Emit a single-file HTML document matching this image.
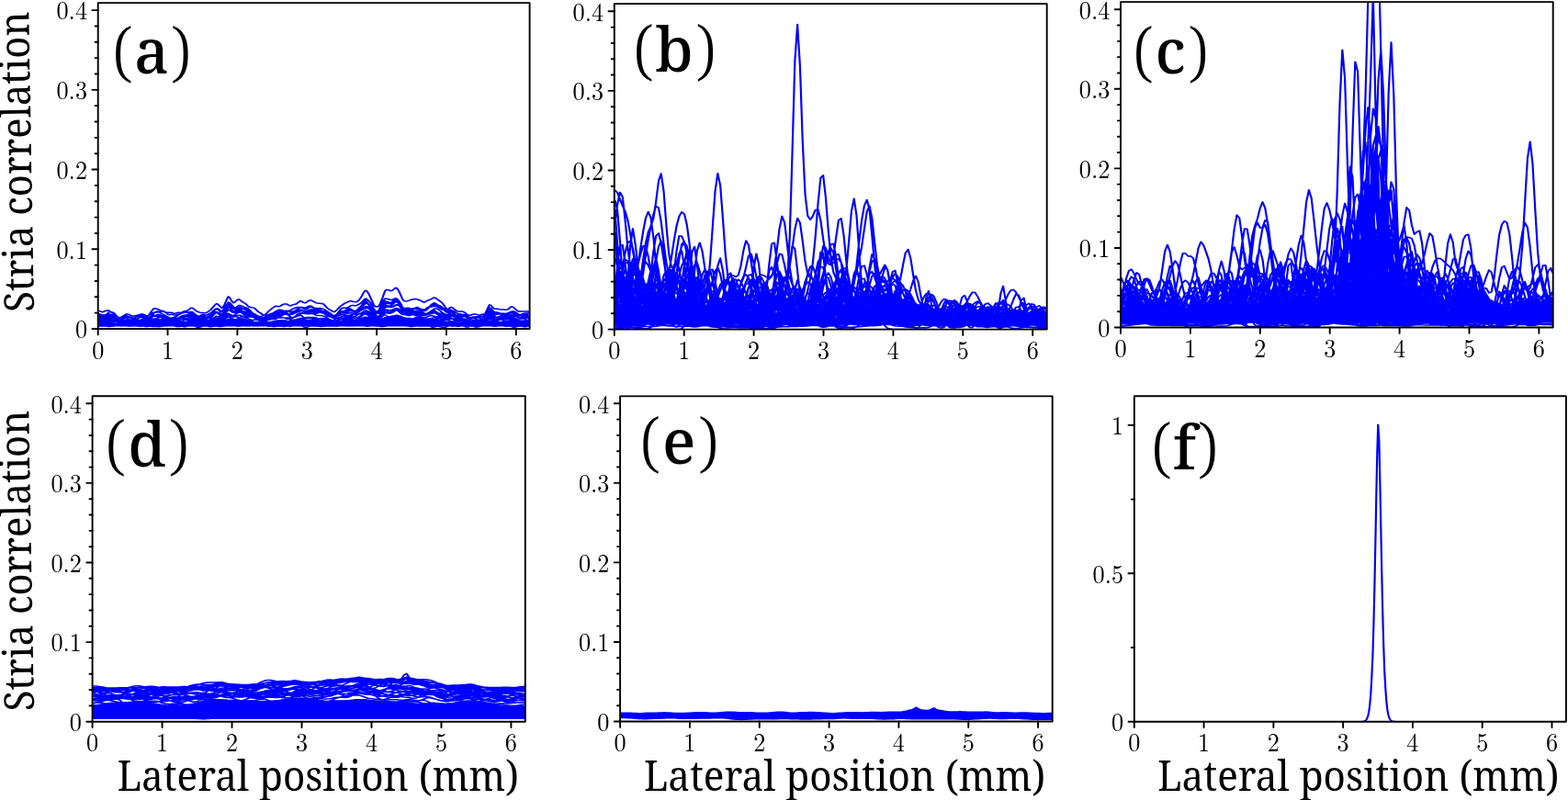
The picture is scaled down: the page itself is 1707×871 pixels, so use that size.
<!DOCTYPE html>
<html><head><meta charset="utf-8"><title>Stria correlation vs lateral position</title>
<style>html,body{margin:0;padding:0;background:#fff;}svg{display:block;}</style></head>
<body><svg width="1707" height="871" viewBox="0 0 1707 871">
<rect width="1707" height="871" fill="#fff"/>
<defs><clipPath id="clipa"><rect x="106.70" y="3.10" width="469.90" height="354.90"/></clipPath><clipPath id="clipb"><rect x="668.80" y="4.10" width="470.90" height="354.50"/></clipPath><clipPath id="clipc"><rect x="1220.00" y="2.10" width="470.70" height="354.40"/></clipPath><clipPath id="clipd"><rect x="100.60" y="431.20" width="471.20" height="354.50"/></clipPath><clipPath id="clipe"><rect x="675.10" y="431.40" width="470.60" height="354.10"/></clipPath><clipPath id="clipf"><rect x="1234.80" y="431.20" width="470.10" height="354.50"/></clipPath></defs>
<g clip-path="url(#clipa)">
<path fill="#00f" d="M107.2 350.5l1.4.2 1.4.2 1.4.2 1.4-.1 1.4-.1 1.4-.2 1.4-.1 1.4-.1 1.4 0 1.4.3 1.4.2 1.4.3 1.4.3 1.4.4 1.4.3 1.4 0 1.4-.2 1.4-.2 1.4-.2 1.4-.2 1.4-.2 1.4 0 1.4.1 1.4.1 1.4.2 1.4.1 1.4.1 1.4.1 1.4 0 1.4 0 1.4-.1 1.4-.1 1.4-.2 1.4-.1 1.4.1 1.4.2 1.4.2 1.4.1 1.4-.2 1.4-.4 1.4-.4 1.4-.4 1.4-.2 1.4-.1 1.4 0 1.4.1 1.4 0 1.4 0 1.4.1 1.4.1 1.4.2 1.4.3 1.4.2 1.4.3 1.4.1 1.4 0 1.4-.2 1.4-.1 1.4-.1 1.4-.1 1.4-.1 1.4-.2 1.4-.1 1.4-.1 1.4-.2 1.4-.1 1.4-.1 1.4-.1 1.4-.1 1.4-.1 1.4-.1 1.4-.1 1.4 0 1.4.2 1.4.2 1.4.3 1.4.2 1.4.1 1.4.1 1.4.1 1.4.1 1.4.1 1.4 0 1.4-.1 1.4-.2 1.4-.2 1.4-.2 1.4-.5 1.4-.4 1.4-.5 1.4-.4 1.4-.2 1.4.3 1.4.5 1.4.4 1.4.2 1.4-.5 1.4-.8 1.4-.8 1.4-.8 1.4-.6 1.4.3 1.4.4 1.4.5 1.4.4 1.4 0 1.4-.2 1.4-.3 1.4-.2 1.4.1 1.4.3 1.4.2 1.4.2 1.4.3 1.4.2 1.4.2 1.4.3 1.4.2 1.4.3 1.4.2 1.4.2 1.4.2 1.4.2 1.4.2 1.4.2 1.4.2 1.4.2 1.4.1 1.4-.1 1.4-.2 1.4-.3 1.4-.2 1.4-.3 1.4-.2 1.4-.2 1.4-.2 1.4-.1 1.4-.1 1.4-.1 1.4-.1 1.4-.1 1.4-.1 1.4-.1 1.4-.1 1.4-.1 1.4.1 1.4.1 1.4.2 1.4.1 1.4-.1 1.4-.1 1.4-.2 1.4-.2 1.4-.2 1.4-.2 1.4-.2 1.4-.1 1.4 0 1.4.1 1.4.1 1.4.1 1.4-.1 1.4-.1 1.4-.2 1.4-.1 1.4.1 1.4.2 1.4.2 1.4.1 1.4 0 1.4 0 1.4 0 1.4 0 1.4.2 1.4.1 1.4.1 1.4.3 1.4.3 1.4.3 1.4.3 1.4.3 1.4.3 1.4.2 1.4-.1 1.4-.4 1.4-.5 1.4-.4 1.4-.4 1.4-.2 1.4-.2 1.4-.1 1.4-.1 1.4-.1 1.4-.1 1.4-.2 1.4 0 1.4 0 1.4.1 1.4.1 1.4 0 1.4-.1 1.4-.3 1.4-.4 1.4-.5 1.4-.5 1.4-.6 1.4-.5 1.4-.2 1.4.2 1.4.5 1.4.7 1.4.8 1.4.9 1.4.9 1.4.5 1.4.1 1.4-.1 1.4-.2 1.4-.8 1.4-1 1.4-1 1.4-.9 1.4-.7 1.4 0 1.4.1 1.4.1 1.4.1 1.4-.2 1.4-.3 1.4-.4 1.4-.2 1.4.1 1.4.3 1.4.5 1.4.8 1.4.8 1.4.7 1.4.1 1.4 0 1.4 0 1.4 0 1.4 0 1.4 0 1.4 0 1.4-.1 1.4 0 1.4 0 1.4.1 1.4.2 1.4.2 1.4.2 1.4.2 1.4.1 1.4-.1 1.4-.2 1.4-.2 1.4-.2 1.4-.3 1.4-.2 1.4-.2 1.4-.1 1.4.2 1.4.2 1.4.2 1.4.2 1.4.2 1.4.4 1.4.4 1.4.4 1.4.4 1.4.3 1.4-.1 1.4-.2 1.4-.2 1.4.1 1.4.2 1.4.4 1.4.2 1.4.2 1.4.1 1.4.1 1.4 0 1.4.1 1.4.1 1.4.2 1.4.2 1.4.2 1.4.2 1.4.1 1.4 0 1.4-.1 1.4-.1 1.4 0 1.4-.1 1.4 0 1.4 0 1.4 0 1.4 0 1.4 0 1.4-.1 1.4-.5 1.4-.8 1.4-.8 1.4-.6 1.4.2 1.4.5 1.4.5 1.4.4 1.4.1 1.4 0 1.4 0 1.4 0 1.4 0 1.4 0 1.4 0 1.4 0 1.4 0 1.4 0 1.4-.2 1.4-.3 1.4-.2 1.4 0 1.4.2 1.4.3 1.4.2 1.4.3 1.4 0 1.4-.1 1.4-.2 1.4-.1 1.4 0 1.4.2 1.4.2 1.4.2 1.4.2 0 4.6-1.4 0-1.4 0-1.4 0-1.4 0-1.4 0-1.4 0-1.4 0-1.4 0-1.4 0-1.4 0-1.4 0-1.4 0-1.4 0-1.4 0-1.4 0-1.4 0-1.4 0-1.4 0-1.4 0-1.4 0-1.4 0-1.4 0-1.4 0-1.4 0-1.4 0-1.4 0-1.4 0-1.4 0-1.4 0-1.4 0-1.4 0-1.4 0-1.4 0-1.4 0-1.4 0-1.4 0-1.4 0-1.4 0-1.4 0-1.4 0-1.4 0-1.4 0-1.4 0-1.4 0-1.4 0-1.4 0-1.4 0-1.4 0-1.4 0-1.4 0-1.4 0-1.4 0-1.4 0-1.4 0-1.4 0-1.4 0-1.4 0-1.4 0-1.4 0-1.4 0-1.4 0-1.4 0-1.4 0-1.4 0-1.4 0-1.4 0-1.4 0-1.4 0-1.4 0-1.4 0-1.4 0-1.4 0-1.4 0-1.4 0-1.4 0-1.4 0-1.4 0-1.4 0-1.4 0-1.4 0-1.4 0-1.4 0-1.4 0-1.4 0-1.4 0-1.4 0-1.4 0-1.4 0-1.4 0-1.4 0-1.4 0-1.4 0-1.4 0-1.4 0-1.4 0-1.4 0-1.4 0-1.4 0-1.4 0-1.4 0-1.4 0-1.4 0-1.4 0-1.4 0-1.4 0-1.4 0-1.4 0-1.4 0-1.4 0-1.4 0-1.4 0-1.4 0-1.4 0-1.4 0-1.4 0-1.4 0-1.4 0-1.4 0-1.4 0-1.4 0-1.4 0-1.4 0-1.4 0-1.4 0-1.4 0-1.4 0-1.4 0-1.4 0-1.4 0-1.4 0-1.4 0-1.4 0-1.4 0-1.4 0-1.4 0-1.4 0-1.4 0-1.4 0-1.4 0-1.4 0-1.4 0-1.4 0-1.4 0-1.4 0-1.4 0-1.4 0-1.4 0-1.4 0-1.4 0-1.4 0-1.4 0-1.4 0-1.4 0-1.4 0-1.4 0-1.4 0-1.4 0-1.4 0-1.4 0-1.4 0-1.4 0-1.4 0-1.4 0-1.4 0-1.4 0-1.4 0-1.4 0-1.4 0-1.4 0-1.4 0-1.4 0-1.4 0-1.4 0-1.4 0-1.4 0-1.4 0-1.4 0-1.4 0-1.4 0-1.4 0-1.4 0-1.4 0-1.4 0-1.4 0-1.4 0-1.4 0-1.4 0-1.4 0-1.4 0-1.4 0-1.4 0-1.4 0-1.4 0-1.4 0-1.4 0-1.4 0-1.4 0-1.4 0-1.4 0-1.4 0-1.4 0-1.4 0-1.4 0-1.4 0-1.4 0-1.4 0-1.4 0-1.4 0-1.4 0-1.4 0-1.4 0-1.4 0-1.4 0-1.4 0-1.4 0-1.4 0-1.4 0-1.4 0-1.4 0-1.4 0-1.4 0-1.4 0-1.4 0-1.4 0-1.4 0-1.4 0-1.4 0-1.4 0-1.4 0-1.4 0-1.4 0-1.4 0-1.4 0-1.4 0-1.4 0-1.4 0-1.4 0-1.4 0-1.4 0-1.4 0-1.4 0-1.4 0-1.4 0-1.4 0-1.4 0-1.4 0-1.4 0-1.4 0-1.4 0-1.4 0-1.4 0-1.4 0-1.4 0-1.4 0-1.4 0-1.4 0-1.4 0-1.4 0-1.4 0-1.4 0-1.4 0-1.4 0-1.4 0-1.4 0-1.4 0-1.4 0-1.4 0-1.4 0-1.4 0-1.4 0-1.4 0-1.4 0-1.4 0-1.4 0-1.4 0-1.4 0-1.4 0-1.4 0-1.4 0-1.4 0-1.4 0-1.4 0-1.4 0-1.4 0-1.4 0-1.4 0-1.4 0-1.4 0-1.4 0-1.4 0-1.4 0-1.4 0-1.4 0-1.4 0-1.4 0-1.4 0-1.4 0-1.4 0-1.4 0-1.4 0-1.4 0-1.4 0-1.4 0-1.4 0-1.4 0-1.4 0-1.4 0-1.4 0-1.4 0-1.4 0-1.4 0-1.4 0-1.4 0-1.4 0-1.4 0-1.4 0-1.4 0-1.4 0-1.4 0-1.4 0-1.4 0-1.4 0-1.4 0-1.4 0-1.4 0-1.4 0-1.4 0-1.4 0-1.4 0-1.4 0-1.4 0-1.4 0-1.4 0-1.4 0-1.4 0z"/>
<path transform="scale(1.4,1)" fill="none" stroke="#00f" stroke-width="1.55" stroke-linejoin="round" d="M76.6 338.1l1 .6 1 .6 1 .4 1-.4 1-.6 1-.5 1-.3 1 .2 1 .9 1 .8 1 .5 1 .5 1 1.3 1 1.7 1 1.8 1 .6 1-.4 1-.8 1-.8 1-.8 1-1 1-.5 1 .2 1 .6 1 .7 1 .6 1 .1 1-.2 1-.3 1-.1 1-.6 1-.5 1-.3 1-.1 1 .3 1 .6 1 .8 1 .5 1-1 1-1.9 1-2 1-1.9 1-1.4 1-.2 1 .4 1 .6 1 .5 1 .6 1 .3 1 .3 1 .6 1 .8 1 1.2 1 1.1 1 .5 1-.3 1-.1 1 .3 1 .4 1-.1 1-.3 1-.5 1-.5 1-.7 1-.9 1-.8 1-.5 1-.1 1-.4 1-.8 1-1.1 1-1 1-.1 1 1 1 1.3 1 1.1 1 .7 1 .5 1 .4 1 .3 1 0 1 .2 1 .1 1-.4 1-.9 1-.9 1-1.1 1-1.5 1-1.5 1-1.6 1-1.6 1-.7 1 .9 1 1.2 1 1.5 1 1.2 1-1.4 1-2.5 1-3 1-3.4 1-2.2 1 1.2 1 2.4 1 2.1 1 1.1 1-.7 1-1.4 1-1.2 1-.6 1 .8 1 1.1 1 1.1 1 .7 1 .8 1 1.2 1 1.4 1 1.1 1 .6 1 .2 1 .1 1 .5 1 1 1 1.4 1 1.4 1 .9 1 .8 1 1 1 1 1-.1 1-.8 1-1.3 1-1.4 1-1.4 1-1.2 1-1 1-.9 1-1 1-.5 1 .1 1 .3 1-.3 1-.8 1-.8 1-.5 1-.4 1 0 1 .6 1 .8 1 .6 1-.3 1-.7 1-.5 1-.2 1-.5 1-1.1 1-1.2 1-.7 1 .4 1 1 1 .6 1 0 1-.9 1-1 1-.7 1-.2 1 .4 1 .8 1 .7 1 .8 1 .4 1 .3 1 0 1 .1 1 .1 1 .7 1 1.2 1 1.6 1 1.5 1 1.1 1 .8 1 .7 1 .9 1 .7 1-.6 1-1.3 1-1.4 1-1.4 1-1.3 1-1.1 1-1 1-1 1-.7 1-.6 1-.7 1-.7 1-.3 1 .4 1 .4 1 .2 1 .1 1-.3 1-1.1 1-1.4 1-1.9 1-2.4 1-2.6 1-2.2 1-.6 1 1.4 1 2 1 2.8 1 3.2 1 3.2 1 2.8 1 2 1 .3 1 .1 1-.7 1-2.8 1-3.3 1-3.5 1-3.9 1-3.4 1-1 1 0 1 .6 1 .7 1-.2 1-.9 1-1.2 1-1 1 .3 1 2 1 2.5 1 3.1 1 3.2 1 2.5 1 .8 1 .1 1-.1 1-.4 1-.5 1-.6 1-.4 1-.2 1-.1 1 0 1 .4 1 .5 1 .5 1 .7 1 .8 1 .7 1-.4 1-1 1-.8 1-.5 1-.4 1-.6 1-.9 1-.6 1 .4 1 .8 1 1.2 1 1 1 .9 1 1.2 1 1.7 1 2 1 1.9 1 1.5 1-.2 1-1 1-.9 1 .2 1 1 1 1.3 1 1.1 1 .6 1 .4 1 .1 1-.1 1 0 1 .5 1 1 1 1.2 1 .9 1 .5 1 .1 1-.5 1-.6 1-.3 1 .1 1 .4 1 .5 1 .1 1-.3 1-.4 1-.1 1-.2 1-1.4 1-2.8 1-3.3 1-2.6 1 .5 1 1.6 1 1.5 1 .8 1-.1 1 0 1 .3 1 .4 1 0 1 0 1 .1 1 .2 1 .1 1-.2 1-1 1-1.2 1-1 1 .1 1 1.1 1 1.3 1 1.2 1 1.1 1 .4 1 0 1-.1 1 0 1 0 1 0 1-.1 1 .2 1 .5M76.6 341.8l1 .5 1 .8 1 .6 1-.1 1-.3 1-.2 1-.2 1-.1 1 .4 1 .6 1 .5 1 .7 1 1.3 1 1.5 1 1.3 1 .4 1-.5 1-1 1-1 1-.5 1 .1 1 .6 1 .6 1 .3 1 0 1-.2 1 0 1 .1 1-.1 1-.7 1-1.2 1-1.1 1-.7 1-.2 1 .4 1 .7 1 .6 1 .3 1-.2 1-.6 1-1.1 1-1.5 1-1.7 1-.9 1-.7 1-.2 1 .5 1 .8 1 .9 1 .8 1 .7 1 .7 1 .8 1 .8 1 .8 1 .3 1 .1 1 .1 1-.1 1 .1 1 .2 1 .1 1 0 1-.3 1-.6 1-.8 1-.9 1-.8 1-.8 1-.3 1 0 1 .2 1 .4 1 .8 1 .9 1 .8 1 .4 1-.3 1-.6 1-.4 1 .1 1 .5 1 .5 1-.2 1-.7 1-1.1 1-1.5 1-1.9 1-1.6 1-1.1 1-.7 1-.3 1 .8 1 1.1 1 1.1 1 .3 1-1.8 1-2.2 1-2.3 1-2.4 1-1.9 1 .4 1 1.4 1 1.7 1 1.8 1 .8 1-.4 1-1.1 1-1.1 1-.1 1 .5 1 .6 1 .6 1 .5 1 .5 1 .7 1 1 1 1.3 1 1.6 1 1.7 1 1.5 1 1.2 1 1 1 .7 1 .4 1 .3 1 .3 1 .1 1-.4 1-.5 1-.3 1-.1 1-.1 1-.2 1-.7 1-.9 1-1 1-1.1 1-.7 1-.4 1 0 1-.3 1-.4 1-.7 1-.5 1-.2 1 0 1-.2 1-.4 1-.8 1-.7 1-.6 1-.5 1-.5 1-.3 1 0 1-.1 1 .1 1 .3 1 .2 1-.1 1-.6 1-.8 1-.4 1 0 1 .7 1 1.1 1 .6 1 .1 1 0 1 .4 1 .8 1 1.1 1 .8 1 .3 1 .2 1 .6 1 1 1 1.1 1 1.3 1 1 1 .8 1 .6 1-.3 1-.7 1-.9 1-1.1 1-1.2 1-.8 1-.2 1-.1 1-.3 1-.7 1-.8 1-.3 1 .2 1 .5 1 .1 1-.4 1-.4 1-.6 1-1 1-1 1-1.4 1-2 1-2.3 1-2.2 1-1.2 1 .3 1 .7 1 1.3 1 2 1 2.5 1 2.7 1 2.3 1 .7 1-.1 1-1.1 1-2.9 1-3.2 1-2.8 1-2.4 1-1.4 1 .1 1 .3 1 .4 1 .6 1 0 1-.5 1-.7 1-.6 1 .4 1 1.5 1 2 1 2.6 1 2.8 1 2.2 1 .5 1 0 1 0 1 0 1-.1 1-.1 1-.2 1-.4 1-.3 1-.2 1 .2 1 .3 1 .2 1 .5 1 .9 1 .9 1 .1 1-.9 1-1.3 1-1.6 1-1.7 1-1.5 1-1.1 1-.6 1 .5 1 1 1 1.1 1 1.3 1 .9 1 .7 1 .2 1 .4 1 .8 1 .9 1 .1 1-.3 1 0 1 .6 1 .9 1 .8 1 .9 1 .6 1 .4 1 .2 1 .3 1 .3 1 .1 1 .2 1 .6 1 1 1 1.3 1 1.2 1 .2 1-.3 1 0 1 .4 1 .6 1 .4 1 .2 1 0 1-.1 1-.2 1-.6 1-1.6 1-2.2 1-2.3 1-1.7 1 .5 1 1.6 1 2.1 1 1.8 1 .4 1-.4 1-.6 1-.7 1-.6 1-.1 1 0 1 .2 1 .2 1 .2 1-.3 1-.5 1-.6 1 0 1 .3 1 .1 1 0 1 .2 1-.1 1-.5 1-.7 1-.6 1-.3 1 .3 1 .7 1 1.2 1 1.1M76.6 342l1 .5 1 .8 1 .6 1-.1 1-.6 1-.8 1-1.2 1-1.2 1-.5 1 .3 1 .8 1 1.4 1 1.8 1 1.6 1 1.1 1 0 1-.4 1-.4 1-.2 1-.2 1-.6 1-.4 1 .2 1 .7 1 .7 1 .6 1 .9 1 1 1 .9 1 .4 1 .1 1-.1 1-.2 1-.4 1-.2 1 .2 1 .4 1 .2 1-.7 1-1.3 1-1.5 1-1.4 1-1 1-.2 1 0 1-.1 1 0 1 0 1 .1 1 .4 1 .6 1 .7 1 .7 1 .7 1 .4 1-.3 1-.6 1-.5 1-.4 1-.5 1-.8 1-1 1-.9 1-.5 1-.5 1-.5 1-.3 1 0 1-.1 1-.2 1-.4 1-.2 1 .3 1 1.1 1 1.4 1 1.2 1 .7 1 0 1-.5 1-.6 1-.5 1 .1 1 .4 1 0 1-.6 1-.7 1-.7 1-.8 1-.8 1-1.3 1-1.5 1-.9 1 .5 1 1 1 1.1 1 .6 1-1.5 1-2.1 1-1.9 1-1.6 1-.9 1 1.1 1 1.3 1 1.4 1 1.4 1 .5 1-.5 1-1 1-.9 1 .2 1 .7 1 .5 1 .4 1 .4 1 .6 1 .8 1 1.1 1 1.2 1 1 1 .7 1 .8 1 .7 1 .8 1 1 1 1 1 .7 1 .5 1 .4 1-.5 1-1.1 1-1.5 1-1.4 1-1.1 1-.6 1-.4 1-.1 1-.3 1-.5 1-.6 1-.2 1 .1 1 .2 1 .1 1 0 1 .2 1 .6 1 .8 1 .7 1 .5 1-.2 1-.4 1-.6 1-.5 1-.6 1-.6 1-.7 1-.7 1-.2 1 .2 1 .5 1 .5 1 .1 1-.2 1-.4 1-.5 1-.5 1-.2 1 .1 1 .4 1 .1 1 .1 1-.1 1 .1 1 .2 1 .3 1 .4 1 .5 1 .6 1 .8 1 .9 1 .6 1 .5 1 .4 1-.2 1-.7 1-1 1-1.1 1-1 1-.5 1-.2 1-.4 1-.6 1-.9 1-.7 1-.3 1 .4 1 1.1 1 .9 1 .3 1 0 1-.6 1-1.2 1-1.5 1-1.6 1-1.9 1-1.8 1-1.4 1-.3 1 1.3 1 1.8 1 2.4 1 2.8 1 2.7 1 2 1 .8 1-.5 1-.3 1-.3 1-1.5 1-2 1-2.2 1-2.6 1-2.2 1-.4 1 .2 1 .4 1 .2 1-.5 1-.9 1-1 1-.9 1 .2 1 1.4 1 2 1 2.6 1 2.6 1 1.8 1-.1 1-.5 1-.3 1 0 1 .1 1-.2 1-.6 1-.4 1 .1 1 .3 1 .4 1 .2 1 .2 1 .4 1 .3 1-.2 1-1 1-1.3 1-.9 1-.5 1-.6 1-.8 1-.9 1-.4 1 .2 1 .3 1 .3 1 .3 1 .5 1 1.1 1 1.3 1 1.3 1 1.3 1 1.1 1 .1 1-.2 1 .2 1 .8 1 1.4 1 1.2 1 .9 1 .3 1 0 1 .1 1-.1 1 0 1 .3 1 .5 1 .6 1 .5 1 .4 1 .2 1-.4 1-.3 1 0 1 .1 1 .1 1-.1 1-.3 1-.5 1-.4 1-.5 1-.7 1-1.9 1-2.6 1-2.4 1-1.5 1 .8 1 1.5 1 1.4 1 1.1 1 .3 1 0 1 .3 1 .5 1 .6 1 .4 1-.1 1-.3 1-.2 1 .1 1 .1 1-.2 1-.4 1 0 1 .7 1 .9 1 .7 1 .4 1-.2 1-.4 1-.4 1-.2 1 .1 1 .7 1 1.1 1 1.1 1 .7M76.6 344.4l1 .4 1 .4 1 .3 1-.3 1-.3 1-.3 1-.3 1 0 1 .4 1 .6 1 .3 1 .2 1 .6 1 1 1 1 1 .3 1-.5 1-.9 1-1.2 1-1.3 1-1 1 0 1 .7 1 .8 1 .3 1 .2 1 .6 1 .9 1 .7 1-.3 1-1.2 1-1.1 1-.2 1 .3 1 .7 1 .6 1 .3 1-.1 1-.8 1-1.2 1-1 1-.6 1-.2 1 0 1-.3 1-.4 1 0 1 .5 1 .7 1 .8 1 .8 1 .7 1 .6 1 .9 1 .8 1 .1 1-.1 1 0 1 .1 1-.1 1-.5 1-.5 1-.2 1-.2 1-.4 1-.6 1-.7 1-.6 1-.4 1 0 1 0 1-.1 1-.2 1 .4 1 .7 1 .9 1 .7 1 .4 1 .3 1 .4 1 .3 1 .1 1-.2 1-.6 1-.7 1-.7 1-.7 1-1.1 1-1.1 1-1.3 1-1.2 1-.4 1 1.1 1 1.6 1 1.7 1 1.1 1-1.1 1-2.3 1-2.7 1-2.8 1-2.1 1 .2 1 1.3 1 1.3 1 1.1 1-.1 1-.5 1-.2 1 0 1 .5 1 .4 1 .1 1 .3 1 .4 1 .6 1 .7 1 1 1 1.1 1 .9 1 .4 1-.2 1-.4 1 0 1 .6 1 .9 1 .8 1 .6 1 0 1-.7 1-.9 1-.6 1-.6 1-.8 1-.6 1-.3 1-.2 1-.2 1-.3 1-.5 1-.7 1-1 1-.6 1-.1 1 .2 1 0 1-.2 1 .1 1 .7 1 .9 1 .1 1-.6 1-.7 1-.8 1-.8 1-.8 1-1 1-.7 1 .2 1 .8 1 .8 1 .3 1-.5 1-.9 1-.8 1-.3 1 .3 1 .6 1 .6 1 .3 1 0 1-.3 1-.2 1 .1 1 .4 1 .6 1 .7 1 .9 1 .9 1 .8 1 .8 1 1.1 1 1.1 1 .9 1-.3 1-1.1 1-1.6 1-1.7 1-1.9 1-1.3 1-.7 1-.1 1 .1 1-.1 1-.5 1-.8 1-.9 1-.4 1-.1 1 .2 1 .1 1-.4 1-.8 1-.7 1-.8 1-1.3 1-1.7 1-1.6 1-.4 1 1.1 1 1.4 1 1.6 1 1.8 1 2.3 1 2.8 1 2.2 1 .8 1 .4 1 .1 1-1.5 1-2.1 1-2.4 1-2.6 1-2.1 1-.5 1 .2 1 .6 1 .4 1-.5 1-1.1 1-1.1 1-.6 1 .3 1 .9 1 1.1 1 2 1 2.7 1 2.2 1 .4 1-.4 1-.3 1 .1 1 .6 1 .8 1 .3 1-.5 1-.9 1-.8 1-.2 1 .6 1 1 1 .8 1 .5 1 .1 1-.6 1-1.1 1-1.1 1-.7 1-.4 1-.1 1-.2 1-.3 1 .1 1 .5 1 .8 1 .8 1 .8 1 .7 1 .5 1 .4 1 .5 1 .6 1-.1 1-.4 1-.4 1 .2 1 .5 1 .8 1 .9 1 1 1 1.4 1 1.1 1 .8 1 .3 1-.1 1-.3 1-.1 1 .4 1 .6 1 .3 1-.3 1-.3 1 0 1 .1 1 0 1-.2 1-.4 1-.2 1 .2 1 .4 1-.1 1-1.4 1-2.5 1-2.5 1-1.7 1 .7 1 1.8 1 1.9 1 1.3 1 .1 1-.6 1-.5 1 0 1 .5 1 .7 1 .3 1 .2 1 .3 1 .3 1-.1 1-.5 1-.3 1 .2 1 .5 1 .3 1 .5 1 .6 1 .5 1 .3 1 .1 1 .1 1 .6 1 .9 1 .8 1 .7 1 .7M76.6 347.9l1-.2 1-.1 1-.6 1-1.1 1-1 1-.4 1 0 1 .1 1 0 1-.1 1 0 1 .5 1 .7 1 .5 1 .3 1-.3 1-.4 1-.2 1 0 1 0 1-.3 1-.1 1-.1 1 0 1 .3 1 .4 1 .3 1-.3 1-.5 1-.6 1-.9 1-1 1-.3 1 .4 1 .9 1 .8 1 .3 1-.4 1-1.1 1-1 1-.8 1-.7 1-.7 1-.2 1 .1 1-.2 1-.4 1-.5 1-.3 1 .2 1 .7 1 .5 1 .2 1 0 1 0 1-.1 1 .2 1 .5 1 .3 1-.2 1-.4 1-.4 1 0 1 .2 1 .1 1-.3 1-.5 1-.4 1 .3 1 .6 1 .4 1 0 1 0 1 .5 1 .9 1 1.1 1 1.1 1 .8 1 .3 1 .1 1 .2 1 .4 1 .1 1-.4 1-.5 1-.5 1-.3 1-.5 1-.7 1-1.3 1-1.4 1-.5 1 1 1 1.3 1 .9 1 .4 1-1.1 1-1.4 1-1.7 1-2.3 1-2 1 0 1 1.1 1 1.4 1 1.3 1 .1 1-1.1 1-1.2 1-.4 1 .7 1 1 1 .7 1 .4 1 .3 1 .2 1 .2 1 .4 1 .7 1 .8 1 .8 1 .9 1 .7 1 .5 1 .1 1-.1 1-.1 1-.4 1-.6 1-.7 1-.3 1 .3 1 .1 1-.2 1-.5 1-.7 1-.7 1-.9 1-1 1-.8 1-.6 1-.2 1 .2 1 .5 1 .5 1 .4 1 .4 1 .2 1-.1 1 0 1-.2 1-.2 1-.2 1-.5 1-.3 1 .1 1 .4 1 .1 1-.1 1-.1 1 .1 1 .1 1 0 1-.2 1-.3 1-.5 1-.2 1 .3 1 .5 1 .4 1 0 1 0 1 .2 1 .3 1 .3 1 .2 1 .2 1 .4 1 .7 1 .7 1 .5 1 .7 1 1 1 1 1 0 1-1 1-1.2 1-1.4 1-1.1 1-.7 1-.4 1-.4 1-.5 1-.6 1-.5 1-.5 1 0 1 .7 1 .9 1 .6 1 .1 1-.5 1-.8 1-.8 1-.9 1-1.5 1-1.9 1-1.8 1-.8 1 .7 1 1.4 1 1.8 1 2.1 1 2 1 1.6 1 .9 1 0 1-.3 1-.7 1-2.4 1-2.8 1-2.7 1-2.3 1-1.2 1 .5 1 .8 1 .6 1 .4 1-.3 1-.9 1-1.1 1-.9 1 0 1 1.1 1 1.6 1 2.2 1 2.7 1 2.5 1 1.1 1 0 1-.7 1-.7 1-.4 1-.2 1-.2 1-.2 1 .1 1 .1 1 .3 1 .2 1 .2 1 .1 1 .1 1 .2 1-.2 1-.6 1-.9 1-.7 1-.4 1-.2 1-.3 1-.4 1-.1 1 .2 1 .7 1 1 1 .8 1 .6 1 .6 1 .8 1 1.2 1 .9 1-.1 1-.4 1 0 1 .6 1 1 1 .9 1 1 1 .6 1 .3 1 0 1-.1 1-.1 1 .1 1 .3 1 .4 1 .3 1 .4 1 .5 1 .3 1 .3 1 .2 1 .5 1 .9 1 .8 1 .3 1-.6 1-1.3 1-1.4 1-1.2 1-1.8 1-2 1-1.7 1-.8 1 .9 1 .9 1 .7 1 .5 1 0 1-.2 1-.1 1 .1 1 .2 1 .1 1 .2 1 .4 1 .5 1 .4 1-.6 1-1.4 1-1.4 1-.2 1 1.1 1 1.4 1 1.1 1 .5 1-.2 1-.1 1 .1 1 .2 1 .1 1 .4 1 .6 1 1 1 1M76.6 341.6l1 .3 1 .6 1 .4 1 0 1-.1 1-.2 1-.2 1-.3 1 0 1 .4 1 .7 1 1 1 1 1 .6 1 .1 1-.3 1-.1 1 .6 1 .6 1 .1 1-.3 1-.3 1-.1 1-.2 1-.3 1 .1 1 .3 1 .5 1 .7 1 .9 1 .4 1 0 1-.3 1-.6 1-.4 1 .1 1 .4 1 .4 1-.7 1-1.1 1-1 1-.7 1-.3 1 .1 1 .1 1 0 1 0 1 .5 1 .8 1 1 1 1 1 .8 1 .5 1 .3 1 .4 1 .3 1 .2 1 .1 1-.2 1-.5 1-.9 1-.8 1-.5 1-.2 1-.1 1-.1 1 .1 1 .3 1 .2 1-.1 1-.4 1-.5 1-.3 1 .1 1 .2 1 .2 1 .4 1 .4 1 .4 1 .2 1-.1 1 0 1 .4 1 .3 1 0 1-.5 1-1.3 1-1.8 1-1.7 1-1.4 1-1.1 1-.5 1 .6 1 .8 1 .9 1 .4 1-1.3 1-2.1 1-2.2 1-2.1 1-1.4 1 .9 1 1.4 1 1.3 1 1.3 1 .4 1-.3 1-.6 1-.2 1 .5 1 .6 1 .4 1 .3 1 .4 1 .6 1 1.1 1 1.2 1 .7 1 .2 1 .1 1 .3 1 .4 1 .3 1 .3 1 .1 1 .4 1 .7 1 1 1 .2 1-.4 1-1.1 1-1.3 1-1 1-.9 1-.7 1-.5 1-.1 1 0 1-.1 1-.6 1-.6 1-.3 1 .2 1 .1 1-.1 1 .1 1 .5 1 .7 1 .3 1-.7 1-.9 1-.8 1-.3 1-.1 1-.4 1-.6 1-.7 1-.1 1 .3 1 .4 1 .2 1-.3 1-.5 1-.4 1-.4 1-.1 1 .1 1 0 1-.3 1-.2 1 .1 1 .4 1 .8 1 .5 1 .4 1 .5 1 .7 1 1.1 1 1.4 1 1.1 1 .6 1 .2 1 0 1-.6 1-.9 1-.9 1-.7 1-.6 1-.4 1-.2 1 0 1 .1 1-.2 1-.7 1-.9 1-.3 1 .3 1 .6 1 .4 1-.3 1-1.1 1-1.8 1-1.5 1-.8 1-.6 1-.9 1-1.2 1-1 1 .1 1 .8 1 1.6 1 2.3 1 2.3 1 1.9 1 1.2 1 .2 1 .2 1-.3 1-2 1-2.5 1-2.1 1-1.6 1-.7 1 .7 1 .7 1 .2 1-.3 1-.9 1-1.1 1-1.1 1-1 1 0 1 1 1 1.6 1 2.1 1 2.1 1 1.6 1 .7 1 .4 1 .4 1 0 1-.3 1-.1 1 .2 1 .3 1 .3 1 0 1 0 1-.1 1-.1 1 .3 1 1 1 1.2 1 .6 1-.3 1-.7 1-.8 1-.9 1-1 1-1 1-1 1-.4 1 .2 1 .6 1 1 1 1.1 1 1.2 1 1 1 .7 1 .5 1 .2 1-.6 1-1.1 1-1 1 0 1 1 1 1.5 1 1.4 1 .5 1-.2 1-.5 1-.1 1 .1 1 .4 1 .6 1 .8 1 1 1 .9 1 .3 1-.4 1-.7 1-.6 1-.6 1-.3 1-.1 1-.1 1-.1 1-.3 1-.2 1-.4 1-1.4 1-2.1 1-2.1 1-1.3 1 .8 1 1.5 1 1.6 1 1.3 1 .4 1-.1 1-.1 1-.3 1-.3 1-.2 1 0 1 .2 1 0 1-.4 1-.7 1-.6 1-.6 1-.3 1 .2 1 .6 1 .9 1 1.1 1 .7 1 .3 1-.2 1-.6 1-.6 1-.3 1-.1 1 .2 1 .6M76.6 343.3l1 .7 1 1.2 1 1.1 1 .4 1-.2 1-.8 1-.9 1-.6 1 .2 1 .8 1 .8 1 .8 1 .8 1 1 1 1 1 .2 1-.5 1-.6 1-.4 1 .2 1 .3 1 .4 1 .4 1-.1 1-.3 1 0 1 .4 1 .3 1 .2 1 0 1-.4 1-.7 1-.9 1-.7 1 .1 1 .9 1 1.1 1 .7 1-.4 1-.8 1-.8 1-.6 1-.4 1 .1 1 .1 1-.6 1-1.1 1-.9 1 0 1 .9 1 1.2 1 .7 1 .1 1-.3 1-.2 1-.3 1-.2 1-.3 1-.2 1 0 1 .1 1-.2 1-.3 1-.4 1-.3 1-.3 1-.4 1-.7 1-.9 1-1 1-.7 1-.3 1 .1 1 .6 1 1 1 .9 1 .9 1 .4 1 .2 1-.1 1-.4 1-.7 1-.6 1-.4 1 .1 1 .1 1-.4 1-1.1 1-1 1-.6 1-.3 1 .1 1 .5 1 .7 1 .9 1 .6 1-1.2 1-2.2 1-2.3 1-2 1-1.4 1 .3 1 .5 1 .8 1 1 1 .7 1 .1 1-.3 1-.4 1 .1 1 .2 1 .2 1 .2 1 .4 1 .8 1 .9 1 .7 1 .5 1 .4 1 .6 1 .7 1 .8 1 .9 1 .9 1 .9 1 .6 1 .3 1-.2 1-.7 1-.7 1-.4 1-.3 1-.3 1-.5 1-.8 1-1.2 1-1.3 1-.8 1 .2 1 .5 1 .2 1-.2 1-.3 1-.3 1-.1 1 .1 1 .1 1 0 1 .1 1 .2 1 .5 1 .4 1 .1 1-.2 1-.4 1-.5 1-.4 1-.2 1 .2 1 .6 1 .8 1 .6 1 .2 1-.3 1-.7 1-.7 1-.1 1 .3 1 .5 1 .1 1-.1 1 0 1 .2 1 .5 1 .7 1 .5 1 .5 1 .6 1 .8 1 .8 1 .7 1 .4 1-.1 1-.9 1-1.2 1-1.2 1-.9 1-.5 1-.1 1 0 1 0 1 .2 1 .2 1 0 1-.4 1-.2 1 .1 1 .2 1 0 1 0 1-.2 1-1 1-1.4 1-1.5 1-1.1 1-.7 1-.8 1-.5 1 .1 1 .6 1 1.3 1 1.9 1 1.7 1 1.8 1 1.5 1 1 1 .8 1-.1 1-1.9 1-2.6 1-2.8 1-2.6 1-1.5 1 .3 1 .7 1 .5 1 0 1-.4 1-.7 1-.7 1-.7 1-.2 1 .4 1 1 1 1.9 1 2.3 1 1.9 1 .5 1 .1 1-.1 1-.3 1-.3 1-.4 1-.3 1-.1 1 .2 1 .3 1 .3 1-.1 1-.2 1 .3 1 .8 1 1 1 .6 1 .1 1-.5 1-.7 1-1 1-.9 1-.7 1 0 1 .9 1 1.2 1 .8 1 .3 1 .2 1 .6 1 1.1 1 1.2 1 1.1 1 .8 1-.2 1-.7 1-.8 1-.2 1 .5 1 .7 1 .8 1 .6 1 .4 1 .1 1 .1 1 .1 1 .3 1 .4 1 .5 1 .4 1 .3 1 .4 1 .2 1 0 1-.1 1-.3 1-.3 1-.2 1-.2 1-.1 1 .1 1 .3 1 0 1-1 1-1.7 1-2 1-1.5 1 0 1 .6 1 .8 1 .7 1 .4 1 .3 1 .3 1 .3 1 .2 1 0 1-.2 1-.2 1 .1 1 .2 1-.3 1-.7 1-.5 1 .2 1 .8 1 .7 1 .5 1 .1 1-.3 1-.1 1 .1 1 0 1-.3 1-.4 1-.3 1 .1 1 .8M76.6 348.7l1 .2 1 .5 1 .5 1 .1 1-.2 1-.4 1-.4 1-.5 1-.2 1 .1 1 .2 1 .2 1 .4 1 .4 1 .3 1-.1 1-.4 1-.2 1 .1 1 .1 1-.3 1-.5 1-.3 1 .2 1 .4 1 .5 1 0 1-.2 1-.1 1 .2 1 0 1-.1 1-.4 1-.3 1 .4 1 .7 1 .5 1 .3 1-.4 1-.6 1-.5 1-.5 1-.6 1-.3 1-.5 1-.8 1-.9 1-.5 1 .3 1 .9 1 .6 1 .5 1 .6 1 .7 1 .3 1-.5 1-.7 1-.4 1-.1 1 .1 1-.2 1-.6 1-1 1-.8 1-.6 1-.4 1-.3 1-.3 1-.3 1-.4 1-.3 1-.2 1 .3 1 .9 1 .9 1 .8 1 .7 1 .7 1 .5 1 .2 1 0 1 0 1-.2 1-.7 1-.9 1-.9 1-.8 1-.7 1-.3 1-.6 1-.9 1-.6 1 .2 1 .6 1 .9 1 .9 1-.2 1-.9 1-1.2 1-1.6 1-1.4 1 .4 1 1.1 1 1 1 .5 1-.5 1-.9 1-.5 1-.1 1 .8 1 1.1 1 1.2 1 1 1 .9 1 .5 1 .4 1 .5 1 .3 1 .1 1 .1 1 .5 1 .8 1 .7 1 .7 1 .5 1 .4 1 .2 1 .1 1-.3 1-.3 1-.1 1 0 1-.3 1-.6 1-.9 1-.9 1-.7 1-.7 1-.6 1-.5 1-.5 1-.4 1-.4 1-.3 1-.2 1 .1 1 .2 1 .2 1 0 1-.6 1-.9 1-1 1-1 1-.6 1-.4 1-.2 1-.1 1 .3 1 .8 1 .9 1 .7 1 .1 1-.4 1-.7 1-.7 1-.1 1 .5 1 .7 1 .5 1 .2 1 .1 1 0 1 .3 1 .4 1 .2 1 .1 1 .1 1 .6 1 .8 1 .9 1 .7 1 .5 1 .3 1-.5 1-.9 1-1 1-.9 1-.8 1-.5 1-.3 1-.1 1-.2 1-.3 1-.5 1-.6 1-.4 1 0 1 .3 1 .8 1 .8 1 .3 1-.4 1-.9 1-.9 1-.6 1-.6 1-.8 1-.5 1 .1 1 .3 1 1.1 1 2 1 2.1 1 1.9 1 1.2 1 .5 1 .3 1-.2 1-1.6 1-2.1 1-2.2 1-2.3 1-1.7 1-.6 1-.1 1 0 1 .2 1 0 1-.3 1-.7 1-.9 1-.4 1 .4 1 .6 1 1.4 1 2 1 2 1 .8 1 .5 1 .4 1 .1 1-.4 1-.6 1-.2 1 .3 1 .4 1 .3 1 .3 1 .5 1 .7 1 .7 1 .5 1 .1 1-.2 1-.3 1-.2 1-.5 1-.9 1-1 1-.8 1-.2 1 .6 1 .8 1 .6 1 .3 1 .3 1 .4 1 .7 1 .7 1 .6 1 .4 1-.2 1-.5 1-.1 1 .3 1 .6 1 .7 1 .9 1 .5 1 .6 1 .7 1 .8 1 .7 1 .4 1 .2 1 .1 1 0 1-.1 1-.1 1-.3 1-.1 1 .2 1 .2 1-.1 1-.3 1-.3 1 .1 1 .3 1 .2 1-.1 1-1 1-1.6 1-1.7 1-1.1 1 .4 1 .7 1 .6 1 .3 1-.1 1-.2 1 0 1 0 1 .5 1 .8 1 .7 1 .3 1-.2 1-.3 1-.5 1-.6 1-.5 1 .1 1 .4 1 .6 1 .5 1 .7 1 .5 1 .3 1 .3 1 .3 1 .2 1 .3 1 .3 1 .3 1 .1M76.6 344.7l1 1 1 1.5 1 1.3 1 .1 1-.6 1-.8 1-.5 1 .2 1 .7 1 .7 1 .3 1 .2 1 .6 1 1.1 1 1.1 1 .5 1 .2 1 .1 1-.2 1-.8 1-.9 1-.3 1 .3 1 .2 1 .2 1 .2 1 .6 1 .6 1 .3 1-.1 1-.6 1-1 1-1.2 1-.6 1 .3 1 1 1 .9 1 0 1-1 1-1.1 1-.7 1-.5 1-.3 1 0 1 .1 1-.1 1 .2 1 .2 1 .1 1 0 1 .2 1 .4 1 .8 1 1.1 1 1 1 .1 1-.5 1-1 1-1.1 1-1.1 1-.8 1-.3 1 .1 1 .3 1-.1 1-.9 1-1.3 1-1.2 1-.7 1 0 1 .3 1 .3 1 .4 1 .5 1 .5 1 .1 1-.2 1-.6 1-.3 1-.2 1 .1 1 .3 1 .4 1 .1 1 .1 1 0 1-.3 1-1 1-1.3 1-1.2 1-1.1 1-.5 1 .8 1 1.4 1 1.5 1 .9 1-.8 1-1.4 1-1.5 1-1.6 1-1.4 1 .1 1 .6 1 .9 1 1 1 .3 1-.2 1-.5 1-.5 1-.2 1 .3 1 .9 1 1 1 .7 1 .2 1-.3 1-.3 1 0 1 .3 1 .5 1 .6 1 .8 1 .9 1 1.1 1 .8 1 .3 1 .1 1 .1 1 0 1 .2 1-.1 1-.6 1-.7 1-.8 1-.8 1-.6 1-.5 1-.2 1 0 1 .2 1 .4 1 .1 1-.3 1-.6 1-.6 1 0 1 .6 1 .9 1 1.1 1 .8 1 .3 1-.3 1-1.1 1-1.3 1-1 1-.7 1-.5 1-.2 1 .1 1 .4 1 .4 1-.2 1-.5 1-.8 1-.7 1 0 1 .6 1 .7 1 .5 1-.1 1-.5 1-.6 1-.1 1 .4 1 .7 1 .9 1 1.2 1 1 1 .4 1 .3 1 .5 1 .8 1 .5 1-.6 1-1 1-.9 1-.6 1-.5 1-.3 1-.2 1 .1 1 .3 1 .4 1 .1 1-.1 1-.1 1 .5 1 .5 1 .2 1-.4 1-.9 1-1 1-.8 1-.3 1-.5 1-.8 1-1.1 1-.6 1 .4 1 .7 1 1.1 1 1.5 1 1.8 1 1.9 1 1.3 1 .2 1-.3 1-.4 1-1.1 1-1.4 1-1.7 1-2.1 1-1.6 1 .1 1 .7 1 .6 1 0 1-.8 1-.9 1-.4 1 0 1 .3 1 .8 1 1.1 1 1.3 1 1.1 1 .4 1-.5 1-.2 1 .5 1 .6 1 .2 1-.4 1-.6 1-.3 1 0 1 0 1 .2 1 .2 1 .5 1 .3 1 0 1-.5 1-.6 1-.4 1-.2 1-.1 1 .2 1 .1 1-.4 1-.7 1-.4 1 .2 1 .6 1 .9 1 .6 1 .3 1 .1 1 .2 1 .8 1 1 1 .4 1-.3 1-.6 1-.4 1 .1 1 .5 1 .6 1 .4 1 .1 1 .2 1 .3 1 .5 1 .4 1 .2 1 .1 1-.2 1-.4 1-.2 1-.3 1-.3 1-.3 1-.2 1-.1 1 .3 1 .5 1 .6 1 .4 1 .4 1 .1 1-.9 1-1.9 1-2.1 1-1.5 1 .3 1 .9 1 .9 1 .9 1 .7 1 .4 1 .1 1-.1 1-.1 1 .1 1 .1 1-.1 1-.3 1-.3 1-.5 1-.3 1-.2 1-.1 1-.1 1 .1 1 .6 1 .9 1 .6 1 .1 1-.3 1-.5 1-.4 1-.1 1 .3 1 .5 1 .4M76.6 346.3l1 .3 1 1.2 1 1.1 1 .1 1-.8 1-1 1-.7 1-.4 1 0 1 .5 1 .8 1 .8 1 .5 1 .3 1 .6 1 .4 1 0 1-.3 1-.4 1-.4 1-.2 1 .2 1 .3 1 .2 1 .1 1 .1 1 .2 1 .5 1 .6 1 .5 1 0 1-.3 1-.3 1-.1 1 .5 1 .9 1 1 1 .5 1-.3 1-.9 1-.9 1-.7 1-.3 1 0 1 .1 1 .1 1 .2 1 .2 1 0 1-.1 1-.2 1-.1 1 .1 1 .3 1 .2 1-.3 1-.6 1-.7 1-.6 1-.1 1 0 1-.2 1-.4 1-.7 1-.4 1-.1 1-.1 1-.3 1-.7 1-.5 1-.3 1-.1 1 .1 1 .5 1 .5 1 .5 1 .2 1 0 1-.1 1 .3 1 .7 1 1 1 .6 1-.1 1-.6 1-.4 1-.1 1-.3 1-.9 1-1.2 1-1.1 1-.5 1 .7 1 1 1 .9 1 .1 1-1.5 1-1.7 1-1.2 1-.9 1-.4 1 .7 1 .9 1 .6 1 0 1-.7 1-1.1 1-.8 1-.7 1-.3 1 .1 1 .4 1 .7 1 .9 1 1.1 1 .8 1 .6 1 .4 1 .1 1-.1 1 .1 1 .6 1 1.2 1 1.4 1 1 1 .4 1 .3 1 .3 1 0 1-.6 1-.9 1-.7 1-.3 1-.1 1-.3 1-.4 1-.5 1-.5 1-.2 1-.1 1 .1 1 .1 1 .2 1 .1 1 .1 1 .5 1 .5 1 .3 1 0 1-.6 1-.8 1-.9 1-.9 1-.8 1-.6 1-.5 1-.6 1-.5 1-.3 1 .1 1 .2 1 .2 1 .2 1 0 1-.2 1-.1 1 .3 1 .7 1 .8 1 .3 1 0 1-.1 1 .1 1 .4 1 .3 1 .5 1 .6 1 1.1 1 1 1 .8 1 .4 1 .3 1 .4 1 0 1-.2 1-.3 1-.6 1-.8 1-.5 1-.5 1-.5 1-.6 1-.5 1-.3 1 0 1 .2 1 .1 1-.2 1 0 1 .5 1 .6 1-.1 1-.9 1-1.4 1-1.4 1-1.1 1-.9 1-.5 1 .5 1 .9 1 1.4 1 1.7 1 1.8 1 1.5 1 .7 1-.4 1-.6 1-.8 1-1.6 1-1.7 1-1.8 1-2 1-1.5 1-.2 1 .2 1 .2 1 0 1-.3 1-.4 1-.7 1-.6 1-.1 1 .4 1 .9 1 1.5 1 1.8 1 1.3 1-.1 1-.5 1-.4 1-.2 1 .1 1 .1 1 .2 1 .6 1 .8 1 .7 1 .4 1 0 1-.1 1 0 1 .4 1 .3 1-.2 1-.7 1-1 1-.9 1-.8 1-.6 1-.3 1 .2 1 .5 1 .7 1 .6 1 .5 1 .3 1 .2 1 .2 1 .2 1 .2 1 0 1-.4 1-.4 1-.2 1 .2 1 .7 1 .8 1 .9 1 .5 1 .4 1 .6 1 .5 1 .6 1 .7 1 .8 1 .8 1 .5 1 .3 1 .1 1-.2 1-.1 1-.1 1 0 1 .2 1 .4 1 .5 1 .6 1 .1 1-.4 1-.8 1-1.4 1-1.7 1-1.5 1-1 1 .5 1 1.1 1 1.2 1 .7 1-.2 1-.7 1-.8 1-.8 1-.8 1-.5 1-.3 1-.2 1 0 1 0 1-.1 1-.1 1-.2 1 .1 1 .3 1 .4 1 .4 1 .3 1 .1 1-.2 1-.1 1-.2 1-.1 1 .2 1 .6 1 .9 1 1M76.6 344.9l1 1 1 .7 1 .4 1-.1 1-.2 1 0 1 0 1 .1 1 .3 1 .5 1 .5 1 .5 1 .6 1 .9 1 .7 1-.1 1-.6 1-.4 1 0 1-.2 1-.5 1 0 1 .6 1 .9 1 .7 1 .3 1 .1 1-.1 1-.3 1-.2 1-.2 1-.1 1-.1 1-.4 1-.5 1-.4 1-.2 1-.3 1-.9 1-.9 1-.1 1 .3 1 .4 1 .5 1 .4 1 .1 1-.3 1-.4 1 0 1 .4 1 .5 1 .3 1 .3 1 .5 1 .8 1 .4 1 0 1-.7 1-1 1-.9 1-.4 1-.3 1-.3 1-.2 1-.1 1 .2 1 .5 1 .3 1-.1 1-.6 1-.6 1-.3 1-.1 1 .4 1 .6 1 .6 1 .4 1 0 1 0 1 0 1 .1 1 .4 1 .6 1 .4 1-.1 1-.6 1-.8 1-1 1-.8 1-.7 1-.7 1-.6 1 .1 1 .5 1 .7 1 .5 1-.7 1-.9 1-.8 1-.8 1-.5 1 .7 1 .9 1 .5 1 .2 1-.5 1-.6 1-.5 1-.3 1 .1 1 .4 1 .6 1 .5 1 .2 1 0 1-.1 1 0 1 0 1 .1 1 .4 1 .5 1 .6 1 .3 1 .2 1 .2 1 .5 1 .7 1 .6 1 0 1-.4 1-.7 1-.7 1-.5 1 .1 1 .5 1 .3 1-.1 1-.5 1-.6 1-.4 1-.1 1-.1 1 0 1 .1 1 .3 1 .3 1 .4 1 .4 1 .5 1 .4 1 .2 1 0 1-.3 1-.4 1-.5 1-.3 1-.3 1-.1 1-.1 1-.1 1-.4 1-.3 1-.1 1 .3 1 .3 1 .3 1 .4 1 .4 1 .2 1 0 1-.1 1 0 1-.1 1-.2 1-.3 1 .1 1 .3 1 .2 1 .2 1 .5 1 .5 1 .3 1-.3 1-.8 1-.8 1-.6 1-.6 1-.5 1-.4 1-.4 1-.3 1-.2 1 0 1-.1 1-.3 1-.6 1-.5 1-.3 1 0 1 .2 1 0 1-.3 1-.4 1-.5 1-.9 1-.7 1-.4 1-.2 1 .1 1 .2 1 .6 1 .9 1 1.2 1 1.2 1 1.2 1 1.1 1 1.1 1 .5 1-1 1-1.6 1-1.5 1-1.4 1-.8 1 .1 1 .3 1 .1 1-.2 1-.4 1-.6 1-1 1-1.3 1-.8 1 .3 1 1.1 1 1.6 1 1.4 1 .7 1-.4 1-.4 1-.1 1 .3 1 .2 1-.1 1-.5 1-.4 1-.1 1 0 1-.2 1-.4 1 0 1 .6 1 .7 1 .3 1-.1 1 0 1 .3 1 .2 1 0 1-.5 1-.7 1-.3 1 .5 1 .9 1 1 1 .7 1 .5 1 .5 1 .6 1 .8 1 .7 1 .2 1-.5 1-.4 1 0 1 .8 1 1.2 1 1.1 1 .6 1 .2 1-.2 1-.1 1 0 1 .1 1-.1 1-.3 1-.1 1 .1 1 .6 1 .8 1 .6 1 .2 1 .1 1 .1 1 .2 1 .4 1 .2 1 .1 1 0 1 .1 1-.2 1-1.2 1-1.9 1-1.9 1-1.3 1 .3 1 1 1 1.2 1 .8 1 0 1-.4 1-.4 1-.5 1-.5 1-.2 1 .1 1 .1 1 .1 1-.1 1-.6 1-.6 1-.2 1 .7 1 .9 1 .6 1 .3 1 .2 1 .3 1 .3 1 .1 1-.3 1-.3 1 0 1 .4 1 .5 1 .4M76.6 348l1 .6 1 .8 1 .6 1 .3 1 .2 1 0 1-.1 1-.3 1-.1 1-.1 1 .1 1 .2 1 .3 1 .3 1 .2 1 .2 1 0 1-.3 1-.7 1-.6 1-.3 1 .1 1 .3 1 .2 1 .3 1 .4 1 .3 1 .3 1 .6 1 .5 1 .3 1 .1 1-.1 1-.5 1-.5 1-.1 1 .4 1 .8 1 .1 1-.8 1-1.3 1-1.4 1-.8 1 .1 1 .4 1 .5 1 .3 1 .1 1-.2 1-.2 1 .1 1 .6 1 .6 1 .7 1 .4 1 .1 1 0 1 .1 1 .2 1 .1 1-.2 1-.3 1-.3 1-.3 1-.3 1-.2 1-.2 1-.2 1-.4 1-.6 1-.5 1-.1 1 .5 1 .6 1 .3 1-.2 1-.5 1-.2 1 .2 1 .3 1 0 1-.1 1 .2 1 .4 1 .5 1 .2 1-.2 1-.9 1-1.2 1-1.1 1-.8 1-.1 1 .9 1 1 1 .6 1-.2 1-1.5 1-1.6 1-1.3 1-1.2 1-.8 1 .5 1 .9 1 .5 1 .2 1 0 1 .1 1 .4 1 .2 1 0 1-.3 1-.2 1 0 1 .5 1 .6 1 .7 1 .7 1 .7 1 .3 1 0 1-.1 1 0 1 0 1 0 1 0 1-.1 1 0 1-.1 1-.5 1-.4 1 .1 1 .5 1 0 1-.7 1-1.2 1-1.3 1-1.1 1-.4 1 .3 1 .7 1 .7 1 .5 1 .5 1 .3 1 .1 1-.1 1 0 1 0 1 0 1-.1 1-.2 1-.3 1-.4 1-.5 1-.6 1-.5 1-.3 1 .5 1 1.2 1 1.2 1 .7 1-.2 1-.5 1-.4 1-.1 1 0 1 0 1 .1 1 .3 1 .5 1 .3 1-.1 1-.1 1 .4 1 .9 1 1.1 1 .7 1 .2 1-.1 1-.2 1-.3 1 0 1 .3 1 .1 1-.5 1-.8 1-1 1-.8 1-.3 1 .1 1 .1 1-.1 1-.1 1-.1 1 .1 1 .1 1 .1 1 .1 1 .1 1 .2 1-.1 1-.4 1-.6 1-.9 1-1.3 1-1.1 1-.9 1-.4 1 .2 1 .5 1 1 1 1.2 1 1.2 1 .7 1 .1 1-.5 1-.4 1-.4 1-.6 1-.9 1-1.5 1-2 1-1.5 1 .4 1 1.3 1 1.1 1 .1 1-1 1-1.2 1-1 1-.6 1 .1 1 .5 1 .8 1 1.1 1 1 1 1 1 .5 1 .4 1 .5 1 .3 1-.1 1-.5 1-.4 1 .2 1 .5 1 .4 1 .3 1 .2 1 .3 1 .6 1 .6 1 .4 1-.1 1-.6 1-.7 1-.7 1-.3 1 0 1 .2 1 .3 1 .4 1 .3 1 .2 1 0 1 0 1 .1 1 .5 1 1 1 1 1 .6 1-.4 1-.7 1-.3 1 .2 1 .4 1 .3 1 .2 1 .4 1 .2 1-.2 1-.4 1-.3 1-.1 1 .3 1 .4 1 .3 1 .1 1 .3 1 .1 1 0 1-.2 1-.1 1 .3 1 .5 1 .4 1 .2 1 .1 1 .1 1-.2 1-1 1-1.5 1-1.5 1-.9 1 .3 1 .6 1 .7 1 .6 1 .4 1 .2 1 0 1-.4 1-.1 1 .7 1 1 1 .7 1-.1 1-.3 1-.5 1-.4 1-.3 1 .2 1 .9 1 1.2 1 .9 1 .5 1-.1 1-.3 1-.4 1-.2 1-.1 1 .2 1 .2 1 .3 1-.1M76.6 349l1 .5 1 .5 1 .3 1-.3 1-.7 1-.9 1-.9 1-.6 1-.1 1 .3 1 .3 1 .2 1 0 1-.1 1 .1 1 .1 1 .3 1 .4 1 .4 1 .2 1 .1 1 .3 1 .6 1 .5 1 .3 1 .1 1-.1 1 0 1 .2 1 .4 1 .3 1 0 1-.1 1-.2 1 0 1 .1 1 .1 1 .1 1-.1 1-.5 1-.9 1-.9 1-.3 1 .5 1 .4 1-.3 1-.5 1-.2 1 .1 1 .2 1 0 1-.1 1-.1 1 0 1 0 1-.1 1 .1 1 .3 1 .4 1 .1 1 0 1 0 1 0 1 0 1-.3 1-.6 1-.6 1-.4 1 0 1 .1 1-.1 1-.2 1 .1 1 .5 1 .6 1 .2 1 .2 1 .4 1 .6 1 .3 1-.2 1-.3 1-.2 1-.3 1-.2 1 0 1 .1 1-.1 1-.5 1-.7 1-.8 1-.6 1 0 1 .5 1 .8 1 .7 1-.3 1-.9 1-1 1-1.1 1-.6 1 .5 1 1.2 1 1.3 1 1.1 1 0 1-.8 1-.8 1-.4 1 0 1 0 1-.1 1 0 1 .5 1 .6 1 .8 1 .9 1 .9 1 .7 1 .1 1-.2 1-.4 1-.2 1 .2 1 .4 1 .5 1 .3 1 0 1-.3 1-.1 1-.2 1-.3 1-.3 1-.2 1-.3 1-.2 1-.4 1-.2 1 0 1-.1 1-.3 1-.2 1 0 1-.1 1 .1 1 .4 1 .5 1 .2 1-.2 1-.5 1-.3 1 0 1-.1 1-.1 1-.3 1-.3 1-.3 1-.4 1-.3 1-.2 1-.3 1-.3 1-.2 1-.1 1 .2 1 .6 1 .9 1 .7 1 .2 1-.4 1-.6 1-.4 1-.3 1-.1 1 .2 1 .5 1 .5 1 .3 1 .1 1 .1 1 .4 1 .4 1 .3 1-.2 1-.4 1-.4 1-.5 1-.5 1-.5 1-.4 1-.5 1-.5 1-.5 1-.3 1 0 1 .3 1 .5 1 .5 1 .5 1 .3 1-.2 1-.9 1-1.1 1-1.1 1-1 1-.6 1-.4 1 .2 1 .7 1 1.1 1 1.2 1 1.3 1 1 1 .7 1 .4 1 .1 1 0 1-.4 1-1.3 1-1.5 1-1.3 1-.9 1-.1 1 .8 1 .6 1 .3 1-.1 1-.3 1-.3 1-.2 1-.3 1-.2 1 .3 1 .4 1 .5 1 .6 1 .7 1 .3 1 .3 1 .1 1 0 1 .1 1 .3 1 .1 1-.3 1-.5 1-.4 1 0 1 .2 1 .3 1 .4 1 .6 1 .4 1-.1 1-.2 1-.3 1-.2 1-.1 1-.2 1-.5 1-.5 1 .1 1 .3 1 .2 1 .1 1 .4 1 .5 1 .3 1-.1 1-.1 1 .1 1 0 1 0 1-.1 1-.2 1-.1 1 .1 1 0 1-.1 1-.2 1 0 1 .1 1 .3 1 .3 1 .5 1 .7 1 .4 1 .2 1-.1 1-.3 1-.2 1 0 1 .4 1 .8 1 .7 1 .4 1 .2 1 0 1 .1 1-.2 1-.7 1-1.2 1-1.1 1-.7 1 .3 1 .7 1 1 1 1.1 1 .6 1 .1 1-.3 1-.4 1-.1 1 .1 1 0 1-.1 1-.1 1-.3 1-.7 1-1 1-.9 1-.3 1 .4 1 .8 1 1 1 .7 1 .2 1-.1 1 0 1-.1 1-.1 1-.2 1-.2 1-.2 1-.2M76.6 350.9l1 .5 1 .6 1 .3 1-.3 1-.8 1-.7 1-.2 1 0 1 .1 1 0 1-.3 1-.3 1 0 1 .4 1 .5 1 .5 1 .6 1 .3 1-.1 1-.4 1-.2 1 .3 1 .5 1 .1 1-.5 1-.5 1-.4 1 0 1 .1 1 .2 1 .1 1 .2 1 .5 1 .6 1 .5 1 .3 1 .1 1 .1 1-.1 1 0 1 0 1-.1 1-.3 1-.4 1-.6 1-.7 1-.4 1 0 1 .3 1 .4 1 .2 1 .2 1 .2 1 .3 1 .1 1-.3 1-.6 1-.5 1-.2 1 .1 1 .2 1 .1 1-.3 1-.1 1 .3 1 .4 1-.1 1-.6 1-.8 1-.6 1-.3 1 0 1 .2 1 .2 1 .4 1 .4 1 .5 1 .3 1-.2 1-.3 1-.1 1 .4 1 .2 1-.3 1-.5 1-.4 1-.3 1-.3 1-.3 1-.3 1-.3 1-.1 1 .2 1 .3 1 .2 1-.2 1-1.2 1-1.3 1-1 1-.5 1 0 1 .5 1 .6 1 .7 1 .7 1 .3 1-.3 1-.5 1-.4 1 .3 1 .6 1 .5 1 .3 1 .3 1 .3 1 0 1-.1 1-.1 1 .5 1 .9 1 .9 1 .7 1 .5 1 .4 1 .2 1 0 1 0 1-.1 1-.3 1-.4 1-.2 1-.1 1-.3 1-.5 1-.5 1-.3 1-.5 1-.4 1-.1 1 0 1 .1 1-.1 1 0 1 .2 1 .6 1 .6 1 .2 1-.4 1-.3 1-.1 1 .1 1 .1 1-.3 1-.6 1-.4 1 .1 1 .1 1 0 1-.3 1-.2 1 0 1-.1 1-.1 1-.1 1 .1 1 .5 1 .8 1 .5 1 .2 1 0 1 0 1-.2 1-.5 1-.7 1-.7 1-.3 1 0 1 .5 1 .7 1 .7 1 .7 1 .6 1 .2 1-.3 1-.7 1-.8 1-1.1 1-.8 1-.4 1 .1 1 .2 1 0 1-.2 1-.2 1 .1 1 .2 1 .3 1 .5 1 .4 1 .2 1-.3 1-.5 1-.5 1-.6 1-.7 1-.6 1-.4 1 0 1 .3 1 .2 1 .5 1 .8 1 1.1 1 1.1 1 .8 1 0 1-.6 1-.7 1-.8 1-.6 1-.5 1-.6 1-.4 1 .2 1 .2 1 .2 1 0 1-.3 1-.7 1-.7 1-.6 1 .2 1 .8 1 1.1 1 1 1 .7 1 .5 1 .2 1 0 1-.3 1-.6 1-.4 1 0 1 .3 1 .4 1 .2 1-.1 1 .1 1 .1 1 .3 1 .2 1 0 1 0 1-.1 1-.3 1-.2 1 0 1 .4 1 .2 1-.5 1-.6 1-.2 1 .3 1 .4 1 .2 1 .1 1 .3 1 .7 1 1.1 1 .8 1 .4 1-.4 1-.6 1-.4 1-.1 1 0 1 .3 1 .4 1 .3 1 .2 1 .1 1-.1 1-.3 1-.3 1 .1 1 .2 1 .3 1 .6 1 .6 1 .6 1 .3 1 0 1-.5 1-.6 1-.4 1 0 1 .2 1 .2 1 .2 1-.1 1-.7 1-.8 1-.7 1-.5 1 0 1 0 1 .1 1 .1 1 0 1 0 1 .2 1 .2 1 .2 1 .5 1 .6 1 .1 1-.6 1-.9 1-.7 1-.4 1-.3 1-.2 1 .2 1 .4 1 .7 1 .6 1 .4 1 0 1 0 1 .1 1 .2 1 0 1-.5 1-.8 1-.5M76.6 349.5l1 .3 1 .5 1 .3 1 .1 1-.1 1-.4 1-.7 1-.5 1 .3 1 1.1 1 1.3 1 .9 1 .3 1-.3 1-.4 1-.2 1-.1 1-.1 1-.3 1-.3 1-.1 1 .3 1 .5 1 .3 1 .2 1 0 1 .2 1 .2 1 .2 1 .1 1 0 1-.1 1 .1 1 .1 1 .4 1 .6 1 .3 1-.2 1-.8 1-.9 1-.8 1-.7 1-.6 1-.2 1 0 1 .1 1 .2 1 .5 1 .9 1 .8 1 .8 1 .5 1 .3 1 0 1-.4 1-.5 1-.6 1-.6 1-.5 1-.1 1 .4 1 .4 1 .2 1-.1 1-.4 1-.5 1-.3 1 .2 1 .4 1-.2 1-.7 1-.6 1 0 1 .6 1 .5 1 .2 1 0 1 .1 1 .1 1 .1 1-.1 1 0 1 .2 1 .1 1-.1 1-.3 1-.3 1-.3 1-.5 1-.8 1-.9 1-.5 1 .2 1 .7 1 .7 1 .5 1-.2 1-.6 1-.6 1-.8 1-.5 1 0 1 .3 1 .6 1 .4 1 .1 1 0 1 .1 1 .1 1 .2 1 .3 1 0 1-.3 1-.2 1 .2 1 .5 1 .6 1 .3 1 0 1-.1 1 .1 1 .1 1 .1 1 .1 1-.1 1-.2 1-.2 1-.2 1-.3 1-.1 1 .2 1 .5 1 .3 1 0 1-.5 1-.7 1-.6 1-.3 1-.2 1-.1 1-.1 1-.1 1 .2 1 .3 1 .3 1 .5 1 .2 1-.3 1-.6 1-.4 1 .1 1 .5 1 .5 1 .1 1-.4 1-.7 1-.4 1 .1 1 .4 1 .3 1 .1 1 0 1 .1 1 .2 1-.2 1-.3 1-.2 1 0 1 .1 1 .1 1 .1 1 .3 1 .6 1 .7 1 .6 1 .3 1 0 1-.2 1-.1 1 .1 1 .4 1 .6 1 .3 1-.3 1-.8 1-.9 1-.7 1-.5 1-.4 1-.4 1-.4 1-.3 1-.4 1-.4 1-.1 1 .5 1 .8 1 .7 1 .3 1 0 1-.4 1-.5 1-.4 1-.6 1-.6 1-.6 1-.4 1 0 1 .2 1 .2 1 .2 1 .6 1 .8 1 .8 1 .4 1 0 1 0 1-.1 1-.4 1-.3 1-.3 1-.7 1-.9 1-.6 1-.5 1-.2 1 .2 1 .3 1 .2 1 .1 1-.2 1-.1 1-.1 1 0 1 .4 1 .6 1 .5 1 0 1-.3 1-.3 1-.1 1 .2 1 .4 1 .4 1 .2 1-.3 1-.4 1-.1 1 .2 1 .4 1 .3 1 .2 1 .2 1-.1 1-.4 1-.3 1 0 1 .3 1 .2 1 0 1-.4 1-.3 1 0 1 .5 1 .3 1 .1 1-.1 1-.1 1 .1 1 0 1 .3 1 .3 1 .5 1 .4 1 .4 1 .5 1 .4 1 .3 1 .1 1-.1 1-.1 1 0 1 .1 1 .2 1 .1 1 0 1 0 1 0 1-.1 1 0 1 .1 1 .2 1 .1 1 .1 1 .2 1 .1 1 .1 1 .1 1 .2 1 0 1-.5 1-.7 1-.6 1-.5 1 .1 1 .4 1 .6 1 .6 1 .2 1-.3 1-.2 1-.1 1 0 1-.2 1-.3 1-.2 1-.1 1 0 1-.2 1-.1 1 .2 1 .2 1 .2 1 .1 1 .1 1 .3 1 .2 1-.1 1-.4 1-.3 1-.1 1 .2 1 0 1-.1 1-.1M76.6 352l1 .4 1 .1 1-.3 1-.4 1-.1 1 .2 1 .1 1-.2 1-.3 1 0 1 .5 1 .7 1 .6 1 .4 1 0 1-.3 1-.7 1-.5 1-.1 1 0 1-.1 1-.3 1-.1 1 .2 1 .4 1 .5 1 .5 1 .6 1 .4 1 .2 1-.2 1-.5 1-.5 1-.2 1 .1 1 .1 1 0 1 .2 1 .1 1-.2 1-.5 1-.4 1 .1 1 .4 1 0 1-.7 1-.9 1-.4 1 .3 1 .9 1 .8 1 .3 1-.1 1-.1 1 .1 1 .1 1-.2 1-.4 1-.5 1-.5 1-.3 1-.2 1 .2 1 .7 1 .7 1 .3 1-.3 1-.3 1-.1 1 .1 1-.1 1-.5 1-.8 1-.6 1 0 1 .4 1 .6 1 .6 1 .3 1 .1 1-.2 1 0 1 .1 1 .1 1 .1 1-.1 1-.5 1-.6 1-.5 1 0 1 .1 1-.1 1-.2 1 0 1 0 1-.2 1-.7 1-.6 1-.3 1 0 1 .1 1 .4 1 .4 1 .3 1 .3 1 0 1-.3 1-.6 1-.2 1 .6 1 1.1 1 .8 1 .2 1 0 1 .1 1 .1 1-.3 1-.4 1-.3 1 .1 1 .4 1 .5 1 .7 1 .4 1 .3 1 .2 1 .3 1 .4 1-.1 1-.3 1-.3 1-.2 1-.3 1-.7 1-.9 1-.6 1-.3 1 .1 1 .3 1 .2 1-.1 1-.3 1-.4 1-.3 1-.2 1 0 1 0 1 .1 1 .2 1 .4 1 .5 1 .5 1 .3 1-.1 1-.6 1-.7 1-.5 1-.1 1 .1 1 .1 1 0 1-.2 1-.3 1-.1 1 .2 1 .7 1 .9 1 .4 1-.4 1-1 1-.9 1-.4 1 .1 1 .2 1 .2 1 .3 1 .5 1 .4 1 .1 1-.2 1 0 1 .5 1 .7 1 .3 1-.2 1-.5 1-.3 1-.2 1-.3 1-.4 1-.3 1 .1 1 .1 1-.1 1-.2 1-.2 1 0 1 .1 1 .3 1 .3 1 .2 1 0 1-.1 1 0 1 0 1-.2 1-.8 1-.8 1-.4 1 .2 1 .9 1 1.1 1 1.2 1 1 1 .5 1-.1 1-.4 1-.5 1-.5 1-.2 1-.2 1-.1 1 0 1 0 1-.5 1-.8 1-.6 1-.4 1-.1 1 .3 1 .5 1 .2 1-.2 1-.6 1-.5 1-.2 1 0 1 .4 1 1 1 1 1 .4 1-.2 1-.4 1-.4 1-.3 1-.1 1-.1 1 0 1 .2 1 .6 1 .9 1 .6 1 .1 1-.3 1-.4 1-.1 1 .2 1 .2 1 .1 1 0 1 .2 1 .3 1 .2 1-.3 1-.5 1-.4 1 .2 1 .4 1 .5 1 .5 1 .6 1 .4 1 0 1-.2 1 .1 1 .3 1 .5 1 .4 1 .3 1 0 1-.3 1-.6 1-.4 1 .2 1 .3 1-.1 1-.5 1-.6 1-.1 1-.1 1 .1 1 0 1 0 1-.2 1-.5 1-.6 1-.1 1 .2 1 .3 1-.1 1-.1 1 .1 1 .3 1-.1 1 0 1-.1 1 0 1-.1 1-.3 1-.3 1-.1 1 .3 1 .4 1 0 1-.3 1-.2 1-.1 1-.2 1-.3 1-.5 1-.3 1 0 1 .3 1 .3 1 .1 1 .3 1 .3 1 .4 1 0 1-.2 1-.1 1 0 1 .2 1 0 1-.1M76.6 354.2l1-.5 1-.5 1-.5 1-.3 1-.3 1-.3 1-.1 1 .1 1 .2 1 .2 1 .3 1 .3 1 .3 1 .1 1 0 1 0 1 0 1 0 1-.1 1-.2 1-.1 1 0 1 0 1-.3 1-.4 1-.1 1 .1 1 .3 1 .3 1 .3 1 .4 1 .3 1 .2 1 .1 1 .1 1 .3 1 .5 1 .4 1 0 1-.1 1-.4 1-.5 1-.6 1-.4 1-.3 1-.1 1-.1 1-.2 1-.3 1-.1 1 .1 1 .3 1 .4 1 .3 1 .3 1 .4 1 .3 1-.2 1-.8 1-.8 1-.2 1 .7 1 .9 1 .5 1-.1 1-.6 1-.4 1-.1 1-.1 1-.1 1 .1 1 .4 1 .5 1 .4 1 0 1-.2 1 0 1 0 1-.2 1-.5 1-.5 1-.2 1-.4 1-.5 1-.3 1 0 1 .2 1 0 1-.4 1-.2 1 0 1 .3 1 .4 1 .3 1 .4 1 .3 1-.3 1-.6 1-.6 1-.4 1-.3 1 .2 1 .5 1 .7 1 .5 1 0 1-.5 1-.4 1-.1 1 .2 1 .3 1 .1 1-.2 1-.2 1 0 1 .4 1 .4 1 .3 1 .2 1 .2 1 .3 1 .4 1 .4 1 .1 1-.3 1-.5 1-.3 1 0 1-.1 1-.2 1-.3 1 0 1 .2 1 .2 1 0 1-.1 1 0 1 .3 1 .2 1-.2 1-.4 1-.3 1 .1 1 .2 1 0 1 0 1 .1 1 .1 1 .1 1 0 1 0 1-.1 1-.3 1-.5 1-.6 1-.4 1-.3 1-.2 1 0 1 .3 1 .4 1 .3 1 .3 1 .4 1 .4 1 .3 1 .3 1 .4 1 .2 1-.1 1-.3 1-.2 1 .2 1 .6 1 .3 1-.1 1-.1 1 .1 1 0 1-.1 1-.4 1-.5 1-.2 1 0 1 .2 1 0 1-.1 1-.2 1-.1 1-.1 1-.3 1-.4 1-.5 1-.5 1-.5 1-.4 1 0 1 .5 1 .7 1 .7 1 .2 1-.3 1-.6 1-.6 1-.5 1 0 1 .2 1 .4 1 .3 1 .2 1 .3 1 .4 1 .6 1 .6 1 .4 1 .2 1 .1 1 0 1-.5 1-.8 1-.9 1-.6 1-.4 1-.3 1-.3 1-.1 1 .2 1 .2 1-.1 1-.5 1-.5 1-.3 1 .1 1 .3 1 .6 1 .9 1 1 1 .5 1 0 1-.2 1-.3 1-.3 1-.4 1-.3 1-.3 1-.1 1-.1 1 0 1 0 1 .2 1 .1 1 0 1 0 1-.1 1-.1 1-.2 1-.1 1 0 1 .3 1 .4 1 .4 1 .4 1 .1 1-.1 1-.3 1-.2 1 .1 1 .3 1 .1 1 0 1-.2 1-.1 1 .1 1 .4 1 .6 1 .6 1 .4 1 .1 1-.1 1-.5 1-.8 1-.7 1-.2 1 .4 1 .8 1 .7 1 .5 1 .1 1 0 1 0 1-.1 1-.2 1-.4 1-.4 1-.1 1 0 1 .1 1-.1 1-.2 1-.1 1-.1 1 .1 1 .2 1 .4 1 .6 1 .4 1-.1 1-.6 1-.7 1-.3 1 .1 1 .2 1-.2 1-.4 1-.4 1-.3 1-.1 1 .2 1 .6 1 .4 1 .1 1 0 1 .2 1 .1 1-.2 1-.7 1-.7 1-.1 1 .4 1 .5 1 .3 1 .2 1 .1 1 0 1 .1M76.6 353.5l1 .5 1 .3 1 .2 1 0 1 .1 1 .3 1 .3 1 .2 1 0 1-.4 1-.6 1-.5 1-.1 1-.1 1 .1 1 .2 1 .4 1 .1 1-.1 1-.1 1-.1 1-.1 1-.3 1-.1 1 .1 1 0 1-.1 1-.2 1-.1 1 .2 1 .4 1 .4 1 .1 1 0 1 .2 1 .5 1 .4 1 0 1-.5 1-.6 1-.5 1-.4 1-.3 1 0 1 .2 1 .3 1 .1 1-.2 1-.5 1-.5 1-.2 1 .2 1 .5 1 .3 1 .2 1 .2 1 .3 1 .1 1-.1 1-.1 1 0 1 .2 1 0 1-.3 1-.5 1-.5 1-.3 1 .2 1 .8 1 .7 1-.2 1-.9 1-.7 1 .1 1 .7 1 .6 1 .5 1 .3 1 .1 1-.3 1-.7 1-.7 1-.4 1-.2 1-.2 1-.1 1 0 1-.1 1 0 1 0 1 .3 1 .5 1 .6 1 .4 1 .1 1-.3 1-.5 1-.5 1-.1 1 0 1 .3 1 .4 1 .1 1-.2 1-.2 1-.2 1 0 1 .3 1 .5 1 .2 1 0 1-.1 1-.1 1 .2 1 .5 1 .2 1-.1 1-.2 1-.1 1 .1 1 .2 1 0 1-.4 1-.8 1-.6 1-.3 1 .1 1 .3 1 .1 1 .1 1 .2 1 .5 1 .5 1 .6 1 .5 1 .3 1-.1 1-.3 1-.5 1-.3 1 0 1 .4 1 .5 1 .2 1-.2 1-.5 1-.3 1 0 1 0 1-.2 1-.4 1-.3 1 .2 1 .5 1 .2 1-.3 1-.5 1-.1 1 .1 1 .3 1 .2 1 .1 1-.2 1-.6 1-.9 1-.6 1 0 1 .7 1 .6 1 .1 1-.3 1-.3 1-.1 1 0 1 .1 1 .5 1 .8 1 .5 1 .1 1 0 1 0 1 0 1-.3 1-.6 1-.5 1-.2 1 .5 1 .6 1 .1 1-.3 1-.6 1-.2 1 0 1 0 1-.2 1-.1 1 .2 1 .2 1 .2 1 .1 1-.1 1-.1 1 0 1 0 1 0 1-.1 1-.1 1 .1 1 .2 1 .1 1-.2 1-.5 1-.4 1-.1 1 0 1 .1 1 0 1 .1 1 0 1-.1 1 0 1 .2 1 .4 1 .6 1 .4 1 0 1-.3 1-.4 1-.6 1-.4 1-.4 1-.2 1-.1 1-.2 1 0 1 .3 1 .3 1 .1 1 0 1 .2 1 .4 1 .6 1 .6 1 .4 1 0 1-.3 1-.5 1-.3 1-.1 1 .2 1 .4 1 .1 1-.4 1-.5 1 .1 1 .6 1 .8 1 .4 1-.2 1-.5 1-.4 1-.1 1 0 1-.1 1-.4 1-.5 1-.2 1 .1 1 .3 1 .1 1 0 1 .2 1 .5 1 .7 1 .5 1 0 1-.3 1-.6 1-.6 1-.2 1 .2 1 .4 1 .3 1 .1 1-.1 1 0 1 .1 1 .3 1 .2 1 .2 1 .1 1 .2 1 .3 1 .4 1 .1 1-.4 1-.7 1-.7 1-.4 1-.1 1 .1 1-.2 1-.4 1-.3 1 .4 1 .5 1 .1 1 .1 1 .1 1-.1 1-.5 1-.8 1-.5 1 .3 1 1.2 1 1.2 1 .3 1-.3 1-.6 1-.3 1 .3 1 .4 1 .4 1 .1 1-.2 1-.2 1 0 1 .1 1-.1 1-.2 1-.3 1 0 1 .2 1 .4 1 .4M76.6 354.7l1 .3 1 .1 1-.2 1-.3 1 0 1 .3 1 .3 1 .2 1-.1 1-.1 1-.1 1-.3 1-.4 1-.4 1-.1 1 .1 1 .1 1 0 1 0 1 0 1 .2 1 .3 1 .2 1 .1 1-.1 1-.1 1-.1 1-.1 1 .1 1 .1 1 .2 1 .2 1 0 1-.3 1-.3 1 0 1 .3 1 .3 1 .1 1 0 1 .1 1 .1 1 0 1 0 1 0 1 .1 1 .2 1-.2 1-.3 1-.3 1-.3 1-.4 1-.4 1-.2 1 .1 1 .2 1 0 1 .1 1 .3 1 .7 1 .5 1 .1 1-.1 1-.2 1 0 1 .2 1 .2 1-.3 1-.5 1-.3 1-.2 1-.1 1 .1 1 .2 1 .6 1 .7 1 .5 1 0 1-.3 1-.5 1-.6 1-.3 1-.1 1 .2 1 .3 1 .4 1 .2 1-.1 1-.4 1-.3 1-.1 1 .2 1 .3 1 .2 1-.1 1-.2 1-.2 1-.3 1-.4 1-.4 1 0 1 .2 1 .1 1-.3 1-.3 1 .1 1 .6 1 .7 1 .1 1-.3 1-.4 1-.2 1 0 1 .2 1 .1 1-.3 1-.6 1-.2 1 .4 1 .5 1 .3 1-.1 1-.2 1-.1 1-.2 1-.3 1-.6 1-.4 1 .1 1 .8 1 .9 1 .6 1 0 1-.2 1-.1 1-.1 1-.1 1 0 1 .2 1 .2 1-.1 1-.4 1-.5 1-.5 1-.2 1 .2 1 .7 1 .9 1 .3 1-.6 1-.9 1-.7 1-.2 1 .2 1 .2 1 .2 1 .3 1 .6 1 .8 1 .8 1 .4 1-.2 1-.6 1-.7 1-.4 1 0 1 .2 1 .1 1-.1 1-.1 1 .3 1 .3 1 .2 1-.2 1-.1 1-.2 1-.3 1-.1 1 .1 1 .2 1-.1 1-.1 1 .1 1 .2 1 .1 1-.3 1-.4 1-.4 1-.2 1 .1 1 .3 1 .2 1 .1 1 .1 1-.1 1-.1 1 0 1 0 1-.1 1-.4 1-.7 1-.4 1 .2 1 .4 1 .3 1 .3 1 .4 1 .6 1 .2 1-.2 1-.6 1-.5 1-.1 1 .4 1 .4 1 .1 1 .1 1 .1 1 .3 1 .3 1 0 1-.2 1-.3 1-.4 1-.4 1-.5 1-.4 1-.1 1 .2 1 .2 1 .1 1-.1 1 .1 1 .3 1 .2 1 .1 1-.2 1 0 1 .3 1 .2 1 .4 1 .4 1 .2 1-.1 1-.2 1-.4 1-.4 1-.1 1 .3 1 .3 1 0 1-.2 1 0 1 0 1-.1 1-.1 1 .2 1 .5 1 .6 1 .3 1-.1 1-.5 1-.4 1 0 1 .3 1 .4 1 .4 1 .3 1 0 1-.5 1-.7 1-.6 1-.5 1-.3 1-.2 1 .1 1 .3 1 .3 1 0 1-.3 1-.2 1 0 1 .4 1 .5 1 .6 1 .5 1 .1 1-.4 1-.8 1-.3 1 .3 1 .6 1 .4 1 .2 1-.1 1-.4 1-.5 1-.6 1-.6 1-.6 1-.6 1-.2 1 .2 1 .6 1 .7 1 .6 1 .3 1 .2 1 0 1-.3 1-.6 1-.6 1-.5 1-.3 1 .1 1 .5 1 .5 1 .4 1 .3 1 .4 1 .4 1 .5 1 .3 1-.1 1-.3 1-.6 1-.4 1 0 1 .2 1 .4 1 .3 1 0 1-.3 1-.6 1-.4"/>
</g>
<rect x="106.70" y="3.10" width="469.90" height="354.90" fill="none" stroke="#000" stroke-width="1.9" stroke-linejoin="round"/>
<path d="M100.40,358.00H106.70M100.40,271.27H106.70M100.40,184.55H106.70M100.40,97.83H106.70M100.40,11.10H106.70M103.60,340.65H106.70M103.60,323.31H106.70M103.60,305.97H106.70M103.60,288.62H106.70M103.60,253.93H106.70M103.60,236.59H106.70M103.60,219.24H106.70M103.60,201.90H106.70M103.60,167.21H106.70M103.60,149.86H106.70M103.60,132.52H106.70M103.60,115.17H106.70M103.60,80.48H106.70M103.60,63.13H106.70M103.60,45.79H106.70M103.60,28.45H106.70M106.70,358.00V364.40M182.55,358.00V364.40M258.40,358.00V364.40M334.25,358.00V364.40M410.10,358.00V364.40M485.95,358.00V364.40M561.80,358.00V364.40" stroke="#000" stroke-width="1.9" stroke-linecap="round" fill="none"/>
<g transform="translate(95.00,368.30) scale(0.93,1)"><text x="0" y="0" text-anchor="end" font-size="28.2" font-family="Latin Modern Roman, 'LM Roman 10', 'Liberation Serif', serif" >0</text></g>
<g transform="translate(95.00,281.57) scale(0.93,1)"><text x="0" y="0" text-anchor="end" font-size="28.2" font-family="Latin Modern Roman, 'LM Roman 10', 'Liberation Serif', serif" >0.1</text></g>
<g transform="translate(95.00,194.85) scale(0.93,1)"><text x="0" y="0" text-anchor="end" font-size="28.2" font-family="Latin Modern Roman, 'LM Roman 10', 'Liberation Serif', serif" >0.2</text></g>
<g transform="translate(95.00,108.13) scale(0.93,1)"><text x="0" y="0" text-anchor="end" font-size="28.2" font-family="Latin Modern Roman, 'LM Roman 10', 'Liberation Serif', serif" >0.3</text></g>
<g transform="translate(95.00,21.40) scale(0.93,1)"><text x="0" y="0" text-anchor="end" font-size="28.2" font-family="Latin Modern Roman, 'LM Roman 10', 'Liberation Serif', serif" >0.4</text></g>
<g transform="translate(106.70,390.70) scale(0.93,1)"><text x="0" y="0" text-anchor="middle" font-size="28.2" font-family="Latin Modern Roman, 'LM Roman 10', 'Liberation Serif', serif" >0</text></g>
<g transform="translate(182.55,390.70) scale(0.93,1)"><text x="0" y="0" text-anchor="middle" font-size="28.2" font-family="Latin Modern Roman, 'LM Roman 10', 'Liberation Serif', serif" >1</text></g>
<g transform="translate(258.40,390.70) scale(0.93,1)"><text x="0" y="0" text-anchor="middle" font-size="28.2" font-family="Latin Modern Roman, 'LM Roman 10', 'Liberation Serif', serif" >2</text></g>
<g transform="translate(334.25,390.70) scale(0.93,1)"><text x="0" y="0" text-anchor="middle" font-size="28.2" font-family="Latin Modern Roman, 'LM Roman 10', 'Liberation Serif', serif" >3</text></g>
<g transform="translate(410.10,390.70) scale(0.93,1)"><text x="0" y="0" text-anchor="middle" font-size="28.2" font-family="Latin Modern Roman, 'LM Roman 10', 'Liberation Serif', serif" >4</text></g>
<g transform="translate(485.95,390.70) scale(0.93,1)"><text x="0" y="0" text-anchor="middle" font-size="28.2" font-family="Latin Modern Roman, 'LM Roman 10', 'Liberation Serif', serif" >5</text></g>
<g transform="translate(561.80,390.70) scale(0.93,1)"><text x="0" y="0" text-anchor="middle" font-size="28.2" font-family="Latin Modern Roman, 'LM Roman 10', 'Liberation Serif', serif" >6</text></g>
<g clip-path="url(#clipb)">
<path fill="#00f" d="M669.3 348.2l2.8 0 2.8 0 2.8 0 2.8 0 2.8 0 2.8 0 2.8 0 2.8 0 2.8 0 2.8 0 2.8 0 2.8 0 2.8 0 2.8 0 2.8 0 2.8 0 2.8 0 2.8 0 2.8 0 2.8 0 2.8 0 2.8 0 2.8 0 2.8 0 2.8 0 2.8 0 2.8 0 2.8 0 2.8 0 2.8 0 2.8 0 2.8 0 2.8 0 2.8 0 2.8 0 2.8 0 2.8 0 2.8 0 2.8 0 2.8 0 2.8 0 2.8 0 2.8 0 2.8 0 2.8 0 2.8 0 2.8 0 2.8 0 2.8 0 2.8 0 2.8 0 2.8 0 2.8 0 2.8 0 2.8 0 2.8 0 2.8 0 2.8 0 2.8 0 2.8 0 2.8 0 2.8 0 2.8 0 2.8 0 2.8 0 2.8 0 2.8 0 2.8 0 2.8 0 2.8 0 2.8 0 2.8 0 2.8 0 2.8 0 2.8 0 2.8 0 2.8 0 2.8 0 2.8 0 2.8 0 2.8 0 2.8 0 2.8 0 2.8 0 2.8 0 2.8 0 2.8 0 2.8 0 2.8 0 2.8 0 2.8 0 2.8 0 2.8 0 2.8 0 2.8 0 2.8 0 2.8 0 2.8 0 2.8 0 2.8 0 2.8 0 2.8 0 2.8 0 2.8 0 2.8 0 2.8 0 2.8 0 2.8 0 2.8 0 2.8 0 2.8 0 2.8 0 2.8 0 2.8 0 2.8 0 2.8 0 2.8 0 2.8 0 2.8 0 2.8 0 2.8 0 2.8 0 2.8 0 2.8 0 2.8 0 2.8 0 2.8 0 2.8 0 2.8 0 2.8 0 2.8 0 2.8 0 2.8 0 2.8 0 2.8 0 2.8 0 2.8 0 2.8 0 2.8 0 2.8 0 2.8 0 2.8 0 2.8 0 2.8 0 2.8 0 2.8 0 2.8 0 2.8 0 2.8 0 2.8 0 2.8 0 2.8 0 2.8 0 2.8 0 2.8 0 2.8 0 2.8 0 2.8 0 2.8 0 2.8 0 2.8 0 2.8 0 2.8 0 2.8 0 2.8 0 2.8 0 2.8 0 2.3 0 0 4.8-2.3 0-2.8 0-2.8 0-2.8 0-2.8 0-2.8 0-2.8 0-2.8 0-2.8 0-2.8 0-2.8 0-2.8 0-2.8 0-2.8 0-2.8 0-2.8 0-2.8 0-2.8 0-2.8 0-2.8 0-2.8 0-2.8 0-2.8 0-2.8 0-2.8 0-2.8 0-2.8 0-2.8 0-2.8 0-2.8 0-2.8 0-2.8 0-2.8 0-2.8 0-2.8 0-2.8 0-2.8 0-2.8 0-2.8 0-2.8 0-2.8 0-2.8 0-2.8 0-2.8 0-2.8 0-2.8 0-2.8 0-2.8 0-2.8 0-2.8 0-2.8 0-2.8 0-2.8 0-2.8 0-2.8 0-2.8 0-2.8 0-2.8 0-2.8 0-2.8 0-2.8 0-2.8 0-2.8 0-2.8 0-2.8 0-2.8 0-2.8 0-2.8 0-2.8 0-2.8 0-2.8 0-2.8 0-2.8 0-2.8 0-2.8 0-2.8 0-2.8 0-2.8 0-2.8 0-2.8 0-2.8 0-2.8 0-2.8 0-2.8 0-2.8 0-2.8 0-2.8 0-2.8 0-2.8 0-2.8 0-2.8 0-2.8 0-2.8 0-2.8 0-2.8 0-2.8 0-2.8 0-2.8 0-2.8 0-2.8 0-2.8 0-2.8 0-2.8 0-2.8 0-2.8 0-2.8 0-2.8 0-2.8 0-2.8 0-2.8 0-2.8 0-2.8 0-2.8 0-2.8 0-2.8 0-2.8 0-2.8 0-2.8 0-2.8 0-2.8 0-2.8 0-2.8 0-2.8 0-2.8 0-2.8 0-2.8 0-2.8 0-2.8 0-2.8 0-2.8 0-2.8 0-2.8 0-2.8 0-2.8 0-2.8 0-2.8 0-2.8 0-2.8 0-2.8 0-2.8 0-2.8 0-2.8 0-2.8 0-2.8 0-2.8 0-2.8 0-2.8 0-2.8 0-2.8 0-2.8 0-2.8 0-2.8 0-2.8 0-2.8 0-2.8 0-2.8 0-2.8 0-2.8 0-2.8 0-2.8 0-2.8 0-2.8 0-2.8 0-2.8 0-2.8 0-2.8 0-2.8 0-2.8 0z"/>
<path transform="scale(1.4,1)" fill="none" stroke="#00f" stroke-width="1.55" stroke-linejoin="round" d="M478.1 349.9l2 0 2 0 2 0 2 0 2 0 2 0 2 0 2 0 2 0 2 0 2-.2 2-.6 2-1.8 2-3.9 2-6.7 2-8.3 2-6.7 2-1.8 2 4.3 2 7.9 2 7.8 2 5.5 2 2.9 2 1.2 2 .3 2 .1 2 0 2-.1 2-.5 2-1.2 2-1.7 2-1.2 2 .2 2 1.5 2 1.6 2 1 2 .3 2 .1 2 0 2 0 2 0 2 0 2 0 2 0 2 0 2-.1 2-.4 2-1.1 2-1.8 2-1.9 2-.6 2 1 2 2 2 1.6 2 .9 2 .3 2 0 2-.1 2-.3 2-.4 2-.8 2-1.2 2-2 2-2.9 2-4.5 2-8.5 2-20.7 2-50.6 2-91.2 2-99.9 2-40.2 2 45.8 2 81.2 2 58.1 2 23.5 2 4.1 2-4.1 2-6.5 2-.7 2 11.7 2 20.2 2 18 2 9.3 2 1.5 2-2.8 2-3.2 2-.7 2 3.8 2 8.3 2 11.6 2 12.5 2 11.2 2 8.3 2 4.8 2 1.3 2-1.6 2-3.7 2-4.4 2-3.3 2-.7 2 2.1 2 4.2 2 4.7 2 3.9 2 2.6 2 1.4 2 .7 2 .2 2 .1 2 0 2 0 2 0 2 0 2 0 2 0 2 0 2 0 2 0 2 0 2 0 2 0 2 0 2 0 2 0 2 0 2 0 2 0 2 0 2 0 2-.1 2-.2 2-.5 2-.6 2-.9 2-.8 2-.4 2 .1 2 .6 2 .7 2 .7 2 .4 2 .2 2 .2 2 .1 2-.1 2-.6 2-1.2 2-1.9 2-1.5 2-.2 2 1.3 2 1.6 2 1 2-.1 2-.9 2-.9 2-.3 2 .4 2 1 2 1.1 2 .6 2 .2 2-.2 2-.4 2-.2 2-.2 2 .1 1.6.2M478.1 345.8l2-3 2-3.2 2-2.4 2-.4 2 1.7 2 3 2 3.2 2 2.5 2 1.5 2 .8 2 .3 2 .1 2 0 2 0 2 0 2 0 2 0 2 0 2-.1 2-.2 2-.6 2-1.1 2-1.6 2-1.6 2-.8 2 .3 2 1.3 2 1.7 2 1.3 2 .9 2 .3 2 .2 2 0 2 0 2 0 2 0 2 0 2 0 2-.1 2-.3 2-.8 2-1.6 2-2.3 2-1.9 2-.5 2 1.3 2 2.2 2 2 2 1.1 2 .1 2-.9 2-2.4 2-4.5 2-5.1 2-3.6 2-1.6 2-1.2 2-1.9 2-2.2 2-1.8 2-1.1 2-.1 2 .7 2 1.4 2 1.8 2 2.4 2 3.5 2 4.5 2 4.2 2 2.6 2 0 2-2.9 2-6 2-8.7 2-10.2 2-12.3 2-18.1 2-28.4 2-35.6 2-27.8 2-2.9 2 24.3 2 35.8 2 29.5 2 16.1 2 6.3 2 2.9 2 3.6 2 5.2 2 6.4 2 5.8 2 4 2 2.5 2 3 2 4.6 2 4.4 2 2.9 2 1.2 2 .4 2 .1 2 0 2 0 2 0 2 0 2-.1 2-.2 2-.4 2-.9 2-1.2 2-1.5 2-1.3 2-.5 2 .3 2 1.2 2 1.4 2 1.3 2 1 2 .5 2 .3 2 .1 2 0 2 0 2 0 2 0 2-.1 2-.1 2-.4 2-.5 2-.7 2-.8 2-.7 2-.3 2 0 2 .4 2 .6 2 .5 2 .6 2 .5 2 .4 2 .3 2 .2 2 .1 2 0 2 0 2 0 2 0 2 0 2 0 2 0 2 0 2-.1 2-.3 2-.5 2-.5 2-.5 2-.5 2-.7 2-1.2 2-1.6 2-1 2 .6 2 2.1 2 2.2 2 1.4 2 .5 2 .1 2 0 1.6 0M478.1 342.2l2 3 2 2.6 2 1.3 2 .3 2-.7 2-2.1 2-4.4 2-8.3 2-13.2 2-17.9 2-20.2 2-17.9 2-11.9 2-6.6 2-8.4 2-18 2-22.6 2-8.2 2 19.2 2 36.3 2 31.3 2 14.9 2 1.8 2-5.5 2-9.4 2-9.4 2-3.6 2 5 2 10.6 2 11.2 2 9.6 2 9.5 2 10.3 2 10 2 8.1 2 5.4 2 3.2 2 1.6 2 .6 2 .2 2 0 2 0 2-.2 2-.4 2-1 2-2 2-3.1 2-4.2 2-4.5 2-3.6 2-1.4 2 1.3 2 3.3 2 3.9 2 2.6 2 .1 2-1.9 2-2.2 2-.1 2 2.6 2 4 2 3.4 2 2.1 2 .9 2 .3 2 .1 2 0 2 0 2 0 2 0 2 0 2 0 2 0 2 0 2 0 2 0 2 0 2 0 2 0 2 0 2-.2 2-.5 2-1.4 2-2.4 2-2.7 2-1.4 2 .8 2 2.4 2 2.6 2 1.5 2 .5 2-.3 2-.7 2-.6 2-.2 2 .4 2 .7 2 .6 2 .2 2-.3 2-.5 2-.5 2 .2 2 .5 2 .4 2-.2 2-1.4 2-2.2 2-1.9 2-.2 2 1.7 2 2.3 2 1.7 2 .8 2 .3 2 0 2 0 2 0 2 0 2-.2 2-.2 2-.5 2-.8 2-.7 2-.6 2-.2 2 .2 2 .4 2 .6 2 .6 2 .6 2 .5 2 .2 2 .1 2 0 2 0 2 0 2 0 2-.3 2-.8 2-1.6 2-1.2 2 .3 2 1.6 2 1.3 2 .6 2 .1 2 0 2-.1 2-.1 2-.1 2 0 2 .2 2 .1 2 0 2 0 2 0 2 0 2 0 2 0 2 0 2 0 2 0 2 0 2 0 2 0 2 0 1.6 0M478.1 335l2-4.7 2-2.6 2 .6 2 3.6 2 5.1 2 5 2 3.8 2 2.2 2 1 2-.2 2-2.3 2-5.5 2-9.2 2-9.5 2-4.3 2 3.8 2 9 2 8.9 2 5.7 2 2.8 2 1.2 2 .4 2 .1 2 0 2-.1 2-.2 2-.5 2-.8 2-1.4 2-2.1 2-2.8 2-3.2 2-3.4 2-3.7 2-5.9 2-13 2-26 2-39 2-39.7 2-19.3 2 13 2 36.2 2 38.6 2 26.2 2 12.3 2 3.9 2 .9 2 1.1 2 2.5 2 4.6 2 6 2 6 2 4.6 2 2.8 2 1.5 2 .6 2 .2 2 .1 2 0 2-.1 2-.2 2-.5 2-.9 2-1.3 2-1.6 2-1.2 2-.6 2 .3 2 .6 2 .2 2-.4 2-1 2-1 2-.2 2 .7 2 .9 2 .2 2-1.5 2-3.6 2-5.1 2-5.1 2-3.2 2-.1 2 3.2 2 5.3 2 5.6 2 4.6 2 3.1 2 1.7 2 .8 2 .3 2 .1 2 0 2 0 2 0 2 0 2 0 2 0 2 0 2-.1 2-.7 2-2.7 2-6.4 2-9 2-5.6 2 2.9 2 8.6 2 7.7 2 3.8 2 1.2 2 0 2-.1 2 0 2 0 2-.1 2-.6 2-1.2 2-1.3 2-1 2 0 2 .9 2 1.4 2 1.2 2 .7 2 .3 2 .1 2 0 2 0 2 0 2 0 2 0 2 0 2 0 2 0 2 0 2 0 2 0 2 0 2 0 2 0 2 0 2-.1 2-.4 2-1 2-1.5 2-.8 2 .9 2 1.5 2 .9 2 .3 2 .1 2 .1 2 0 2 0 2 0 2 0 2 0 2 0 2 0 2 0 2 0 2 0 2 0 2 0 2 0 2 0 2 0 1.6 0M478.1 207.1l2 2.6 2 7.3 2 7 2 6 2 9.3 2 15.4 2 18.4 2 16 2 12.2 2 11.5 2 12.4 2 11.6 2 7.9 2 3.6 2 .3 2-1.7 2-2.3 2-1.6 2 0 2 1.2 2 1.5 2 .6 2-.9 2-1.7 2-1.5 2-.2 2 1 2 1.1 2-.1 2-1.9 2-2.9 2-1.3 2 2.3 2 4.8 2 4.2 2 2.1 2 .6 2-.1 2-.4 2-.9 2-1.8 2-2.7 2-3.4 2-3.2 2-2.1 2-.1 2 1.9 2 3.2 2 3.4 2 2.8 2 1.8 2 1 2 .5 2 .2 2 .1 2 0 2 0 2 0 2 0 2 0 2 0 2 0 2 0 2 0 2 0 2 0 2 0 2 0 2 0 2 0 2 0 2 0 2 0 2 0 2 0 2 0 2 0 2 0 2 0 2 0 2 0 2 0 2 0 2 0 2 0 2 0 2-.1 2-.6 2-1.5 2-2.2 2-1.7 2-.2 2 .2 2-1.2 2-3.6 2-5.4 2-3.6 2 1.9 2 5.5 2 4.8 2 3.1 2 2.1 2 1.3 2 .7 2 .3 2 .2 2 0 2 0 2 0 2 0 2 0 2 0 2 0 2 0 2 0 2 0 2 0 2 0 2 0 2 0 2 0 2 0 2 0 2 0 2-.1 2-.1 2-.5 2-.7 2-.9 2-.6 2 .2 2 .7 2 .9 2 .6 2 .3 2 .2 2 0 2 0 2 0 2 0 2 0 2 0 2 0 2 0 2 0 2 0 2 0 2 0 2 0 2 0 2-.1 2-.2 2-.3 2-.5 2-.8 2-.9 2-1 2-.9 2-.4 2 .4 2 1.2 2 1.3 2 1 2 .7 2 .3 2 .2 2 0 1.6 0M478.1 244.3l2-21.6 2-13.3 2 4.8 2 25.1 2 30.3 2 20.6 2 11.7 2 11.4 2 13.5 2 12 2 7.8 2 3.7 2 1.3 2 .4 2 .1 2 0 2 0 2 0 2 0 2 0 2 0 2 0 2 0 2 0 2 0 2 0 2-.1 2-.3 2-1.1 2-2 2-1.6 2 .7 2 2 2 1.6 2 .7 2 .1 2-.1 2-.1 2-.3 2-.4 2-.2 2 .1 2 .3 2 .4 2 .2 2 .1 2 0 2 0 2 0 2-.1 2-.2 2-.7 2-1.6 2-3 2-3.9 2-3.5 2-1.3 2 1.7 2 3.4 2 3.6 2 2.4 2 .2 2-2.4 2-4.5 2-3.6 2-.7 2 1.4 2 1.5 2 1.5 2 2.2 2 2.5 2 2.2 2 1.5 2 .9 2 .3 2 .2 2 0 2 0 2 0 2 0 2 0 2 0 2 0 2 0 2 0 2 0 2-.3 2-1.1 2-3.1 2-5.5 2-5.6 2-1.4 2 4 2 6 2 4.4 2 1.9 2 .6 2 .1 2 0 2-.1 2-.5 2-1.2 2-2.4 2-3 2-2 2 .5 2 2.5 2 3 2 1.9 2 .9 2 .3 2 .1 2 0 2 0 2 0 2 0 2 0 2 0 2 0 2 0 2 0 2 0 2 0 2 0 2 0 2-.1 2-.2 2-.5 2-.7 2-.7 2-.6 2-.1 2 .4 2 .8 2 .7 2 .5 2 .3 2 .1 2 .1 2 0 2-.1 2-.2 2-.2 2-.2 2-.2 2-.1 2-.2 2-.6 2-.7 2 0 2 .8 2 .8 2 .2 2-.3 2-.3 2 .3 2 .5 2 .3 2 .2 2 0 2 0 2 0 2-.1 2-.1 2-.4 2-.6 2-.8 1.6-.6M478.1 349.9l2 0 2 0 2 0 2 0 2 0 2 0 2 0 2 0 2 0 2 0 2 0 2 0 2 0 2 0 2-.1 2-.3 2-1 2-1.9 2-3.3 2-4.2 2-3.9 2-2.3 2 .2 2 2.3 2 3.6 2 3.8 2 2.8 2 1.4 2 .6 2 .5 2 .7 2 .6 2 .4 2 .1 2 0 2 0 2 0 2 0 2 0 2 0 2 0 2 0 2 0 2 0 2 0 2 0 2 0 2 0 2 0 2-.1 2-.4 2-.9 2-1.9 2-3.5 2-5.9 2-8 2-9.1 2-8.3 2-5.5 2-2.6 2-2.9 2-9.2 2-19.2 2-23.4 2-13.6 2 7 2 23.5 2 25.5 2 16.8 2 8.7 2 6.5 2 7.8 2 7.9 2 5.9 2 3.1 2 1.3 2 .4 2 .1 2 0 2-.5 2-2 2-6 2-9.7 2-7 2 2.7 2 9.6 2 8.1 2 3.7 2 1 2 .1 2 0 2 0 2 0 2 0 2 0 2 0 2 0 2 0 2-.1 2-.3 2-.7 2-1.6 2-2.7 2-4.1 2-4.6 2-3.9 2-1.7 2 1.2 2 3.6 2 4.6 2 4.1 2 2.9 2 1.5 2 .6 2 .1 2 0 2 0 2 .2 2 .3 2 .2 2 .1 2-.2 2-.6 2-.8 2-1.1 2-1.1 2-.7 2-.3 2 .1 2 .6 2 1 2 1.1 2 1 2 .7 2 .4 2 .1 2 .1 2 0 2 0 2 0 2 0 2 0 2 0 2 0 2 0 2 0 2-.1 2-.2 2-.3 2-.4 2-.5 2-.8 2-1 2-1.1 2-.8 2-.1 2 .8 2 1.2 2 1 2-.1 2-1 2-1 2 0 2 .8 2 1.1 2 1.1 2 .8 1.6.4M478.1 347.6l2 1.6 2 .6 2 .1 2 0 2 0 2 0 2 0 2 0 2 0 2 0 2 0 2 0 2 0 2 0 2 0 2 0 2 0 2 0 2 0 2 0 2 0 2 0 2 0 2 0 2 0 2 0 2 0 2 0 2 0 2 0 2 0 2 0 2 0 2 0 2 0 2 0 2 0 2 0 2-.4 2-1.9 2-6.3 2-11.8 2-10.2 2 1.6 2 11.6 2 10.7 2 4.5 2 .3 2-1 2-.1 2 1 2 1.2 2 .6 2 .2 2 0 2 0 2 0 2 0 2 0 2 0 2-.1 2-.7 2-1.9 2-4.7 2-8.7 2-12.5 2-14.7 2-16.6 2-19.7 2-20.5 2-12.3 2 5 2 20 2 22.2 2 13.6 2 4.2 2 1.2 2 3.5 2 7 2 7.8 2 6.6 2 4.9 2 4.2 2 4 2 3.5 2 2.4 2 1.4 2 .6 2 .3 2 0 2 0 2 0 2 0 2 0 2-.1 2-.3 2-.6 2-1 2-.9 2-.7 2-.1 2 .5 2-.1 2-2.4 2-4.5 2-2.4 2 2.5 2 4.5 2 2.4 2 .6 2 .1 2 .3 2 .6 2 .6 2 .4 2 .2 2-.2 2-.7 2-1.1 2-1.4 2-1.3 2-.4 2 .5 2 1.3 2 1.4 2 1.1 2 .7 2 .4 2 .1 2 0 2 0 2 0 2 0 2-.1 2-.3 2-.7 2-1.5 2-2.5 2-2.8 2-1.5 2 .2 2 1.3 2 1.4 2 1.4 2 1.3 2 1 2 .3 2-.5 2-1 2-.8 2 0 2 .6 2 .7 2 .5 2 .3 2 .3 2 .5 2 .7 2 .5 2 .4 2 .2 2 .1 2 0 2 0 2 0 2 0 2 0 1.6 0M478.1 336l2 2.3 2 5.4 2 4.1 2 1.7 2 .4 2 0 2 0 2 0 2 0 2-.1 2-.2 2-.6 2-1.2 2-2 2-2.7 2-2.9 2-2.4 2-1.3 2-.1 2 .6 2 1 2 1.5 2 2 2 2.3 2 2.2 2 1.8 2 1.1 2 .6 2 .3 2 0 2-.1 2-.4 2-.9 2-1.7 2-1.8 2-.7 2 .6 2 .9 2 .3 2-.4 2-.4 2-.1 2 .4 2 .9 2 1.1 2 1 2 .7 2 .4 2 .2 2 .1 2 0 2 0 2 0 2 0 2 0 2 0 2-.1 2-.3 2-1 2-2.2 2-4 2-5.5 2-5.6 2-3.2 2 .7 2 4.3 2 5.8 2 5.1 2 3.4 2 1.7 2 .6 2 .3 2 0 2 0 2 0 2 0 2 0 2 0 2 0 2 0 2 0 2-.3 2-.6 2-1.6 2-3.1 2-5 2-6.7 2-8.2 2-11.2 2-19.5 2-30.8 2-33 2-13.6 2 18.8 2 39.8 2 37.1 2 21 2 6.1 2-2.7 2-7.1 2-9.4 2-9.6 2-7.2 2-2.6 2 2.7 2 6.7 2 8.9 2 8.8 2 7.7 2 5.9 2 3.9 2 2.4 2 1.3 2 .7 2 .3 2 .1 2 0 2 0 2 0 2-.3 2-.8 2-1.4 2-1.3 2-.3 2 .7 2 .7 2 .2 2-.1 2 .1 2 .4 2 .5 2 .4 2-.1 2-1.2 2-2.2 2-2.1 2-.4 2 1.6 2 2.4 2 1.9 2 .9 2 .3 2-.3 2-1 2-1.5 2-1.2 2 .4 2 1.5 2 1.3 2 .7 2 0 2-.1 2-.4 2-.5 2-.5 2-.2 2 .2 2 .3 2 .1 2-.1 2-.4 2-.2 2 .1 2 .5 2 .6 2 .5 2 .2 1.6.1M478.1 345.2l2 1.3 2 1.9 2 1.1 2 .2 2-.3 2-.9 2-1.9 2-2.2 2-1.4 2 .5 2 1.9 2 2.1 2 .9 2-1.3 2-3.8 2-5.7 2-3.9 2 1 2 5.1 2 5.4 2 3.2 2 1.2 2 .3 2 0 2 0 2 0 2 0 2 0 2 0 2 0 2 0 2 0 2 0 2 0 2 0 2 0 2 0 2 0 2 0 2 0 2 0 2 0 2 0 2 0 2 0 2-.3 2-.7 2-1.4 2-2.2 2-2 2-.7 2 1.1 2 2.1 2 2 2 1.3 2 .6 2 .2 2 0 2 0 2 0 2 0 2 0 2 0 2 0 2 0 2 0 2 0 2 0 2 0 2-.2 2-.6 2-1.5 2-2.3 2-2.2 2-.9 2 .6 2 1 2 .5 2 0 2-.1 2-.2 2 0 2 0 2-.2 2-1.1 2-2.1 2-3.7 2-5.5 2-6.3 2-4.6 2-1.6 2-1.4 2-8.6 2-20 2-26.1 2-23.1 2-15.8 2-6.4 2 10.5 2 28.7 2 31.9 2 23.2 2 14.8 2 10.2 2 6.3 2 3 2 .8 2 .1 2 .2 2 .6 2 .7 2 .7 2 .4 2 .2 2 .1 2 0 2 0 2 0 2 0 2 0 2 0 2 0 2 0 2 0 2 0 2 0 2 0 2 0 2 0 2 0 2-.2 2-.2 2-.5 2-.4 2-.2 2 .2 2 .5 2 .4 2 .3 2 .1 2 0 2 0 2 0 2 0 2 0 2 0 2 0 2 0 2 0 2-.2 2-.3 2-.2 2 0 2 .3 2 .3 2 .1 2 0 2 0 2-.1 2-.3 2-.4 2-.6 2-.3 2 0 2 .4 2 .5 2 .5 1.6.2M478.1 349.9l2 0 2 0 2 0 2 0 2 0 2-.1 2-.4 2-1.1 2-2.5 2-4 2-4.7 2-3 2 .2 2 3.5 2 4.6 2 3.9 2 2.2 2 1 2 .3 2 .1 2 0 2 0 2 0 2 0 2 0 2 0 2 0 2 0 2 0 2 0 2 0 2 0 2 0 2 0 2 0 2 0 2 0 2-.2 2-.7 2-1.9 2-2.7 2-1.5 2 1.2 2 2.7 2 2 2 .9 2 .2 2-.1 2-.3 2-.9 2-1.4 2-1.5 2-.8 2 0 2-.1 2-.5 2 .1 2 1.4 2 2 2 1.4 2 .4 2 0 2-.5 2-.8 2-1.1 2-1.3 2-1.1 2 .2 2 1.4 2 1.7 2 1.2 2 .4 2 .2 2 0 2 0 2 0 2 0 2 0 2 0 2 0 2 0 2 0 2 0 2 0 2 0 2 0 2-.3 2-.9 2-2.2 2-4.7 2-8.4 2-11.9 2-13.7 2-12.9 2-11.9 2-14.5 2-19.3 2-18.8 2-6.2 2 13.4 2 26.2 2 24.7 2 14 2 4.3 2 1.1 2 3.3 2 7.3 2 9.4 2 8.9 2 6.4 2 3.9 2 1.8 2 .7 2 .2 2 0 2-.3 2-.6 2-1 2-1.1 2-.8 2-.2 2 .6 2 1 2 .9 2 .1 2-.7 2-1.2 2-1.3 2-.8 2 0 2 .6 2 1.1 2 1.1 2 .7 2 .1 2-.1 2 .1 2 .5 2 .5 2 .4 2 .2 2-.2 2-.5 2-.8 2-.8 2-.5 2 .2 2 .7 2 .9 2 .7 2 .4 2 .2 2 0 2 0 2 0 2 0 2 0 2 0 2 0 2 0 2 0 2 0 2 0 2-.2 2-.9 2-1.7 2-1.6 1.6-.1M478.1 352.1l2 0 2 0 2 0 2 0 2 0 2 0 2 0 2 0 2 0 2 0 2 0 2 0 2 0 2 0 2 0 2 0 2 0 2 0 2 0 2 0 2 0 2 0 2 0 2 0 2 0 2 0 2 0 2 0 2 0 2 0 2 0 2 0 2 0 2 0 2 0 2 0 2 0 2 0 2 0 2 0 2 0 2 0 2 0 2 0 2 0 2 0 2 0 2 0 2 0 2 0 2 0 2 0 2 0 2 0 2-.1 2-.3 2-1 2-2.6 2-4.9 2-7 2-7 2-4.6 2-1.4 2 1.4 2 3.8 2 5.7 2 5.8 2 4.5 2 2.2 2 .4 2-.7 2-.5 2 .3 2 1.2 2 1.5 2 1.4 2 1 2 .6 2 .2 2 .1 2 0 2 0 2 0 2 0 2 0 2 0 2 0 2 0 2 0 2 0 2-.1 2-.3 2-.6 2-1.2 2-1.6 2-1.9 2-2.2 2-1.9 2-.9 2 .7 2 1.8 2 1.5 2-.6 2-3.4 2-5.8 2-6.1 2-4.5 2-2.9 2-2.9 2-5.3 2-10.1 2-14.7 2-13.7 2-3.9 2 9.8 2 18.1 2 16.7 2 10.2 2 5.2 2 3.6 2 4.1 2 4.4 2 3.7 2 2.5 2 1.4 2 .6 2 .2 2 .1 2-.1 2-.3 2-.4 2-.1 2 .2 2 .4 2 .2 2 .1 2 0 2 0 2-.1 2-.1 2-.2 2-.4 2-.3 2-.3 2-.2 2 0 2 .2 2 .2 2 .1 2-.2 2-.3 2-.3 2-.1 2 .2 2 .5 2 .5 2 .4 2 .2 2 .1 2-.1 2-.3 2-.5 2-.6 2-.4 2-.3 2-.1 2 0 1.6.5M478.1 353.3l2-.1 2-.3 2-.6 2-1 2-1.2 2-1.3 2-1 2-.3 2 .3 2 .8 2 .9 2 .5 2 0 2-.2 2-.5 2-.7 2-.9 2-1 2-.7 2 .1 2 1.2 2 1.8 2 1.8 2 1.3 2 .7 2 .3 2 .2 2 0 2 0 2 0 2 0 2 0 2 0 2-.3 2-.8 2-2.4 2-4.3 2-4.5 2-2 2 1 2 2 2 .9 2-.9 2-1 2 1.4 2 3.8 2 3.8 2 2.3 2 .8 2 .1 2-.1 2-.6 2-1.6 2-2.9 2-3.3 2-1.8 2 1.1 2 2.9 2 2.3 2-.1 2-2.2 2-3.2 2-2.4 2 0 2 2.1 2 2.6 2 1.7 2 .7 2 .8 2 1.1 2-.1 2-2.6 2-5 2-4.9 2-1.3 2 3.3 2 5.5 2 4.5 2 2.4 2 .9 2 .3 2 0 2 0 2 0 2 0 2 0 2-.1 2-.1 2-.3 2-.6 2-.9 2-1.4 2-1.5 2-1.1 2-.4 2 .6 2 1.2 2 1.5 2 1.3 2 .9 2 .5 2 .3 2 .1 2 0 2 0 2 0 2 0 2 0 2 0 2 0 2 0 2 0 2 0 2 0 2 0 2 0 2 0 2-.2 2-1.8 2-8.7 2-17.7 2-8.2 2 13.1 2 14.8 2 6.1 2 1.3 2-2.7 2-9.6 2-11.1 2 1.7 2 12 2 7 2-4.2 2-10.9 2-.7 2 11 2 7.1 2 1.6 2 .1 2-.1 2-.1 2-.4 2-.7 2-1 2-1.1 2-.5 2 0 2-1 2-8.8 2-19.8 2-8.4 2 16.7 2 17 2 5.1 2 0 2-2.4 2-8.4 2-12.8 2-2.3 2 12.3 2 11.6 2 4.2 2 .8 2 .1 2 0 2 0 2 0 1.6 0M478.1 352.1l2 0 2 0 2 0 2 0 2 0 2 0 2 0 2 0 2 0 2 0 2 0 2 0 2 0 2 0 2 0 2-.1 2-.2 2-.7 2-1.6 2-3.2 2-5.1 2-6.3 2-5.7 2-3 2 1.2 2 4.5 2 5.4 2 2.2 2-5.1 2-15.3 2-23.8 2-22.4 2-8.7 2 9.1 2 18.7 2 15.9 2 8.4 2 4.7 2 6.1 2 8.2 2 7.8 2 5.2 2 2.5 2 1 2 .2 2 .1 2-.2 2-.9 2-2.3 2-3 2-1.1 2 2 2 3 2 1.8 2 .6 2 .1 2 0 2 0 2 0 2 0 2 0 2 0 2-.1 2-.4 2-1.2 2-2.9 2-5.2 2-6.4 2-5.2 2-2 2 1.2 2 4.2 2 6.3 2 5.9 2 3.8 2 1.5 2 .4 2 .1 2 0 2-.1 2-.1 2-.6 2-1.2 2-2.4 2-3.3 2-3.3 2-1.9 2 .6 2 2.7 2 3.5 2 2.9 2 1.8 2 .9 2 .4 2 .1 2 0 2-.1 2-.1 2-.2 2-.2 2-.2 2-.1 2 .2 2 .2 2 .3 2 0 2-.4 2-1 2-1.4 2-1 2-.4 2-.9 2-2.1 2-3.4 2-3.6 2-1.9 2 1.3 2 4.1 2 4.6 2 3.3 2 1.4 2 .3 2 .1 2 .3 2 .4 2 .3 2 .1 2 0 2-.2 2-.4 2-.6 2-.3 2 0 2-.2 2-1 2-1.2 2-.5 2 .9 2 1.4 2 .8 2-.2 2-.6 2-.2 2 .6 2 .9 2 .4 2 0 2-.3 2-.4 2-.4 2-.3 2-.1 2 .3 2 .4 2 .4 2 .4 2 .2 2 .2 2 .1 2 0 2 0 2 0 2 0 2 0 2 0 2 0 2 0 1.6 0M478.1 350l2-.3 2 .1 2 .4 2 .6 2 .5 2 .4 2 .2 2 .1 2 .1 2 0 2 0 2 0 2 0 2 0 2 0 2 0 2 0 2 0 2 0 2 0 2 0 2 0 2-.1 2-.4 2-1.1 2-2.4 2-4.2 2-5.1 2-4.1 2-.7 2 3.1 2 5.1 2 4.6 2 3.1 2 1.4 2 .4 2-.2 2-1.2 2-2.9 2-5.5 2-8.4 2-10.4 2-10.4 2-8.1 2-4.4 2-.4 2 1.6 2-1.7 2-10.4 2-16.4 2-10.8 2 4.8 2 18.2 2 19.8 2 11.9 2 3.9 2 2.1 2 4.6 2 6.7 2 5.9 2 3.3 2 1.1 2-.1 2-.3 2-.6 2-1.5 2-1.4 2 .3 2 2.2 2 2.8 2 2.5 2 2 2 1.1 2 .5 2 .2 2 0 2 0 2 0 2 0 2 0 2 0 2 0 2-.1 2-.4 2-1.3 2-2.8 2-3.4 2-2.1 2 .8 2 3.1 2 3.2 2 2 2 .8 2 .2 2 0 2 0 2 0 2 0 2 0 2-.2 2-.6 2-1.1 2-.9 2 .1 2 1 2 1 2 .5 2 .2 2 0 2 0 2 0 2 0 2 0 2 0 2 0 2 0 2 0 2 0 2-.1 2-.3 2-.4 2-.6 2-.5 2-.2 2 .1 2 .3 2 .3 2 .3 2 .3 2-.2 2-1.2 2-2.1 2-1.3 2 .9 2 2.2 2 1.6 2 .7 2 .2 2 0 2 0 2 0 2 0 2 0 2 0 2 0 2 0 2 0 2 0 2 0 2 0 2 0 2 0 2 0 2 0 2 0 2 0 2 0 2 0 2 0 2 0 2 0 2 0 2 0 2 0 2 0 2 0 2 0 1.6 0M478.1 338l2 3.5 2 1.2 2-1 2-2.4 2-2.5 2-1.7 2-1.1 2-2 2-5.6 2-11.5 2-17.1 2-19.3 2-17.7 2-14.7 2-12.7 2-8.7 2 1.5 2 15.4 2 23.2 2 20.7 2 14.1 2 10.9 2 11.4 2 11.4 2 8.7 2 4.9 2 2.1 2 .7 2 .2 2-.2 2-.6 2-1.5 2-2.6 2-2.7 2-1.4 2 .5 2 1.6 2 2.1 2 2 2 1.5 2 .8 2 .4 2 .1 2 0 2 0 2 0 2 0 2 0 2-.2 2-1.3 2-4.2 2-8.3 2-8.4 2-1.5 2 6 2 7.2 2 4.4 2 2.3 2 1.4 2 .9 2 .6 2 .2 2-.2 2-.1 2 .1 2 .3 2 .4 2 .3 2 .1 2-.2 2-1 2-3.1 2-6 2-6.7 2-2.5 2 4.1 2 7 2 5.2 2 2.4 2 .7 2 .1 2 0 2 0 2 0 2 0 2 0 2 0 2 0 2 0 2 0 2 0 2 0 2 0 2 0 2 0 2 0 2 0 2 0 2 0 2 0 2 0 2 0 2 0 2 0 2 0 2 0 2 0 2 0 2 0 2 0 2 0 2 0 2 0 2 0 2 0 2 0 2 0 2 0 2 0 2 0 2 0 2 0 2 0 2 0 2 0 2 0 2 0 2 0 2 0 2 0 2 0 2 0 2 0 2 0 2 0 2 0 2 0 2 0 2 0 2 0 2 0 2 0 2 0 2-.1 2-.4 2-.9 2-1.7 2-1.6 2-1 2 0 2 .9 2 1.4 2 1.5 2 1 2 .6 2 .2 2 .1 2 0 2 0 2 0 2 0 2-.2 2-.3 2-.6 2-.8 2-.8 2-.7 1.6-.2M478.1 347.3l2-3.7 2-3.1 2-1.1 2 .8 2 1.6 2 2.2 2 3 2 2.7 2 1.1 2-.4 2-1.5 2-2 2-2.2 2-1.7 2-.5 2 .8 2 1.9 2 2.2 2 2 2 1.3 2 .8 2 .4 2 .1 2 .1 2 0 2 0 2 0 2 0 2 0 2 0 2 0 2 0 2 0 2 0 2 0 2 0 2 0 2 0 2 0 2 0 2 0 2 0 2 0 2 0 2 0 2 0 2 0 2 0 2 0 2 0 2 0 2 0 2 0 2 0 2 0 2-.1 2-.2 2-.6 2-.9 2-1.4 2-1.3 2-.8 2 .2 2 1.1 2 1.4 2 .7 2-1 2-3.2 2-2.9 2 .8 2 3.3 2 2 2-.9 2-3.4 2-6.3 2-10.2 2-14.3 2-16 2-12.8 2-5.1 2 1.3 2 .4 2-6.6 2-9.5 2-.4 2 14.5 2 23.2 2 21.6 2 13.4 2 4.4 2-2.6 2-7 2-8.3 2-6.6 2-3.1 2 .5 2 3 2 5.6 2 8 2 8.5 2 5.9 2 2.3 2-.5 2-2.1 2-2.9 2-3.5 2-3.7 2-3.2 2-2.2 2-2.3 2-1.7 2 2.8 2 6.9 2 6.7 2 4.3 2 2.5 2 1.4 2 .6 2 .2 2 .1 2 0 2 0 2 0 2 0 2 0 2 0 2 0 2 0 2-.1 2-.1 2-.3 2-.5 2-.8 2-.6 2-.3 2 .2 2 .6 2 .7 2 .6 2 .4 2 .1 2 .1 2 0 2 0 2 0 2 0 2 0 2 0 2 0 2 0 2 0 2 0 2 0 2 0 2 0 2 0 2 0 2 0 2 0 2 0 2 0 2 0 2 0 2 0 2 0 2 0 2 0 1.6 0M478.1 352.1l2 0 2 0 2 0 2 0 2 0 2 0 2-.2 2-.6 2-1.5 2-2.9 2-3.9 2-3 2-.3 2 2.6 2 3.9 2 3.2 2 1.8 2 .6 2 .3 2 0 2 0 2 0 2-.2 2-.7 2-1.3 2-1.5 2-.8 2 .8 2 1.6 2 1.3 2 .6 2 .2 2 0 2 0 2 0 2 0 2 0 2 0 2 0 2 0 2 0 2 0 2-.1 2-.2 2-.7 2-1.1 2-1.2 2-.6 2 .5 2 1.2 2 1.1 2 .7 2 .3 2 0 2-.1 2-.4 2-.7 2-1.2 2-1.5 2-1.2 2-.5 2 .5 2 1.2 2 1.3 2 .7 2-.3 2-1.7 2-3 2-3.3 2-2 2 .4 2 2.6 2 2.9 2 1.3 2-1.2 2-3.2 2-2.9 2-.3 2 2.6 2 3.9 2 3.3 2 1.9 2 .7 2 .2 2 .1 2 0 2 0 2-.1 2-.3 2-.6 2-1.3 2-2 2-2.8 2-2.9 2-2.1 2-.6 2 1.1 2 2.5 2 2.9 2 2.4 2 1.5 2 .1 2-1.3 2-2.7 2-4.1 2-4.6 2-4.8 2-5 2-4.2 2 .7 2 6.8 2 7.5 2 3.3 2-.5 2-1.7 2-1.2 2 0 2 1.8 2 3.1 2 3.5 2 2.7 2 1.7 2 .8 2 .3 2 .1 2-.1 2-.2 2-.3 2-.3 2-.2 2 .1 2 .3 2 .3 2 .2 2 .1 2 .1 2 0 2 0 2 0 2 0 2 0 2 0 2 0 2-.1 2-.8 2-4 2-9.6 2-7.5 2 1.7 2-.9 2-4.2 2 8.4 2 12 2 4.3 2 .2 2-3 2-9.1 2-10.4 2 1.5 2 11.2 2 6.8 2-2.4 2-7.8 2-.6 2 7.9 2 5.2 2 1.1 1.6.1M478.1 348.1l2-.2 2-.3 2-.6 2-1.5 2-3.7 2-7.2 2-11.8 2-16 2-18.3 2-18.7 2-17.7 2-14.7 2-6.9 2 6.7 2 21.1 2 28.9 2 27 2 18.9 2 10.3 2 3.8 2-.4 2-3.9 2-6.6 2-6.9 2-3.7 2 1.4 2 3.8 2-.3 2-7.8 2-8.8 2-2.6 2 3 2 7.2 2 10.7 2 9.5 2 5.1 2 1.7 2 .3 2-.1 2-.1 2-.1 2-.1 2-.1 2-.1 2-.1 2-.1 2-.1 2-.1 2-.1 2-.5 2-1 2-2.2 2-3.6 2-5.5 2-7.9 2-5.8 2 4.4 2 10.9 2 7.5 2 2.6 2 .7 2 .2 2 .1 2-.1 2-.2 2-.4 2-.4 2-.1 2 .3 2 .7 2 .7 2 .6 2 .3 2 .3 2 .2 2 .3 2 .2 2 .2 2 .3 2 .2 2 .1 2-.1 2-.3 2-.8 2-2.2 2-4.8 2-7.5 2-7.1 2-3.3 2-.4 2 1.9 2 5.6 2 8.3 2 7.2 2 3.9 2 1.3 2-.1 2-1.3 2-3 2-5 2-6.2 2-5.3 2-2.5 2 2 2 6 2 6.3 2 3.4 2 .1 2-1.2 2-.8 2 .2 2 .7 2 .8 2 .7 2 .7 2 .6 2 .4 2 .2 2 .1 2 .1 2 .1 2 .1 2 .1 2 .1 2 0 2-.3 2-.9 2-1.8 2-2.2 2-1.7 2-.2 2 1.3 2 2 2 2 2 1.5 2 1 2 .7 2 .3 2 .1 2-.1 2-.6 2-1.4 2-2.7 2-3 2-.6 2 2.3 2 3.1 2 1.8 2 .6 2 .1 2 .1 2 0 2 .1 2 .1 2 .1 2 .1 2 .1 2 .1 2-.2 2-.3 2-.4 2-.3 2 0 2 .4 2 .5 2 .5 2 .2 1.6.1M478.1 346.1l2-5.4 2-6.2 2-6.7 2-6.6 2-4.9 2-1.1 2 3.6 2 6.2 2 6.1 2 4.2 2 1.4 2-2.7 2-7.9 2-12.1 2-14.1 2-15.5 2-15.7 2-6.4 2 14 2 29.7 2 27.9 2 15.6 2 5.7 2 .9 2-1.8 2-5.1 2-6.9 2-3 2 4 2 6.8 2 4 2 .4 2-2 2-2.9 2-2.1 2-.1 2 1.8 2 1.9 2 .2 2-2.3 2-3.7 2-2.9 2 .2 2 3.1 2 4.2 2 3.4 2 1.9 2 .8 2 .4 2 .1 2 .2 2 .1 2 .2 2 .1 2 .1 2 .2 2 .1 2 .1 2 0 2 0 2-.1 2-.3 2-.9 2-1.8 2-3.2 2-4.6 2-5.2 2-4.3 2-2.2 2 .6 2 3 2 4.3 2 4.3 2 3.3 2 2.1 2 .9 2 .3 2 0 2-.2 2-.3 2-.4 2-.9 2-1.7 2-2.5 2-2.8 2-2.2 2-.4 2 1.2 2 .9 2-1.4 2-2.8 2 .1 2 4.2 2 4.8 2 2.4 2 .8 2 .1 2 0 2 0 2-.1 2 0 2 0 2 0 2-.1 2 0 2 0 2 0 2 0 2 0 2 0 2-.2 2-.5 2-.8 2-1.1 2-.9 2-.1 2 .8 2 1.3 2 1.2 2 .7 2 0 2-.8 2-1.2 2-.9 2 .1 2 1.1 2 1.4 2 1.1 2 .4 2-.2 2-.4 2-.3 2-.5 2-1.8 2-3.4 2-2.9 2 .1 2 3.2 2 3.8 2 2.3 2 .7 2-.3 2-1 2-1.2 2-.2 2 1 2 1.4 2 1 2 .5 2 0 2-.4 2-.8 2-1.1 2-1.3 2-1.1 2-.5 2 .1 2 .3 2 0 2-1 2-2 2-1.7 2 .7 2 3.4 2 3.5 2 2 2 .7 1.6.1M478.1 300.2l2 14.7 2 2.2 2-12.8 2-11.2 2 5.7 2 19.6 2 19.5 2 11.1 2 4 2 .3 2-2.5 2-6.4 2-10.7 2-11.5 2-7.2 2-2.4 2-.8 2 4.3 2 13.4 2 14.5 2 7.5 2 1.2 2-2.6 2-6.9 2-13.3 2-19.8 2-22.1 2-15.3 2 0 2 16.1 2 22.9 2 18.1 2 7.6 2-1.7 2-5.5 2-3.3 2 2 2 6.2 2 6.3 2 3.5 2 .2 2-1.7 2-1.3 2 .4 2 2 2 2.8 2 2.3 2 1.3 2 0 2-2.2 2-6.8 2-12.9 2-15.3 2-8.8 2 3.6 2 13.3 2 14.6 2 9.9 2 4.5 2 1.4 2 .4 2 .1 2 .1 2-.1 2-.7 2-2.7 2-4.9 2-4.4 2 0 2 3.4 2 1.3 2-4 2-6.2 2-3.8 2 .3 2 2.8 2 3.9 2 4.6 2 4.3 2 3.2 2 1.5 2-.4 2-2 2-3.5 2-4.1 2-4.5 2-6 2-7.3 2-1.9 2 8.2 2 11.3 2 5.6 2-1 2-5.8 2-8.4 2-7.9 2-2.9 2 4.2 2 8.7 2 8.7 2 5.5 2 2 2-.9 2-4 2-6.9 2-7.1 2-2.6 2 3.8 2 7.4 2 6.3 2 3.4 2 1.3 2 .3 2 0 2-.1 2-.1 2-.1 2-.2 2-.4 2-.6 2-.7 2-.7 2-.4 2 0 2 .4 2 .7 2 .8 2 .5 2 .4 2 .2 2 .1 2 0 2-.1 2-.1 2 0 2-.2 2-.1 2-.1 2-.2 2-.3 2-.4 2-.6 2-.9 2-1 2-.7 2-.3 2 .3 2 .7 2 .8 2 .7 2 .4 2 .3 2 .1 2 .1 2 .1 2 .2 2 .1 2 .1 2 .2 2 .1 2 .2 2 .1 2 .2 2 .1 2 .1 2-.2 2-.5 1.6-.4M478.1 338.1l2 3 2 .4 2-4.2 2-9 2-11.9 2-11.3 2-7 2-.4 2 6 2 10.3 2 11.4 2 10.3 2 8 2 5.3 2 3.1 2 1.6 2 .6 2 .2 2 0 2-.1 2-.1 2-.3 2-.5 2-1.3 2-2.8 2-4.9 2-6.9 2-7.2 2-4.9 2-.3 2 4.4 2 6.6 2 5.2 2 .5 2-4.4 2-6.2 2-5.4 2-2.2 2 5.2 2 10.2 2 8 2 3.7 2 1.2 2 .4 2 0 2-.1 2-.2 2-.6 2-1.7 2-3.8 2-6.6 2-8.2 2-6.4 2-1.6 2 2.4 2 2 2-1.6 2-3.3 2-.7 2 2.5 2 2.2 2-.4 2-.6 2 3.3 2 7.1 2 7.3 2 4.9 2 2.3 2 .9 2 .2 2 .1 2 0 2 0 2 0 2 0 2 0 2 0 2 0 2 0 2-.1 2 0 2 0 2 0 2-.1 2 0 2-.1 2 0 2-.1 2-.1 2 0 2-.1 2-.1 2-.1 2-.8 2-4.2 2-10.6 2-10.7 2 2.4 2 12.2 2 8.6 2 2.6 2 .4 2 0 2 .1 2 0 2 .1 2 .1 2 0 2 .1 2 .1 2 .1 2 .1 2 .1 2 0 2-.1 2-.4 2-1.1 2-1.8 2-1.9 2-1.3 2 .2 2 1.6 2 2.2 2 2 2 1.2 2 .1 2-1.2 2-3.4 2-5.8 2-7 2-5.8 2-2.5 2 2.1 2 6.7 2 8.5 2 5.5 2 .5 2-3.1 2-2.6 2 1.2 2 4 2 3.6 2 1.7 2 .6 2 .1 2 .1 2 0 2 .1 2 0 2 0 2-.1 2-.1 2-.2 2-.4 2-1.1 2-1.9 2-3.1 2-3.9 2-4.1 2-3.7 2-2.7 2-1.3 2 .9 2 3.5 2 5.1 2 5 2 3.5 1.6 1.7M478.1 354.8l2-.1 2-.3 2-.2 2-.3 2-.3 2-.3 2-.4 2-.5 2-.8 2-1.6 2-2.4 2-3.1 2-3 2-2.4 2-3.5 2-6.9 2-8.9 2-4.6 2 2.9 2 6.1 2 4.1 2 2.5 2 3.9 2 5.6 2 5.2 2 3.4 2 1.5 2-.1 2-2.2 2-5.3 2-8.4 2-7.9 2-2.3 2 5.2 2 9.2 2 8.2 2 4.8 2 2 2 .6 2 .1 2 0 2-.1 2-.8 2-2.5 2-5.5 2-7.2 2-4.3 2 1.6 2 4 2 .3 2-5.8 2-9.1 2-7 2-1.8 2 2.9 2 5.3 2 6.3 2 6.4 2 5.4 2 4 2 2.5 2 1.5 2 .8 2 .5 2 .3 2 .3 2 .3 2 .3 2 .3 2 .3 2 .3 2 .2 2-.1 2-.9 2-2.5 2-3.9 2-2.9 2 .6 2 3.8 2 4 2 2.1 2-1.1 2-6.4 2-12.7 2-15.4 2-13.9 2-9.5 2-.3 2 10.2 2 11.9 2 4.6 2 1 2 6.6 2 10.8 2 8 2 3.6 2 1.1 2-.9 2-4.3 2-8.4 2-8.3 2-1.2 2 6.1 2 7.8 2 5.6 2 3 2 1.1 2 .3 2 0 2-.2 2-.5 2-.9 2-1.3 2-1.5 2-1.3 2-.4 2 .9 2 1.8 2 1.5 2 .9 2 .4 2 0 2-.3 2-.5 2-1 2-1.2 2-.9 2-.3 2 .5 2 .8 2 .5 2-.3 2-.7 2-.9 2-.4 2 .2 2 .7 2 .8 2 .6 2-.1 2-.9 2-1.3 2-1 2 .1 2 1.1 2 1.6 2 1.2 2 .8 2 .5 2 .4 2 .4 2 .3 2 .4 2 .4 2 .4 2 .3 2 .4 2 .3 2 .3 2 .3 2 .2 2 .2 2 .2 2 .1 2 .1 2 0 2 0 1.6-.1M478.1 351.8l2 .1 2 0 2-.1 2-1.2 2-4.7 2-10 2-11 2-7.7 2-9.1 2-5.7 2 10.5 2 18.7 2 12.6 2 5.1 2 1.5 2 .2 2-.2 2-.3 2-.4 2-.7 2-1.5 2-2.4 2-3.8 2-5.6 2-7.8 2-9.5 2-8 2-1.7 2 6.6 2 11.5 2 10.5 2 6.4 2 2.7 2 .7 2-.5 2-2.2 2-5.1 2-6.8 2-4.1 2 2.1 2 6.4 2 6.1 2 3.2 2 1.1 2 .3 2 .1 2 0 2 0 2 .1 2 0 2 .1 2 .1 2 0 2 .1 2 .1 2 .2 2 .1 2 .1 2 .2 2 .2 2 .2 2 .2 2 .2 2 .2 2-.1 2-.5 2-1.1 2-2 2-2.4 2-2.1 2-1.5 2-.9 2-1.2 2-1.7 2-1.6 2-.2 2 1.8 2 3.3 2 3.6 2 3 2 2 2 1.2 2 .5 2-.5 2-3.6 2-9.8 2-13.6 2-6.1 2 7.4 2 12.3 2 8 2 3.3 2 1.1 2 0 2-1.4 2-4.1 2-7.9 2-11.7 2-13.1 2-9.9 2-3.2 2 1.5 2-.3 2-5.5 2-4.8 2 5.4 2 16.4 2 18.5 2 12.6 2 5.2 2-.1 2-3.7 2-6.4 2-6.2 2-2.3 2 3.2 2 6.5 2 5.8 2 3.1 2 .6 2-.5 2-.4 2 .1 2 .5 2 .3 2-.4 2-.9 2-.2 2 1.4 2 2 2 1.8 2 1.1 2 .2 2-1 2-1.8 2-.9 2 1 2 1.9 2 1.5 2 .6 2 .1 2 0 2-.1 2-.1 2-.4 2-.4 2-.4 2 0 2 .1 2-.1 2-.4 2-.7 2-.8 2-.9 2-.5 2-.1 2 .2 2 .3 2 0 2-.4 2-1.1 2-1.3 2-.7 2 .1 2 .9 2 1 2 .6 1.6.2M478.1 326.4l2-1.4 2-6 2-8.6 2-6.3 2-.4 2 5.9 2 10.1 2 10.8 2 9 2 6 2 3.4 2 1.6 2 .6 2 0 2-.6 2-1.5 2-2.7 2-4 2-4.5 2-3.7 2-1.4 2 1.5 2 3.9 2 4.9 2 4.3 2 2.8 2 .3 2-3.8 2-10.3 2-16.3 2-15.1 2-3 2 11.6 2 17.4 2 13.7 2 7 2 2.6 2 .8 2 .3 2 .2 2 .1 2 .1 2-.1 2-.7 2-2.6 2-4.7 2-4.7 2-.7 2 3.8 2 4.5 2 1.8 2-1.2 2-2.5 2-1.5 2 .6 2 2.2 2 2.6 2 1.9 2 .8 2 .3 2 0 2-.2 2-.2 2-.4 2-.9 2-1.1 2-.6 2-.3 2-1.6 2-4.5 2-6.5 2-4.6 2 .6 2 4.4 2 4.5 2 2.9 2 2 2 1.8 2 1.7 2 1.3 2 .7 2 .3 2 .1 2-.3 2-1.3 2-3 2-4 2-1.9 2 1.6 2 3.2 2 1.9 2 0 2-.6 2-.2 2 .5 2 1.1 2 1 2 .1 2-1.6 2-3.7 2-4.6 2-2.8 2 .8 2 2.6 2 1.7 2 0 2-.1 2 1.3 2 2.6 2 2.8 2 2.1 2 1.2 2 .6 2 .3 2 .2 2 .1 2 .2 2 .1 2 .1 2 0 2 0 2-.3 2-1.3 2-3.4 2-5.2 2-3.8 2 .9 2 4.8 2 4.9 2 2.7 2 .9 2 0 2-.7 2-1.7 2-3.2 2-4.6 2-4.3 2-2 2 1.4 2 4 2 4.5 2 3.4 2 1.8 2 .6 2 .1 2-.3 2-.8 2-1.7 2-2.3 2-1.6 2 .1 2 .8 2 .1 2-.8 2-1.1 2-.9 2-.7 2-.1 2 .6 2 1.2 2 1.4 2 1 2-.5 2-3.9 2-6.9 2-4.1 2 3.2 1.6 5.8M478.1 302.4l2 26.4 2 16.5 2 4.5 2 .6 2 0 2-.1 2-.1 2 0 2-.1 2-.1 2 0 2 0 2-.1 2 0 2 0 2 0 2 0 2 .1 2 0 2 .1 2 0 2-.2 2-2.1 2-8.3 2-15.8 2-10.9 2 7.4 2 16.5 2 10.6 2 3.4 2 .7 2 .3 2 .2 2 .2 2 .2 2 .2 2 .2 2 .2 2 .2 2 .2 2 .2 2 .2 2 .1 2 .1 2-.1 2-1.6 2-4.7 2-5.9 2-.3 2 5.8 2 5 2 1.7 2 .3 2-.1 2-.3 2-.3 2-.7 2-1 2-1.1 2-.9 2-.4 2 .4 2 .8 2 .9 2 .6 2 .4 2 .1 2 0 2 0 2 0 2 0 2-.1 2 0 2 0 2 0 2-.1 2-.1 2-.4 2-1.6 2-4.3 2-8.6 2-11.1 2-7.5 2-.7 2 6.3 2 11.5 2 10.1 2 4.5 2 1 2 .1 2 0 2-.1 2-.2 2-.8 2-2.7 2-6.8 2-13 2-16.8 2-12.9 2-2.4 2 5.9 2 9.1 2 12.3 2 12.5 2 6.4 2 .3 2-1.3 2-.4 2 .3 2-1.5 2-5.1 2-6 2-1.9 2 3 2 4.1 2 3.5 2 3.2 2 3.2 2 2.5 2 1.3 2-.1 2-1.7 2-3 2-3.3 2-2.3 2 0 2 2.1 2 3.2 2 3 2 2.1 2 1.1 2 .2 2-.3 2-.3 2 .2 2 .1 2-.5 2-1.6 2-2.4 2-2.3 2-1.2 2 .6 2 2 2 2.3 2 1.7 2 .9 2 .3 2 .1 2 0 2-.1 2 0 2-.1 2-.3 2-.9 2-1.9 2-2.6 2-2.1 2 0 2 1.9 2 2.1 2 .4 2-2.3 2-4.2 2-3.9 2-1.2 2 2.6 2 4.8 1.6 3.8M478.1 328.4l2-4.1 2-13.9 2-15.8 2-8.7 2 .2 2 3.5 2 1.2 2 1.2 2 5.2 2 1.9 2-7.6 2-6.4 2 3.9 2 6.5 2 2.3 2 1.9 2 7.3 2 12.8 2 12.9 2 7.2 2-1.2 2-10.3 2-16 2-10.3 2 5.1 2 15.3 2 13.9 2 7.8 2 3.5 2 1.3 2 .2 2-.4 2-.8 2-1.5 2-2.1 2-2.1 2-1.6 2-.3 2 1.1 2 2.2 2 2.5 2 2.3 2 1.7 2 1 2 .6 2 .4 2 .2 2-.2 2-.6 2-1.4 2-1.7 2-1.2 2 .2 2 1.2 2 1 2-.6 2-2.9 2-4.8 2-5.6 2-5.1 2-4.2 2-3.2 2-1 2 3.3 2 7.6 2 8.8 2 6.6 2 3.4 2 1.3 2 .3 2 .1 2 0 2 0 2 0 2 0 2 0 2 0 2-.1 2-.5 2-1.6 2-2.1 2-.7 2-.6 2-6.1 2-10.7 2-3.2 2 7.9 2 8 2 2.7 2 .3 2 .1 2-1.1 2-2.8 2-1.3 2 2.5 2 3.9 2 2 2 .4 2-.1 2-.2 2-.2 2-.2 2-.2 2-.1 2-.2 2-.1 2 0 2 0 2 0 2 0 2 0 2 .1 2 .1 2 .1 2 .1 2 .2 2 .2 2 .1 2 .2 2 .2 2 .2 2 .2 2 .2 2 .2 2 .2 2 .2 2 .2 2 .2 2 .1 2-.1 2-.6 2-1.1 2-1.6 2-1.5 2-.5 2 .9 2 1.6 2 1.7 2 1 2 .5 2 0 2-.2 2-.5 2-.8 2-.8 2-.6 2-.2 2 .2 2 .2 2 0 2-.5 2-1.2 2-1.8 2-2.5 2-2.7 2-2 2-.6 2 1 2 1.9 2 2 2 1.4 2 .7 2 .2 2 .3 2 .5 2 .6 2 .4 1.6.2M478.1 327.2l2 2.2 2 4.7 2 5.4 2 4.5 2 2.7 2 .3 2-2.3 2-5.1 2-7.7 2-8.4 2-4.9 2 2 2 7.8 2 9.1 2 6.6 2 3.4 2 .6 2-1.4 2-2.9 2-3.8 2-4.2 2-4.1 2-2.7 2 .7 2 4.8 2 6.7 2 5.3 2 2.9 2 1.1 2 .2 2 0 2-.1 2-.3 2-.5 2-1.5 2-3.4 2-6.4 2-11.2 2-17.6 2-20.2 2-8.4 2 13.8 2 24 2 16.1 2 3.6 2-4.1 2-7.9 2-9.6 2-9.3 2-6.7 2-2 2 3.7 2 8.7 2 11.5 2 11.1 2 8.3 2 5 2 2.4 2 1 2 .3 2 .1 2 0 2 .1 2 0 2 .1 2 .1 2 0 2 .1 2 .1 2 .1 2 0 2 0 2 .1 2-.1 2 0 2-.1 2-.1 2-.1 2-.2 2-.2 2-.2 2-.2 2-.2 2-.3 2-.2 2-.2 2-.3 2-.6 2-1.8 2-4.9 2-9.8 2-12.3 2-7.6 2 3 2 10.9 2 10.7 2 5 2-1.1 2-5.6 2-8.4 2-8.7 2-6.1 2-.7 2 5 2 8.6 2 9.1 2 6.7 2 3.3 2 .2 2-1.7 2-1.6 2-.1 2 2 2 3.2 2 3 2 2.1 2 1.3 2 .6 2 .4 2 .2 2 0 2-.5 2-1.3 2-2.2 2-2.6 2-1.9 2-.7 2 1.2 2 2.9 2 3.2 2 2.1 2 .9 2 .1 2-.2 2-.4 2-.5 2-.7 2-.7 2-.4 2-.2 2 .1 2 .1 2-.1 2-.2 2-.3 2-.5 2-.7 2-.8 2-.9 2-.8 2-.4 2 0 2 .3 2 .5 2 .3 2 .2 2 0 2-.5 2-1.6 2-2.8 2-2.9 2-1.1 2 .8 2 1.1 2 .7 2 .6 2 .9 1.6 1M478.1 217.8l2 11.3 2 33.3 2 38.5 2 28.2 2 14.5 2 5.4 2 1.5 2 .1 2-.2 2-.3 2-.3 2-.4 2-.3 2-.4 2-.3 2-.3 2-.3 2-.2 2-.2 2-.2 2-.2 2-.5 2-1 2-1.9 2-2.5 2-1.9 2-.3 2 1.7 2 2.6 2 2.3 2 1.5 2 .7 2 .3 2 .1 2 .1 2 0 2 0 2-.1 2 0 2-.1 2-.1 2-.1 2-.1 2-.1 2-.2 2-.1 2-.1 2-.1 2-.1 2 0 2-.1 2 0 2-.2 2-.4 2-1.3 2-2.4 2-2.8 2-1.3 2 1.4 2 2.8 2 2.6 2 1.3 2 .6 2 .2 2 .1 2-.2 2-.9 2-3.1 2-6.8 2-9.2 2-7.3 2-3.2 2-1.8 2-4 2-4 2 2 2 6.6 2 3.8 2-.7 2-.5 2 3.4 2 7.4 2 8.5 2 6.7 2 3.9 2 1.3 2-.7 2-3.3 2-6.7 2-9.8 2-10 2-5.2 2 2.4 2 8.8 2 10.3 2 8.1 2 4.5 2 2 2 .6 2 0 2 0 2-.2 2-.1 2-.2 2-.3 2-.7 2-1.6 2-2.6 2-3.4 2-3.7 2-4 2-4.7 2-4.1 2-.9 2 3.6 2 6.2 2 6 2 4 2 2 2 .7 2 .1 2-.2 2-.5 2-.9 2-1.6 2-2.2 2-2.6 2-2.4 2-1.8 2-.1 2 1.7 2 2 2 .6 2-.8 2-1.8 2-3.1 2-4.7 2-5.7 2-4.1 2 0 2 4.2 2 5.8 2 5.1 2 3.7 2 2.8 2 2.1 2 1.5 2 .7 2-.3 2-1.7 2-2.7 2-2.6 2-.7 2 1.8 2 2.9 2 2.5 2 1.4 2 .7 2 .2 2 .2 2 .2 2 .2 2 .2 2 .2 2 .2 2 .3 2 .2 1.6.2M478.1 337.6l2-10 2-9.6 2-4.6 2-.4 2-2.7 2-9.5 2-10.6 2-2.6 2 4.6 2 5.3 2 5.8 2 10.3 2 13.6 2 11.7 2 6.6 2 2.1 2-.6 2-2.5 2-3.8 2-4.6 2-4.4 2-2.6 2 0 2 2.5 2 4.1 2 4.3 2 3.3 2 2.2 2 1.1 2 .5 2 .1 2-.1 2-.2 2-.6 2-1.8 2-4 2-6.6 2-7.4 2-4.9 2 .9 2 5.9 2 7.8 2 6.1 2 3.3 2 .7 2-1.8 2-4.1 2-5.3 2-3.8 2-.8 2 1.3 2 1 2-.2 2-1.5 2-2.7 2-3.5 2-3.3 2-1.5 2 1.5 2 4.7 2 6.4 2 6.3 2 5 2 2.8 2 .2 2-3.3 2-8 2-11.6 2-10 2-2.1 2 7.3 2 11.7 2 9.9 2 5.5 2 2.2 2 .6 2 .1 2-.1 2-.1 2-.1 2-.1 2-.1 2-.1 2-.1 2-.2 2-.5 2-1 2-1.8 2-2.4 2-2.4 2-1.5 2-.1 2 .8 2 .6 2-.3 2-.9 2-.3 2 .8 2 1.3 2 .6 2-1.2 2-3.1 2-3.9 2-3.1 2-1.4 2 .4 2 .5 2-1.4 2-3.8 2-4.8 2-2.4 2 2.1 2 6.3 2 7.8 2 6.7 2 4.1 2 2 2 .5 2-.3 2-1.1 2-1.9 2-2.1 2-1.2 2 1.1 2 2.7 2 2.3 2 1 2 .3 2 0 2-.2 2-.4 2-.7 2-.6 2-.3 2 .4 2 .8 2 .8 2 .6 2 .3 2 0 2-.2 2-.3 2-.4 2 0 2 .3 2 .7 2 .9 2 .8 2 .6 2 .5 2 .3 2 .3 2 .1 2 0 2-.1 2 .1 2 .1 2 .2 2 .1 2-.4 2-.8 2-.9 2-.3 2 .7 2 1.3 2 1.3 2 .8 1.6.2M478.1 319.8l2-3.3 2 1.4 2 5.6 2 7.4 2 6.3 2 3.2 2 .5 2-.1 2-.9 2-2.8 2-3.1 2-1.4 2 1 2 2.8 2 3.1 2 2.8 2 2 2 1.2 2 .7 2 .2 2-.1 2-.6 2-1.3 2-2.6 2-3.8 2-3.9 2-1.7 2 2 2 4.2 2 2.7 2-2.8 2-10.9 2-14.5 2-5.3 2 8.7 2 12.9 2 8.8 2 4.7 2 2.4 2 1.3 2 .6 2 0 2-.7 2-2.1 2-4.2 2-6.6 2-7.8 2-7 2-4.1 2-.1 2 3.9 2 6.7 2 6.7 2 4 2 1.3 2 1.7 2 3.6 2 3.9 2 2.6 2 1.2 2 .4 2 .2 2 .1 2 .2 2 .1 2 0 2 .1 2 0 2-.2 2-.5 2-1.5 2-2.9 2-4.5 2-5.5 2-5.6 2-4 2-1.9 2-6.8 2-20.5 2-23 2 1.2 2 26.5 2 26.9 2 13.4 2 3 2-3.3 2-9.2 2-12.1 2-6.9 2 3.2 2 9.1 2 7.7 2 2.9 2-2.5 2-7.8 2-10.6 2-8.1 2-.6 2 7.2 2 11 2 9.5 2 5.8 2 2.6 2 .9 2 .3 2 0 2 .1 2 0 2 .1 2 .1 2 .1 2 .2 2 .1 2 .2 2 .1 2 .2 2 .2 2 .1 2 .2 2 .2 2 .1 2-.1 2-.4 2-1.1 2-1.6 2-1.2 2-.1 2 1.2 2 1.7 2 1.4 2 .6 2 .3 2 0 2 0 2-.1 2 0 2-.1 2-.1 2 0 2-.1 2-.1 2 0 2-.1 2 0 2-.1 2 0 2-.1 2 0 2 0 2-.1 2-.2 2-.2 2-.4 2-.8 2-2.2 2-3 2-1.6 2 1.7 2 3.4 2 2.4 2 .8 2-.5 2-1.5 2-1.8 2 0 2 1.9 2 1.8 1.6.8M478.1 330.1l2-6 2-3.6 2-1 2 1 2 2.4 2 3.7 2 4.8 2 5.4 2 5 2 3.5 2 1.4 2-.9 2-3.1 2-4.6 2-5 2-3.6 2-.5 2 3 2 5.1 2 5.5 2 4.5 2 3 2 1.8 2 .9 2 .5 2 .3 2 .2 2 .2 2 .1 2 .2 2 .2 2 0 2-.4 2-1.2 2-2.3 2-3.1 2-2.3 2-.2 2 2.2 2 3.4 2 2.8 2 1.8 2 .8 2 .3 2 .2 2 .1 2 0 2 .1 2 0 2 0 2 0 2 0 2-.1 2 0 2-.1 2-.1 2-.2 2-.4 2-.9 2-2.1 2-4.4 2-8 2-11.6 2-13.2 2-10.4 2-3 2 5.6 2 11.4 2 11.3 2 5.9 2-1.4 2-5.2 2-2 2 4.6 2 8.1 2 4.4 2-6.4 2-15.3 2-5.4 2 13.2 2 14.6 2 5.7 2 .8 2-.2 2 0 2 .4 2 .5 2 .3 2-.1 2-1 2-2.5 2-4.2 2-5.9 2-6.5 2-6.1 2-5.1 2-3 2 1.2 2 4.7 2 4.9 2 3 2 1.7 2 2.5 2 4.8 2 5.5 2 4 2 1.7 2 0 2-1.6 2-3.6 2-4.9 2-3.8 2-.8 2 1.6 2 2.3 2 2.5 2 2.5 2 1.9 2 1.1 2 .4 2-.3 2-.8 2-1.3 2-1.9 2-1.9 2-1.5 2-.6 2-.4 2-2.3 2-5.6 2-4.8 2 2.5 2 8.4 2 7.1 2 2.9 2 .4 2-.8 2-1.6 2-2 2-1.9 2-.9 2 .4 2 1.7 2 2.2 2 2.2 2 1.7 2 1.1 2 .7 2 .3 2 .2 2 .2 2 .1 2 .2 2 .1 2 .2 2 .1 2 .1 2 .1 2 .1 2-.3 2-.5 2-.4 2 .4 2 .7 2 .4 2 .1 2 0 1.6 0M478.1 314.8l2 19.1 2 10.2 2 3.7 2 1.1 2 .2 2 .1 2 0 2 0 2 .1 2 0 2 .1 2 .1 2 0 2 .1 2 .1 2 .1 2 0 2 .1 2-.1 2-1 2-3.5 2-8.8 2-15.1 2-19.3 2-19.9 2-16 2-3.6 2 13.8 2 22.2 2 16.6 2 7.9 2 4.6 2 5.3 2 5.9 2 4.9 2 2.7 2 .2 2-1.1 2 .3 2 1.8 2 1.4 2 .3 2-.1 2-.3 2-.7 2-1.7 2-3.3 2-5.7 2-8.5 2-10.7 2-10.9 2-7.7 2-1 2 6.7 2 12 2 12.6 2 9.8 2 5.9 2 2.8 2 1.2 2 .5 2 .3 2 .2 2 .2 2 .3 2 .2 2 .3 2 .3 2 .3 2 .2 2 .1 2-.5 2-2.4 2-6.9 2-12.7 2-15 2-8.3 2 4.6 2 14.1 2 14.4 2 8.9 2 3.8 2 1 2 .1 2-.1 2-.2 2-.3 2-.2 2-.3 2-.3 2-.4 2-.3 2-.4 2-.4 2-.4 2-.3 2-.4 2-.4 2-.3 2-.3 2-.4 2-.3 2-.2 2-.3 2-.2 2-.2 2-.2 2-.1 2-.1 2-.1 2-.1 2-.2 2-.6 2-1.3 2-2.3 2-3.1 2-2.9 2-1.7 2-.1 2 .4 2 0 2 .8 2 2.8 2 4 2 3.2 2 1.3 2-.1 2-.9 2-1.4 2-2.1 2-3.1 2-3.5 2-2.7 2-.9 2 .7 2 1.2 2 .9 2-.4 2-2.1 2-2.9 2-1.5 2 1.5 2 4.1 2 5.2 2 4.6 2 2.8 2 .9 2-.9 2-1.5 2-.5 2 1.2 2 2 2 1.5 2 .6 2 .3 2 .1 2 0 2 .1 2 .1 2 0 2 .1 2 0 2-.2 2-.4 2-.8 2-1.1 2-1.2 1.6-.7M478.1 348.5l2-5.9 2-5.8 2-.8 2 4.7 2 5.6 2 3.1 2 .9 2-.2 2-.8 2-2.1 2-3.8 2-4.4 2-2.1 2 1.8 2 4.3 2 3.3 2 .2 2-4 2-8.2 2-8.9 2-3.8 2 4 2 8.5 2 7.2 2 2.7 2-1.7 2-4.1 2-4.6 2-3 2-.1 2 3 2 4.6 2 4.6 2 3.4 2 2 2 .9 2 .2 2-.5 2-2.6 2-6.5 2-9.6 2-7 2-.4 2 3.1 2 3.8 2 4.9 2 4.5 2 3.4 2 3 2 2.7 2 2.1 2 1.4 2 .9 2 .5 2 .2 2 .2 2 .1 2 .1 2 .1 2 0 2 .1 2 0 2 0 2-.1 2 0 2-.3 2-.7 2-1.9 2-3.9 2-5.7 2-5.6 2-2.2 2 2.2 2 4.9 2 4.8 2 3.3 2 1.7 2 .7 2 0 2-.2 2-.3 2-.3 2-.4 2-.3 2-.3 2-.3 2-.3 2-.2 2-.2 2-.2 2-.1 2-.1 2-.1 2 0 2 0 2 0 2 0 2 0 2-.4 2-1.1 2-2.4 2-4.1 2-5.6 2-6.1 2-4.8 2-1.6 2 2.7 2 6.2 2 7 2 5.6 2 3.1 2 1.1 2-.3 2-1.8 2-3.1 2-3.9 2-3.5 2-2.3 2-.9 2-.2 2 .6 2 1.5 2 2.4 2 2.8 2 2.8 2 2.4 2 1.8 2 .5 2-1.7 2-3.6 2-2.7 2 .7 2 3.2 2 2.7 2 1.2 2 .2 2 .2 2 .4 2 .8 2 .9 2 .7 2 .6 2 .4 2 .2 2 0 2 0 2 0 2 0 2 0 2 0 2 0 2 0 2 0 2 0 2 0 2 .1 2 0 2 0 2 .1 2 0 2 0 2 0 2 0 2 .1 2 0 2-.1 2 0 1.6 0M478.1 350.5l2-.2 2-.1 2-.1 2-.1 2-.2 2-.4 2-1.6 2-3.4 2-2.7 2 1.4 2 3.4 2 1.9 2 .3 2-.4 2-.8 2-1.3 2-1.8 2-2.2 2-1.9 2-1 2 .2 2 .9 2 .7 2-.6 2-2.2 2-2.6 2-.8 2 1.7 2 3.4 2 3.1 2 1.9 2 .7 2 .1 2-.2 2-.1 2-.2 2-.2 2-.4 2-1.4 2-4.2 2-6.5 2-3.6 2 3.3 2 6.1 2 4.1 2 1.7 2 .5 2 .2 2 .1 2 .1 2 .1 2 .1 2-.1 2-.3 2-.7 2-1.1 2-1.8 2-2.8 2-4.4 2-6.3 2-8.1 2-7.9 2-4.5 2 1.2 2 6.3 2 8.8 2 8.6 2 6.5 2 4.1 2 2.1 2 .9 2 .3 2 .1 2 .1 2 .1 2 .1 2 .1 2 .1 2 .1 2 .1 2-.1 2-.3 2-.5 2-.8 2-.9 2-.9 2-.7 2-.1 2 .7 2 1.5 2 1.7 2 1.5 2 .9 2 .2 2-.5 2-1.5 2-2.5 2-3.6 2-4.8 2-6.2 2-7.1 2-6.3 2-3.2 2 .6 2 2.2 2 .2 2-3.6 2-5 2-2.5 2 1.1 2 1.9 2 2.4 2 7 2 11.8 2 10.6 2 5.4 2 1.7 2 .3 2-.1 2-.1 2-.2 2-.3 2-.5 2-.7 2-1.1 2-2.5 2-5 2-6.9 2-3.9 2 3 2 6.8 2 4.8 2 1.3 2-.8 2-1.2 2-.7 2 0 2 .8 2 .9 2 .7 2-.1 2-.9 2-1.2 2-.5 2 .8 2 1.6 2 1.3 2-.1 2-1.4 2-.4 2 1.3 2 .7 2-.9 2-.9 2 .3 2 1.7 2 1.8 2 1.3 2 .7 2 .2 2 .1 2 .1 2 0 2 0 2 .1 2 0 2 .1 1.6 0M478.1 351.5l2-1.7 2-2.9 2-4.5 2-5.3 2-5 2-3.6 2-1.4 2 1.6 2 4.8 2 6.6 2 6.1 2 3.8 2 1.7 2 .6 2 .2 2 0 2 0 2-.2 2-.6 2-1.7 2-3.8 2-6.3 2-7.5 2-6 2-3.3 2-1.1 2 2.1 2 6.9 2 9.4 2 7.3 2 3.2 2-.2 2-2 2-2.6 2-2.1 2-1.6 2-2.4 2-4.1 2-5.7 2-6.7 2-7.4 2-7.1 2-4.2 2 2 2 8.4 2 10.8 2 6.7 2 .5 2 1.5 2 7.4 2 7.9 2 3.7 2 .8 2-.1 2-.4 2-.7 2-1.5 2-2.2 2-3 2-3.8 2-6.7 2-13.1 2-13.9 2 .9 2 13.5 2 10.1 2 3.7 2 1.4 2 1.2 2 1.1 2 1.1 2 .1 2-1.8 2-3.9 2-4.2 2-1.6 2 2.6 2 5.9 2 6.5 2 5 2 2.7 2 .4 2-1 2-.1 2 1.6 2 1.9 2 1 2 .4 2 .3 2 .1 2 0 2-.3 2-.7 2-1.3 2-1.9 2-1.9 2-1.6 2-1 2-.6 2-1 2-2.1 2-4.2 2-6.9 2-8.8 2-6.2 2 1.5 2 8.8 2 9.6 2 4.9 2-.3 2-2.4 2-1.5 2 .9 2 3.1 2 3.5 2 2.8 2 1.6 2 .6 2 .2 2 .1 2 0 2 0 2 .1 2 .1 2 .1 2 .2 2 .1 2 .1 2 .2 2 .1 2 .1 2 0 2 .1 2 0 2 0 2-.1 2 0 2-.1 2-.2 2-.1 2-.1 2-.2 2-.1 2-.2 2-.2 2-.2 2-.5 2-.8 2-1.5 2-2.3 2-2.8 2-2.7 2-1.6 2 .1 2 1.8 2 2.8 2 2.8 2 2.1 2 1.4 2 .8 2 .3 2 0 2-.6 2-1.1 2-1.2 2-.1 2 1.1 1.6 1.4M478.1 346.2l2 0 2 .1 2-.1 2-.5 2-1.2 2-2.1 2-2.7 2-2.3 2-.8 2 1.3 2 2.5 2 .8 2-6.5 2-19.6 2-24.7 2-8.8 2 13.1 2 18.7 2 13.4 2 8.9 2 6.2 2 4 2 2 2 .9 2 .4 2 .2 2 .3 2 .2 2 .2 2 .2 2 .2 2 0 2-.8 2-2.5 2-4.8 2-4.7 2-.8 2 2.9 2 2.5 2-1.6 2-5.9 2-10 2-13.2 2-11.9 2-2.6 2 10.2 2 16.3 2 13.6 2 7.8 2 3.6 2 1.5 2 .4 2-.1 2-.5 2-.9 2-1.3 2-1.3 2-.7 2 .2 2 .9 2 1.2 2 .9 2 .5 2 .1 2-.1 2-.5 2-1.4 2-3.4 2-5.4 2-5.1 2-1.2 2 3.6 2 5.4 2 3.9 2 1.8 2 .5 2 0 2-.4 2-.8 2-1.8 2-2.3 2-1.8 2-.1 2 1.1 2 .2 2-2.2 2-5.2 2-6.1 2-3.2 2 1.9 2 5.1 2 5.4 2 4.3 2 3 2 1.9 2 1 2 .7 2 .4 2 .3 2-.1 2-.7 2-2 2-3.4 2-3.4 2-1.4 2 1.9 2 3.8 2 3.7 2 2.2 2 .8 2-.1 2-.9 2-2 2-3.1 2-3.7 2-3.3 2-2 2-.3 2 1 2 1.5 2 2 2 2.6 2 3.2 2 2.8 2 1.5 2-.3 2-1.2 2-1 2 0 2 .4 2-.8 2-1.5 2 .4 2 2.7 2 2.5 2 .9 2 .1 2-.1 2-.2 2-.1 2-.1 2-.2 2-.1 2-.1 2-.2 2-.1 2-.1 2 0 2-.1 2-.1 2-.1 2-.5 2-1.5 2-3.6 2-5.5 2-4.7 2-.5 2 4.2 2 5.6 2 4.1 2 2 2 .7 2 .1 2 0 2-.5 2-1.8 2-3.1 1.6-2.1M478.1 344.7l2-.9 2-1.7 2-2.4 2-1.7 2 .3 2 2 2 2.2 2 1.3 2 .6 2 .3 2 .2 2 .3 2 .3 2 .3 2 .1 2-.4 2-1.4 2-3.5 2-6.3 2-9.4 2-12 2-13.1 2-11.1 2-3.8 2 7.5 2 16.6 2 18.1 2 13 2 6.6 2 2.5 2 .7 2 .1 2 0 2-.1 2-.1 2-.1 2-.2 2-.1 2-.1 2-.1 2-.2 2-.1 2-.2 2-.9 2-3.6 2-7.2 2-6.5 2-1.3 2 2.8 2 5.1 2 5.6 2 3.6 2 1.4 2 .4 2 0 2-.2 2-.6 2-1.5 2-3.5 2-7.1 2-12.3 2-17.3 2-18 2-11.3 2 .9 2 11.4 2 14.5 2 10.5 2 4.4 2 .5 2 .5 2 3.2 2 5.7 2 6.4 2 4.9 2 2 2-1.6 2-8.4 2-19.7 2-26.7 2-16.9 2 2 2 10.9 2 6.3 2-7.7 2-20.6 2-19 2-1.9 2 18.2 2 28.5 2 25.9 2 16.6 2 7.9 2 3.4 2 2.1 2 2.2 2 2 2 1.3 2 .7 2 .3 2 .1 2 .1 2 .1 2 .1 2-.2 2-1.6 2-5.4 2-6.9 2 .1 2 7.2 2 5.6 2 1.7 2 .2 2-.2 2-.6 2-1.3 2-2.1 2-3 2-3.4 2-2.8 2-1.3 2 .7 2 2.4 2 2.9 2 2.6 2 1.8 2 .9 2 .4 2 .1 2-.2 2-.5 2-.9 2-1.1 2-1 2-.4 2 .4 2 1.2 2 1.5 2 1.2 2 .6 2-.3 2-.6 2-.4 2 .3 2-.2 2-2.1 2-3.8 2-2.8 2 1.1 2 4.7 2 4.7 2 2.7 2 1 2 .3 2 .2 2 .1 2 0 2 .1 2 0 2-.1 2-.8 2-1.7 2-1.6 2 .1 2 1.8 2 1.5 2 .6 1.6 0M478.1 316.3l2-27.7 2-20.9 2-1.1 2 19.2 2 27 2 21.5 2 11.7 2 4.5 2 1 2 0 2-.3 2-.3 2-.3 2-.3 2-.9 2-3.2 2-9.3 2-14.8 2-11.5 2-3.5 2-4.8 2-8.5 2 1.1 2 15.9 2 18.7 2 10 2 .7 2-4 2-4.4 2-1.5 2 2.3 2 5 2 5.4 2 3.9 2 2.1 2 0 2-2.4 2-5.8 2-8.3 2-6.7 2-.7 2 5 2 5.8 2 3.2 2 1 2 1.3 2 2.1 2 1.4 2-.7 2-2.8 2-3.7 2-2.6 2-.4 2 2.1 2 3.6 2 3.7 2 2.7 2 1 2-.8 2-2.3 2-3.1 2-2.9 2-1.9 2-.4 2 .2 2-.5 2-2.5 2-5.1 2-6.3 2-5.3 2-2 2 2.5 2 6 2 7.7 2 7.2 2 5.2 2 3 2 .7 2-1.1 2-2 2-1.4 2 .2 2 1.8 2 2.4 2 1.4 2-.4 2-2.5 2-3.9 2-4.3 2-2.9 2-.3 2 2.4 2 4.3 2 4.6 2 3.7 2 2.3 2 1 2-.5 2-2.8 2-6.3 2-9.7 2-10.1 2-5.6 2 .7 2 2.8 2-1.3 2-6.1 2-4.9 2 2.4 2 9.7 2 12.2 2 10 2 5.9 2 2.6 2 .8 2-.4 2-1.3 2-2.2 2-3.1 2-3.2 2-2.2 2-.1 2 1.9 2 3.3 2 3.6 2 2.9 2 1.8 2 .9 2-.1 2-2 2-5 2-6.7 2-3.2 2 3.5 2 6.6 2 4.8 2 2 2 .4 2-.1 2-.5 2-.9 2-1.7 2-2.3 2-2.3 2-1.5 2-.4 2 .6 2 1.2 2 .8 2 .4 2 .4 2 .9 2 1.2 2 1 2 .5 2 .2 2-.1 2-.1 2-.2 2-.2 2-.4 2-.3 2-.6 2-1.3 2-2.8 2-2.5 2 1.1 1.6 2.5M478.1 347.8l2-2.3 2-7.1 2-12.6 2-9.4 2-.3 2 1.5 2-2 2-1.6 2 2.4 2 6.2 2 7.3 2 5.1 2-.5 2-6.3 2-4.4 2 4.6 2 8.8 2 5.5 2 1.7 2 .2 2-.5 2-1.3 2-2.7 2-4.9 2-7.3 2-8.8 2-8.1 2-4.5 2 .7 2 5.9 2 8.8 2 9.2 2 7.4 2 4.9 2 2.8 2 1.4 2 .6 2 .3 2 .1 2 .1 2 0 2-.1 2-.1 2-.1 2-.2 2-.2 2-.2 2-.2 2-.2 2-.2 2-.2 2-.2 2-.1 2-.1 2-.1 2-.1 2-.2 2-.1 2 0 2 .3 2 .4 2-.2 2-1.1 2-3 2-5.7 2-9.9 2-16.4 2-23.5 2-19.3 2 3 2 24.4 2 26.3 2 15.7 2 5.3 2-1.9 2-6.9 2-10.5 2-12.7 2-12.4 2-7.9 2 1.1 2 11 2 16.1 2 14.7 2 9.7 2 4.8 2 1.7 2 .5 2-.1 2-.1 2-.2 2-.2 2-.2 2-.2 2-.2 2-.2 2-.4 2-1.1 2-2.1 2-3.3 2-2.8 2-.3 2 2.3 2 3.1 2 2.2 2 1 2 .4 2 .1 2 0 2 .1 2 .1 2 .1 2 .1 2 .1 2 .1 2 .1 2 .1 2 0 2 .1 2-.1 2-.2 2-.6 2-1.1 2-1.6 2-1.9 2-1.7 2-1 2 .2 2 1.2 2 1.8 2 1.7 2 1.3 2 .5 2-.8 2-2.8 2-4.9 2-4.8 2-1 2 3.2 2 4.3 2 2.7 2 .8 2-.4 2-.7 2-.6 2-.2 2-.1 2-.3 2-1.3 2-2.9 2-4.8 2-6.1 2-6.2 2-4 2-.5 2 2.8 2 5.1 2 5.9 2 5.5 2 4.4 2 2.9 2 1.5 2 .5 2-.7 2-2.3 2-2.3 2 .5 1.6 2.2M478.1 350.5l2-1.3 2-2.6 2-4.6 2-6.7 2-7.7 2-6.8 2-3.2 2 1.5 2 5.7 2 7.5 2 7.1 2 5.1 2 3 2 1.5 2 .6 2 .1 2-.2 2-1 2-2.6 2-5.5 2-9.9 2-14.6 2-19.5 2-23.1 2-16.4 2 .1 2 6.9 2 4 2 11.2 2 21.1 2 20.5 2 14.3 2 8.6 2 4.5 2 1.9 2 .7 2 .4 2 .2 2 .2 2 .2 2 .2 2 .2 2 .2 2 .2 2 0 2-.5 2-2.2 2-4.4 2-5.2 2-2.5 2 2.3 2 5.3 2 4.8 2 2.8 2 1.2 2 .4 2 .2 2 .1 2 0 2-.1 2-.4 2-.7 2-.9 2-1.1 2-1.1 2-1.7 2-3.7 2-6.4 2-5.6 2 .4 2 6.7 2 6.1 2-.6 2-7.9 2-8.5 2-.5 2 6.7 2 4.6 2-3.4 2-10.5 2-13.5 2-11.3 2-4.3 2 4.6 2 11.2 2 13.4 2 11.3 2 7.6 2 4.1 2 1.7 2 .6 2 .2 2 .1 2 0 2 0 2-.2 2-1.3 2-3.3 2-4.2 2-1.2 2 3.2 2 4.3 2 2.2 2 .2 2-1.2 2-3.2 2-6.1 2-9.7 2-11.8 2-9.4 2-2.6 2 3.9 2 5.3 2 4.3 2 5.6 2 8.3 2 7.8 2 3.8 2-.2 2-2.3 2-2.1 2-1.2 2-.6 2-.4 2 0 2 1 2 2.4 2 3.4 2 3.1 2 2.3 2 1.3 2 .7 2 .3 2 .2 2 .1 2-.1 2-.8 2-2.6 2-4.3 2-3.6 2 .4 2 3.9 2 3.7 2 1.9 2 .6 2 0 2-1.1 2-3.7 2-6.7 2-5.5 2 0 2 3.2 2 2.9 2 2.6 2 2.6 2 2.2 2 1.3 2 .6 2 .1 2-.2 2-.6 2-.9 2-1.3 2-1.3 2-1 2-.4 2 .5 1.6.7M478.1 335.5l2-.8 2 1.1 2 2.5 2 2.9 2 2.6 2 1.4 2 0 2-.9 2-1.2 2-.4 2 .8 2 1.7 2 2.1 2 1.8 2 1.1 2 .7 2 .4 2 .2 2 .1 2-.4 2-1.6 2-3.6 2-6.2 2-8.4 2-10.2 2-10.8 2-6.6 2 3.8 2 13.6 2 14.8 2 9.6 2 4.5 2 1.8 2 .6 2 .2 2 0 2-.1 2-.1 2-.1 2-.1 2-.2 2-.1 2-.1 2-.1 2-.2 2-.4 2-1.2 2-2.5 2-3.7 2-3.7 2-1.5 2 1.7 2 3.6 2 3.4 2 2.2 2 .9 2 .2 2 0 2-.1 2-.1 2 0 2-.1 2 0 2-.1 2 0 2-.3 2-1 2-3.2 2-5.1 2-3.5 2 1.9 2 5.2 2 4.3 2 1.8 2 .3 2-.5 2-1.5 2-3 2-3.4 2-2.1 2 .7 2 3.2 2 3.6 2 2.5 2 1.2 2 .4 2-.1 2-.4 2-.8 2-1.1 2-1.3 2-.8 2-.1 2 .7 2 1.1 2 .9 2 .7 2 .2 2 .1 2 0 2 0 2 .1 2 0 2 .1 2 0 2-.1 2-1.6 2-8.3 2-17.9 2-12.4 2 10 2 18.6 2 9.3 2 1.4 2-.9 2-.8 2 0 2 .9 2 1.2 2 .7 2 .1 2-.3 2-.3 2 .2 2 .5 2 .1 2-1 2-2.9 2-4.9 2-6.3 2-5.5 2-2.5 2 1.3 2 3.3 2 3.1 2 2.4 2 3.1 2 3.4 2 1.9 2-.5 2-1.8 2-2.1 2-1.3 2 .2 2 1.9 2 3 2 3 2 2.4 2 1.3 2 .4 2-.5 2-1.7 2-3.1 2-1.9 2 1.1 2 2.2 2 .5 2-1.6 2-3.7 2-4.8 2-3.6 2-.1 2 3.2 2 3.8 2 1.7 2-.9 2-2 1.6-.9M478.1 348.8l2 .1 2 .2 2 .1 2 0 2 0 2-.3 2-1 2-2.4 2-4.9 2-7.4 2-8.5 2-6.3 2-1.1 2 4.7 2 8.1 2 8 2 5.7 2 3.2 2 1.3 2 .5 2 .2 2 .1 2 .1 2 .1 2 .1 2 .1 2 .1 2 .1 2 .1 2-.2 2-1.5 2-5.5 2-12.8 2-18.3 2-12.2 2 5.6 2 18.6 2 16.8 2 8.1 2 2.5 2 .6 2 .1 2-.1 2-.5 2-1.7 2-3.6 2-6.3 2-8.8 2-9.8 2-8 2-3.9 2 .2 2 1.1 2-1.3 2-3.9 2-4.1 2-1.8 2 .9 2 1.8 2 .4 2-2.4 2-4.4 2-2.7 2 4.3 2 12.3 2 15.3 2 12.6 2 7.4 2 3.3 2 1.1 2 .3 2 0 2 0 2 .1 2 0 2 .1 2 .2 2 .1 2 .2 2 .2 2 .1 2-.2 2-.7 2-1.3 2-1.9 2-3.1 2-7.8 2-13.1 2-7.4 2 9.2 2 16.1 2 9.5 2 2.8 2 .2 2-.7 2-2 2-3.4 2-3.5 2-1.4 2 1.6 2 3.2 2 2.6 2 1 2-.1 2-1.3 2-2.6 2-4.6 2-6.4 2-6.4 2-3.8 2 .6 2 4.7 2 6.4 2 5.6 2 3.7 2 1.5 2-1 2-3.8 2-2.8 2 2.2 2 3.7 2 1 2-1.4 2-2 2-1.4 2-.2 2 1 2 1.9 2 2 2 1.7 2 1.1 2 .6 2 .2 2 0 2-.1 2-.2 2-.3 2-.2 2-.3 2-.3 2-.3 2-.4 2-.3 2-.6 2-1.1 2-2.1 2-3.3 2-3.6 2-2.4 2-.4 2 1.2 2 2.9 2 3.8 2 2.4 2 .5 2-1.3 2-2.2 2-2.1 2-.3 2 1.8 2 2.8 2 2.2 2 1.1 2-.3 2-1.3 2-1.1 2 .4 1.6 1.4M478.1 352.9l2 .1 2 .1 2 .1 2 .2 2 .1 2 .2 2 .1 2 0 2-.2 2-.9 2-1.8 2-3.1 2-5.2 2-10.2 2-18.3 2-16 2 4.1 2 17.1 2 8.4 2-4.6 2-10.2 2-9.7 2-6.2 2-.1 2 10.1 2 18.2 2 17 2 9.4 2 3.4 2 .8 2 .1 2-.2 2-.5 2-.7 2-.7 2-.4 2 .3 2 .9 2 1.1 2 .9 2 .7 2 .4 2 .2 2 .2 2 .2 2 .1 2 .1 2 .1 2 0 2 0 2 0 2-.1 2-.1 2-.1 2-.2 2-.2 2-.2 2-.2 2-.2 2-.3 2-.2 2-.3 2-.2 2-.3 2-.2 2-.3 2-.2 2-.3 2-.2 2-.2 2-.2 2-.2 2-.2 2-.2 2-.2 2-.1 2-.1 2-.1 2-.1 2-.1 2 0 2 0 2 0 2 .1 2 0 2-.6 2-3.3 2-8 2-8.8 2-1.1 2 3.9 2-1.5 2-8.1 2-7.3 2-.2 2 6.4 2 6.6 2 .4 2-6.9 2-7.9 2-.2 2 8.2 2 10.6 2 8 2 4.9 2 2.8 2 1.5 2 .6 2 .1 2-.6 2-1.8 2-3.7 2-5 2-4 2-1.3 2 .8 2 .7 2-1.7 2-5.3 2-7 2-4.7 2-.3 2 3.1 2 5.6 2 7.6 2 7.6 2 5.6 2 3.2 2 1.6 2 .7 2 .4 2 .2 2 .2 2 0 2-.7 2-2.4 2-3 2 .1 2 3.2 2 2.5 2 .8 2 .1 2-.2 2-.9 2-2.4 2-2.7 2 .2 2 2.5 2 1.6 2-.1 2-1.1 2-2 2-3 2-3.2 2-1.4 2 1.5 2 2.9 2 2.5 2 1.3 2 .5 2 .1 2-.1 2-.1 2-.1 2-.1 2-.1 2-.1 1.6-.1M478.1 348.5l2 1.7 2 1.7 2 1.3 2 .8 2 .2 2-.9 2-3.7 2-7.3 2-6.6 2 .5 2 6.9 2 6.7 2 3.1 2 .8 2 0 2-.2 2-.2 2-.1 2-.2 2-.2 2-.2 2-.2 2-.2 2-.2 2-.3 2-.5 2-1.2 2-2.6 2-4.4 2-5.1 2-3.5 2 .4 2 3.8 2 4.9 2 3.7 2 1.9 2 .8 2 .2 2-.1 2-.8 2-2.5 2-5.5 2-8.9 2-12 2-12.7 2-4.8 2 9.8 2 17.6 2 13.4 2 5.8 2 1.4 2-.2 2-.9 2-1.6 2-2.3 2-2.6 2-2.6 2-2.6 2-3.5 2-5.5 2-6.8 2-5.6 2-2.6 2 .6 2 3.9 2 6.8 2 7.8 2 7 2 5.1 2 3 2 1.4 2 .6 2 .1 2-.1 2-.2 2-.6 2-1.5 2-3.9 2-7.8 2-12.1 2-13.4 2-8.8 2 .4 2 9.2 2 12.8 2 11.1 2 7.2 2 3.6 2 1.6 2 .6 2 .2 2 0 2 0 2 0 2-.3 2-2.1 2-8.5 2-20.2 2-26.2 2-14.5 2 5.3 2 16.7 2 18.5 2 15.5 2 9.2 2 3 2-1 2-1.5 2 .4 2 2.2 2 2.3 2 1.3 2 .5 2 .2 2 .1 2 .1 2 .1 2 0 2-1.2 2-4.5 2-7.6 2-2.6 2 6.2 2 7 2 2.9 2 .5 2 0 2 0 2 .3 2 .5 2 .5 2 .4 2 .3 2 .1 2 0 2-.2 2-.3 2-.6 2-.7 2-.8 2-1.1 2-1.7 2-2.5 2-3.1 2-3.1 2-1.8 2 .1 2 1.8 2 2.5 2 1.6 2-.3 2-1.7 2-1.9 2-1 2 .1 2 1.2 2 2.4 2 2.8 2 2.4 2 1.5 2 .6 2 .1 2-.1 2-.3 2-.3 2-.5 2-.4 1.6-.3M478.1 348.4l2 .2 2 .3 2 .2 2 .3 2 .2 2 .1 2-.4 2-1.3 2-2 2-1.8 2-.3 2 1.3 2 1.3 2-.8 2-3.8 2-7.1 2-9.8 2-10.3 2-8.3 2-4.6 2-1.1 2 .4 2 .6 2 .9 2 2.9 2 6.3 2 8.7 2 9.3 2 7.8 2 5.3 2 3 2 1.3 2 .6 2 .2 2 0 2 0 2 .1 2 .1 2 .1 2 .1 2 .1 2 .2 2 .1 2 .2 2 .2 2 .1 2 .2 2 .2 2 .1 2 0 2-.7 2-2.3 2-2.8 2-1 2-.2 2-2.5 2-4.6 2-4.1 2-2 2-1 2-2.9 2-5.8 2-6.3 2-2.2 2 4.6 2 9.5 2 10.4 2 7.8 2 4.5 2 1.9 2 .6 2-.1 2-.5 2-1.9 2-4.8 2-8 2-6.7 2 .2 2 6 2 6.1 2 3.6 2 1.6 2-.3 2-3.4 2-6.2 2-6 2-1.6 2 3.9 2 5 2 .9 2-4.7 2-6.1 2-1.8 2 4.8 2 8.1 2 6.8 2 3.8 2 1.5 2 .4 2 .1 2 0 2-.4 2-1.5 2-3.8 2-6.9 2-9 2-7.2 2-1.6 2 4.3 2 6.7 2 5.9 2 4.7 2 3.1 2 0 2-4.4 2-6.3 2-3.9 2 1.5 2 6.3 2 7.2 2 5 2 2.4 2 .9 2 .3 2 .1 2 .1 2 0 2-.1 2-.4 2-.9 2-1.7 2-2.6 2-3.1 2-2.9 2-1.7 2 .2 2 2.1 2 2.9 2 2.6 2 1.5 2 .4 2-.9 2-2.2 2-2.1 2 .1 2 1.2 2 .7 2 .2 2 .2 2 .1 2-.2 2-.3 2-.1 2 0 2 .3 2 .3 2 .3 2 .3 2 0 2-.1 2-.7 2-1.4 2-1.9 2-1.8 2-.7 2 .9 2 2 1.6 1.9M478.1 320.4l2 8.5 2 7.9 2 3.7 2-.3 2-3.3 2-4.3 2-3.4 2-1.6 2-1.2 2-3 2-5.3 2-5.4 2-2.4 2 .4 2-.9 2-4.1 2-2.7 2 5.6 2 12.9 2 13.2 2 8.2 2 3.5 2 1 2 .3 2-.2 2-2.3 2-9.4 2-17.5 2-9 2 11.9 2 16.7 2 7.7 2 1.5 2-.1 2-.8 2-1.4 2-2.1 2-2.4 2-1.3 2 .3 2 1.8 2 2 2 1.4 2 .6 2 .1 2-.1 2-.7 2-1.7 2-4 2-7.1 2-9.7 2-9.2 2-4.4 2 2.9 2 8.4 2 9.9 2 7.7 2 4.5 2 2.1 2 .7 2 .2 2 0 2 0 2 0 2-.1 2 0 2 0 2-.1 2-.2 2-1.3 2-3.8 2-7 2-6.5 2-.2 2 6.3 2 6.9 2 3.6 2 .6 2-.8 2-1.2 2-1 2-.5 2 .4 2 1 2 1.3 2 1.2 2 .8 2 .1 2-2.7 2-8.5 2-10.5 2-.8 2 10.2 2 9.4 2 3.8 2 .9 2 .2 2 .2 2 .2 2 .2 2 .1 2-.3 2-1.3 2-3.1 2-5.6 2-7.1 2-6 2-2 2 3.2 2 6.3 2 5.6 2 2.3 2 .4 2 1.5 2 3.4 2 3.3 2 1.8 2 .4 2-.4 2-1.1 2-1.9 2-2.4 2-2.4 2-1.2 2 .3 2 1.4 2 1.5 2 .2 2-1.8 2-3.9 2-4.4 2-1.6 2 3 2 5.1 2 3.6 2 1 2-1.2 2-2.1 2-1.1 2 1 2 2.4 2 2.1 2 1.2 2 .4 2 .2 2 0 2-.3 2-.8 2-1.8 2-2.9 2-3 2-1.6 2 .8 2 2.3 2 2.5 2 1.8 2 1.3 2 .7 2 .4 2 0 2-.6 2-1.4 2-2.4 2-3.1 2-3 2-2 2-.2 1.6 1.1M478.1 336.5l2 6.7 2 3.7 2 .8 2-.1 2-.2 2-.3 2-.3 2-.3 2-.3 2-.3 2-.3 2-.3 2-.5 2-1.2 2-4.1 2-7.6 2-6.5 2-2.1 2-3 2-7.6 2-8.5 2-4.2 2 2.6 2 8.3 2 10.9 2 9.8 2 6.9 2 3.5 2 1.1 2-.5 2-1.6 2-2.6 2-4.7 2-9.2 2-14.4 2-14 2-2.7 2 11.4 2 16.2 2 12.5 2 7.4 2 3.7 2 1.5 2 .5 2 0 2-.1 2-.2 2-.4 2-.5 2-.9 2-1.2 2-1.8 2-2.8 2-4.4 2-6.2 2-5.5 2-.7 2 5.2 2 7.6 2 5.4 2 2.3 2 .6 2-.1 2-.4 2-1.1 2-2.1 2-3.8 2-5.4 2-5 2 .6 2 6.6 2 6.3 2 2.9 2 .8 2 .2 2 .1 2 .2 2 .2 2 .2 2 .1 2 .2 2-.1 2-.5 2-1.6 2-3.7 2-7.3 2-12 2-15 2-11.4 2-.2 2 11.2 2 15.5 2 12.7 2 7.5 2 3.1 2 .2 2-1.8 2-3.4 2-3.9 2-2.9 2-.6 2 2.1 2 3.6 2 3.5 2 2.5 2 1.4 2 .5 2 .2 2 0 2 0 2 0 2-.1 2-.1 2-.5 2-1 2-1.7 2-2 2-1.5 2 0 2 1.5 2 2.1 2 1.7 2 .8 2-.1 2-.9 2-1.3 2-1.6 2-1.1 2-.2 2 .3 2 1 2 2.2 2 2.1 2 1.1 2 .2 2 0 2-.1 2-.1 2-.1 2-.2 2-.3 2-.4 2-.7 2-1.2 2-1.5 2-1.9 2-1.6 2-.9 2 .1 2 1 2 1.3 2 .7 2-.9 2-3.9 2-7.2 2-6.2 2 1.4 2 7.7 2 7 2 3.7 2 1.6 2 .6 2 .3 2 .2 2 .3 2 .3 2 .3 1.6.3M478.1 351l2-3.7 2-9.9 2-17.7 2-17.6 2-2.4 2 16.1 2 19.5 2 10 2 .1 2-3.9 2-1.1 2 1.2 2-2.7 2-7.6 2-8.2 2-3.8 2 3.2 2 8 2 8.4 2 5.7 2 2.7 2 .7 2-.8 2-2.4 2-4.4 2-5.9 2-5.7 2-3.7 2-1.8 2-1.5 2-2.1 2-.7 2 3 2 5.7 2 4.5 2 1.1 2-1.1 2-.2 2 2.3 2 4 2 3.8 2 2.6 2 1.1 2 0 2-.7 2-1.1 2-.4 2 .6 2 .8 2 .3 2 .1 2-.1 2-.2 2-.6 2-2 2-7 2-14.7 2-13.6 2 2.8 2 14.6 2 11.3 2 5.3 2 2.4 2 1.2 2 .2 2-.8 2-1.6 2-2 2-1.9 2-1 2 .3 2 1.5 2 2.3 2 2.4 2 2 2 .9 2-.6 2-3 2-4.6 2-2.8 2 1.7 2 4.8 2 4.5 2 2.4 2 .9 2 .3 2 .1 2 .1 2 .1 2 .1 2 .1 2 0 2-.1 2-.3 2-1.2 2-2.6 2-4.1 2-4.2 2-1.6 2 2 2 3.8 2 2.4 2-.8 2-4.3 2-6.6 2-6.3 2-3.7 2-.8 2 .7 2 1.8 2 3.8 2 5.9 2 6.2 2 4.3 2 2.2 2 .7 2 .1 2-.6 2-1.9 2-4.1 2-6.9 2-7.5 2-2.9 2 4.4 2 7.7 2 6.6 2 4 2 1.9 2 .5 2-.3 2-.9 2-1 2-.7 2 .2 2 .9 2 1.1 2 .8 2 .4 2-.2 2-.6 2-.8 2-.8 2-.3 2 .2 2 .6 2 .7 2 .5 2 .3 2 .1 2 0 2-.1 2 0 2 0 2-.1 2 0 2-.1 2 0 2-.1 2-.1 2-.1 2-.1 2-.1 2-.1 2-.1 2-.2 2-.1 2-.1 1.6-.2M478.1 345.8l2-1.7 2-1.5 2-.3 2 1.2 2 2 2 1.9 2 1.2 2 .7 2 .3 2 .1 2 .1 2 0 2 0 2 0 2-.2 2-.7 2-1.9 2-3.9 2-5.5 2-5.2 2-3.6 2-3.3 2-5.3 2-8.6 2-11.4 2-11 2-5.1 2 5 2 12.7 2 14.4 2 11.5 2 7.9 2 5.3 2 3.6 2 2.2 2 1.2 2 .4 2 .2 2 0 2-.1 2 0 2-.1 2-.1 2 0 2-.1 2 0 2 0 2 0 2-.1 2 .1 2 0 2 0 2 .1 2 .1 2 .1 2 .2 2 .1 2 0 2-.2 2-1 2-2.5 2-4.4 2-5.9 2-5.3 2-2.2 2 1.9 2 5.1 2 6 2 5.4 2 3.8 2 2 2 .8 2 .2 2-.1 2-.3 2-.7 2-1 2-1.2 2-1.3 2-1.4 2-2.2 2-3 2-2.6 2-.6 2 .6 2-.9 2-4.7 2-6.1 2-1.1 2 4.9 2 4.3 2-.6 2-4 2-3.6 2-.6 2 .4 2-2.9 2-5.8 2-1.7 2 6.9 2 11.3 2 9.2 2 4.7 2 1.8 2 .5 2 .2 2-.1 2-.4 2-.8 2-1.4 2-1.7 2-1.9 2-1.6 2-.9 2 0 2 1 2 2 2 2.5 2 2.4 2 1.8 2 1.2 2 .7 2 .3 2 .2 2 .1 2 0 2 0 2-.1 2-.7 2-1.5 2-1.9 2-1 2 .9 2 1.7 2 1.1 2 .3 2-.1 2-.2 2-.2 2-.3 2-.3 2-.7 2-1 2-1.2 2-.9 2-.1 2 .7 2 .9 2 .8 2 .3 2 .1 2 0 2-.1 2-.1 2-.1 2-.1 2-.3 2-.8 2-1.5 2-2.1 2-2.1 2-.9 2 .8 2 2 2 2.1 2 1.4 2 .8 1.6.2M478.1 336.8l2-16.9 2-10.4 2 8.4 2 17.4 2 11.4 2 3.6 2 .2 2-.7 2-1 2-.8 2-.3 2 .4 2 1 2 1.2 2 1.1 2 .7 2-.5 2-2.9 2-7.1 2-10.5 2-9.7 2-4.4 2 .4 2 2.2 2 2.1 2 1.9 2 2.3 2 3.6 2 5.5 2 6.2 2 4.6 2 1.8 2-.7 2-2.1 2-3.1 2-4.9 2-7 2-6.2 2-1.2 2 5.1 2 8.1 2 6.4 2 .1 2-11.3 2-17.7 2-2.3 2 16.6 2 14.4 2 4.9 2 .7 2 0 2-.1 2 0 2 .1 2 0 2-.7 2-3.4 2-9.4 2-11.6 2-1.5 2 10.7 2 10.9 2 4.6 2 .1 2-3.1 2-7.1 2-8.5 2-3.4 2 5 2 8.7 2 6.4 2 2.9 2 1 2 .4 2 .3 2 .2 2 .1 2 0 2 .1 2 0 2 0 2 0 2 0 2 0 2 0 2 0 2 0 2 0 2 0 2 0 2-.1 2-.3 2-1 2-2.6 2-5 2-6.9 2-6.4 2-2.8 2 2.6 2 6.5 2 7.1 2 5.2 2 2.9 2 1.2 2 .3 2-.1 2-.9 2-2.1 2-3.9 2-5.8 2-6 2-3.7 2 .5 2 4.4 2 6 2 4.6 2 1.5 2-1.1 2-.9 2 1.4 2 2.8 2 2.1 2 .9 2 .2 2 0 2-.1 2-.2 2-.2 2-.5 2-.7 2-1 2-1.3 2-1.8 2-2.3 2-3.3 2-3.9 2-3.4 2-1.4 2 1.4 2 3.3 2 3.8 2 3.5 2 2.5 2 1.6 2 .7 2 .3 2-.1 2-.3 2-.5 2-.5 2-.4 2 0 2 .4 2 .5 2 .6 2 .4 2 .1 2-.2 2-.6 2-1 2-1.1 2-.7 2-.2 2 .3 2 .7 2 .9 2 1 1.6.7M478.1 344.1l2 .1 2 0 2 0 2 .1 2 0 2 .1 2 0 2-.2 2-.6 2-1.3 2-2.3 2-3.7 2-5.2 2-5.8 2-4 2 .4 2 5.2 2 7.2 2 6.2 2 3.6 2 1.6 2 .6 2 .2 2 .1 2 .1 2 .1 2 .1 2 .1 2 .1 2 .1 2 .1 2 .1 2-.1 2-.4 2-1 2-1.1 2-.4 2 .6 2 1.3 2 1 2 .5 2-.1 2-.5 2-1.3 2-2.6 2-4.2 2-5.5 2-5.6 2-3.8 2-.6 2 2.9 2 5.1 2 5.5 2 4.3 2 2.1 2-.7 2-4.9 2-10.8 2-16.4 2-15.2 2-4.7 2 8.4 2 14.7 2 13.8 2 9.9 2 5.9 2 2.8 2 1.1 2-.1 2-1.2 2-3.2 2-6.5 2-10.8 2-13.9 2-13.3 2-8.1 2 .2 2 7.7 2 11.7 2 12.1 2 10 2 6.4 2 1.5 2-4.9 2-10 2-8.4 2-2.1 2 .8 2-.8 2 0 2 5.4 2 9.4 2 8.1 2 3.7 2-.2 2-1.5 2-.2 2 1.6 2 2.3 2 1.7 2 .8 2 .1 2 0 2-.1 2 0 2-.1 2 0 2 0 2 0 2 .1 2 0 2 .1 2 .1 2 .1 2 .1 2 .1 2 .1 2 0 2-.1 2-.3 2-.4 2-.5 2-.5 2-.2 2 .2 2 .3 2-.1 2-.8 2-2 2-3.1 2-3.5 2-2.9 2-1.2 2 1 2 2.9 2 3.8 2 3.5 2 2.6 2 1.2 2-.7 2-2.5 2-2.8 2-.6 2 2 2 2.3 2 .9 2-.3 2-.2 2 .5 2 .4 2-.3 2-.8 2-.2 2 1 2 1.4 2 1 2 .4 2 .1 2 .2 2 .5 2 .7 2 .8 2 .7 2 .4 2 .3 2 .1 2 0 1.6 0M478.1 357.8l2 .1 2 .1 2 .1 2 .1 2 .1 2 .2 2 .1 2 0 2 0 2 0 2 0 2 0 2 0 2 0 2 0 2 0 2 0 2 0 2 0 2 0 2 0 2 0 2 0 2 0 2 0 2-.6 2-3.9 2-14.8 2-31.8 2-33.3 2-5.6 2 20.6 2 22.4 2 13.4 2 7.2 2 6.5 2 6.6 2 2.6 2-3 2-4.2 2-.2 2 3 2 1.6 2-1.9 2-4.5 2-7 2-8.1 2-5 2 2.8 2 9.8 2 11.1 2 7.3 2 2.7 2-.4 2-2 2-1.8 2 .2 2 2.1 2 2.5 2 1.6 2 .7 2 .3 2 .1 2 0 2 0 2 0 2 0 2 0 2-.1 2-.1 2 0 2-.1 2-.1 2-.1 2-.2 2-.5 2-1.6 2-3.8 2-5.8 2-4.7 2 .1 2 4.8 2 5.4 2 3.4 2 1.2 2 .3 2 0 2-.1 2-.1 2-.1 2-.3 2-.6 2-1 2-1.4 2-1.4 2-1.1 2-.1 2 .9 2 1.3 2 .8 2-.3 2-1.5 2-1.5 2-.3 2 1.4 2 2.4 2 2.2 2 1.4 2 .7 2 .3 2 0 2 0 2 0 2-.1 2-.1 2-.2 2-.5 2-1 2-1.7 2-2.4 2-3 2-2.7 2-1.9 2-.6 2 .3 2 0 2-1.5 2-2.4 2-.5 2 3 2 4.8 2 2.8 2-.6 2-3.3 2-4.5 2-3.7 2-.7 2 3.5 2 5.6 2 4.5 2 2.5 2 1.3 2 .7 2 .5 2 .4 2 .2 2 .2 2 .1 2 .1 2 0 2-.1 2-.5 2-1.2 2-1.7 2-1.5 2-.4 2 .8 2 1.1 2 .9 2 .8 2 .7 2 .6 2 .2 2 .1 2 0 2-.1 2 0 1.6 0M478.1 302.5l2 9.7 2 11.1 2 9.5 2 6.3 2 3.6 2 1.5 2 .5 2 0 2-.5 2-1 2-2.1 2-3.1 2-3.2 2-1.7 2 .7 2 2.5 2 2 2-2.8 2-11.9 2-17.2 2-7 2 11.4 2 17.8 2 11.1 2 3.9 2 .8 2 0 2-.9 2-2.4 2-3.7 2-2.3 2 1.3 2 3.8 2 3.3 2 1.4 2-.8 2-3.1 2-5.8 2-8.5 2-9.4 2-7.2 2-3.7 2-1.2 2 1.5 2 5.9 2 10.5 2 11.4 2 8.3 2 4.3 2 1.5 2 .4 2-.3 2-.7 2-1.3 2-1.4 2-.9 2 .1 2 .9 2 1.2 2 .7 2-.1 2-1.5 2-4.1 2-6 2-3.1 2 2.7 2 4.5 2 3 2 1.2 2-.7 2-2.7 2-3.7 2-2.7 2 0 2 2.5 2 2.1 2-1.9 2-6.6 2-5.8 2 .1 2 4.5 2 4.9 2 3.4 2 .7 2-1.8 2-1.6 2 .7 2 3.1 2 4 2 3.4 2 2 2 .9 2 .2 2-.1 2-.5 2-1.1 2-1.8 2-2.4 2-2.2 2-1.1 2 .4 2 1.3 2 1 2-.6 2-3.2 2-4.9 2-3 2 1.9 2 5.7 2 5.5 2 3.2 2 1.3 2 .3 2 0 2-.4 2-1.2 2-2.5 2-4.1 2-4.8 2-3.7 2-1.2 2 1.1 2 2.2 2 3.2 2 4 2 3.7 2 2.1 2 .7 2 0 2-.2 2-.3 2-.3 2-.2 2-.3 2-.3 2-.2 2-.2 2-.2 2-.2 2-.2 2-.1 2-.1 2 0 2-.1 2 0 2 0 2 0 2 0 2 .1 2 0 2 .1 2 .1 2 0 2 .1 2 .1 2-.1 2-.7 2-2.2 2-4.7 2-5.6 2-1.6 2 3.6 2 4.9 2 3 2 1.1 2 .1 2-.2 1.6 0M478.1 328.9l2-5.4 2-2.6 2 1.1 2 4.5 2 6.1 2 6 2 3.9 2-.1 2-6.3 2-8.9 2-1.7 2 8.1 2 8.3 2-2.3 2-16.5 2-14.5 2 8.8 2 19.7 2 10.4 2 1.5 2-1.8 2-3.1 2-3.4 2-2.2 2 .3 2 2.7 2 3.9 2 3.3 2 1.1 2-1.6 2-3.7 2-3 2 .2 2 3.7 2 4.7 2 3.5 2 1.8 2 .6 2 .2 2-.1 2-.1 2-.5 2-1.3 2-2 2-2.3 2-2.4 2-2.6 2-.6 2 2.9 2 3.7 2 1.7 2-.1 2-1.2 2-2.1 2-2.8 2-2.9 2-2 2-.4 2 1.3 2 2.5 2 2.6 2 2.2 2 1.3 2 .7 2 .3 2 .1 2 0 2 0 2-.1 2 0 2 0 2 0 2 0 2 0 2 0 2 0 2 .1 2 .1 2 0 2 .1 2 0 2-.1 2-.7 2-1.7 2-3.1 2-4.3 2-3.9 2-1.9 2 .8 2 2.3 2 1.3 2-2.7 2-8.5 2-13.8 2-15.4 2-10.7 2-.8 2 9.6 2 15.5 2 15.3 2 11 2 5.4 2 .7 2-3.2 2-5.4 2-5.4 2-3.2 2 .1 2 1.7 2 .9 2-1.3 2-2.6 2-1.8 2 1 2 4 2 5.7 2 5.6 2 4.4 2 2.8 2 1.6 2 .7 2 .4 2 .3 2 .1 2 .1 2 0 2-.4 2-1.3 2-2.6 2-2.6 2-.2 2 2.3 2 2.4 2 1.2 2 .3 2-.1 2-.1 2-.2 2-.1 2-.2 2-.3 2-.7 2-1.5 2-2.5 2-3.7 2-4.3 2-4.2 2-3.2 2-1.6 2-.2 2 .5 2 .8 2 1.1 2 2.6 2 4.4 2 3.9 2 .5 2-2.2 2-1 2 2.8 2 4.6 2 3.9 2 2 2 .7 2 .1 2 0 2 0 1.6 0M478.1 350.4l2 .2 2 .2 2 .2 2 .1 2 .2 2 .1 2 .1 2 .1 2 .1 2 .1 2 0 2 0 2-.1 2-.4 2-1.2 2-3.2 2-8.2 2-17.2 2-17.2 2 1.6 2 14.7 2 8.5 2 2.3 2 2.9 2 4.9 2 5 2 3.4 2 1.7 2 .6 2 .1 2-.1 2-.2 2-.4 2-1 2-2.7 2-5 2-6.9 2-5.8 2-2.1 2 1.4 2 1.4 2-1.2 2-3.9 2-4.5 2-3.7 2-2.2 2-1.2 2 .4 2 3.3 2 6.9 2 8.8 2 8 2 5.3 2 2.2 2-1.3 2-6.6 2-12.6 2-13.4 2-4.1 2 9.1 2 14.7 2 11.3 2 5.4 2 1.8 2 .5 2 .3 2 .2 2 .1 2-.3 2-.7 2-1.2 2-1.3 2-.7 2 .6 2 1.3 2 1.3 2 .8 2 .3 2 0 2-.2 2-.2 2-.4 2-.8 2-1.7 2-3.4 2-6.2 2-10.4 2-14.6 2-14.4 2-5.2 2 9.1 2 16.9 2 14.5 2 8.2 2 3.5 2 1.3 2 .6 2 .2 2-.1 2-1.3 2-3.6 2-4.5 2-.5 2 4.2 2 4.1 2 1.8 2 .4 2 .1 2 0 2-.1 2-.3 2-.8 2-1.4 2-2.2 2-2.9 2-2.9 2-2.1 2-.8 2 .4 2 .9 2 .9 2 .5 2 .7 2 1.4 2 2.1 2 2.3 2 1.8 2 1.1 2 .8 2 .8 2 1.1 2 .9 2 .7 2 .3 2 .2 2 .1 2 .2 2 .1 2 .1 2 .1 2 .1 2 .1 2 .1 2 .1 2 .1 2 0 2 0 2-.3 2-.7 2-1.2 2-1.9 2-2.3 2-2.4 2-2.2 2-1.5 2 .1 2 1.2 2 1 2-.2 2-1.1 2-1.1 2-.6 2-.1 2 0 2 .3 2 1.3 2 2.6 1.6 2.2M478.1 348.3l2-1.4 2-1.6 2-1.1 2 .2 2 1.4 2 1.8 2 1.4 2 .7 2 .2 2-.1 2-.2 2-.3 2-.3 2-.3 2-.4 2-.3 2-.4 2-.3 2-.3 2-.3 2-.2 2-.2 2-.2 2-.1 2 0 2 0 2 .1 2 .1 2 .2 2 .2 2 .1 2-.9 2-4.2 2-10.1 2-13.2 2-6.1 2 6.2 2 11.4 2 8 2 3.6 2 2 2 1.9 2 1.7 2 .3 2-2.6 2-6 2-7.6 2-5.1 2-.6 2 1 2-1.3 2-3.5 2-1.1 2 4.1 2 7.6 2 7.4 2 5.2 2 3.1 2 1.6 2-.8 2-5.3 2-9.7 2-8 2-.6 2 3.9 2 3 2 1.8 2 2.5 2 3.6 2 3.7 2 3 2 1.9 2 1 2 .3 2 0 2-.2 2-.2 2-.3 2-.8 2-2.8 2-6.4 2-8.2 2-3.6 2 4.2 2 7.3 2 4.7 2 1.5 2 .2 2 .4 2 .6 2 .9 2 .8 2 .7 2 .4 2 .2 2 .2 2 .1 2 .1 2 .1 2 0 2 .1 2 .1 2 .1 2 .1 2 .1 2 .1 2 0 2 .1 2 .1 2 0 2 .1 2 0 2-.1 2-.2 2-.8 2-2 2-3.8 2-5.1 2-4.6 2-1.3 2 2.5 2 4.7 2 4.3 2 2.1 2-.3 2-1.5 2-1.3 2 .2 2 1.6 2 1.8 2 1.2 2 .4 2 .1 2-.1 2-.3 2-1.2 2-2.9 2-4.1 2-3.1 2-1.3 2-1.4 2-.3 2 2.3 2 2.2 2 0 2-1.1 2-.5 2 .9 2 2.2 2 2.9 2 2.7 2 2 2 1.1 2 .7 2 .3 2 .2 2 .2 2 .2 2 0 2-.3 2-.8 2-1.6 2-2.3 2-2.9 2-3.2 2-2.7 2-.4 1.6 1.7M478.1 300.9l2-.8 2 11.1 2 16.2 2 13.4 2 7.6 2 3.1 2 .8 2 .1 2-.2 2-.2 2-.2 2-.2 2-.2 2-.2 2-.2 2-.2 2-.2 2-.2 2-.4 2-1 2-1.9 2-3.7 2-6.2 2-9.4 2-12 2-11.2 2-6.3 2 0 2 2.2 2 1.3 2 5.2 2 14 2 16.1 2 10.1 2 3.7 2 1 2 0 2-.5 2-1.3 2-2.5 2-3.2 2-3.1 2-1.7 2 .4 2 2.6 2 3.6 2 3.5 2 2.6 2 1.5 2 .7 2 .2 2 .1 2-.1 2-.2 2-.3 2-.5 2-1.4 2-4 2-8.7 2-10.7 2-4.8 2 4.2 2 6.9 2 2.5 2-1.7 2-2.2 2-.5 2 1.9 2 3.3 2 3.6 2 3 2 1.9 2 1.1 2 .5 2 .1 2 0 2 0 2 0 2 0 2 .1 2-.1 2-.3 2-1.3 2-3.3 2-6.3 2-9 2-9.3 2-5.5 2 1.3 2 7.5 2 10.1 2 8.9 2 5.8 2 3.1 2 1.2 2 .4 2-.2 2-1.1 2-2.4 2-4.5 2-7.1 2-9.9 2-12.7 2-13.5 2-9 2 1.9 2 13.2 2 17.5 2 14.2 2 7.8 2 2.5 2-1.2 2-3.7 2-4.5 2-3.8 2-1.7 2 1.1 2 3.3 2 4.1 2 3.2 2 1.1 2-.2 2 .5 2 1.1 2 .6 2-.3 2-.8 2-1 2-1.1 2-1.2 2-1.1 2-.6 2-.1 2 .6 2 1.4 2 1.9 2 2.2 2 2.1 2 1.6 2 1 2 .6 2 .3 2 0 2 .1 2-.1 2 0 2-.1 2-.1 2-.1 2-.1 2-.2 2-.3 2-.3 2-.4 2-.3 2-.2 2-.1 2-.1 2-.2 2-.2 2-.2 2-.3 2-.3 2-.4 2-.7 2-1.8 2-2.9 1.6-2.5M478.1 356l2 .2 2 .2 2 .1 2 .1 2 .1 2 .1 2 0 2 0 2-.2 2-.3 2-.9 2-1.9 2-3.3 2-4.7 2-5.3 2-4.8 2-4.8 2-6.4 2-5.5 2 1.7 2 10.1 2 11.5 2 6.9 2 2.4 2 0 2-2.4 2-9.1 2-18.5 2-15.1 2 6.1 2 19.3 2 12.5 2 1.8 2-1.5 2 1.4 2 3.3 2 2.2 2 .6 2 .2 2 .1 2 .1 2 0 2 .1 2 0 2 0 2 0 2 0 2-.1 2-.1 2 0 2-.1 2-.2 2-.1 2-.1 2 0 2-.1 2-.1 2 0 2 0 2 .1 2 .1 2 0 2-.1 2-.7 2-1.4 2-1.8 2-1.3 2 .4 2 1.9 2 2.5 2 1.6 2-.2 2-2.9 2-5.8 2-6.9 2-4.9 2-2.2 2-2.4 2-5.5 2-7.8 2-5.5 2 0 2 5.7 2 8.3 2 7.1 2 4.1 2 1.8 2 1.5 2 2.2 2 1 2-3.8 2-6.7 2-1.6 2 1.4 2-4.6 2-9.1 2-5.1 2 3.7 2 10.6 2 11.8 2 8.7 2 4.4 2 .6 2-2.3 2-4.7 2-6.1 2-5.3 2-2.2 2 2 2 5.3 2 6.2 2 4.9 2 3.1 2 1.5 2 .6 2 .2 2-.1 2-.6 2-1.6 2-3.4 2-5 2-5.3 2-4 2-1.6 2 1.6 2 4.7 2 6.2 2 4.8 2 2.4 2 .9 2 .5 2 .3 2 .2 2 .1 2-.1 2-.2 2-.1 2-.3 2-.2 2-.3 2-.3 2-.2 2-.3 2-.3 2-.3 2-.4 2-.6 2-1 2-1.1 2-1.1 2-.4 2 .4 2 .8 2 .5 2-.3 2-.2 2 .9 2 1.7 2 1.4 2 .8 2 .5 2 .2 2-.1 2-.4 2-.6 2-.3 2 .4 1.6.8M478.1 227.7l2 37.9 2 40.3 2 25.3 2 5 2-11.9 2-11.9 2 6.2 2 17.7 2 12.4 2 4.2 2 .4 2-2.7 2-9.4 2-16.6 2-10.4 2 8.2 2 17 2 11.1 2 3.6 2 .7 2 .2 2 .1 2 .1 2 .1 2 .1 2 0 2 0 2-.1 2-.3 2-.9 2-1.9 2-3.3 2-4.3 2-4.1 2-2.3 2 .6 2 3.2 2 4 2 3.3 2 2.1 2 1 2 .2 2-.1 2-.1 2-.3 2-.4 2-1 2-1.6 2-2.3 2-2.2 2-1.1 2 .6 2 2.1 2 2.6 2 2 2 1.1 2 .2 2-.7 2-1.3 2-1.1 2-.4 2 .8 2 1.5 2 1.3 2 .5 2-1.4 2-3.9 2-3.2 2 1.5 2 3.7 2 1.4 2-1.5 2-4.1 2-7.1 2-9.8 2-10.4 2-7.7 2-1.8 2 4.7 2 9.1 2 9.9 2 7.9 2 5 2 2.3 2-.5 2-5 2-9.9 2-8.2 2 2 2 10.1 2 8.7 2 3.9 2 1.1 2 .2 2-.1 2-1 2-3 2-6.4 2-9.6 2-10.5 2-7.4 2-2.3 2 1.4 2 1.2 2-1.6 2-4 2-3.6 2-.5 2 3.1 2 4.9 2 4.7 2 4.3 2 5.1 2 6.6 2 7.3 2 6.3 2 4.2 2 2.2 2 .8 2 .1 2-.1 2-.3 2-.2 2-.3 2-.3 2-.4 2-.8 2-1.5 2-2.7 2-3.7 2-3.8 2-2.3 2 .2 2 2.5 2 3.3 2 2.5 2 .9 2-.8 2-1.5 2-.7 2 .8 2 2 2 2.1 2 1.5 2 .8 2 .4 2 .3 2 .5 2 .5 2 .5 2 .4 2 .3 2 .2 2 .2 2 .1 2 .2 2 .1 2 .1 2 0 2 0 2-.2 2-.3 2-.6 2-.8 2-1 2-1 2-.8 1.6-.3M478.1 322.8l2-19.4 2-8.2 2 8.3 2 16.2 2 13.7 2 7.6 2 2.8 2 .7 2-.2 2-1 2-3 2-7.3 2-14.1 2-21.3 2-23.7 2-17 2-3 2 11 2 18.1 2 17.6 2 13.4 2 9.3 2 6 2 3.2 2 .6 2-4.8 2-15.9 2-24.3 2-12.2 2 14.9 2 27.7 2 19.7 2 8 2 1.9 2-.3 2-1.5 2-2.8 2-4.1 2-4.2 2-2.9 2-.1 2 2.6 2 4.2 2 3.6 2 1 2-2.1 2-2.7 2-.4 2 0 2-4 2-9.3 2-11.8 2-8.9 2-1.2 2 7.6 2 12.6 2 12.1 2 8.2 2 4.2 2 1.6 2 .5 2 0 2-.1 2-.1 2-.2 2-.1 2-.2 2-.2 2-.1 2-.2 2-.2 2-.2 2-.3 2-.7 2-1.2 2-1.9 2-2.6 2-2.6 2-1.9 2-1.7 2-1.9 2-2.2 2-1.3 2 .9 2 3.2 2 4.3 2 3.9 2 2.7 2 1.4 2 0 2-2.3 2-5.5 2-6.7 2-2.9 2 1.6 2 2.7 2 2.4 2 3 2 3.3 2 2.8 2 1.9 2 .9 2 .3 2-.1 2-1 2-3.5 2-7.5 2-10.6 2-8.6 2-2.6 2 1.1 2 .6 2-.1 2 1.1 2 3.6 2 5.5 2 6.2 2 5.9 2 4.4 2 2.5 2 1.1 2 .3 2 0 2-.1 2-.2 2-.1 2-.1 2-.1 2-.1 2-.1 2 0 2 0 2 0 2 0 2 0 2 .1 2 .1 2 .1 2 0 2 .1 2 0 2-.2 2-.6 2-1.2 2-2 2-2.5 2-2.4 2-1.5 2-.1 2 1.5 2 2.4 2 2.7 2 2.1 2 1.4 2 .8 2 .3 2 0 2 0 2-.2 2-.2 2-.3 2-.4 2-.3 2-.1 2 .1 2 .1 2 .2 1.6 0M478.1 253.2l2 37.9 2 30.7 2 17.8 2 4.6 2-8.9 2-18.6 2-15.6 2-6.5 2-6.6 2-11.4 2-8.8 2 .7 2 10.9 2 16.9 2 18.1 2 15.6 2 11.1 2 6.8 2 3.1 2-.8 2-6.6 2-9.9 2-2.2 2 8.4 2 8.6 2 3.4 2 .8 2 .1 2 0 2 0 2 0 2-.1 2-.6 2-1.3 2-1.9 2-1.8 2-.3 2 1.4 2 2.4 2 2 2 1.2 2 .6 2 .3 2 .1 2 .2 2 0 2 .1 2 0 2 0 2-.1 2-.1 2-.1 2-.2 2-.3 2-1 2-3.2 2-7.3 2-10.6 2-7.8 2 .1 2 4.2 2 .6 2-4.7 2-4.2 2 2.1 2 8.3 2 9.6 2 6.7 2 3.3 2 1.3 2 .5 2 .2 2 .2 2 .1 2-.1 2-.8 2-1.8 2-3.1 2-4 2-3.4 2-1.3 2 1.7 2 3.8 2 4.6 2 3.7 2 2.4 2 1.2 2 .5 2 .2 2 0 2 0 2-.1 2-.2 2-.1 2-.2 2-.3 2-.2 2-.2 2-.3 2-.3 2-.5 2-.6 2-1.1 2-1.4 2-1.7 2-2.1 2-3.9 2-6.4 2-4.4 2 3.2 2 8.2 2 6.2 2 2.3 2 .3 2-1 2-2.5 2-2.5 2 .3 2 2.7 2 2.4 2 .5 2-1.7 2-4 2-3.3 2 1.7 2 4.2 2 2.8 2 .7 2-.2 2-.4 2-.4 2-.2 2 .1 2 .3 2 .1 2 0 2 0 2-.2 2-.1 2-.2 2-.3 2-.4 2-.7 2-1.1 2-1.3 2-1.2 2-.8 2-.1 2 .5 2 1 2 .9 2 .7 2 .2 2-.4 2-.9 2-1.1 2-1.6 2-2.1 2-1.9 2-.3 2 1.7 2 2.6 2 2.3 2 1.3 2 .6 2 .2 2 .1 1.6 0M478.1 350.6l2-3.2 2-6.1 2-9.4 2-11.6 2-10.5 2-5.4 2 2 2 8.5 2 10.9 2 8.3 2 2.7 2 0 2 3.2 2 5.4 2 2.6 2-2.8 2-8 2-10.5 2-6.1 2 3.2 2 9.7 2 8.8 2 3.3 2-.9 2 .1 2 2.8 2 2.8 2 1.1 2-.1 2-1 2-2.5 2-4.5 2-6.7 2-7.5 2-6.5 2-4.1 2-1.5 2-.1 2 1.4 2 3.6 2 6.2 2 7.9 2 7.4 2 5.6 2 3.4 2 1.7 2 .7 2 .3 2 0 2-.1 2-.1 2-.4 2-.5 2-.9 2-.9 2-.5 2 .2 2 .6 2 .6 2 .3 2 .1 2-.1 2-.1 2-.1 2-.1 2-.1 2-.6 2-3.7 2-12.7 2-20.6 2-10.6 2 8.3 2 11.7 2 7.5 2 7.4 2 6.9 2 4.1 2 1.4 2 .2 2-.4 2-1.6 2-4 2-7.5 2-10.3 2-9.8 2-5.2 2 .6 2 3.7 2 3.8 2 2.6 2 2.3 2 2.6 2 2.5 2 1.9 2 1.9 2 3.1 2 4.3 2 4.2 2 2.9 2 1.4 2 .4 2 .1 2-.1 2 0 2-.1 2 0 2 0 2 0 2 0 2 0 2 .1 2 0 2 .1 2 .1 2 .1 2 .1 2 .1 2 .1 2 .1 2 .1 2 0 2 .1 2 0 2-.1 2-.5 2-1.1 2-1.6 2-1.5 2-.7 2 .2 2 .5 2 .2 2-.7 2-1.3 2-.9 2 .5 2 1.8 2 1.9 2 1.1 2 .2 2-.1 2-.2 2-.2 2-.3 2-.2 2-.2 2-.1 2-.2 2-.2 2-.2 2-.3 2-.5 2-.8 2-1 2-1 2-.8 2-.6 2-.2 2-.1 2-.4 2-.7 2-.8 2-.4 2 .5 2 1.3 2 1.8 2 1.7 1.6 1.1M478.1 348.6l2 .1 2 .1 2 0 2 .1 2 .1 2 0 2 0 2 .1 2 0 2 0 2 0 2 0 2-.1 2 0 2-.1 2 0 2-.1 2-.1 2-.5 2-2.9 2-9.6 2-16.8 2-12.4 2 3.3 2 13 2 11.9 2 7.8 2 4.3 2 1.9 2 .7 2 .3 2 .3 2 .2 2 .2 2 .2 2 .2 2 .2 2 .1 2 .1 2-.4 2-1.8 2-4.5 2-8.1 2-9.4 2-5.3 2 2.4 2 8.4 2 8.9 2 5.8 2 2.5 2 .7 2 0 2-.2 2-.1 2-.2 2-.2 2-.3 2-.5 2-1.3 2-3.4 2-6.2 2-8.2 2-6.5 2-.7 2 5.5 2 8.2 2 6.9 2 3.9 2 1.6 2 .7 2 .3 2 .2 2 .2 2 0 2-.3 2-1.2 2-3.8 2-9 2-14.8 2-14 2-9.1 2-9.8 2-11.8 2-6.4 2 5.5 2 17.4 2 21.6 2 16.2 2 6.4 2-1.1 2-6.7 2-14 2-17.2 2-5.6 2 12.3 2 18 2 13.3 2 7.8 2 3.8 2 .9 2-1.1 2-2.6 2-3.4 2-3.3 2-2 2 .1 2 2.2 2 3.5 2 3.6 2 3 2 1.9 2 1 2 .4 2 .1 2-.2 2-.7 2-1.6 2-2.5 2-2.5 2-1.3 2 .3 2 1.3 2 1.2 2 .9 2 .8 2 1 2 .9 2 .7 2 .2 2-.1 2-.9 2-2.2 2-4.7 2-8.9 2-9.9 2-2.2 2 6.7 2 8.1 2 6.4 2 4.7 2 3.1 2 1.3 2 0 2-1.3 2-2.8 2-4 2-3.4 2-1 2 1.9 2 3.3 2 2.5 2 .9 2-.6 2-1.7 2-2.4 2-2.3 2-1.3 2 0 2 1 2 1.5 2 1.2 2 1 2 .5 2 0 2-.5 2-1 2-.8 1.6.1M478.1 304.6l2 3.2 2 .4 2-1.5 2 .8 2 8 2 13.8 2 12.5 2 7 2 2.7 2 .7 2 0 2-.1 2-.1 2-.2 2-.2 2-.1 2-.1 2-.2 2-.1 2-.1 2-.1 2-1 2-3.8 2-8.4 2-8.4 2 .7 2 9 2 7.6 2 2.5 2-.4 2-.9 2-.4 2 .4 2 .5 2-.3 2-1.1 2-.4 2 1.4 2 2.8 2 2.5 2 1.6 2 .7 2 .3 2 0 2 .1 2 0 2 0 2-.1 2 0 2-.1 2-.1 2-.1 2-.1 2 0 2-.1 2-.1 2-.1 2-.1 2-.1 2-.1 2-.1 2 0 2-.2 2-.1 2-.4 2-.9 2-1.9 2-3.9 2-6.1 2-7.7 2-6.9 2-3.4 2 1.8 2 5.6 2 5.4 2 .1 2-7.3 2-8 2 1.7 2 11.1 2 10.6 2 5.2 2 1.4 2 .2 2 0 2-.8 2-4.1 2-10.6 2-12.2 2-.9 2 10.9 2 8.8 2 .1 2-5 2-5.3 2-4.1 2-5.4 2-10.8 2-15.7 2-12 2 1.7 2 15.1 2 19 2 15.3 2 9.3 2 4.5 2 1.5 2 0 2-.1 2 .3 2 1 2 1.2 2 1.3 2 1 2 .4 2-.2 2-.9 2-1.8 2-2.3 2-2.5 2-1.9 2-.6 2 .7 2 1.8 2 2 2 1.4 2 .6 2-.1 2-.4 2 0 2 .3 2 .7 2 .7 2 .5 2 .2 2 .1 2 0 2 0 2-.1 2 0 2-.1 2-.1 2-.1 2 0 2 .1 2 .2 2 .3 2-.1 2-.6 2-1 2-.9 2-.3 2-.2 2-.6 2-.6 2 .1 2 1 2 1.5 2 1.6 2 1.2 2 .7 2 .4 2 .2 2 0 2 0 2-.1 2-.1 1.6-.1M478.1 325.7l2 14.2 2 9.2 2 4 2 1.3 2 .4 2 .1 2 .1 2 .1 2 .1 2 .1 2 0 2 .1 2 0 2 0 2 0 2-.1 2-.4 2-1.2 2-3.5 2-7 2-9.7 2-7.6 2-1.3 2 3.7 2 2 2-5.2 2-11.4 2-11.4 2-5.1 2 4.1 2 10.8 2 12.5 2 10.3 2 7 2 4.3 2 2.4 2 1.3 2 .1 2-1.7 2-5 2-9.5 2-11.1 2-6 2 3.8 2 10.8 2 10.5 2 6.4 2 2.6 2 .8 2 .2 2 .2 2 .1 2 .2 2 .1 2 .2 2 .1 2 .1 2 .2 2 .1 2 .1 2 .1 2 .1 2 0 2 .1 2 0 2-.1 2-.3 2-.8 2-1.5 2-2.9 2-4.2 2-5 2-4.6 2-2.6 2 .4 2 3.2 2 4.4 2 3.1 2-2.6 2-14.2 2-24.9 2-22 2-5.7 2 5.4 2 2.4 2-3.4 2-.8 2 9.1 2 17.3 2 18.8 2 14.3 2 8.3 2 3.9 2 1.5 2 .2 2-.6 2-1.5 2-3 2-4.3 2-4.7 2-3.4 2-.5 2 2.6 2 4.5 2 4.4 2 3.2 2 1.9 2 .8 2 .2 2 0 2-.3 2-1.2 2-3.2 2-4 2-1.3 2 2.8 2 3.9 2 2.1 2-.3 2-3.4 2-4.8 2-1.3 2 3.6 2 2.5 2-1.7 2-3.1 2-.2 2 2.1 2 1.3 2 .4 2 .4 2 .9 2 1.1 2 .7 2 .7 2 1.3 2 2 2 1.4 2 .7 2 .3 2 .1 2 .1 2 .1 2 .1 2 .1 2 0 2 .1 2-.2 2-.6 2-1.9 2-3.9 2-5.2 2-4 2-.2 2 3.8 2 5.4 2 4.1 2 2.3 2 .8 2 .2 2-.2 2-.9 2-1.8 2-2.1 2-1.2 2 .3 2 1.1 1.6.9M478.1 332.4l2-6 2-7 2-8 2-8.2 2-6 2-.2 2 7.2 2 12.2 2 12.6 2 9.3 2 5.1 2 1.8 2 .2 2 0 2 .4 2 .9 2 .9 2 .7 2 .4 2 .3 2 .1 2 .2 2 .1 2 .1 2 0 2 .1 2 .1 2 0 2 0 2 .1 2 0 2 0 2-.1 2 0 2 0 2-.1 2-.1 2-.1 2-.4 2-1 2-2 2-3.4 2-5 2-5.8 2-5.5 2-3.6 2-.7 2 2.9 2 5.2 2 5.4 2 3.1 2-.6 2-4.6 2-7.2 2-7.6 2-5 2-.5 2 4.3 2 7.3 2 7.7 2 6.2 2 4 2 2.1 2 .4 2-2 2-5.9 2-5.7 2 1.9 2 6.7 2 4 2 .7 2-.6 2-1.2 2-1.5 2-1.4 2-.8 2 .2 2 .8 2 .7 2-.4 2-1.9 2-2.9 2-2.2 2-.4 2 0 2-2.1 2-5.1 2-6.8 2-5.5 2-1.7 2 3 2 6.3 2 7.4 2 6.3 2 4.4 2 2.5 2 1.3 2 .6 2 .4 2 .2 2 .3 2 .1 2 .1 2-.5 2-2 2-4.4 2-6.9 2-6.9 2-2.6 2 3.6 2 7.4 2 7 2 4.3 2 1.2 2-2 2-5 2-5.4 2-.8 2 4.6 2 5.7 2 3.2 2 .8 2-.3 2-.7 2-.7 2-1 2-2.5 2-4.9 2-5.8 2-3.1 2 .3 2 1.6 2 2.5 2 3.9 2 4.6 2 3.5 2 2 2 .6 2 .1 2-.4 2-1.3 2-2.7 2-3.9 2-3 2-.1 2 2.9 2 3.9 2 2.9 2 1.4 2 .6 2 .2 2 .1 2 .2 2 .1 2 .1 2 .2 2 .1 2 .1 2-.2 2-.9 2-2.2 2-2.7 2-1.3 2-.3 2 0 2 .5 2 1.6 1.6 1.9M478.1 341.6l2-7.6 2-7.5 2-6.3 2-5.5 2-2.2 2 3.6 2 8.6 2 9.5 2 7.2 2 4 2 1.5 2-.2 2-1.7 2-3.4 2-5 2-6 2-5.3 2-2.7 2 .9 2 4.2 2 5.3 2 4 2 .8 2-3 2-5.1 2-3.6 2 1.3 2 5.9 2 7.1 2 5.4 2 3 2 1.3 2 .6 2 .2 2 .2 2 0 2 .1 2 .1 2 .1 2 0 2 .1 2 0 2 0 2 .1 2 0 2 0 2 0 2 0 2 0 2-.1 2 0 2-.1 2-.1 2-.4 2-1.4 2-3.9 2-7.7 2-9 2-4.2 2 3.7 2 7.7 2 5.6 2 1.8 2-.2 2-.2 2 .5 2 1.1 2 1.3 2 1.2 2 .8 2 .4 2 .3 2 .1 2 0 2 .1 2 0 2 0 2 0 2-.5 2-1.6 2-3.9 2-7.3 2-10 2-9.3 2-4 2 3.8 2 9.2 2 10.1 2 7.6 2 4.2 2 1.2 2-2.2 2-6.3 2-6.8 2-2.8 2-1.4 2-2.8 2-1.6 2 2.7 2 6.2 2 6.9 2 5.5 2 3.2 2 1.3 2-.8 2-3.7 2-6.7 2-6.7 2-4 2-3.3 2-4.4 2-4.2 2-1.6 2 1.7 2 5.1 2 8.4 2 9.6 2 7.8 2 4.4 2 1.9 2 .7 2 0 2-.5 2-2 2-3.5 2-2.8 2-.7 2 .2 2 .9 2 2.1 2 2 2 .1 2-1.7 2-1.6 2 .1 2 1.8 2 1.9 2 1.1 2 .3 2-.1 2-.2 2-.2 2-.1 2-.2 2-.2 2-.2 2-.2 2-.1 2-.2 2-.3 2-.7 2-.9 2-.2 2 .7 2 .8 2 .3 2 .1 2 .1 2 0 2 0 2 0 2 0 2 0 2-.1 2-.5 2-1.3 2-2.3 1.6-2.4M478.1 316.9l2-8.7 2 3.4 2 11.8 2 10.4 2 2.4 2-5.3 2-8.6 2-6.6 2-1.5 2 3 2 5.1 2 5.5 2 5.5 2 5.1 2 2.8 2-1.7 2-8.7 2-15.5 2-15.5 2-5.1 2 9.2 2 16.4 2 13.8 2 7.3 2 2.7 2 .7 2 .2 2 .2 2 .1 2 .2 2 .3 2 .2 2 .3 2 .3 2 .1 2-.7 2-2.6 2-3.9 2-1.4 2 3 2 4.5 2 2.7 2 1 2 .4 2 .3 2 .2 2 .2 2 .1 2 .1 2-.5 2-2.5 2-8.8 2-19.9 2-27.1 2-15.6 2 11.5 2 27.5 2 21.2 2 7 2-2.1 2-4.9 2-3.9 2-.3 2 3.4 2 5.2 2 4.3 2 .9 2-5.3 2-10.5 2-5.7 2 6 2 10.6 2 6.3 2 1.7 2 .2 2-.2 2-.1 2-.2 2-.1 2-.1 2-.1 2-.1 2-.1 2 0 2-.1 2 0 2-.2 2-.6 2-2.1 2-4 2-3.2 2 1.3 2 4.1 2 3.2 2 1.2 2 .1 2-.2 2-1.2 2-3 2-6.2 2-10 2-11.7 2-9.2 2-2.6 2 3.1 2 3.3 2-1.9 2-6.4 2-4.3 2 3.1 2 9 2 9.4 2 5.9 2 2.8 2 2.1 2 2.2 2 1.8 2 .7 2 0 2 1 2 2.7 2 3.5 2 2.7 2 .9 2-1 2-.9 2 .5 2 .8 2-.6 2-2 2-2.8 2-2.4 2-1.3 2 .4 2 1.8 2 2.2 2 1.5 2-.1 2-2.6 2-5 2-4.4 2 .4 2 5.3 2 5.9 2 4.1 2 2.5 2 1.6 2 1 2 .6 2 .2 2 .2 2 0 2 0 2 0 2 0 2-.2 2-.1 2-.4 2-.7 2-1.9 2-3.7 2-4.5 2-1.3 2 2.6 2 3.2 2 2.2 2 1.4 1.6.7M478.1 344.7l2-.2 2-.3 2-.7 2-1.6 2-3 2-4.2 2-4.1 2-2 2 1.2 2 3.6 2 4 2 1.3 2-4.6 2-8.6 2-2.1 2 8.2 2 8.8 2 3.9 2 1 2 .2 2 .2 2-.2 2-.9 2-2.3 2-4 2-5.1 2-4.2 2-1.7 2 .8 2 .8 2-2.3 2-6.8 2-10.3 2-10.6 2-5.5 2 3.9 2 12.5 2 15.2 2 12.1 2 7 2 2.9 2 .5 2-2 2-7.5 2-14.9 2-12.6 2 2 2 11.2 2 9.3 2 6.2 2 4.4 2 2.8 2 1.4 2 .5 2 .1 2 .1 2-.1 2 0 2 0 2-.1 2-.1 2-.5 2-1.5 2-3.6 2-6.1 2-7.2 2-4.5 2 1.1 2 5.9 2 7 2 4.9 2 1.8 2-.8 2-2.6 2-3.5 2-3.1 2-1.4 2 1.1 2 2.9 2 2.7 2 .3 2-3.9 2-8.5 2-11.1 2-8.8 2-2.5 2 3.5 2 7 2 9.6 2 9.8 2 6.9 2 3.1 2 .9 2 0 2-.1 2-.2 2-.3 2-.5 2-1.3 2-2.7 2-5.2 2-7.7 2-8.8 2-7.1 2-2.1 2 3.9 2 7.9 2 8 2 4.7 2-.4 2-3.9 2-2.4 2 2.4 2 5.9 2 5.5 2 3 2 1.2 2 .2 2 0 2-.1 2-.1 2-.1 2-.2 2-.1 2-.2 2-.2 2-.2 2-.2 2-.3 2-.5 2-.9 2-1 2-.6 2 0 2 .3 2 0 2-.4 2-.4 2-.2 2-.4 2-1.1 2-2.3 2-3.4 2-3.3 2-1.1 2 2.1 2 3.9 2 3.6 2 2.2 2 .7 2-.5 2-1.1 2-1.5 2-1.4 2-.7 2 .2 2 1.1 2 1.5 2 1.2 2-.8 2-4.4 2-5.3 2 .6 2 6.1 2 5.2 2 2 2 .4 1.6.2M478.1 305.4l2 22.2 2 11.1 2 3.5 2 1.8 2 2.1 2 2.2 2 1.7 2 1.1 2 .6 2 .2 2 0 2-.1 2-.4 2-1.8 2-4.2 2-3.9 2 .7 2 3.5 2 .8 2-3 2-5.2 2-5.8 2-4.6 2-1.9 2 1 2 2.5 2 2 2-.3 2-2.6 2-3.5 2-1.7 2 2.2 2 5.9 2 7.4 2 6.3 2 4.1 2 2.1 2 .7 2 .1 2 0 2-.1 2-.1 2-.1 2-.4 2-1.9 2-5.8 2-11.7 2-13.6 2-9.1 2-6.7 2-11.9 2-12.5 2-1.8 2 9.8 2 14.7 2 13.8 2 10.4 2 7.8 2 6.9 2 6 2 4.1 2 1.9 2 0 2-1.8 2-3.4 2-4.3 2-3.8 2-1.7 2 .1 2 .3 2-1 2-2 2-1.9 2-.7 2 1.5 2 3.7 2 4.7 2 4.1 2 2.5 2 .9 2-.2 2-1.8 2-4.6 2-9.4 2-13.7 2-12.9 2-4.4 2 6.8 2 13.4 2 12.5 2 7.6 2 3.4 2 1.1 2 .3 2 .1 2 .1 2 .1 2 .2 2 .2 2 .2 2 .2 2 .2 2 .2 2 .2 2 .2 2 .2 2 .2 2 .2 2 .1 2 .1 2 .1 2 .1 2 0 2-.2 2-.4 2-.9 2-1.4 2-1.8 2-1.6 2-1 2 .1 2 1.1 2 1.7 2 1.7 2 1.2 2 .8 2 .3 2-.3 2-1.1 2-2.1 2-2 2-.4 2 1.5 2 2.1 2 1.5 2 .6 2 .2 2 0 2 0 2 0 2-.1 2-.5 2-2.5 2-6 2-6.5 2 .1 2 5.7 2 4.6 2 1.5 2 .2 2 .4 2 .8 2 1 2 1 2 .7 2 .4 2 .2 2 .1 2 .1 2 .1 2 0 2 .1 2 .1 2 0 2 .1 2 0 2 .1 1.6 0M478.1 341.4l2-2.5 2 1.9 2 1 2-6.6 2-15.8 2-20.2 2-15.5 2-1.7 2 15 2 20.9 2 11.6 2 .3 2-2.8 2 .7 2 4.8 2 6.4 2 5.8 2 4.1 2 2.2 2 .2 2-1.6 2-3.6 2-5.1 2-5.6 2-4.6 2-2.3 2 .1 2 1 2 .4 2-.5 2 .2 2 2.3 2 3 2 .1 2-5.9 2-10.4 2-8.6 2-.3 2 8.9 2 13.2 2 11.4 2 6.8 2 3 2 .9 2-.3 2-1.5 2-3.3 2-5.7 2-7.1 2-6.1 2-2.2 2 3 2 6.4 2 6.6 2 4.5 2 1.8 2-.6 2-2.3 2-2.9 2-2.5 2-.9 2 1.1 2 2.5 2 2.9 2 2.3 2 1.4 2 .7 2 .2 2-.3 2-.7 2-1.1 2-1.3 2-1.3 2-1.1 2-1.6 2-5.2 2-12.1 2-13 2 1.7 2 16.7 2 14.5 2 5.5 2 1.1 2 .1 2-.1 2-.1 2-.1 2-.5 2-1.8 2-6.2 2-11.8 2-8.7 2 4.3 2 11.7 2 8 2 2.5 2 .2 2-.1 2-.2 2-.2 2-.2 2-.2 2-.2 2-.7 2-1.7 2-3.3 2-4.4 2-3.3 2 .2 2 3.6 2 4.2 2 2.5 2-.9 2-4.1 2-4.2 2 .6 2 4.7 2 4.4 2 1.9 2 .2 2-.4 2-1.2 2-1.9 2-1.8 2-.7 2 .7 2 1.1 2 .7 2 .5 2-.2 2-2.5 2-4 2-.6 2 3.8 2 4.1 2 1.8 2 .4 2 .1 2-.1 2-.5 2-1.2 2-1.3 2-.2 2 1.3 2 1.7 2 1 2 .5 2 .3 2 .1 2 .1 2 0 2-.2 2-.6 2-.8 2-.5 2 .4 2 .9 2 .9 2 .7 2 .2 2 .2 2 0 2 .1 2 0 2 .1 2 0 2 .1 1.6 0M478.1 350.7l2 .1 2-.1 2 0 2-.1 2-.3 2-.6 2-1.2 2-1.5 2-1 2 .2 2 1 2 1.1 2 .5 2 0 2-.1 2-.2 2-.2 2-.1 2-.2 2-.1 2-.1 2 0 2-.2 2-.5 2-3.4 2-11.5 2-22.3 2-19.7 2 2.7 2 22.2 2 20.6 2 8.7 2 0 2-5.9 2-12.4 2-17.5 2-14.3 2-1 2 13 2 17.2 2 12.5 2 5.9 2 .9 2-1.8 2-3.6 2-4.3 2-3.9 2-1.4 2 2.2 2 4.9 2 5 2 3.5 2 1.6 2 .5 2-.1 2-.3 2-.3 2-.8 2-2.1 2-5.4 2-10.6 2-14.4 2-12.4 2-3.7 2 5.8 2 9.8 2 8.5 2 6 2 5.2 2 4.7 2 3.3 2 .7 2-1.6 2-2.8 2-2.1 2-.3 2 1.9 2 3.3 2 3.7 2 2.8 2 1.5 2 .6 2-.1 2-.7 2-2.5 2-4.8 2-3.8 2 1.5 2 5.6 2 4.7 2 1.6 2-.7 2-2.4 2-3.6 2-4 2-2.9 2-.9 2 .9 2 1 2-.1 2-1.5 2-1.8 2-.7 2 1 2 2.5 2 3 2 2.8 2 2 2 1.2 2 .5 2 .2 2 .1 2-.2 2-.4 2-.8 2-1.3 2-1.3 2-.8 2 .3 2 1.2 2 1.7 2 1.3 2 .4 2-.8 2-1.8 2-2.2 2-1.4 2 .1 2 1.3 2 1 2-.5 2-2.5 2-3.4 2-2 2 .8 2 3.3 2 3.9 2 3.3 2 2.3 2 1.5 2 .9 2 .5 2 0 2-.1 2-.5 2-.9 2-1.5 2-1.4 2-.4 2 .8 2 1.2 2 .8 2 .4 2 0 2-.1 2-.1 2-.3 2-.2 2-.2 2-.2 2-.2 2-.2 2-.1 2-.1 2 0 2 0 2 .1 1.6.1M478.1 349.4l2-.6 2-1.2 2-2.3 2-3.6 2-5.3 2-7.4 2-9 2-8.9 2-6.3 2-1.4 2 4.3 2 8.7 2 10.4 2 9.2 2 6.7 2 3.9 2 2 2 .8 2 .2 2 0 2-.2 2-.7 2-1.2 2-1.5 2-1.1 2 0 2 1.2 2 1.8 2 1.4 2 1 2 .5 2 .2 2-.1 2-.4 2-.9 2-1.1 2-.9 2-.3 2 .6 2 1.3 2 1.6 2 1.5 2 1 2 .6 2 .3 2 .1 2 0 2 0 2-.1 2-.1 2-.2 2-.1 2-.2 2-.2 2-.2 2-.3 2-.2 2-.2 2-.2 2-.2 2-.3 2-.7 2-2.4 2-6.4 2-9.5 2-6.7 2 0 2 5.1 2 6.5 2 4.1 2 .3 2-1.9 2-2.3 2-2.3 2-2.6 2-2.3 2-.1 2 3.4 2 5.6 2 5.4 2 3.5 2 1.7 2 .6 2 .2 2 .1 2 .1 2 0 2 .1 2-.1 2-.2 2-.7 2-1 2-1.4 2-1.1 2-.5 2 .5 2 1.4 2 1.6 2 1.4 2 .7 2-.4 2-1.1 2-1.6 2-1.3 2-.7 2-.8 2-1.6 2-2.7 2-2.2 2 .2 2 3.1 2 4.5 2 3.9 2 2.2 2 .4 2-.6 2-.8 2-.5 2-.2 2-.7 2-1.4 2-.1 2 1.5 2 .8 2-.5 2-1 2-.8 2-.2 2 .4 2 .6 2 .2 2-.8 2-2.3 2-3.6 2-3.6 2-2.1 2 .4 2 2.1 2 2.7 2 2.4 2 1.6 2 .9 2 0 2-.7 2-1.2 2-1.2 2-1 2-.5 2 .2 2 .9 2 1.3 2 1.5 2 1.2 2 .9 2 .5 2 .2 2 .1 2-.1 2-.1 2-.4 2-1.2 2-2.5 2-3.5 2-2.8 2-.9 2 .8 2 1.5 1.6 1.6M478.1 351.3l2-1.6 2-3.5 2-6.5 2-10.1 2-12.3 2-11.6 2-6.7 2 .5 2 7.4 2 11.2 2 11.2 2 8.4 2 4.1 2-1.2 2-7.3 2-10.8 2-6.8 2 3 2 9.7 2 8.5 2 3.6 2 .6 2 .5 2 1.2 2 1.4 2 .8 2 .5 2 .3 2 .3 2 .4 2 .4 2 .4 2 .5 2 .5 2 .5 2 .5 2 .5 2 .4 2 .4 2 .4 2 .2 2 .1 2-1 2-4.1 2-10.1 2-14.8 2-12.6 2-4.5 2 2.5 2 5.8 2 7.1 2 5.9 2 3.9 2 3.2 2 3.4 2 2.8 2 1.1 2-.4 2-.9 2-.6 2 .1 2 .1 2-1.6 2-7 2-12.9 2-12.6 2-5.1 2 3.1 2 7.6 2 9.5 2 8.9 2 7 2 5 2 3.6 2 2.4 2 1.4 2 .5 2 .1 2-.3 2-.3 2-.3 2-.3 2-.2 2-.3 2-.1 2-.2 2 0 2 0 2 .1 2 .1 2 .1 2 .2 2 .2 2-.3 2-2.3 2-5.8 2-7 2-.9 2 6.5 2 7.2 2 3.6 2 1.1 2 .2 2 .1 2 0 2-.1 2-1 2-4.1 2-9.1 2-8.6 2 2 2 9.9 2 7.6 2 2.7 2 0 2-1.2 2-2.5 2-3.9 2-4.5 2-4.1 2-3.8 2-4.8 2-3.3 2 2 2 6.5 2 8.2 2 7.1 2 4.2 2 1.6 2 .1 2-.4 2-.7 2-1.1 2-1.6 2-1.9 2-2 2-1.4 2-.5 2 .6 2 1.4 2 1.8 2 1.6 2 1.1 2 .7 2 .3 2 .3 2 .1 2 .2 2 .2 2 .2 2 .2 2 .2 2 .2 2 .2 2 .1 2 .2 2 .1 2 .1 2 .1 2 .1 2 .1 2 0 2 0 2 0 2 0 2-.1 2-.2 1.6-.7M478.1 347.8l2 0 2 0 2 0 2 0 2 0 2-.2 2-.3 2-.9 2-2 2-4.2 2-7.6 2-11.8 2-14.3 2-12.1 2-4.1 2 6 2 12.6 2 13.1 2 9.5 2 4.5 2 .3 2-1.5 2-1 2 1.1 2 3.1 2 3.7 2 3 2 1.8 2 .9 2 .2 2-.1 2-.4 2-.9 2-1.4 2-1.7 2-1.5 2-1 2-.8 2-1 2-.8 2 .9 2 3 2 3.3 2 2 2 .6 2-1.6 2-6.8 2-12.9 2-8.6 2 6.1 2 12.7 2 6.5 2-2.3 2-9.6 2-14.1 2-10.9 2 2.1 2 13.9 2 14 2 7.6 2 2.8 2 .9 2 .3 2 .1 2 .1 2 .1 2 .1 2 .1 2 .2 2 .1 2 .2 2 .1 2 .2 2 .1 2 0 2-.3 2-.8 2-1.4 2-1.8 2-1.4 2-.4 2 1.1 2 2 2 2.2 2 1.6 2 1 2 .5 2 .4 2 .2 2 .1 2 .2 2 .1 2 .1 2 .1 2 0 2-.3 2-1.1 2-2.6 2-5 2-6.7 2-6.2 2-2.9 2-.3 2-.9 2-2.1 2 .9 2 6.5 2 8.7 2 6.2 2 2.6 2 .3 2-.6 2-1.3 2-2.2 2-3.1 2-3.6 2-3.3 2-1.9 2 .1 2 2 2 2.7 2 1.9 2 0 2-1.7 2-2.1 2-.7 2 .4 2-1.8 2-4.5 2-1.4 2 5.4 2 7.6 2 4.7 2 1.7 2 .4 2 .1 2 .1 2-.1 2-.4 2-.9 2-1.8 2-2.6 2-2.9 2-1.9 2-.2 2 1.4 2 2.2 2 2.3 2 1.9 2 1.1 2 .5 2 .1 2-.1 2-.1 2-.2 2-.2 2-.1 2-.1 2-.1 2-.1 2-.1 2-.4 2-1.1 2-2.2 2-2 2 .1 2 2.2 1.6 2M478.1 346.4l2-.1 2-.3 2-1.5 2-8.9 2-27.5 2-40.8 2-18.4 2 17.4 2 24.3 2 17 2 12.9 2 5.7 2-2.2 2-5.9 2-5.6 2-3.4 2-.2 2 1.8 2 .9 2-3.6 2-10.7 2-16.8 2-18.6 2-15.8 2-10.5 2-4.9 2 2.2 2 11.6 2 20.4 2 23.6 2 19.2 2 10.7 2 2.8 2-1.3 2-1.6 2-1.1 2-3.1 2-8.3 2-10.8 2-4 2 7.6 2 13.8 2 12.9 2 9 2 5.6 2 3 2 1.5 2 .6 2 .4 2 .2 2 .2 2 .1 2 .1 2 .1 2 0 2 .1 2-.1 2 0 2 0 2-.1 2-.1 2 0 2-.1 2-.1 2-.1 2 0 2-.1 2-.2 2-.7 2-2.1 2-4.5 2-8.2 2-11.4 2-11.8 2-7.8 2-.5 2 6.2 2 9.2 2 7.9 2 4.2 2 0 2-3.4 2-4.5 2-3.7 2-1.2 2 1.4 2 2.9 2 3.3 2 2.9 2 2 2 .9 2 0 2-.5 2 .1 2 1.8 2 3.5 2 4.5 2 4.3 2 3.3 2 2.1 2 1.1 2 .5 2 .3 2 .1 2 0 2 .1 2 0 2 0 2 0 2 0 2-.1 2-.9 2-3.5 2-7.6 2-6.8 2 1.5 2 7.9 2 6.3 2 2.3 2 .4 2 0 2-.1 2-.1 2-.1 2 0 2-.1 2-.1 2-.1 2-.2 2-.1 2-.2 2-.2 2-.2 2-.2 2-.3 2-.4 2-.7 2-1 2-1.1 2-.6 2 0 2 .6 2 .7 2 .5 2 .3 2 0 2-.1 2-.3 2-.5 2-.8 2-.9 2-.6 2-.1 2 .5 2 1 2 1.2 2 1 2 .8 2 .6 2 .3 2 .1 2 .1 2 .1 2-.2 2-.7 2-1.7 2-2.5 1.6-2.1M478.1 318.9l2-13.9 2-6.2 2 5.7 2 12.4 2 12.4 2 9.2 2 5.5 2 2.1 2-.1 2-1.2 2-.9 2 .2 2 1.4 2 1.7 2 1.4 2 .8 2 .3 2 .1 2 0 2 0 2-.1 2-.4 2-1.5 2-4.4 2-8.4 2-10.5 2-6.4 2 2.5 2 9.5 2 9.9 2 6 2 1.9 2-1.8 2-3.3 2-.6 2 3.1 2 2.7 2 .4 2-1.4 2-2.4 2-2.4 2-1.1 2 1.1 2 2.3 2 2.2 2 1.3 2 .5 2 0 2-.1 2-.2 2-.2 2-.2 2-.4 2-.9 2-2.6 2-5.6 2-8.8 2-9.3 2-4.7 2 2.1 2 5.9 2 5.1 2 3.1 2 2.4 2 3 2 3.3 2 2.4 2 1.4 2 .5 2 .1 2-.1 2-.1 2-.1 2 0 2-.1 2 0 2 0 2-.1 2-.8 2-2.5 2-3.2 2 0 2 3.2 2 1.6 2-2.5 2-7.3 2-11.3 2-10.8 2-3.8 2 5.9 2 11.8 2 11.1 2 6.9 2 3.1 2 1 2 .2 2 0 2-.1 2-.1 2-.3 2-.6 2-1.5 2-3.2 2-5.6 2-7.7 2-9.3 2-11.2 2-11.5 2-1.3 2 14.4 2 17.5 2 10.6 2 4.6 2 1.5 2-.6 2-1.9 2-1.6 2 .3 2 2.2 2 2.7 2 2 2 1 2 .4 2 .2 2-.1 2-.5 2-1.1 2-1.7 2-1.8 2-1.1 2 .2 2 1.1 2 .9 2 0 2-1.3 2-1.9 2-1.9 2-1.1 2 .2 2 1.8 2 2.8 2 2.3 2 1.2 2 .4 2 .1 2 0 2-.1 2-.1 2-.4 2-.6 2-.5 2 0 2 .3 2-.2 2-.4 2-.2 2 .4 2 .8 2 .3 2-.6 2-1 2 0 2 1.4 2 2.1 2 1.7 2 1 2 .5 1.6.4M478.1 280.8l2 9.5 2 2.3 2-4.8 2-5.5 2 1.9 2 13.5 2 19.9 2 16.8 2 8.9 2 1.9 2-3.1 2-7.7 2-10.8 2-9.1 2-2.1 2 5.8 2 8.8 2 6.2 2 1.7 2-1.2 2-2 2-3.4 2-9.7 2-20.5 2-22 2-3.3 2 17.4 2 20.3 2 13.7 2 8.6 2 6.2 2 4.3 2 2.5 2 1.3 2 .5 2 0 2-.7 2-1.7 2-2.8 2-3.9 2-4.3 2-3.7 2-1.5 2 2.2 2 4.9 2 4.5 2 1.9 2 .5 2 1.4 2 1.5 2-.4 2-2.1 2-1.6 2 .6 2 2.7 2 3.1 2 2 2 .9 2 .3 2 .1 2 0 2 0 2-.1 2-.1 2-.2 2-.6 2-1.2 2-2 2-2.4 2-1.8 2-.3 2 1 2 1 2-2 2-6.1 2-4.2 2 2.7 2 5.4 2 3.1 2 1.5 2 1.3 2 1 2 .7 2 .3 2-.1 2-.1 2-.3 2-.3 2-.3 2-.2 2-.3 2-.2 2-.2 2-.2 2-.2 2-.2 2-.1 2-.1 2 0 2-.1 2 0 2 0 2 0 2 .1 2 0 2-.2 2-.7 2-1.4 2-2.4 2-3 2-2.5 2-1 2 .3 2 1.3 2 3.1 2 4.4 2 3.2 2 1.5 2 .5 2 .1 2-.1 2-.5 2-.9 2-1.1 2-.9 2-.8 2-.5 2-.6 2 .1 2 1.2 2 2 2 1.9 2 1.2 2 .6 2 .1 2 0 2 0 2 0 2 0 2 0 2-.1 2 0 2-.2 2-.5 2-1.4 2-2.6 2-4.1 2-4.9 2-4.3 2-1.8 2 1.3 2 3.7 2 4.6 2 4 2 2.9 2 1.9 2 .9 2 .5 2 .2 2 0 2 0 2 0 2-.1 2-.1 2-.1 2-.1 2-.1 1.6-.1M478.1 319.1l2-25.8 2-10.7 2 13.4 2 21.9 2 15.1 2 6.1 2-.7 2-6.2 2-9.6 2-9.5 2-5.4 2 1.2 2 7.1 2 10.1 2 9.1 2 5.7 2 1.4 2-2.8 2-6 2-7.5 2-6.9 2-4.8 2-1.8 2 1.4 2 4.8 2 7.5 2 8.3 2 7.2 2 4.9 2 2.9 2 1.4 2 .7 2 .3 2 .1 2 .1 2 .1 2-.1 2-.1 2-.3 2-.8 2-1.2 2-1.9 2-2.3 2-2.3 2-1.8 2-1 2-.5 2-.5 2-.5 2 .3 2 1.4 2 2.2 2 2.1 2 .6 2-1.8 2-4.8 2-6.7 2-5.4 2-.7 2 4.1 2 6 2 4.6 2 2.2 2 .5 2-.5 2-1.1 2-1.7 2-3.1 2-5 2-4.8 2 .3 2 6.3 2 7 2 3.7 2 1.7 2 1.6 2 2.1 2 1.9 2 1.3 2 .6 2 .2 2-.1 2-.2 2-.2 2-.4 2-.3 2-.4 2-.5 2-.4 2-.4 2-.4 2-.5 2-.4 2-.5 2-.8 2-1.5 2-2.8 2-4.8 2-6.5 2-7 2-5.1 2-1.2 2 3.2 2 5.2 2 2.7 2-2.8 2-3.1 2 4.5 2 9.7 2 6.8 2 1.9 2-1.5 2-3.5 2-5.1 2-5.1 2-2.9 2 .7 2 3.7 2 4.4 2 2.9 2 1 2 .3 2 1.3 2 2.6 2 2.7 2 1.9 2 1 2 .4 2 .2 2 .1 2 0 2 0 2 .1 2 .1 2 0 2-.1 2-.1 2-.2 2-.2 2-.2 2-.2 2-.2 2-.1 2-.1 2-.1 2-.1 2 0 2 .1 2 .1 2 .1 2 .2 2 .2 2 .2 2 .2 2 .3 2 .2 2 .2 2 .2 2 .2 2 .1 2 0 2 .1 2-.1 2 0 2-.2 2-.1 2-.2 1.6-.2M478.1 346.8l2 0 2 0 2 0 2 .1 2 .1 2 .1 2 .2 2 .2 2 .2 2 .2 2 .3 2 .3 2 .2 2 .3 2 .3 2 .3 2 .4 2 .3 2 .3 2 .4 2 .3 2 .3 2 .1 2-.3 2-1 2-1.3 2-.4 2 1.1 2 1.8 2 1.5 2 .9 2 .3 2 .2 2 .1 2 .1 2 0 2 0 2 0 2-.1 2-.1 2-.2 2-.2 2-.5 2-.7 2-1.3 2-1.8 2-2.2 2-1.9 2-1 2 .2 2 1 2 1 2 .2 2-.8 2-1.6 2-1.7 2-1.2 2-.7 2-1.8 2-3 2 0 2 4.9 2 3.9 2 .1 2-1.6 2-.8 2-.6 2-3.2 2-6.5 2-3.8 2 1.4 2 2 2 .4 2 1.1 2 3.2 2 4.5 2 4.2 2 3 2 1.8 2 .9 2 .4 2 .2 2 .1 2 0 2 0 2 0 2-.1 2-.4 2-2.7 2-8.8 2-12.2 2-2 2 10.8 2 10.2 2 3.6 2 .1 2-1.6 2-3.1 2-2.9 2-.1 2 2.8 2 2.9 2 1.3 2-.5 2-2.2 2-3.6 2-3.5 2-1.5 2 .1 2 1 2 2.6 2 3.8 2 3.2 2 1.6 2 .5 2 .2 2 .1 2 .1 2 0 2-.1 2-.5 2-1.3 2-2.5 2-3.8 2-4.9 2-5.4 2-4.9 2-2.7 2 1.3 2 4.8 2 5.5 2 3.7 2 1.3 2 .2 2-.3 2-1.2 2-2.4 2-2.9 2-1 2 2.3 2 4.7 2 4.8 2 3.3 2 1.7 2 .6 2 .1 2 0 2 0 2-.1 2-.3 2-1.1 2-2.1 2-1.3 2 1.3 2 2.2 2 1.1 2 .3 2 .1 2 0 2 0 2-.1 2-.5 2-.7 2-.8 2-.5 2 .2 2 .9 1.6.9M478.1 356.8l2-.2 2-.2 2-.2 2-.2 2-.3 2-.3 2-.3 2-.3 2-.4 2-.3 2-.4 2-.6 2-1.7 2-4.7 2-7.1 2-3.8 2 3.7 2 6.1 2 2 2-3.5 2-7.4 2-6.7 2-.8 2 5.7 2 6.9 2 3.5 2-1.1 2-4.4 2-5.4 2-3.4 2 .5 2 4.1 2 5.6 2 4.7 2 3 2 1.6 2 .6 2 .2 2 .1 2-.3 2-.5 2-1.4 2-3.2 2-6.3 2-10.4 2-12 2-7.7 2 1.3 2 8.3 2 8.6 2 3.6 2-1.9 2-5.2 2-6.4 2-7.2 2-6.6 2-2.1 2 5.7 2 12.2 2 13.7 2 10.2 2 5.5 2 2.2 2 .7 2 .1 2 .1 2 0 2 0 2 0 2 0 2 0 2 0 2 .1 2 0 2 0 2 0 2 0 2-.2 2-1.1 2-3.3 2-6.1 2-5.6 2-.8 2 2.8 2 .8 2-5.3 2-7.1 2 2.4 2 11.2 2 8.7 2 3.3 2 .9 2 .3 2 .1 2 .1 2 .1 2 0 2 0 2-.9 2-3.4 2-7.2 2-7.7 2-3.1 2-.1 2-2.9 2-5.2 2-2.8 2 2.2 2 5.6 2 5.2 2 1.6 2-.6 2 2.3 2 6.4 2 6.1 2 3.4 2 1.4 2 .2 2-.5 2-1.2 2-1.2 2-1 2-.4 2 0 2 .2 2 .3 2 .6 2 .9 2 1.3 2 1.3 2 1 2 .6 2 .3 2 0 2-.3 2-.9 2-1.9 2-3 2-2.9 2-1.2 2 1.3 2 2.7 2 2.6 2 1.4 2 .5 2 0 2-.3 2-.3 2-.6 2-.5 2-.3 2-.1 2 .1 2 .1 2-.1 2-.1 2-.1 2-.2 2-.1 2-.1 2-.1 2-.4 2-.9 2-2 2-3.1 2-3.2 2-1.7 1.6.7M478.1 350.8l2-3.6 2-8.7 2-14.5 2-15.6 2-7.7 2 5.8 2 15.2 2 15.3 2 9.8 2 4.4 2 1.4 2 .3 2 0 2-.3 2-1.6 2-3.9 2-5.9 2-6.7 2-10.7 2-13.5 2-5.2 2 7.8 2 12.3 2 9.1 2 5.8 2 4 2 2.9 2 1.7 2 .7 2 .3 2 0 2-.1 2-.1 2-.1 2 0 2 0 2-.1 2 0 2 .1 2 0 2 .1 2 0 2 .1 2 .1 2 .1 2 .1 2 .1 2 .1 2 .1 2 .1 2 .1 2 .1 2 0 2 .1 2-.2 2-1 2-2.7 2-4.9 2-5.9 2-4.2 2-1.6 2-1.6 2-5.8 2-10.1 2-9.1 2-1.7 2 7.5 2 12.8 2 12.1 2 7.2 2 1.5 2-4 2-7.7 2-8.1 2-4 2 1.7 2 4.5 2 3.1 2-.5 2-3.1 2-3.9 2-2.5 2 .5 2 4.1 2 6.4 2 6.6 2 5.2 2 3.1 2 1.5 2 .6 2-.1 2-.5 2-1.3 2-2.1 2-2.6 2-2.2 2-.6 2 1.2 2 2.6 2 2.7 2 2 2 1.2 2 .6 2-.2 2-2.5 2-7.7 2-9.1 2 .5 2 9 2 6.4 2 1.7 2 0 2 .2 2 .6 2 .8 2 .7 2 .5 2 .1 2-.4 2-1.2 2-2.2 2-3.1 2-3 2-1.9 2 0 2 1.6 2 2.2 2 2.1 2 2 2 1.8 2 .9 2-.1 2-1.6 2-3.5 2-5.5 2-5 2-1.2 2 3.4 2 5.5 2 4.7 2 2.7 2 1.1 2 .3 2 .1 2 .1 2 0 2 0 2 0 2 0 2 0 2 0 2 0 2 0 2 .1 2 0 2 0 2 .1 2 0 2 .1 2 .1 2 .2 2 .1 2 0 2-.4 2-1 2-1.6 2-1.7 1.6-.7M478.1 329.6l2 1.3 2 2.8 2 2.4 2 .3 2-2.2 2-3.2 2-2 2 .9 2 3.8 2 5.2 2 4.8 2 2.8 2 .2 2-2.3 2-4.1 2-4.3 2-2.6 2 .1 2 2.7 2 3.4 2 2.1 2-.8 2-3.3 2-4.5 2-3.2 2 .2 2 4 2 6.3 2 6.3 2 4.7 2 2.7 2 1 2-.4 2-1.7 2-3.3 2-4 2-3.4 2-1 2 1.9 2 3.6 2 3.4 2 2.2 2 .7 2-.6 2-2.3 2-4.4 2-5.2 2-3.3 2 .4 2 2.6 2 2.3 2-.3 2-4.6 2-8.8 2-9.6 2-6 2-.1 2 3.8 2 4.1 2 3.2 2 3 2 4.2 2 5.5 2 5.7 2 4.9 2 3.4 2 2 2 1 2 .5 2 .1 2-.4 2-1.1 2-2.7 2-5 2-6.5 2-5.6 2-1.8 2 3.1 2 5.9 2 5.8 2 3.9 2 1.8 2 .5 2 .1 2-.2 2-.2 2-.2 2-.2 2-.2 2-.2 2-.1 2-.3 2-.5 2-1.1 2-2 2-2.9 2-3.2 2-2.3 2-.5 2 1 2 .7 2-2.3 2-6.8 2-9.5 2-6.9 2 .3 2 7.8 2 10.9 2 9.5 2 6.1 2 3.1 2 1.5 2 .6 2 .2 2 0 2-.8 2-2.1 2-2.3 2-.2 2 1.4 2 1.2 2 .7 2 .6 2 .6 2 .4 2 .2 2 0 2-.1 2-.1 2-.2 2-.1 2-.2 2-.2 2-.5 2-1 2-2.2 2-3.7 2-4 2-2.3 2 .6 2 1.5 2 0 2-.7 2 .9 2 .7 2-2.3 2-4.3 2-3.2 2 .3 2 3.6 2 5 2 4.3 2 2.8 2 1.4 2 .7 2 .4 2 .2 2 .3 2 .2 2 .3 2 .2 2 .2 2 .3 2 .2 2 .2 2 .2 2 .2 1.6.2M478.1 347.5l2-.7 2-1.7 2-4.1 2-7.8 2-11.4 2-12.8 2-9.5 2-1.9 2 6.7 2 12.1 2 12.4 2 9.1 2 4.6 2 1.4 2 0 2-.1 2 .7 2 1.3 2 1.5 2 1.3 2 .7 2 .4 2 0 2-.1 2-.2 2-.9 2-5.7 2-19 2-27 2-4.5 2 23 2 19.1 2 3.9 2-2.6 2-2.8 2-.9 2 1.4 2 3.4 2 3.8 2 2.5 2-1.4 2-5.6 2-5.3 2 1.5 2 7.4 2 7.2 2 3.5 2 1.2 2 .4 2 .2 2 .1 2 .1 2 .1 2 .1 2 0 2 .1 2 0 2 0 2 0 2 0 2 0 2-.1 2 0 2 0 2 0 2-.1 2 0 2 0 2 0 2 0 2 0 2 .1 2 0 2 .1 2 .1 2 .1 2 0 2 0 2-.2 2-.7 2-1.7 2-3.4 2-5.7 2-8.6 2-11.3 2-12.6 2-10.7 2-4.7 2 3.8 2 11.1 2 13.5 2 9.9 2 1.7 2-7.4 2-12.6 2-9.8 2-.1 2 10 2 14.6 2 12.7 2 7.7 2 2.8 2-1.3 2-3.8 2-1.8 2 2.8 2 3.7 2 1.7 2 .3 2-.2 2-.2 2-.2 2-.2 2-.2 2-.2 2-.2 2-.2 2-.2 2-.3 2-.3 2-.5 2-.8 2-1.3 2-1.5 2-1.5 2-1.1 2-.2 2 .3 2 .5 2-.1 2-.7 2-1.3 2-1.2 2-1.2 2-.8 2 .8 2 3 2 3.9 2 2.9 2 1.5 2 .8 2 .4 2 .1 2 0 2 0 2-.3 2-.7 2-1.5 2-2.5 2-2.1 2-.6 2 .6 2-.4 2-2.4 2-2.2 2 .8 2 3.2 2 2.1 2 0 2-.3 2 1.1 2 2.1 2 2 2 1.1 2 .4 2 .1 2 0 1.6-.2M478.1 349.1l2-1.3 2-3.4 2-5.3 2-5.2 2-6.7 2-13.8 2-18.2 2-8.3 2 8.4 2 14.2 2 7.1 2-.4 2-2.6 2-1.3 2 1 2 4.8 2 8.4 2 9.2 2 7 2 3.5 2-.1 2-3.3 2-6.4 2-8.8 2-9.5 2-6.8 2-1.1 2 5.3 2 9.4 2 9.8 2 7.3 2 4 2 1.1 2-.8 2-1.8 2-2.1 2-1.5 2-.3 2 1 2 1.9 2 2.2 2 1.8 2 .6 2-.9 2-1.9 2-.8 2 1.6 2 2.3 2 1.5 2 .5 2 0 2-.8 2-3.5 2-7.4 2-6.2 2 1 2 3.1 2-4.9 2-17.1 2-26.7 2-22.5 2-1.2 2 19.7 2 25.1 2 19.7 2 12 2 5.7 2 2 2 .4 2 0 2-.2 2-.1 2-.2 2-.2 2-.1 2-.1 2-.2 2-.1 2-.1 2-.1 2-.2 2-.8 2-2.7 2-6.1 2-7.9 2-4.4 2 2.1 2 6.1 2 6.5 2 4.3 2 1.8 2 .4 2 0 2 0 2-.1 2 0 2 0 2 0 2 0 2 0 2 0 2 .1 2 0 2 0 2 0 2 0 2-.1 2-.3 2-.6 2-1.2 2-1.7 2-2 2-1.7 2-.9 2 .3 2 1.5 2 2.2 2 2.4 2 1.8 2 1.3 2 .8 2 .4 2 .3 2 .2 2 .3 2 .1 2 0 2-.6 2-1.8 2-3.6 2-4.1 2-2.1 2 1.7 2 4.1 2 3.9 2 2.2 2 .9 2 .2 2 0 2 0 2-.1 2 0 2 0 2-.4 2-.6 2-.4 2 .5 2 .8 2 .5 2 .3 2 .1 2-.2 2-.7 2-1.7 2-2.5 2-2.5 2-1 2 .9 2 1.7 2 1.6 2 1.1 2 .9 2 .8 2 .8 2 .5 2 .4 2 .1 1.6 0M478.1 354.7l2 .3 2 .3 2 .3 2 .3 2 .3 2 .3 2 .2 2 .3 2 .2 2 .3 2 .1 2 .1 2-.2 2-1 2-2.6 2-4.9 2-7.3 2-8 2-5.7 2-.8 2 4.6 2 7.7 2 7.5 2 5.1 2 1.9 2-1.4 2-5.2 2-9.9 2-15.4 2-18.7 2-14.7 2-2.6 2 9.2 2 12.5 2 10.4 2 10.9 2 12 2 8.9 2 3.7 2 .3 2-1.9 2-4.4 2-8.2 2-12.2 2-13.3 2-9.3 2-.7 2 8 2 12.6 2 12 2 8.6 2 4.8 2 2.2 2 .8 2 0 2-.5 2-.7 2-.5 2 .3 2 .8 2 1 2 .7 2 .5 2 .1 2-.7 2-2.7 2-5.9 2-7.3 2-4.2 2 1.1 2 2.5 2 0 2-2 2-1.1 2 1.7 2 4.2 2 5.5 2 5 2 3.4 2 1.6 2 .5 2-.2 2-1 2-2.4 2-5.1 2-8.2 2-10.1 2-8.3 2-2.8 2 4.2 2 9 2 9.3 2 6.1 2 1.3 2-3.7 2-7.9 2-10.4 2-9.7 2-5.2 2 1.8 2 8.1 2 11.2 2 10.5 2 7.7 2 4.5 2 2.2 2 .9 2 .4 2 .1 2 0 2 0 2 0 2 0 2 0 2 0 2 0 2-.5 2-1.5 2-2.9 2-3.8 2-3.4 2-1.4 2 1.9 2 4 2 3.7 2 1.9 2 .5 2-.8 2-2.4 2-4.7 2-4.9 2-1.7 2 1.1 2 1.6 2 2 2 3 2 3.5 2 2.7 2 .2 2-3.5 2-7.6 2-7.3 2-1.7 2 4 2 5.2 2 3.9 2 3.2 2 2.5 2 1.6 2 .2 2-.9 2-.6 2 .4 2 1 2 .4 2 0 2-.2 2-.3 2-.4 2-1 2-2.5 2-4 2-2.6 2 1.4 2 4 2 3.2 2 1.6 1.6.5M478.1 351.7l2-.1 2-.4 2-2.2 2-8.9 2-21.3 2-26.8 2-10.3 2 14.5 2 21.4 2 11.1 2 .3 2-3.3 2-3.3 2-4.8 2-7 2-.4 2 8.9 2 6.9 2-.3 2-4.9 2-5.9 2-1.4 2 7.4 2 12.5 2 10.3 2 5.2 2 1.9 2 .5 2 .3 2 .2 2 .3 2 .2 2 .2 2 .2 2 .2 2 .2 2 .2 2 .1 2 .1 2-.5 2-2.1 2-4.2 2-4.4 2-2 2-2 2-4.8 2-1.1 2 5.9 2 5.9 2 2.5 2 1.6 2 2.1 2 2.1 2 1.6 2 .4 2-1.5 2-4 2-3.2 2 1.4 2 3.6 2 1.4 2-1.1 2-2.1 2-1.9 2-1 2-.1 2-.1 2-.8 2-.9 2 .6 2 2.4 2 3.1 2 2.3 2 1.1 2 .4 2 .2 2 .1 2 0 2 .1 2 .1 2 .1 2 .1 2 .1 2 .1 2 .1 2 .1 2 0 2 0 2 0 2-.5 2-1.7 2-4.4 2-7 2-6.7 2-1.4 2 5 2 7.4 2 5.4 2 2.6 2 .7 2 0 2-.1 2-.3 2-.7 2-1.4 2-2.3 2-3.6 2-4.4 2-3.9 2-2.2 2 .2 2 1.1 2-1 2-1.9 2 2.5 2 5.4 2 3.2 2 1.3 2 1.5 2 1.8 2 1.4 2 .8 2 .2 2-.4 2-1.7 2-3.8 2-4.6 2-1.8 2 2.7 2 4.8 2 3.6 2 1.6 2 .5 2-.1 2-.8 2-1.8 2-1.8 2 0 2 1.7 2 1.6 2 .7 2 0 2-.2 2-.3 2-.4 2-.5 2-.6 2-.7 2-.5 2-.2 2 .2 2 .3 2 .3 2 .3 2 .2 2 0 2-.1 2-.2 2-.1 2-.1 2 .1 2 .1 2-.2 2-.7 2-1.3 2-1.4 2-.4 1.6.6M478.1 336.6l2-11.5 2-15.5 2-17.8 2-16.4 2-10.9 2-2.1 2 7.6 2 15 2 18 2 16 2 10.6 2 4.5 2-.1 2-2.2 2-1.7 2 .1 2 2.4 2 3.7 2 4 2 3.3 2 2.1 2 1.1 2 .1 2-.6 2-1 2-.6 2 .6 2 .9 2 .5 2-.3 2-1.5 2-3.7 2-5.3 2-3.7 2 .5 2 3 2 2.4 2 .9 2 .5 2 1.6 2 2.8 2 2.3 2 1.2 2 .5 2 .2 2 .2 2 .1 2 .1 2 .2 2 .1 2 0 2-.3 2-1 2-2.2 2-2.7 2-1.5 2 1 2 2.6 2 2.6 2 1.5 2 .6 2 .1 2 0 2 0 2 0 2 0 2 0 2-.1 2-.3 2-.6 2-1.2 2-1.6 2-2 2-2 2-2.5 2-4.2 2-6.5 2-7.1 2-3.5 2 3.3 2 8.4 2 8.3 2 3.8 2-1.4 2-5.1 2-6.2 2-4.8 2-1.2 2 2.6 2 5.3 2 5.8 2 4.7 2 2.9 2 1.3 2 .4 2 0 2-.3 2-.3 2-.3 2-.4 2-.5 2-.8 2-1.4 2-1.7 2-1.6 2-.7 2 .4 2 1.3 2 1.2 2 .2 2-1.5 2-3.8 2-5.8 2-6.9 2-8.2 2-9.3 2-5.2 2 6.7 2 15.5 2 12.4 2 4.1 2-.9 2 0 2 2.9 2 3.6 2 2.1 2 .9 2 .3 2 .2 2 .3 2 .2 2 .1 2 .2 2 .1 2 .2 2 0 2-.2 2-.6 2-1.6 2-3 2-4.2 2-4 2-2.1 2 .7 2 2.7 2 3.5 2 3.2 2 1.9 2 .6 2-.5 2-1.2 2-1.2 2-.7 2-.1 2 .6 2 .9 2 1 2 .7 2 .4 2 .1 2 0 2-.1 2-.1 2-.2 2-.3 2-.4 2-.6 1.6-.6M478.1 337.7l2 3.3 2 3.5 2 2.3 2 .3 2-2.3 2-4.9 2-5.8 2-3.3 2-.4 2-2.4 2-5.4 2 2 2 11.5 2 9.3 2 3.2 2 .5 2 .1 2-.2 2-.3 2-.8 2-1.5 2-1.7 2-1.6 2-.7 2 .7 2 1.8 2 2.2 2 1.8 2 1.3 2 .8 2 .4 2 .2 2 .1 2 .1 2 .1 2 0 2 0 2-.1 2-.1 2-.1 2-.2 2-.3 2-.7 2-1.2 2-2 2-3.1 2-4 2-4.7 2-7.1 2-11.6 2-10.6 2 .7 2 8.8 2 8 2 7.8 2 8 2 4.3 2-1.7 2-10.2 2-14.2 2-2.5 2 9.8 2 7.4 2 1.3 2-.4 2 .2 2 2.1 2 3.6 2 3.3 2 1.9 2 .9 2 .5 2 0 2-.6 2-1.8 2-3.5 2-4.6 2-3.5 2 0 2 3.5 2 4.9 2 4.1 2 2.3 2 1 2 .3 2 .2 2 .1 2 .1 2 .1 2 0 2 0 2-.2 2-.6 2-1.4 2-2.1 2-2.7 2-2.5 2-2.2 2-2.6 2-4.6 2-8.6 2-10.2 2-3.3 2 6.9 2 10.1 2 7.9 2 4.8 2 1.5 2-1.8 2-4 2-4.3 2-2.5 2 .7 2 3.8 2 5.2 2 5 2 3.6 2 2.2 2 1 2 .3 2-.3 2-.9 2-1.7 2-2.3 2-1.9 2-.7 2 1 2 2.2 2 2.2 2 1.7 2 .9 2 .5 2 .2 2 .2 2 .2 2 .1 2 0 2-.7 2-2.2 2-4.1 2-3.8 2-.6 2 2.6 2 3.3 2 2.7 2 2.1 2 1.7 2 1 2 .6 2 .2 2 0 2 0 2-.1 2-.2 2-.2 2-.3 2-.5 2-.8 2-1.8 2-2.8 2-3.6 2-3.3 2-1.9 2-.4 2 .6 2 1.4 2 2.3 1.6 2.1"/>
</g>
<rect x="668.80" y="4.10" width="470.90" height="354.50" fill="none" stroke="#000" stroke-width="1.9" stroke-linejoin="round"/>
<path d="M662.50,358.60H668.80M662.50,272.03H668.80M662.50,185.45H668.80M662.50,98.88H668.80M662.50,12.30H668.80M665.70,341.29H668.80M665.70,323.97H668.80M665.70,306.66H668.80M665.70,289.34H668.80M665.70,254.71H668.80M665.70,237.40H668.80M665.70,220.08H668.80M665.70,202.77H668.80M665.70,168.14H668.80M665.70,150.82H668.80M665.70,133.51H668.80M665.70,116.19H668.80M665.70,81.56H668.80M665.70,64.25H668.80M665.70,46.93H668.80M665.70,29.62H668.80M668.80,358.60V365.00M744.70,358.60V365.00M820.60,358.60V365.00M896.50,358.60V365.00M972.40,358.60V365.00M1048.30,358.60V365.00M1124.20,358.60V365.00" stroke="#000" stroke-width="1.9" stroke-linecap="round" fill="none"/>
<g transform="translate(657.10,368.90) scale(0.93,1)"><text x="0" y="0" text-anchor="end" font-size="28.2" font-family="Latin Modern Roman, 'LM Roman 10', 'Liberation Serif', serif" >0</text></g>
<g transform="translate(657.10,282.33) scale(0.93,1)"><text x="0" y="0" text-anchor="end" font-size="28.2" font-family="Latin Modern Roman, 'LM Roman 10', 'Liberation Serif', serif" >0.1</text></g>
<g transform="translate(657.10,195.75) scale(0.93,1)"><text x="0" y="0" text-anchor="end" font-size="28.2" font-family="Latin Modern Roman, 'LM Roman 10', 'Liberation Serif', serif" >0.2</text></g>
<g transform="translate(657.10,109.18) scale(0.93,1)"><text x="0" y="0" text-anchor="end" font-size="28.2" font-family="Latin Modern Roman, 'LM Roman 10', 'Liberation Serif', serif" >0.3</text></g>
<g transform="translate(657.10,22.60) scale(0.93,1)"><text x="0" y="0" text-anchor="end" font-size="28.2" font-family="Latin Modern Roman, 'LM Roman 10', 'Liberation Serif', serif" >0.4</text></g>
<g transform="translate(668.80,391.30) scale(0.93,1)"><text x="0" y="0" text-anchor="middle" font-size="28.2" font-family="Latin Modern Roman, 'LM Roman 10', 'Liberation Serif', serif" >0</text></g>
<g transform="translate(744.70,391.30) scale(0.93,1)"><text x="0" y="0" text-anchor="middle" font-size="28.2" font-family="Latin Modern Roman, 'LM Roman 10', 'Liberation Serif', serif" >1</text></g>
<g transform="translate(820.60,391.30) scale(0.93,1)"><text x="0" y="0" text-anchor="middle" font-size="28.2" font-family="Latin Modern Roman, 'LM Roman 10', 'Liberation Serif', serif" >2</text></g>
<g transform="translate(896.50,391.30) scale(0.93,1)"><text x="0" y="0" text-anchor="middle" font-size="28.2" font-family="Latin Modern Roman, 'LM Roman 10', 'Liberation Serif', serif" >3</text></g>
<g transform="translate(972.40,391.30) scale(0.93,1)"><text x="0" y="0" text-anchor="middle" font-size="28.2" font-family="Latin Modern Roman, 'LM Roman 10', 'Liberation Serif', serif" >4</text></g>
<g transform="translate(1048.30,391.30) scale(0.93,1)"><text x="0" y="0" text-anchor="middle" font-size="28.2" font-family="Latin Modern Roman, 'LM Roman 10', 'Liberation Serif', serif" >5</text></g>
<g transform="translate(1124.20,391.30) scale(0.93,1)"><text x="0" y="0" text-anchor="middle" font-size="28.2" font-family="Latin Modern Roman, 'LM Roman 10', 'Liberation Serif', serif" >6</text></g>
<g clip-path="url(#clipc)">
<path fill="#00f" d="M1220.5 346.1l2.8 0 2.8 0 2.8 0 2.8 0 2.8 0 2.8 0 2.8 0 2.8 0 2.8 0 2.8 0 2.8 0 2.8 0 2.8 0 2.8 0 2.8 0 2.8 0 2.8 0 2.8 0 2.8 0 2.8 0 2.8 0 2.8 0 2.8 0 2.8 0 2.8 0 2.8 0 2.8 0 2.8 0 2.8 0 2.8 0 2.8 0 2.8 0 2.8 0 2.8 0 2.8 0 2.8 0 2.8 0 2.8 0 2.8 0 2.8 0 2.8 0 2.8 0 2.8 0 2.8 0 2.8 0 2.8 0 2.8 0 2.8 0 2.8 0 2.8 0 2.8 0 2.8 0 2.8 0 2.8 0 2.8 0 2.8 0 2.8 0 2.8 0 2.8 0 2.8 0 2.8 0 2.8 0 2.8 0 2.8 0 2.8 0 2.8 0 2.8 0 2.8 0 2.8 0 2.8 0 2.8 0 2.8 0 2.8 0 2.8 0 2.8 0 2.8 0 2.8 0 2.8 0 2.8 0 2.8 0 2.8 0 2.8 0 2.8 0 2.8 0 2.8 0 2.8 0 2.8 0 2.8 0 2.8 0 2.8 0 2.8 0 2.8 0 2.8 0 2.8 0 2.8 0 2.8 0 2.8 0 2.8 0 2.8 0 2.8 0 2.8 0 2.8 0 2.8 0 2.8 0 2.8 0 2.8 0 2.8 0 2.8 0 2.8 0 2.8 0 2.8 0 2.8 0 2.8 0 2.8 0 2.8 0 2.8 0 2.8 0 2.8 0 2.8 0 2.8 0 2.8 0 2.8 0 2.8 0 2.8 0 2.8 0 2.8 0 2.8 0 2.8 0 2.8 0 2.8 0 2.8 0 2.8 0 2.8 0 2.8 0 2.8 0 2.8 0 2.8 0 2.8 0 2.8 0 2.8 0 2.8 0 2.8 0 2.8 0 2.8 0 2.8 0 2.8 0 2.8 0 2.8 0 2.8 0 2.8 0 2.8 0 2.8 0 2.8 0 2.8 0 2.8 0 2.8 0 2.8 0 2.8 0 2.8 0 2.8 0 2.8 0 2.8 0 2.8 0 2.8 0 2.8 0 2.8 0 2.8 0 2.1 0 0 5.6-2.1 0-2.8 0-2.8 0-2.8 0-2.8 0-2.8 0-2.8 0-2.8 0-2.8 0-2.8 0-2.8 0-2.8 0-2.8 0-2.8 0-2.8 0-2.8 0-2.8 0-2.8 0-2.8 0-2.8 0-2.8 0-2.8 0-2.8 0-2.8 0-2.8 0-2.8 0-2.8 0-2.8 0-2.8 0-2.8 0-2.8 0-2.8 0-2.8 0-2.8 0-2.8 0-2.8 0-2.8 0-2.8 0-2.8 0-2.8 0-2.8 0-2.8 0-2.8 0-2.8 0-2.8 0-2.8 0-2.8 0-2.8 0-2.8 0-2.8 0-2.8 0-2.8 0-2.8 0-2.8 0-2.8 0-2.8 0-2.8 0-2.8 0-2.8 0-2.8 0-2.8 0-2.8 0-2.8 0-2.8 0-2.8 0-2.8 0-2.8 0-2.8 0-2.8 0-2.8 0-2.8 0-2.8 0-2.8 0-2.8 0-2.8 0-2.8 0-2.8 0-2.8 0-2.8 0-2.8 0-2.8 0-2.8 0-2.8 0-2.8 0-2.8 0-2.8 0-2.8 0-2.8 0-2.8 0-2.8 0-2.8 0-2.8 0-2.8 0-2.8 0-2.8 0-2.8 0-2.8 0-2.8 0-2.8 0-2.8 0-2.8 0-2.8 0-2.8 0-2.8 0-2.8 0-2.8 0-2.8 0-2.8 0-2.8 0-2.8 0-2.8 0-2.8 0-2.8 0-2.8 0-2.8 0-2.8 0-2.8 0-2.8 0-2.8 0-2.8 0-2.8 0-2.8 0-2.8 0-2.8 0-2.8 0-2.8 0-2.8 0-2.8 0-2.8 0-2.8 0-2.8 0-2.8 0-2.8 0-2.8 0-2.8 0-2.8 0-2.8 0-2.8 0-2.8 0-2.8 0-2.8 0-2.8 0-2.8 0-2.8 0-2.8 0-2.8 0-2.8 0-2.8 0-2.8 0-2.8 0-2.8 0-2.8 0-2.8 0-2.8 0-2.8 0-2.8 0-2.8 0-2.8 0-2.8 0-2.8 0-2.8 0-2.8 0-2.8 0-2.8 0-2.8 0-2.8 0-2.8 0-2.8 0z"/>
<path transform="scale(1.4,1)" fill="none" stroke="#00f" stroke-width="1.55" stroke-linejoin="round" d="M871.8 347.8l2 0 2 0 2 0 2 0 2 0 2 0 2 0 2 0 2 0 2 0 2-.2 2-.5 2-1.1 2-1.6 2-1.9 2-1.3 2 .2 2 1.7 2 2.1 2 1.6 2 .7 2 .1 2-.3 2-.6 2-.6 2-.3 2 .2 2 .7 2 .6 2 .3 2 .2 2 0 2-.1 2-.2 2-.3 2-.4 2-.5 2-.3 2-.2 2 .2 2 .4 2 .5 2 .4 2 .3 2 .1 2 .1 2 0 2 0 2 0 2 0 2 0 2-.2 2-.4 2-.9 2-1 2-.7 2 .1 2 .8 2 1 2 .8 2 .3 2 .2 2 0 2 0 2 0 2 0 2 0 2 0 2 0 2 0 2-.3 2-1.2 2-2.4 2-2.5 2-.5 2 1.5 2 .3 2-3.5 2-7.1 2-8.2 2-7 2-9.6 2-29.3 2-69.2 2-95.8 2-58.6 2 31.1 2 93 2 82.7 2 37.1 2 5.5 2-.9 2 5.9 2 12.1 2 12.3 2 8.4 2 4.1 2 1.4 2 .1 2-.7 2-1.6 2-2.8 2-3.9 2-4.4 2-3.6 2-1.6 2 1.2 2 3.3 2 3.5 2 1.3 2-2.6 2-4.3 2-.6 2 4.8 2 6.4 2 4.2 2 1.6 2 .4 2 0 2 0 2 0 2 0 2 0 2 0 2 0 2 0 2 0 2 0 2 0 2-.1 2-.3 2-.9 2-2 2-3.3 2-3.1 2-.7 2 2.2 2 3.3 2 2.6 2 1.5 2 .6 2 .2 2 0 2 0 2 0 2 0 2 0 2 0 2 0 2 0 2 0 2 0 2 0 2 0 2 0 2 0 2 0 2 0 2 0 2 0 2 0 2-.1 2-.1 2-.3 2-.4 2-.5 2-.5 1.5-.3M871.8 346.1l2-1.3 2-1.5 2-1.1 2-.2 2 .7 2 1.4 2 1.4 2 1.1 2 .7 2 .4 2 .1 2 0 2 0 2 0 2 0 2 0 2 0 2 0 2 0 2 0 2 0 2 0 2 0 2 0 2 0 2 0 2-.2 2-.3 2-.5 2-.5 2-.4 2-.4 2-.6 2-1.4 2-2.9 2-4 2-3.6 2-1.4 2 1.8 2 4 2 4.3 2 3.2 2 1.8 2 .8 2 .2 2 .1 2 0 2 0 2 0 2 0 2 0 2 0 2 0 2 0 2-.2 2-.6 2-1 2-1.6 2-1.5 2-.7 2 .6 2 1.5 2 1.6 2 1.1 2 .5 2 .3 2 0 2 0 2 0 2 0 2 0 2 0 2-.1 2-.3 2-.8 2-1.3 2-2 2-1.9 2-1.1 2 .3 2 1.5 2 2 2 1.2 2-1.1 2-6.3 2-13.4 2-18.6 2-24.6 2-48.6 2-87.3 2-78.2 2 10.8 2 90.7 2 81.7 2 29.3 2 4.4 2 11.7 2 21.1 2 17.9 2 9.1 2 2.8 2 .1 2-1.1 2-2 2-2.6 2-2.9 2-2.1 2-.6 2 1.2 2 2.5 2 2.8 2 2.4 2 1.6 2 .6 2-.2 2-1.4 2-3.3 2-6.9 2-9.6 2-5.6 2 3.5 2 8.6 2 6.9 2 4 2 2.3 2 1.3 2 .3 2-.9 2-2.9 2-6 2-10.3 2-13.3 2-8.7 2 3.9 2 13.1 2 12.5 2 7.7 2 3.7 2 1.7 2 .6 2 .2 2 0 2 0 2 0 2 0 2 0 2 0 2 0 2 0 2 0 2 0 2 0 2-.1 2-.2 2-.5 2-1 2-1.7 2-2.1 2-1.7 2-.8 2 .6 2 1.8 2 2 2 1.7 2 1.1 2 .6 2 .2 1.5.1M871.8 343.5l2 0 2 0 2 0 2 0 2 0 2 0 2 0 2 0 2 0 2-.1 2-.4 2-1.2 2-2.8 2-4.2 2-3.4 2-.2 2 3.2 2 4.1 2 3 2 1.4 2 .5 2 .1 2 0 2 0 2 0 2 0 2 0 2 0 2 0 2 0 2 0 2 0 2 0 2 0 2 0 2 0 2 0 2 0 2 0 2 0 2 0 2 0 2 0 2 0 2 0 2 0 2 0 2-.1 2-.3 2-.9 2-1.8 2-3.3 2-4.6 2-4.6 2-2.9 2-.2 2 2.2 2 3.1 2 2.7 2 2.1 2 1.9 2 1.8 2 1.7 2 1.1 2-.2 2-1.6 2-2.8 2-3.3 2-2.2 2 0 2 2.3 2 3.3 2 3 2 1.9 2 .2 2-1.6 2-3.1 2-3.6 2-5.4 2-7.6 2-4.7 2 3.4 2 9.3 2 8.5 2 4.4 2 1.5 2 .3 2-.5 2-2.6 2-9 2-21.5 2-34.9 2-40.8 2-49.9 2-80.8 2-105.8 2-57.1 2 56.2 2 131.2 2 111.6 2 47.5 2 4.6 2-.7 2 11.7 2 18.1 2 13.2 2 5 2-.6 2-3 2-3.4 2-2.1 2 .2 2 2.5 2 3.6 2 3.3 2 2.1 2 1 2-.2 2-1.5 2-2.8 2-3.7 2-3.2 2-1 2 1.2 2 2.4 2 2.4 2 2.3 2 2.1 2 1.6 2 .9 2 .4 2 .1 2 0 2 0 2 0 2 0 2 0 2-.1 2-.2 2-.3 2-.7 2-1 2-1.2 2-1 2-.5 2 .2 2 .8 2 1.1 2 1.2 2 .8 2 .5 2 .2 2 0 2-.4 2-.7 2-1.4 2-2.1 2-2.5 2-2.3 2-1.3 2 .3 2 1.6 2 2.3 2 1.7 2-.1 2-2.6 2-3.6 1.5-1.6M871.8 343.5l2 0 2 0 2 0 2 0 2 0 2 0 2 0 2 0 2 0 2 0 2 0 2 0 2 0 2 0 2 0 2 0 2 0 2 0 2-.2 2-.6 2-.9 2-.9 2-.2 2 .7 2 1 2 .7 2 .3 2 .1 2 0 2 0 2-.1 2-.2 2-.6 2-1.2 2-1.8 2-2.2 2-1.5 2-.3 2 .8 2 1.1 2 .7 2 .7 2 .9 2 1.2 2 .8 2-.5 2-2.1 2-2.5 2-.5 2 2 2 2.8 2 1.7 2 .6 2 .2 2 0 2 0 2 0 2 0 2 0 2 0 2 0 2 0 2 0 2 0 2 0 2 0 2 0 2 0 2 0 2 0 2 0 2 0 2 0 2 0 2 0 2 0 2 0 2 0 2 0 2-.1 2-.3 2-.7 2-1.7 2-3.2 2-4.7 2-5.3 2-4.2 2-1.4 2 2.2 2 4.1 2 2.3 2-6.1 2-22 2-39.4 2-50 2-56.7 2-73.4 2-93.3 2-71.2 2 21.2 2 117.2 2 130.3 2 74.6 2 23.1 2 8 2 11.9 2 13.1 2 8.6 2 3.8 2 .5 2-.9 2 0 2 2.6 2 3.9 2 2.8 2 .8 2-.4 2-1.9 2-5.9 2-9 2-4.9 2 4.7 2 9.8 2 7.4 2 2.9 2 .5 2-.7 2-1.8 2-3.7 2-5.6 2-6.5 2-4.4 2 .8 2 5.8 2 7.1 2 5.2 2 2.7 2 1.1 2 .3 2 .1 2 0 2 0 2 0 2 0 2 0 2 0 2 0 2 0 2 0 2 0 2 0 2 0 2 0 2 0 2 0 2 0 2 0 2 0 2 0 2 0 2 0 2 0 2 0 2 0 2 0 2 0 2 0 1.5 0M871.8 341l2-2.2 2-1.6 2 .1 2 1.8 2 2.1 2 1.4 2 .7 2 .1 2-.1 2-.9 2-2.4 2-3.7 2-2.6 2 .4 2 1.7 2 .8 2-.4 2-.2 2 .8 2 1.6 2 1.8 2 1.4 2 .6 2-.5 2-1.8 2-2.7 2-2.6 2-1.4 2 .1 2 .4 2-.6 2-1.3 2-.6 2 1 2 2.7 2 3.1 2 2.4 2 .7 2-1.4 2-2.6 2-1.6 2 1.1 2 2.9 2 2.4 2 1.2 2 .3 2 .1 2 0 2 0 2 0 2 0 2 0 2 0 2 0 2 0 2 0 2 0 2 0 2 0 2 0 2 0 2 0 2 0 2 0 2 0 2 0 2 0 2-.1 2-.2 2-.9 2-2.1 2-3.5 2-3.8 2-1.9 2 1.3 2 3.5 2 3.5 2 1.6 2-.8 2-3.2 2-5.1 2-5.8 2-4.2 2-.8 2 2.4 2 3.3 2 1.8 2-.8 2-2.4 2-2.8 2-3.6 2-8.4 2-17.6 2-25.7 2-24.2 2-11.6 2-.7 2-14 2-53.6 2-75.8 2-32.5 2 48.4 2 89.3 2 67.9 2 30 2 12.4 2 11 2 10.3 2 6.4 2 3.6 2 2.9 2 2.6 2 2 2 1.2 2 .5 2 .2 2 0 2 0 2 0 2 0 2 0 2 0 2 0 2 0 2 0 2 0 2 0 2 0 2 0 2 0 2 0 2 0 2 0 2 0 2 0 2 0 2 0 2 0 2 0 2 0 2 0 2 0 2 0 2 0 2 0 2 0 2 0 2 0 2 0 2 0 2 0 2 0 2 0 2 0 2-.1 2-.3 2-.6 2-.8 2-.9 2-.3 2 .4 2 .9 2 .8 2 .6 2 .2 2 .1 2 0 1.5 0M871.8 347.8l2 0 2 0 2 0 2 0 2 0 2 0 2 0 2 0 2 0 2 0 2-.1 2-.3 2-.5 2-.6 2-.5 2-.1 2 .3 2 .6 2 .6 2 .3 2 .1 2-.3 2-1.2 2-2.7 2-4.6 2-4.6 2-1.9 2 2 2 4.4 2 4.1 2 2.6 2 1.3 2 .7 2 .2 2 .2 2 0 2 0 2 0 2 0 2 0 2 0 2 0 2 0 2 0 2 0 2-.1 2-.3 2-.7 2-1.5 2-2.7 2-3.9 2-4.4 2-3.7 2-1.8 2 .7 2 3 2 4.1 2 4 2 3.2 2 2.1 2 1.2 2 .5 2-.1 2-.9 2-1.7 2-2.2 2-1.3 2 .6 2 2 2 2.1 2 1.2 2 .5 2 .1 2-.2 2-.5 2-1.5 2-3.4 2-5.4 2-6.1 2-4 2 .3 2 4.6 2 6.1 2 5.1 2 3.1 2 1.3 2 .5 2 .1 2 0 2 0 2 0 2 0 2 0 2 0 2-.6 2-2.8 2-9 2-18.9 2-24.4 2-15.2 2 0 2-10.8 2-62.6 2-103.6 2-53.9 2 57.6 2 108.6 2 71.5 2 22.5 2 6.6 2 10.4 2 12 2 7.8 2 2.6 2-.4 2-1.3 2-.5 2 .7 2 1.4 2 1.3 2 .7 2 .3 2 0 2 0 2 0 2 0 2 0 2 0 2 0 2 0 2 0 2 0 2 0 2 0 2 0 2 0 2 0 2 0 2 0 2-.4 2-1.5 2-3 2-2.5 2 .8 2 3.1 2 2.4 2 .9 2 .2 2-.1 2-.3 2-.7 2-1 2-.8 2-.1 2 .8 2 1 2 .7 2 .2 2-.2 2-.4 2-.6 2-.7 2-.5 2-.3 2 .1 2 .5 2 .7 1.5.5M871.8 347.8l2 0 2 0 2 0 2 0 2 0 2 0 2 0 2-.2 2-.4 2-.7 2-.7 2-.4 2 .3 2 .6 2 .7 2 .5 2 .2 2 .1 2 0 2 0 2 0 2 0 2 0 2 0 2 0 2 0 2 0 2 0 2 0 2 0 2 0 2 0 2 0 2 0 2 0 2 0 2 0 2-.2 2-.5 2-1.3 2-2.5 2-3.7 2-4 2-2.8 2-.4 2 2.2 2 3.6 2 3.4 2 .9 2-3.3 2-5.6 2-2 2 4.6 2 6.4 2 3.6 2 .6 2-1.1 2-2.2 2-2.4 2-1.3 2 .6 2 2.1 2 2.4 2 1.6 2 .6 2-1 2-2.9 2-4.1 2-2.3 2 .8 2 2.1 2 2 2 1.8 2 1.8 2 1.3 2 .6 2 .2 2-.4 2-1 2-1.5 2-2 2-1.9 2-1.1 2 .3 2 1.3 2 2 2 1.9 2 1.4 2 .5 2-1 2-5.8 2-16.2 2-28.5 2-29.5 2-14.5 2-3.5 2-13.9 2-24 2-4.4 2 28.1 2 32.2 2 2.4 2-29.2 2-31.5 2-.5 2 35.7 2 46.2 2 31.7 2 13.7 2 4.6 2 2.2 2 1.9 2 1.8 2 1.3 2 .9 2 .4 2 .2 2-.1 2-.8 2-2 2-3.8 2-4.4 2-2.2 2 1.4 2 3.2 2 .4 2-3.7 2-2.8 2 3.3 2 6.2 2 3.8 2 1 2-.5 2-1.3 2-2.3 2-3.1 2-3 2-2 2 0 2 1.8 2 2.8 2 2.4 2 1.4 2 .6 2 .6 2 .8 2 1 2 .7 2 .5 2 .2 2 0 2 0 2 0 2 0 2 0 2 0 2 0 2 0 2 0 2 0 2 0 2 0 2 0 2 0 2 0 2 0 2 0 1.5 0M871.8 347.8l2 0 2 0 2 0 2 0 2 0 2 0 2-.3 2-.7 2-1.6 2-2.4 2-2.3 2-1 2 .9 2 2.1 2 2.3 2 1.7 2 .9 2 .3 2 .1 2 0 2 0 2 0 2 0 2 0 2 0 2 0 2 0 2 0 2 0 2 0 2 0 2 0 2 0 2 0 2-.4 2-1.5 2-3.7 2-5.6 2-4.2 2 .5 2 5 2 5.3 2 3.1 2 1.2 2 .3 2 0 2 0 2 0 2 0 2 0 2 0 2-.1 2-.8 2-2.5 2-5.8 2-8.7 2-7.5 2-.7 2 6.5 2 9 2 6.4 2 3 2 1 2 .2 2 0 2 0 2 0 2 0 2 0 2 0 2 0 2 0 2 0 2-.2 2-.7 2-1.5 2-2.8 2-3.6 2-3 2-.7 2 2 2 3.6 2 3.3 2 2.1 2 1 2 .2 2-1 2-4.9 2-15.2 2-30.6 2-37.9 2-26.3 2-13.6 2-27.7 2-48.3 2-25.1 2 37.8 2 78 2 66.8 2 34.1 2 11.3 2 2.5 2 .4 2 0 2 0 2 0 2-.1 2-.7 2-2.1 2-4.2 2-5.9 2-4.4 2 .2 2 4.6 2 5.7 2 4.1 2 1.9 2 .5 2-.4 2-1.2 2-1.8 2-2.3 2-1.6 2-.3 2 1.2 2 1.7 2 1.2 2 .8 2 1.1 2 .9 2 .3 2-.6 2-1.5 2-2.2 2-2.7 2-2.5 2-1.6 2-.1 2 1.1 2 1.2 2 .4 2-1 2-2 2-2 2-.7 2 1.2 2 2.9 2 3.6 2 3.1 2 2.2 2 1.2 2 .5 2 .2 2 .1 2 0 2 0 2-.1 2-.2 2-.4 2-.8 2-1.2 2-1.1 2-.5 2 .3 2 .9 2 1.2 2 .9 1.5.5M871.8 339.4l2 0 2 .9 2 .1 2-2.3 2-3.5 2-.4 2 3.7 2 3.9 2 1 2-2.3 2-3.7 2-3 2-.7 2 1.8 2 3.5 2 4 2 2.9 2 1.6 2 .7 2 .2 2 0 2 0 2 0 2 0 2 0 2 0 2 0 2 0 2 0 2 0 2 0 2 0 2 0 2 0 2-.2 2-.7 2-1.5 2-3.1 2-5 2-6.1 2-5.6 2-2.8 2 .9 2 3.6 2 3.8 2 2.1 2 .6 2 .8 2 2.2 2 3.5 2 3.3 2 2.4 2 1.2 2 .4 2 .2 2 0 2 0 2 0 2 0 2 0 2 0 2 0 2 0 2 0 2 0 2 0 2 0 2 0 2 0 2 0 2 0 2 0 2 0 2-.1 2-.1 2-.3 2-.2 2-.1 2 .1 2 .3 2 .2 2 .1 2 .1 2-.2 2-.4 2-.7 2-.8 2-.6 2-.2 2-.2 2-.5 2-1.9 2-7 2-19.9 2-41.9 2-63.1 2-62.4 2-29.8 2 10.7 2 22.6 2 7.1 2 4.4 2 31.9 2 57.5 2 52.5 2 29.3 2 10.6 2 2.6 2 .4 2 0 2 0 2 0 2 0 2 0 2 0 2 0 2 0 2 0 2 0 2 0 2 0 2 0 2 0 2 0 2 0 2 0 2-.1 2-.1 2-.2 2 0 2 0 2 .1 2 .1 2 .1 2 .1 2 0 2 0 2 0 2 0 2 0 2 0 2 0 2 0 2 0 2 0 2 0 2 0 2 0 2 0 2 0 2 0 2 0 2 0 2-.1 2-.4 2-1.2 2-2.4 2-3 2-1.9 2 .8 2 2.7 2 2.8 2 1.8 2 .7 2 .2 2 0 2 0 1.5 0M871.8 337.9l2 .3 2 2.6 2 3 2 1.9 2 .6 2 .2 2 .2 2 .4 2 .3 2 .3 2 .1 2 0 2 0 2-.2 2-.4 2-.7 2-1.4 2-1.9 2-2.3 2-2 2-1.1 2 .3 2 1.5 2 2.2 2 2.2 2 1.7 2 1.1 2 .5 2 0 2-.3 2-.7 2-.8 2-.8 2-.4 2 .1 2 .6 2 .8 2 .6 2 .1 2-.6 2-.8 2 0 2 1 2 1 2 .6 2 .1 2 0 2 0 2-.1 2-.2 2-.4 2-.8 2-1.1 2-1.2 2-1 2-.3 2 .5 2 1 2 1.1 2 .6 2 0 2-1 2-1.6 2-1.6 2 0 2 1.7 2 2 2 1.4 2 .7 2 .2 2 .1 2 0 2 0 2 0 2 0 2 0 2 0 2 0 2 0 2 0 2 0 2 0 2 0 2 0 2 0 2-.1 2-.2 2-.8 2-2.2 2-6.1 2-16.7 2-38.1 2-61 2-56.9 2-11 2 40 2 43.7 2 0 2-39 2-27.6 2 22.3 2 56.8 2 50.3 2 25.4 2 7.9 2 1.4 2-.1 2-.5 2-.5 2 0 2 1.2 2 2 2 2.2 2 1.6 2 .7 2 .1 2 0 2 .5 2 1 2 1.1 2 1.1 2 .7 2 .5 2 .2 2 .1 2 0 2 0 2 0 2 0 2 0 2 0 2 0 2 0 2 0 2 0 2 0 2 0 2 0 2 0 2 0 2-.1 2-.3 2-.8 2-1.2 2-1.7 2-1.4 2-.5 2 .8 2 1.5 2 1.6 2 1.1 2 .7 2 .2 2 .1 2 0 2 0 2 0 2 0 2 0 2 0 2 0 2 0 2 0 2-.2 2-.3 2-.4 2-.4 1.5-.1M871.8 347.8l2 0 2 0 2 0 2 0 2 0 2 0 2 0 2 0 2 0 2 0 2-.1 2-.6 2-1.3 2-1.7 2-1 2 .2 2 .4 2-1 2-1.5 2 .4 2 2.1 2 1.7 2 .6 2-.3 2-.9 2-1.8 2-1.9 2-.6 2 1 2 1.6 2 1.4 2 .9 2 .1 2-1.1 2-2.6 2-3.5 2-3.3 2-1.5 2 1 2 3.1 2 3.6 2 2.8 2 .7 2-1.9 2-2.8 2-.4 2 2.7 2 3.2 2 1.7 2 .5 2 .1 2 0 2 0 2 0 2 0 2 0 2 0 2 0 2 0 2-.1 2-.3 2-1 2-2.1 2-4 2-5.4 2-5.4 2-3.2 2 .8 2 4.2 2 5.6 2 4.8 2 2.8 2 1.2 2 .1 2-.1 2 .2 2 .3 2 .4 2 0 2-.7 2-1.6 2-2.5 2-3 2-2.3 2-.7 2 1.1 2 1.9 2-.3 2-7.4 2-20.3 2-34.7 2-39.9 2-25.5 2 2.1 2 19.5 2 5.1 2-31.9 2-47.3 2-10.4 2 47.6 2 70.2 2 51 2 22.4 2 5.8 2 .5 2 .4 2 1 2 .8 2 .3 2 0 2 0 2 0 2 0 2 0 2 0 2 0 2 0 2 0 2 0 2 0 2 0 2 0 2 0 2 0 2 0 2 0 2 0 2-.2 2-.5 2-1.2 2-1.6 2-.9 2 .5 2 1.4 2 1.4 2 .8 2 .3 2 0 2 0 2 0 2 0 2 0 2 0 2 0 2-.4 2-.9 2-2.1 2-2.7 2-1.7 2 .6 2 2.4 2 2.5 2 1.6 2 .5 2 .2 2 0 2 0 2 0 2 0 2 0 2 0 2 0 2 0 2 0 2 0 2 0 2 0 1.5 0M871.8 345.6l2 0 2 .3 2 .4 2 .4 2 .1 2-.7 2-1.4 2-1.7 2-.9 2 .5 2 1.2 2 .9 2-.1 2-.8 2-.6 2 0 2 .7 2 1.2 2 1.1 2 .8 2 .5 2 .2 2 .1 2 0 2 0 2 0 2 0 2 0 2 0 2 0 2 0 2 0 2-.2 2-.8 2-1.7 2-2.6 2-2.1 2-.2 2 1.9 2 2.7 2 1.8 2 .9 2 .3 2 0 2 0 2-.1 2-.2 2-.1 2 0 2 .1 2 .2 2 .1 2 0 2 0 2 0 2 0 2 0 2 0 2 0 2 0 2 0 2 0 2 0 2 0 2 0 2-.1 2-.4 2-.9 2-1.5 2-1.5 2-.8 2 .4 2 1.3 2 1.6 2 1.1 2 .6 2 .2 2 0 2 0 2 0 2 0 2 0 2-.4 2-1.1 2-3.1 2-5.9 2-8.7 2-9.9 2-9.3 2-8.4 2-8.1 2-8.3 2-10.1 2-15.3 2-21.6 2-22.8 2-13.8 2 2.8 2 20.1 2 30.8 2 31.9 2 26 2 17.2 2 9.4 2 4.2 2 1.3 2 .3 2 .1 2 .4 2 .5 2 .4 2 .1 2-.3 2-.4 2-.1 2 .2 2 .5 2 .6 2 .5 2 .2 2 .1 2 0 2 0 2 0 2 0 2 0 2 0 2 0 2 0 2 0 2-.2 2-.6 2-1 2-1.2 2-.4 2 .6 2 1.2 2 1 2 .4 2 .2 2 0 2 0 2 0 2 0 2 0 2 0 2 0 2 0 2 0 2-.1 2 0 2-.1 2-.1 2 0 2 0 2 .1 2-.1 2-.2 2-.4 2-.3 2 0 2 .1 2-.3 2-1 2-1.1 2-.6 2 .4 1.5.8M871.8 345.1l2 .7 2 .7 2 .1 2-.8 2-1.8 2-2.7 2-3.1 2-2.8 2-1.5 2 .4 2 2.1 2 3 2 3.1 2 2.3 2 1.3 2 .5 2-.2 2-.6 2-.6 2-.5 2-.1 2 .4 2 .6 2 .7 2 .2 2-.6 2-1.2 2-.9 2 .2 2 1.3 2 1.3 2 .4 2-.4 2-1 2-1.6 2-1.9 2-2.4 2-3.8 2-5.4 2-5.3 2-3 2-1.5 2-2.2 2-2.3 2 .3 2 4.6 2 7.3 2 7.2 2 5.4 2 3.4 2 1.9 2 .9 2 .4 2 .2 2 0 2 0 2 0 2 0 2 0 2 0 2 0 2 0 2 0 2 0 2 0 2 0 2 0 2 0 2 0 2-.1 2-.5 2-1.2 2-2.6 2-4.7 2-6.4 2-6.6 2-4.2 2 .1 2 4.5 2 6.6 2 6.4 2 4.5 2 2.5 2 1 2-.1 2-2 2-7.3 2-18.5 2-30.5 2-28.4 2-5.5 2 19.8 2 23.8 2 7.6 2-10.9 2-20 2-20.6 2-18 2-13.4 2-3 2 12.4 2 26.1 2 30.7 2 26.3 2 17.2 2 8.9 2 3.3 2 .3 2-1.3 2-1.5 2-.9 2 .3 2 1.4 2 1.7 2 1.4 2 .9 2 .4 2 .1 2-.1 2-.3 2-.9 2-1.6 2-2.1 2-1.5 2 .3 2 1.7 2 2.1 2 1.4 2 .7 2 .3 2 0 2 0 2 0 2 0 2 0 2 0 2 0 2 0 2 0 2 0 2 0 2 0 2 0 2 0 2 0 2 0 2 0 2 0 2 0 2 0 2-.3 2-.9 2-2.3 2-3.4 2-2.6 2 .4 2 2.9 2 3.3 2 2 2 .7 2 .2 2 0 2 0 2 0 2 0 2 0 2 0 1.5 0M871.8 327.8l2-12.4 2-12.3 2-8.2 2-1.7 2 4.4 2 7 2 4.5 2 2.1 2 6.5 2 9.9 2 5.3 2-.5 2-.8 2 2.3 2 4.4 2 3.8 2 2.1 2 .5 2-.4 2-1 2-1.1 2-1.1 2-.6 2-.5 2-.6 2-.1 2 1.4 2 2.4 2 1.7 2 .7 2 .1 2 .1 2 0 2 0 2 0 2 0 2-.1 2 0 2-.3 2-.5 2-1 2-1.5 2-1.6 2-1.3 2-.3 2 .8 2 1.5 2 1.6 2 1.2 2 .4 2-.4 2-1.2 2-1.8 2-1.9 2-1.3 2-.8 2 0 2 1.8 2 2.9 2 2.4 2 1 2 .3 2 .1 2 0 2 0 2 0 2 0 2 0 2 0 2 0 2 0 2 0 2 0 2 0 2 0 2 0 2 0 2 0 2 0 2 0 2 0 2 0 2 0 2 0 2 0 2 0 2 0 2 0 2 0 2 0 2 0 2 0 2 0 2-.1 2-.3 2-1.5 2-3.7 2-4.7 2-1.2 2 3.5 2 3.3 2-1.7 2-6.9 2-6.3 2 1.2 2 7.2 2 6.3 2 2.1 2-1.1 2-3.2 2-5.3 2-7.4 2-7 2-2.7 2 4 2 8.3 2 8.3 2 5.3 2 2.4 2 .9 2 .2 2 .1 2 0 2 0 2 0 2 0 2 0 2 0 2 0 2 0 2 0 2 0 2 0 2 0 2 0 2 0 2 0 2 0 2 0 2 0 2 0 2 0 2 0 2-.1 2-.1 2-.4 2-1 2-2.1 2-3 2-2.9 2-1.3 2 1.2 2 2.8 2 2.7 2 .9 2-1.6 2-4.1 2-5.1 2-4.1 2-1.4 2 1.5 2 3.7 2 4.6 2 4.1 2 2.9 2 1.7 2 .7 1.5.2M871.8 346.8l2-.6 2-.4 2-.1 2 .3 2 .6 2 .5 2 .2 2-.3 2-1.5 2-3.3 2-5.2 2-6.1 2-5.1 2-4.5 2-9.4 2-18.6 2-19.5 2-7.3 2 7.6 2 18.2 2 22 2 17.8 2 10.1 2 4 2 1 2-.3 2-.7 2-.8 2-.5 2 .1 2 .3 2-.1 2-1.9 2-3.9 2-5.2 2-4 2-1 2 2.4 2 4.2 2 3.8 2 2 2 .3 2 0 2 .9 2 1.6 2 1.5 2 1.1 2 .6 2 .2 2 0 2 0 2 0 2 0 2 0 2 0 2 0 2 0 2 0 2 0 2 0 2 0 2 0 2 0 2-.3 2-1.1 2-2.2 2-2.5 2-.7 2 1.8 2 2.6 2 1.7 2 .6 2 .1 2 0 2 0 2 0 2 0 2-.1 2-.4 2-1 2-2 2-3 2-2.9 2-1.3 2 1 2 2.8 2 3 2 2.2 2 1.1 2 .5 2 .1 2 0 2-.3 2-.8 2-2.4 2-5.1 2-8.6 2-11.1 2-10.4 2-5.7 2 2 2 9.7 2 12.8 2 10.6 2 5.7 2 1.3 2-2.2 2-5.3 2-6 2-2.4 2 3.2 2 6.2 2 5.1 2 2.6 2 .9 2 .2 2 0 2 0 2 0 2-.2 2-.3 2-.7 2-.9 2-1 2-.7 2-.1 2 .4 2 .4 2-.5 2-2.5 2-4.4 2-4.7 2-2.3 2 1.2 2 3.8 2 4.3 2 3.6 2 2.3 2 1.3 2 .7 2 .2 2 .1 2 0 2 0 2 0 2 0 2 0 2 0 2 0 2 0 2 0 2 0 2 0 2 0 2 0 2 0 2 0 2 0 2 0 2 0 2 0 2 0 2 0 2 0 2 0 2 0 2 0 1.5 0M871.8 347.8l2 0 2 0 2 0 2 0 2 0 2 0 2 0 2 0 2 0 2-.1 2-.5 2-1 2-1.6 2-1.8 2-2 2-2.6 2-3.9 2-4.4 2-3.3 2-2.6 2-6.2 2-13.8 2-17.6 2-10.7 2 .1 2 3.1 2-.2 2 2.2 2 11.2 2 16.1 2 12.1 2 6.1 2 3.9 2 4.7 2 5.1 2 4 2 2.3 2 1 2 .3 2 .1 2 0 2 0 2 0 2 0 2 0 2 0 2 0 2 0 2 0 2 0 2 0 2-.4 2-1.5 2-3.7 2-5.5 2-3.2 2 2.2 2 5.3 2 4.3 2 1.9 2 .5 2 .1 2 0 2 0 2 0 2 0 2 0 2 0 2 0 2-.2 2-.7 2-1.3 2-1.2 2 .1 2 1.2 2 1.3 2 .6 2-.1 2-1 2-2.2 2-2.4 2-.5 2 1.5 2 .8 2-2.1 2-5.7 2-8.9 2-10.4 2-8.9 2-4.1 2 2.4 2 8 2 10.3 2 9.6 2 6.8 2 4 2 2 2 .8 2 .2 2 .1 2 0 2 0 2 0 2-.1 2-.3 2-.7 2-1.6 2-2.8 2-3.9 2-4.5 2-3.7 2-1.6 2 .9 2 2.9 2 3.2 2 2.1 2 .6 2-.5 2-.4 2 .4 2 1.5 2 2.2 2 2.3 2 1.8 2 1.1 2 .7 2 .3 2 .1 2 0 2 0 2 0 2 0 2 0 2 0 2-.1 2-.4 2-.6 2-1.1 2-1.3 2-1.4 2-.8 2 0 2 .8 2 1.1 2 .6 2-.8 2-2.6 2-4 2-4 2-1.9 2 1.1 2 3.7 2 4.5 2 3.6 2 2.1 2 1 2 .4 2 .1 2 0 2 0 2 0 2 0 2 0 2 0 2-.2 2-.6 2-1.8 1.5-2.1M871.8 335.4l2 .9 2 3.1 2 3.3 2 2.3 2 1.5 2 .8 2 .4 2 .1 2 0 2 0 2 0 2-.1 2-.3 2-.8 2-1.4 2-1.6 2-.9 2 .4 2 1.3 2 .7 2-1.2 2-3.5 2-4.7 2-4.7 2-5.3 2-7.1 2-8.5 2-10.5 2-14.3 2-15 2-7.1 2 3.6 2 7.4 2 8.1 2 12.3 2 17.4 2 17 2 11.2 2 5.3 2 1.8 2 .4 2 0 2-.3 2-.6 2-.9 2-.8 2-.4 2 0 2-.5 2-1.8 2-2.9 2-3.5 2-2.3 2 0 2 2.3 2 2.1 2-.2 2-1.5 2 .5 2 3.2 2 4 2 2.5 2 .9 2 .3 2 0 2 0 2 0 2 0 2 0 2 0 2 0 2 0 2 0 2 0 2 0 2 0 2 0 2 0 2 0 2 0 2 0 2 0 2 0 2 0 2 0 2 0 2 0 2 0 2 0 2 0 2 0 2 0 2-.5 2-1.8 2-3.5 2-3 2 .6 2 3.4 2 2.5 2 .1 2-1.8 2-3 2-3.6 2-3.2 2-1.7 2 .6 2 2.6 2 3.6 2 3.4 2 2.5 2 1.6 2 .8 2 .3 2 .1 2 0 2 0 2 0 2 0 2 0 2-.1 2-.1 2-.2 2-.3 2-.2 2-.2 2 .1 2 .2 2 .2 2 .3 2 .1 2-.1 2-.3 2-.6 2-.6 2-.2 2 .3 2 .7 2 .6 2 .3 2 .1 2 0 2 0 2 0 2 0 2 0 2 0 2 0 2 0 2 0 2 0 2 0 2 0 2 0 2 0 2 0 2 0 2 0 2 0 2 0 2 0 2 0 2 0 2 0 2 0 2 0 2 0 2 0 1.5 0M871.8 347.8l2 0 2 0 2 0 2 0 2 0 2 0 2 0 2 0 2 0 2 0 2 0 2 0 2 0 2 0 2 0 2 0 2 0 2 0 2 0 2-.1 2-.2 2-.5 2-.5 2-.4 2-.3 2 .2 2 .5 2 .5 2 .4 2 .3 2 .1 2 0 2 0 2-.2 2-.6 2-1.9 2-4.1 2-7.1 2-9.3 2-9.4 2-9.6 2-13 2-20.1 2-23.5 2-15 2 3.7 2 20.1 2 24.3 2 18.6 2 12 2 9.3 2 8.8 2 6.8 2 2.9 2-1.4 2-2.5 2 .4 2 3.6 2 4 2 2.3 2 .7 2 .2 2 0 2 0 2-.1 2-.5 2-1.2 2-1.2 2-.7 2-1.2 2-4.2 2-5.9 2-2.1 2 4.1 2 6.4 2 4.3 2 1.8 2 .4 2 .1 2 0 2 0 2 0 2 0 2 0 2 0 2 0 2 0 2 0 2 0 2 0 2 0 2 0 2-.2 2-.6 2-1.3 2-2.3 2-3.2 2-3.6 2-3.1 2-1.8 2 .3 2 2 2 2.4 2 1.6 2 1.6 2 2.1 2 2.5 2 2 2 1 2 .5 2 .1 2 0 2 0 2 0 2 0 2 0 2 0 2-.1 2-.4 2-.9 2-1.2 2-1.1 2-.3 2 .6 2 .3 2-.8 2-2.7 2-4.2 2-4.8 2-4 2-2.1 2 .4 2 2.9 2 4.9 2 5.3 2 4.3 2 2.4 2 1.1 2 .3 2 .1 2 0 2 0 2 0 2 0 2 0 2 0 2 0 2 0 2 0 2 0 2 0 2 0 2 0 2-.1 2-.3 2-.4 2-.5 2-.4 2-.3 2 .2 2 .4 2 .5 2 .3 2-.1 2-.8 2-1.8 2-2.2 1.5-1.2M871.8 346.9l2-.7 2-1 2-1.1 2-1 2-.8 2-.2 2 .6 2 1.4 2 1.5 2 1.2 2 .6 2 .3 2 .1 2 0 2 0 2 0 2 0 2 0 2-.1 2-.4 2-1.3 2-2.3 2-2.2 2 0 2 2.1 2 2.4 2 1.3 2 .4 2 .1 2 0 2 0 2 0 2 0 2 0 2 0 2 0 2 0 2 0 2 0 2 0 2 0 2 0 2 0 2 0 2-.2 2-1 2-4.3 2-12 2-22.9 2-28.7 2-22.2 2-10.5 2-7.8 2-11.4 2-6.9 2 6.8 2 17.4 2 20.1 2 20 2 20.1 2 18.1 2 13.1 2 7.5 2 3.3 2 1.1 2 .3 2 0 2-.3 2-1 2-2.2 2-2.5 2-1.1 2 .1 2 .2 2-.2 2-1.3 2-2.4 2-2.6 2-1.5 2 .5 2 2.5 2 3.6 2 3.4 2 2.4 2 1.5 2 .6 2 .3 2 .1 2 0 2-.1 2-.4 2-.9 2-1.6 2-1.9 2-1.3 2 .1 2 1.5 2 1.9 2 1.5 2 .8 2 .3 2 .1 2-.1 2-.5 2-1.7 2-2.9 2-2 2 1.1 2 2.8 2 1.9 2 .2 2-.7 2-1.1 2-1.1 2-.5 2 .2 2 .8 2 1.2 2 1 2 .7 2 .4 2 .2 2 .1 2 0 2 0 2 0 2 0 2 0 2 0 2 0 2 0 2 0 2 0 2 0 2 0 2 0 2 0 2 0 2 0 2 0 2 0 2-.1 2-.4 2-1.3 2-3.2 2-4.6 2-3.4 2 .6 2 4.1 2 4.4 2 2.3 2 .1 2-1.4 2-1.4 2 .3 2 1.7 2 1.5 2 .6 2 .2 2 0 2 0 2 0 2 0 2-.1 2-.2 2-.4 2-.5 1.5-.4M871.8 347.8l2 0 2 0 2 0 2 0 2 0 2 0 2 0 2 0 2 0 2-.2 2-.5 2-.7 2-1 2-1.1 2-.9 2-1.1 2-1.2 2-.9 2 .1 2 1.4 2 2 2 1.9 2 1.2 2 .6 2 0 2-.9 2-2.2 2-3 2-1.9 2 .6 2 2.8 2 2.7 2 1.6 2 .6 2 .1 2 0 2 0 2 0 2 0 2 0 2-.3 2-1.1 2-2.9 2-5.9 2-9.1 2-9.7 2-6.2 2-1.4 2-2.5 2-13.1 2-24.9 2-22.7 2-5.8 2 5.7 2-.4 2-7.8 2 2 2 22 2 32.7 2 27.5 2 15.5 2 6.2 2 1.8 2 .4 2 0 2 0 2 0 2 0 2 0 2 0 2-.2 2-1.1 2-3.7 2-7.8 2-9.5 2-4.8 2 2.9 2 7.8 2 7.6 2 4.6 2-.1 2-6.5 2-11.3 2-7.2 2 3.9 2 10.5 2 8.6 2 4.3 2 1.6 2 .4 2 0 2 0 2 0 2 0 2 0 2 0 2 0 2-.4 2-1.7 2-4.3 2-7 2-6.3 2-3.1 2-.9 2 1.1 2 4.1 2 5.3 2 4.2 2 3 2 2.3 2 1.6 2 1.1 2 .6 2 .3 2 .1 2 0 2 0 2 0 2 0 2 0 2 0 2 0 2 0 2 0 2 0 2 0 2 0 2 0 2 0 2 0 2 0 2 0 2 0 2 0 2 0 2 0 2 0 2 0 2 0 2 0 2 0 2 0 2 0 2 0 2 0 2 0 2-.2 2-.9 2-2.2 2-3.8 2-3.8 2-.9 2 2.7 2 4.2 2 3 2 1.4 2 .4 2 .1 2-.1 2-.3 2-.8 2-1.3 2-1.3 2-.5 2 .8 2 1.5 2 1.2 1.5.5M871.8 347.8l2 0 2 0 2 0 2 0 2 0 2-.1 2-.3 2-.6 2-1.1 2-1.5 2-1.5 2-.9 2 .2 2 1 2 1.3 2 1 2 0 2-1.1 2-1.5 2-1.2 2 .1 2 1.3 2 1.8 2 1.5 2 1 2 .4 2 .2 2 0 2 0 2 0 2 0 2 0 2 0 2 0 2 0 2 0 2 0 2 0 2 0 2-.2 2-.8 2-1.9 2-2.7 2-1.8 2 .6 2 2.5 2 2.5 2 1.3 2 .4 2-.1 2-.9 2-2.4 2-3.9 2-2.7 2 .8 2 3.2 2 1.9 2-1.3 2-4.8 2-7.8 2-9.2 2-9.2 2-9.9 2-12 2-12.5 2-6.6 2 4.4 2 13.5 2 15.8 2 12.7 2 9.5 2 7.7 2 6.1 2 4.2 2 2.3 2 .9 2 .3 2 .1 2 0 2-.5 2-2.2 2-5.3 2-6.9 2-2.5 2 4.6 2 6.9 2 4.2 2 1.3 2-.1 2-.8 2-1.7 2-2.6 2-3 2-2.1 2-.2 2 1.8 2 3 2 2.7 2 1.9 2 1 2 .4 2 .1 2 0 2-.1 2-.1 2-.4 2-.6 2-.5 2-.4 2-.1 2-.4 2-1.4 2-3.6 2-6.6 2-8.9 2-8.6 2-4.4 2 2.3 2 8.4 2 10.3 2 8.2 2 4.5 2 1.8 2 .5 2 .1 2 0 2 0 2 0 2 0 2 0 2 0 2 0 2 0 2 0 2 0 2 0 2 0 2 0 2 0 2 0 2 0 2 0 2 0 2-.2 2-.5 2-1.3 2-2.1 2-2.2 2-.8 2 1.2 2 2.2 2 1.9 2 .9 2-.2 2-.6 2-.4 2 .4 2 .8 2 .6 2 .3 2 0 2 0 2 0 2 0 2 0 2 0 2 0 1.5 0M871.8 344.4l2-3.6 2-3.3 2-1.1 2 .5 2-1 2-3.9 2-4.2 2-.2 2 4.7 2 6.6 2 5.1 2 2.6 2 .8 2-.2 2-.8 2-1.2 2-1.4 2-1.1 2-.2 2 .9 2 1.4 2 1.3 2 .9 2 .5 2 .3 2 0 2 0 2 0 2 0 2 0 2-.3 2-.6 2-1.2 2-1.6 2-1.1 2 0 2 1.2 2 1.6 2 1.2 2 .6 2 .2 2-.1 2-.5 2-1.7 2-2.8 2-1.5 2 1.5 2 2.8 2 1.7 2 .5 2 .1 2 0 2 0 2 0 2 0 2 0 2 0 2 0 2 0 2 0 2 0 2-.1 2-.3 2-1.1 2-2.9 2-5.6 2-8.9 2-11.9 2-15.9 2-22.7 2-29.8 2-28.6 2-13.2 2 9.2 2 24.3 2 26 2 21.2 2 17.6 2 15.7 2 12.6 2 8.1 2 4.1 2 1.6 2 .5 2 .1 2 0 2 0 2 0 2 0 2 0 2-.2 2-1.5 2-5.8 2-12.7 2-14.3 2-2.9 2 11.7 2 14.5 2 8.1 2 2.6 2 .4 2-.2 2-.6 2-1.2 2-2.3 2-3.3 2-4.1 2-3.7 2-2.1 2 .4 2 2.6 2 3.9 2 3.9 2 3.1 2 2 2 1 2 .5 2 .2 2 0 2 0 2 0 2 0 2 0 2 0 2 0 2 0 2 0 2 0 2 0 2 0 2 0 2-.2 2-.4 2-.9 2-2 2-3.3 2-4.1 2-3.7 2-2 2 .3 2 2.3 2 3.3 2 3.5 2 2.9 2 2 2 1.3 2 .6 2 .3 2 .1 2 0 2 0 2 0 2-.1 2-.4 2-1.1 2-1.5 2-.9 2 .7 2 1.5 2 1.1 2 .6 2 .1 2 0 2 0 2 0 2-.2 2-.3 1.5-.3M871.8 347.8l2 0 2 0 2 0 2 0 2 0 2 0 2 0 2 0 2-.3 2-1.3 2-3.4 2-4.1 2-.9 2 3.3 2 3.5 2 .9 2-1.1 2-2 2-2.1 2-1.4 2-.2 2 .8 2 .6 2-.4 2-1.7 2-1.6 2 .2 2 2.6 2 3.4 2 2.3 2 .6 2-.9 2-1.3 2-.8 2 .3 2 1.2 2 1.5 2 1.2 2 .7 2 .3 2 .1 2 0 2 0 2 0 2 0 2 0 2 0 2 0 2 0 2 0 2 0 2-.1 2-.2 2-.5 2-.9 2-1.5 2-1.8 2-1.7 2-1.1 2 .1 2 1.1 2 1.7 2 1.8 2 1.4 2 .9 2 .2 2-.9 2-3.6 2-6.9 2-6.7 2-1.7 2 2.6 2 0 2-6.3 2-11.5 2-15.8 2-21.8 2-26.2 2-21.3 2-6.2 2 7.6 2 13 2 16.1 2 21.8 2 25.4 2 20.9 2 11.5 2 3.6 2 .4 2 .8 2 1.8 2 2 2 1.3 2 .5 2 .2 2-.2 2-.3 2-.7 2-1 2-.8 2-.3 2 .5 2 1 2 .9 2 .6 2 .2 2 .1 2 0 2 0 2 0 2 0 2 0 2 0 2 0 2 0 2 0 2 0 2-.1 2-.4 2-1.1 2-1.8 2-1.8 2-.2 2 1.4 2 2 2 1.3 2 .4 2-.2 2-1 2-1.7 2-2.5 2-2.8 2-3.4 2-5 2-4.8 2 .6 2 7.1 2 7.9 2 4.4 2 1.4 2 .3 2 0 2 0 2 0 2 0 2 0 2-.3 2-.8 2-1.9 2-2.8 2-2.7 2-.7 2 1.8 2 3 2 2.4 2 1.4 2 .5 2 .1 2 0 2 0 2 0 2 0 2 0 2 0 2 0 2 0 2 0 1.5 0M871.8 347.8l2 0 2-.1 2-.3 2-.5 2-1 2-1.5 2-1.7 2-1.6 2-.9 2-.1 2 .9 2 1.5 2 1.7 2 1.5 2 1 2 .6 2 .3 2 .2 2 0 2 0 2 0 2 0 2 0 2 0 2 0 2 0 2 0 2 0 2 0 2-.1 2-.3 2-.7 2-1.2 2-1.9 2-2.1 2-1.9 2-.7 2 .7 2 1.9 2 2.2 2 1.8 2 1.3 2 .6 2 .3 2 .1 2 0 2 0 2 0 2 0 2 0 2 0 2 0 2 0 2 0 2 0 2-.2 2-1.2 2-3 2-4.6 2-2.5 2 2.1 2 3.8 2 1.5 2-1.5 2-3.3 2-3.6 2-2.7 2-1.4 2 .1 2 .9 2-.5 2-3.4 2-4.6 2-.9 2 5.2 2 8 2 6.5 2 3.3 2 1.3 2 .5 2 .2 2 0 2-.2 2-.9 2-3.2 2-8 2-14.5 2-17.5 2-11.3 2 2.6 2 14.2 2 16.9 2 12.2 2 6.3 2 2.5 2 .7 2 .2 2 0 2 0 2-.1 2-.7 2-1.9 2-4.9 2-9 2-12.4 2-12.5 2-10 2-10.8 2-18.5 2-24.6 2-16.6 2 3.3 2 16 2 10 2-2.5 2-1.6 2 13.9 2 27.3 2 27.1 2 17.4 2 7.9 2 2.5 2 .6 2 .1 2 0 2 0 2 0 2 0 2 0 2 0 2 0 2 0 2 0 2-.2 2-1.2 2-2.9 2-3.5 2-.7 2 3 2 3.2 2 1.1 2-.5 2-1.1 2-1 2-.4 2 .4 2 1.1 2 1.1 2 .8 2 .5 2 0 2-.2 2-.5 2-1 2-1.3 2-1.4 2-1 2-.4 2 .5 2 1.2 2 1.4 2 1.2 2 .9 2 .5 2 .3 2 .1 2 0 1.5 0M871.8 347.8l2 0 2 0 2 0 2 0 2 0 2 0 2 0 2 0 2 0 2 0 2 0 2 0 2 0 2 0 2 0 2 0 2 0 2 0 2 0 2 0 2 0 2-.2 2-.6 2-1.3 2-2.1 2-2.4 2-1.6 2-.2 2 1.2 2 1.6 2 1.4 2 1.1 2 .9 2 .8 2 .6 2 .3 2-.2 2-.8 2-1.6 2-2.7 2-3.4 2-3.2 2-1.8 2 .4 2 2.4 2 3.4 2 3.2 2 2.1 2 0 2-3.4 2-7.4 2-7.6 2-1.4 2 5.5 2 7.2 2 4.5 2 1.8 2 .1 2-.8 2-1.2 2-1 2-.2 2 .5 2 .7 2 .1 2-1.4 2-3.1 2-4 2-2.1 2 1.5 2 4.6 2 4.7 2 3.1 2 1.4 2 .5 2 .1 2 0 2 0 2 0 2 0 2 0 2 0 2 0 2 0 2 0 2 0 2 0 2 0 2 0 2 0 2 0 2 0 2 0 2 0 2 0 2 0 2 0 2-.1 2-.3 2-.7 2-.8 2-.8 2-.8 2-1.2 2-2.2 2-2.9 2-2.6 2-1.4 2 .4 2 1.8 2 1.6 2-.8 2-5.6 2-11 2-13.7 2-11.9 2-8.9 2-9.6 2-12.8 2-9.6 2 3.1 2 15.5 2 18 2 13 2 9.2 2 9 2 9.2 2 7.7 2 4.8 2 2.2 2 .8 2 .2 2 .2 2 .3 2 .3 2 .2 2 .2 2 0 2 0 2 0 2 0 2 0 2 0 2 0 2 0 2 0 2 0 2 0 2 0 2 0 2 0 2 0 2 0 2 0 2 0 2 0 2 0 2-.2 2-.5 2-1.3 2-1.9 2-1.9 2-.8 2 .9 2 2 2 1.9 2 1.1 1.5.5M871.8 347.8l2 0 2 0 2-.1 2-.9 2-2.6 2-4.2 2-2 2 2.5 2 3.6 2 1.5 2-.4 2-.7 2 0 2 .7 2 1 2 .5 2 0 2 .2 2 .4 2 .3 2 .2 2 0 2 0 2 0 2 0 2 0 2 0 2-.1 2-.8 2-2.2 2-3.5 2-2.3 2 1.2 2 3.4 2 2.7 2 1.1 2-.1 2-.6 2-.9 2-.8 2-.2 2 .4 2 .6 2 .3 2-.4 2-1.2 2-1.4 2-1 2-.1 2 1 2 1.5 2 1.4 2 1.1 2 .5 2 .3 2 .1 2 0 2 0 2 0 2 0 2 0 2 0 2 0 2 0 2 0 2 0 2 0 2 0 2 0 2 0 2 0 2 0 2 0 2 0 2 0 2 0 2 0 2 0 2 0 2 0 2 0 2 0 2 0 2-.3 2-.8 2-2.1 2-4 2-6.1 2-6.2 2-3.5 2 1.2 2 5.2 2 6.4 2 5.2 2 3.1 2 1.3 2 .5 2 .1 2 0 2 0 2 0 2 0 2 0 2-.1 2-.5 2-1.6 2-4.1 2-7.2 2-8.9 2-6.6 2-.1 2 6.5 2 8.9 2 7.3 2 4.1 2 1.7 2 .5 2 .1 2 0 2 0 2 0 2-.1 2-1.3 2-6.7 2-19.5 2-30.3 2-24.9 2-9.9 2 8.7 2 22.4 2 8 2-17.1 2-16.1 2-5 2-.8 2 15.1 2 30.2 2 23.8 2 10.7 2 3.8 2 .8 2-.4 2 .2 2 1.8 2 2.7 2 2.1 2 .8 2-1.1 2-3.1 2-2.5 2 .9 2 3.3 2 2.5 2 .8 2 .1 2-.2 2-.6 2-1 2-1.2 2-.7 2 .3 2 1 2 1.2 2 .8 2 .2 2-.1 2-.5 1.5-.5M871.8 347.8l2 0 2 0 2 0 2-.1 2-.2 2-.7 2-1.3 2-2.1 2-2.4 2-2 2-.7 2 .3 2 .8 2 .7 2 .6 2 .8 2 1.2 2 1.2 2 1.1 2 .7 2 .4 2 .4 2 .3 2 .4 2 .3 2 .2 2 .1 2 0 2 0 2 0 2 0 2 0 2 0 2 0 2 0 2 0 2 0 2 0 2 0 2 0 2 0 2 0 2 0 2 0 2 0 2 0 2 0 2 0 2 0 2 0 2 0 2 0 2 0 2 0 2 0 2-.1 2-.3 2-.8 2-1.5 2-1.6 2-.5 2 .9 2 1.6 2 1.4 2 .7 2 .2 2 0 2-.1 2-.2 2-.4 2-.9 2-1.4 2-2.1 2-2.8 2-3.4 2-3.1 2-1.4 2 1.1 2 3.2 2 3.5 2 2.5 2 1.1 2 .4 2-.1 2-1.5 2-5 2-8.9 2-8.6 2-1.2 2 7.5 2 10.2 2 7.1 2 3.2 2 1 2 .3 2 0 2 0 2 0 2 0 2-.4 2-1.9 2-6.3 2-11.4 2-9.1 2 2.6 2 11.3 2 9.8 2 4.2 2 1.1 2 .1 2-.2 2-.3 2-.7 2-1 2-1.3 2-1.1 2-.5 2 .5 2 1.1 2 1.3 2 1.1 2 .6 2 .4 2 .1 2 0 2 0 2 0 2 0 2 0 2 0 2 0 2 0 2 0 2 0 2-.1 2-.5 2-1.9 2-4.9 2-9 2-10.8 2-7.1 2 .6 2 4.8 2-1 2-14.9 2-25 2-22.1 2-11.3 2-3.9 2 1.6 2 12.7 2 25.5 2 28.8 2 21.5 2 11.2 2 4.3 2 1.2 2 .3 2 0 2 0 2 0 2 0 2 0 2 0 2 0 2 0 2 0 1.5 0M871.8 347.7l2-.2 2-.3 2-.4 2-.5 2-.7 2-1.4 2-2.1 2-2.6 2-1.9 2-.2 2 1.9 2 3 2 2.6 2 1.7 2 .8 2 .3 2 .1 2 0 2 0 2 0 2 0 2 0 2 0 2 0 2 0 2 0 2 0 2 0 2 0 2-.1 2-.3 2-.7 2-1.3 2-1.8 2-1.8 2-1.2 2 0 2 1.2 2 1.9 2 1.7 2 1.3 2 .7 2 .3 2 .1 2 0 2-.1 2-.6 2-1.5 2-2.7 2-3.3 2-2.3 2-.5 2 .9 2 1.5 2 1.8 2 2.1 2 1.9 2 1.4 2 .9 2 .3 2 .2 2 0 2 0 2 0 2 0 2 0 2 0 2 0 2 0 2 0 2 0 2 0 2 0 2 0 2 0 2 0 2 0 2 0 2 0 2 0 2-.1 2-.2 2-.5 2-1.1 2-2.1 2-3.1 2-4.1 2-4 2-2.2 2 .8 2 3.6 2 4.7 2 4 2 2.5 2 1.2 2 .5 2 .1 2 0 2 0 2 0 2 0 2 0 2 0 2 0 2 0 2-.3 2-.6 2-1.6 2-3.3 2-5.6 2-8 2-9 2-7.4 2-3.1 2 2.5 2 7 2 8.9 2 8.1 2 6 2 3.5 2 1.8 2 .7 2-.1 2-1.9 2-5.1 2-6.2 2-.8 2 5.5 2 5.8 2 2.5 2 .6 2 0 2-.4 2-.8 2-1.4 2-1.5 2-.8 2 .3 2 1.2 2 1.1 2 .3 2-.5 2-1.1 2-1.2 2-.8 2 .1 2 .8 2 1.1 2 .5 2-1 2-3.6 2-6.6 2-8.7 2-10.2 2-16.1 2-30.6 2-47.6 2-47.6 2-18.4 2 24.6 2 50 2 46 2 27.3 2 13.3 2 8.8 2 8.3 2 7.2 1.5 3.7M871.8 338.1l2 5 2 1.4 2-.7 2-.2 2 .6 2 .3 2-.4 2-.4 2 .3 2 .8 2 1 2 .9 2 .6 2 .3 2 .2 2 0 2 0 2 0 2 0 2 0 2 0 2 0 2 0 2 0 2 0 2 0 2 0 2 0 2-.1 2-.3 2-.5 2-.8 2-.8 2-.3 2 .2 2 .7 2 .8 2 .6 2 .3 2 .2 2 0 2 0 2 0 2 0 2-.3 2-1.1 2-2.2 2-2.5 2-.9 2 1.5 2 2.3 2 1.2 2-.4 2-1.5 2-2.2 2-2.1 2-1.5 2-.3 2 1.1 2 2 2 2.2 2 1.9 2 1.3 2 .6 2 .1 2-.5 2-.9 2-1.4 2-1.3 2-.4 2 1 2 1.7 2 1.4 2 .8 2 .3 2 .1 2 0 2 0 2 0 2 0 2 0 2 0 2 0 2 0 2 0 2-.5 2-1.6 2-4.8 2-8.7 2-9.8 2-4.1 2 4.9 2 10 2 8.4 2 4.3 2 1.5 2 .3 2-.3 2-1.5 2-3.3 2-4.6 2-2.7 2 1.6 2 4.5 2 3.9 2 1.8 2 .6 2 .1 2-.1 2-.3 2-.9 2-1.6 2-2.3 2-2.1 2-.8 2 1 2 2.1 2 2.3 2 1.5 2 .8 2 .3 2 .1 2 0 2 0 2 0 2 0 2 0 2 0 2 0 2 0 2 0 2 0 2 0 2 0 2 0 2 0 2 0 2 0 2 0 2 0 2-.3 2-.6 2-1 2-1.3 2-1 2 0 2 .5 2-.2 2-2.6 2-6.5 2-10.2 2-11.8 2-12 2-13.2 2-16.7 2-17.9 2-10.6 2 5.3 2 21.6 2 28.5 2 23.6 2 12.2 2 .2 2-9.7 2-15.2 2-13.4 2-3.7 1.5 5.3M871.8 347.8l2-.1 2-.3 2-1.1 2-2.8 2-5.2 2-7.2 2-6.7 2-2.8 2 2.3 2 5.2 2 4.9 2 3.2 2 2.2 2 2 2 1.1 2 .2 2-.2 2 .1 2 .8 2 1.3 2 1.2 2 1 2 .5 2 .3 2 0 2-.3 2-.8 2-1.8 2-2.4 2-2.9 2-4.1 2-7.4 2-11.4 2-12.1 2-7.3 2 .2 2 5 2 6 2 5.8 2 7.1 2 8.4 2 7.9 2 5.6 2 2.9 2 1.2 2 .3 2-.5 2-1.6 2-2.5 2-1.3 2 1.2 2 2.4 2 1.8 2 .6 2 .1 2-.1 2-.6 2-2.1 2-4.6 2-5.8 2-3.8 2-.3 2 1.2 2 .9 2 1.6 2 2.8 2 3.5 2 3.2 2 2.2 2 1.2 2 .5 2 .2 2 0 2 0 2 0 2 0 2 0 2 0 2 0 2 0 2 0 2 0 2 0 2-.2 2-.7 2-1.7 2-3.2 2-4 2-2.9 2 0 2 3 2 4 2 3 2 1.4 2-.1 2-1.8 2-3.8 2-6.4 2-8.6 2-9.2 2-7 2-2.4 2 2.3 2 4.7 2 4.3 2 3.1 2 3.7 2 5.7 2 6.1 2 4.4 2 1.9 2 .3 2-.5 2-.8 2-.9 2-.9 2-.4 2 .4 2 1.3 2 1.7 2 1.7 2 1 2 .3 2-.7 2-1.4 2-1.6 2-.7 2 .7 2 1.5 2 1.6 2 1.1 2 .5 2 .2 2 0 2 0 2 0 2 0 2 0 2 0 2 0 2 0 2 0 2 0 2 0 2 0 2 0 2 0 2 0 2 0 2 0 2 0 2 0 2 0 2 0 2 0 2 0 2 0 2 0 2 0 2 0 2 0 2 0 2 0 2 0 2 0 2 0 2 0 1.5 0M871.8 345.1l2 1 2 .8 2 .6 2 .2 2 .1 2 0 2 0 2 0 2 0 2 0 2 0 2 0 2 0 2 0 2 0 2 0 2 0 2 0 2 0 2 0 2 0 2 0 2 0 2 0 2 0 2 0 2 0 2 0 2 0 2 0 2 0 2 0 2 0 2 0 2 0 2 0 2-.3 2-.9 2-3.2 2-8.6 2-17 2-23.4 2-19.9 2-5.4 2 9.4 2 11.7 2 3.5 2-2.3 2 1.1 2 6.4 2 2.6 2-8.6 2-14.5 2-6.3 2 10.5 2 22.1 2 21.3 2 13 2 4.9 2 .1 2-1.9 2-2 2-2.1 2-3.5 2-5 2-3.9 2-.6 2 2.7 2 5.3 2 6.2 2 4.9 2 2.6 2 .9 2 .2 2 0 2 0 2 0 2 0 2-.1 2-.3 2-.6 2-.7 2-.6 2-.3 2 .3 2 .6 2 .7 2 .6 2 .3 2 .1 2 0 2 0 2 0 2 0 2 0 2-.1 2-.4 2-.7 2-1.4 2-2.2 2-3 2-3.7 2-4.9 2-5.3 2-2.7 2 3.2 2 7.7 2 7.2 2 4 2 1.6 2 .5 2 .2 2 0 2 0 2 0 2 0 2 0 2 0 2 0 2-.1 2-.2 2-.5 2-1 2-1.5 2-1.5 2-.9 2 .3 2 1.3 2 1.5 2 1.3 2 .8 2 .4 2 .1 2 0 2 0 2 0 2 0 2 0 2 0 2 0 2 0 2 0 2 0 2-.1 2-.2 2-.4 2-.4 2-.6 2-.7 2-1.3 2-2.4 2-3.7 2-3.7 2-1.5 2 1.5 2 3.4 2 2.8 2 1.4 2 .6 2 .9 2 1.4 2 1.4 2 .9 2 .5 2 .2 2 0 2 0 1.5 0M871.8 326.9l2-6.6 2-1.5 2 4 2 6.5 2 6.1 2 4.7 2 3.3 2 2.2 2 1.3 2 .6 2 .2 2 .1 2 0 2 0 2 0 2 0 2-.2 2-.9 2-2.1 2-3 2-1.8 2 1.1 2 3 2 2.4 2 1.1 2 .4 2 0 2 0 2 0 2 0 2 0 2 0 2 0 2-.1 2-.1 2-.4 2-.6 2-.9 2-.9 2-.5 2-.2 2-.5 2-2.7 2-8.5 2-17.3 2-23.8 2-18.1 2 2.4 2 22 2 24.9 2 15.7 2 6.5 2 .6 2-4.3 2-11.5 2-19.6 2-22.3 2-14.2 2-.3 2 8.2 2 8.3 2 6.7 2 9.3 2 12.8 2 12.9 2 9.2 2 4.8 2 1.8 2 .6 2 .1 2 0 2 0 2 0 2 0 2 0 2 0 2 0 2 0 2 0 2-.1 2-.6 2-2.8 2-7.9 2-13.1 2-11 2 .5 2 10.4 2 11 2 6.8 2 3.7 2 2 2 .8 2 .3 2 0 2 0 2 0 2 0 2 0 2 0 2 0 2-.1 2-.3 2-.5 2-1 2-1.3 2-1.3 2-.6 2 .3 2 1.1 2 1.3 2 1.2 2 .7 2 .3 2 .1 2-.3 2-.6 2-1.4 2-2.6 2-3.7 2-4.4 2-3.8 2-2 2 .8 2 3.1 2 4.3 2 4.1 2 3.1 2 1.9 2 .7 2-.1 2-1 2-1.7 2-1.8 2-1 2 .4 2 1.5 2 1.9 2 1.4 2 .8 2 .4 2 .1 2 0 2 0 2 0 2 0 2 0 2 0 2 0 2-.1 2-.4 2-.4 2-.1 2 .3 2 .3 2 0 2-.6 2-1.2 2-1.9 2-2.5 2-2.7 2-2.2 2-1.2 2-.6 2-.5 2-.8 2-.9 2 0 1.5 1M871.8 347.8l2 0 2 0 2 0 2 0 2 0 2 0 2 0 2 0 2 0 2 0 2 0 2 0 2 0 2 0 2 0 2 0 2 0 2 0 2 0 2 0 2 0 2 0 2-.1 2-.2 2-.2 2-.3 2-.2 2-.2 2-.2 2-.2 2-.2 2 .1 2 .3 2 .4 2 .5 2 .3 2 .1 2 .1 2 0 2-.3 2-1.1 2-2.6 2-4.2 2-4 2-1.1 2 2.7 2 4.4 2 3.6 2 1.8 2 .6 2 0 2-.2 2-.7 2-1.1 2-1.4 2-1.1 2-.1 2 1 2 1.6 2 1.3 2 .6 2 .3 2 0 2 0 2-.2 2-.6 2-1.7 2-3.1 2-3.8 2-3.7 2-3 2-2.9 2-2.2 2 .3 2 3.5 2 5.6 2 5.3 2 3.6 2 1.8 2 .8 2 .2 2 .1 2 0 2-.1 2-1.1 2-3.9 2-7.9 2-6.9 2 1.5 2 8.2 2 6.8 2 2.7 2 .7 2 0 2 0 2 0 2 0 2 0 2 0 2 0 2 0 2 0 2-.1 2-.7 2-2.8 2-7.9 2-16.2 2-23.6 2-22.9 2-12.9 2-2.6 2 .5 2 1.1 2 7.5 2 16.2 2 15.7 2 4.6 2-5.3 2-3.9 2 6.7 2 15.3 2 15.3 2 9.8 2 4.4 2 1.4 2 .3 2-.1 2-.8 2-1.8 2-2.5 2-1.7 2 .5 2 2.2 2 2.4 2 1.3 2 .5 2 .1 2 0 2 0 2 0 2 0 2 0 2 0 2 0 2 0 2 0 2 0 2 0 2 0 2 0 2 0 2 0 2 0 2 0 2 0 2 0 2-.1 2-.4 2-.5 2-.7 2-.5 2 .1 2 .5 2 .3 2-.2 2-.7 2-.8 1.5-.6M871.8 347.8l2-.2 2-.3 2-.7 2-1.2 2-1.8 2-2.3 2-2.2 2-1.4 2 .2 2 1.6 2 2.5 2 2.4 2 1.7 2 .7 2-.4 2-2 2-3.4 2-3.3 2-1 2 1.5 2 1.8 2 .7 2 .2 2 1.1 2 2.2 2 1.9 2 1.2 2 .4 2 .1 2 0 2-.2 2-.5 2-1 2-1.8 2-2.8 2-3.6 2-3.6 2-2.5 2-.7 2 1.1 2 1.8 2 1.3 2 0 2-1.8 2-2.4 2-1 2 2 2 4.4 2 4.7 2 3.3 2 1.9 2 .9 2 .4 2 .1 2 0 2-.4 2-.9 2-1.8 2-2.1 2-.7 2 1.2 2 2.1 2 1.6 2 .8 2 .2 2 0 2 0 2-.1 2-.2 2-.4 2-.8 2-1.3 2-1.5 2-1.3 2-.7 2 .3 2 1.1 2 1.5 2 1.4 2 1 2 .6 2 .3 2 .1 2 0 2-1 2-7.1 2-30.3 2-66.7 2-61.4 2 11.5 2 62.8 2 40.1 2 5.4 2 1 2 10.2 2 9.7 2-2.3 2-8.6 2 1.3 2 13.6 2 13.5 2 6.4 2 1.6 2 .3 2 0 2 0 2 0 2 0 2 0 2 0 2 0 2 0 2 0 2 0 2 0 2 0 2 0 2 0 2-.1 2-.1 2-.1 2-.2 2-.1 2 0 2 .1 2 .2 2 .1 2 .1 2 .1 2 0 2 0 2 0 2 0 2-.1 2-.6 2-1.2 2-1.4 2-.4 2 .9 2 1.5 2 .9 2 .3 2 .1 2 0 2 0 2 0 2 0 2 0 2 0 2 0 2 0 2 0 2 0 2-.1 2-.3 2-.9 2-1.3 2-1.5 2-.6 2 .7 2 1.4 2 1.4 2 .8 2 .3 2 .1 2 0 2 0 1.5 0M871.8 347.8l2 0 2 0 2 0 2 0 2 0 2 0 2 0 2 0 2 0 2 0 2 0 2 0 2-.1 2-.3 2-.9 2-1.6 2-1.7 2-.3 2 1.2 2 1.7 2 1.1 2 .2 2-.5 2-1.3 2-1.9 2-2.3 2-1.9 2-1 2 .5 2 1.7 2 2.2 2 2.1 2 1.5 2 .9 2 .5 2 .2 2 0 2 0 2 0 2 0 2 0 2 0 2 0 2 0 2 0 2 0 2 0 2 0 2 0 2 0 2 0 2 0 2 0 2 0 2 0 2 0 2 0 2-.1 2-.3 2-.7 2-.9 2-.6 2 .2 2 .9 2 .9 2 .4 2 .2 2-.1 2-.2 2-.6 2-1.5 2-2.6 2-4 2-4.9 2-4.3 2-2.3 2 .4 2 2.7 2 3.9 2 4 2 3.2 2 2.1 2-.5 2-4.6 2-7.2 2-3.6 2 4.1 2 7.7 2 5.6 2 2.1 2 .5 2-1.1 2-8.2 2-30.3 2-53.2 2-31 2 12.5 2 8.8 2 6.2 2 37.3 2 39.6 2 16.2 2 3.1 2 .2 2 0 2 0 2 0 2 0 2-.2 2-.6 2-1.3 2-2.3 2-3 2-2.8 2-1.3 2 .9 2 2.7 2 3.1 2 2.4 2 1.5 2 .6 2 .2 2 0 2-.1 2-.5 2-.9 2-1.7 2-2.7 2-3.4 2-3.6 2-2.8 2-1.4 2 .3 2 1.4 2 1.5 2 1 2 .3 2-.4 2-.7 2-1 2-.5 2 .9 2 2.5 2 3.5 2 3.5 2 2.5 2 1.5 2 .6 2 .3 2 0 2 0 2-.1 2-.5 2-1 2-1.5 2-.6 2 .8 2 1.5 2 1 2 .3 2 .1 2 0 2 0 2 0 2 0 2-.4 2-1.2 1.5-1.9M871.8 343.1l2 .1 2 .7 2 1 2 .6 2-1.1 2-3.5 2-4.5 2-1.8 2 1.9 2 3.3 2 2.9 2 2.2 2 1.6 2 .8 2 .4 2 .1 2 0 2 0 2-.1 2-.1 2-.2 2-.2 2-.3 2-.1 2-.1 2 .2 2 .2 2 .3 2 .2 2 .1 2 .1 2 0 2 0 2 0 2 0 2 0 2 0 2 0 2 0 2 0 2 0 2 0 2 0 2 0 2 0 2 0 2 0 2 0 2 0 2 0 2 0 2 0 2 0 2 0 2 0 2 0 2 0 2 0 2 0 2 0 2 0 2 0 2 0 2 0 2 0 2-.1 2-.2 2-.6 2-1.1 2-1.9 2-2.3 2-2.2 2-1.3 2-.1 2 .4 2 .6 2 .7 2 1.3 2 1.6 2 1.8 2 1.6 2 1.1 2 .5 2 .2 2 0 2-.1 2-.8 2-4.1 2-13.3 2-26.4 2-27.9 2-6.2 2 21.4 2 25.8 2-3.3 2-52.9 2-58.3 2 18.6 2 70.2 2 44 2 11.8 2 1.4 2 0 2-.2 2-.5 2-1 2-1.9 2-2.6 2-3 2-2.6 2-1.1 2 .6 2 2.3 2 2.9 2 2.6 2 1.4 2-.4 2-2.1 2-2.6 2-.8 2 1.8 2 3 2 2.5 2 1.3 2 .4 2 .1 2-.1 2-.3 2-.5 2-1.1 2-1.6 2-1.9 2-1.7 2-.9 2 .2 2 1.2 2 1.3 2 .9 2 .2 2-.1 2 .3 2 .9 2 1.1 2 1 2 .7 2 .3 2 .1 2 0 2 0 2 0 2 0 2 0 2 0 2 0 2-.2 2-.6 2-1 2-.8 2 .1 2 .9 2 .9 2 .5 2 .2 2 0 2 0 2 0 2 0 1.5 0M871.8 346.2l2-3 2-3.8 2-2.4 2 .4 2 2.6 2 3.3 2 2.6 2 1.3 2 .5 2 .1 2 0 2 0 2 0 2 0 2 0 2 0 2 0 2 0 2 0 2 0 2 0 2 0 2 0 2 0 2 0 2 0 2 0 2 0 2 0 2 0 2 0 2 0 2 0 2 0 2-.1 2-.4 2-.8 2-1.5 2-2.3 2-2.8 2-2.3 2-1.3 2 0 2 .3 2-.4 2-1.3 2-1.4 2-.3 2 1.5 2 3 2 3.4 2 3 2 1.9 2 1.1 2 .5 2 .2 2 0 2 0 2 0 2 0 2 0 2 0 2 0 2 0 2 0 2 0 2 0 2-.2 2-.6 2-1.1 2-1.9 2-2.7 2-3 2-2.2 2-.5 2 1.3 2 2.7 2 2.9 2 2.4 2 1.6 2 .8 2 .4 2 .1 2 0 2 0 2 0 2 0 2 0 2 0 2 0 2-.2 2-.5 2-1.4 2-3.1 2-6 2-10.8 2-22.1 2-47.1 2-71.3 2-47.5 2 21.8 2 59.5 2 42.5 2 15.7 2 .5 2-3.4 2 5.5 2 17 2 16.7 2 7.7 2 2.1 2 2.5 2 4.9 2 5.9 2 5.1 2 3.3 2 1.5 2 .2 2-.7 2-1.1 2-1 2-.5 2 .1 2 .1 2 0 2 .2 2 .6 2 .8 2 .9 2 .7 2 .4 2 0 2-.3 2-.6 2-.7 2-.7 2-.5 2 0 2 .4 2 .7 2 .7 2 .4 2 0 2-.7 2-1.3 2-1.8 2-1.5 2-.7 2 .5 2 1.4 2 1.7 2 1.6 2 1 2 .6 2 .2 2 .1 2 0 2 0 2 0 2 0 2 0 2 0 2 0 2 0 2 0 2 0 2 0 1.5 0M871.8 347.8l2 0 2 0 2 0 2 0 2 0 2 0 2-.1 2-.2 2-.4 2-.9 2-1.3 2-1.4 2-1.1 2-.3 2 .5 2 .3 2-.8 2-2.8 2-4.7 2-5.2 2-3.8 2-.6 2 3 2 5.2 2 5.5 2 4.3 2 2.6 2 1.4 2 .6 2 .2 2 0 2 0 2 0 2 0 2 0 2-.1 2-.4 2-1.1 2-2.1 2-2.4 2-1.2 2 1.1 2 2.4 2 2.1 2 1.2 2 .4 2 .1 2 0 2 0 2 0 2 0 2 0 2 0 2 0 2 0 2 0 2 0 2 0 2 0 2 0 2 0 2 0 2 0 2 0 2 0 2 0 2 0 2 0 2 0 2 0 2 0 2 0 2 0 2 0 2 0 2 0 2 0 2 0 2 0 2 0 2 0 2 0 2-.2 2-.7 2-2 2-4.2 2-7.1 2-9.1 2-8 2-3.1 2 3.1 2 7.1 2 7.1 2 4.2 2 1.2 2-.6 2-3.7 2-12.1 2-23.4 2-22.9 2-3.1 2 15.7 2 11 2-7 2-10.6 2 4.7 2 17.8 2 15.9 2 8.9 2 6.7 2 6.6 2 4.8 2 2.2 2 .7 2 .1 2-.1 2-.4 2-.9 2-1.8 2-2.5 2-2.5 2-1.2 2 .9 2 2.4 2 2.6 2 1.8 2 .7 2-.3 2-1.3 2-2.5 2-3.6 2-4.5 2-4.6 2-3.3 2-1.3 2 .6 2 .9 2 .1 2-.2 2 1.8 2 4.4 2 5.7 2 4.8 2 2.7 2 1.2 2 .3 2 .1 2 0 2 0 2 0 2 0 2 0 2 0 2 0 2 0 2 0 2 0 2 0 2 0 2-.1 2-.4 2-.8 2-1.5 2-2.7 2-3.6 2-4.1 2-4.2 1.5-3M871.8 346.5l2 .4 2 .5 2 .3 2 .1 2 0 2 0 2 0 2 0 2-.1 2-.8 2-2.6 2-5.1 2-4.8 2 .1 2 4.9 2 5 2 2.6 2 .7 2 .1 2 0 2 0 2 0 2 0 2 0 2 0 2-.1 2-.2 2-.4 2-.4 2-.5 2-.4 2-.2 2 .1 2 .4 2 .5 2 .3 2-.5 2-2.3 2-5.4 2-8.3 2-8.1 2-3.3 2 3.3 2 7.3 2 7.6 2 5.5 2 3.1 2 1.3 2 .6 2 .1 2 0 2 0 2 0 2 0 2 0 2 0 2 0 2 0 2 0 2 0 2 0 2 0 2 0 2 0 2 0 2 0 2-.1 2-.4 2-.7 2-1.5 2-2.5 2-3.3 2-3.6 2-2.9 2-1.2 2 1.1 2 2.8 2 3.6 2 3.4 2 2.5 2 1.5 2 .8 2 .3 2-.2 2-1.5 2-4.6 2-7.8 2-7 2 .1 2 7 2 7.9 2 4.4 2 1.6 2 .3 2 0 2 0 2-.1 2-1.1 2-7 2-24.8 2-43.4 2-31 2-5.9 2-13.8 2-22.6 2 7.7 2 45.3 2 50.5 2 30.8 2 11.8 2 2.8 2-1.2 2-6.3 2-11.8 2-8.3 2 4.7 2 11.2 2 6.4 2 0 2-2.6 2-2.6 2-1.2 2 .8 2 2.4 2 3 2 2.7 2 1.8 2 .9 2-.1 2-1.5 2-3.9 2-7 2-8.3 2-4.9 2 2 2 7.2 2 7.5 2 5.1 2 2.4 2 .8 2-.2 2-.9 2-1.4 2-2.1 2-2.7 2-3 2-2.2 2 0 2 2.3 2 3.8 2 3.7 2 2.4 2 1.3 2 .4 2 .2 2 0 2 0 2 0 2 0 2 0 2 0 2 0 2 0 2 0 2 0 2 0 2 0 1.5 0M871.8 347.8l2 0 2 0 2 0 2 0 2 0 2 0 2 0 2 0 2 0 2 0 2 0 2 0 2 0 2 0 2 0 2 0 2 0 2 0 2 0 2 0 2 0 2 0 2 0 2 0 2 0 2 0 2 0 2 0 2-.1 2-.1 2-.4 2-.8 2-1.1 2-1.4 2-1.4 2-.9 2-.1 2 .8 2 1.3 2 1.4 2 1.2 2 .8 2 .5 2 .2 2-.1 2-.5 2-1.2 2-2.6 2-4.4 2-6.2 2-6.8 2-5.4 2-2.2 2 1.6 2 4.9 2 6.3 2 6.1 2 4.7 2 3.1 2 1.6 2 .8 2 .3 2 .1 2 0 2 0 2 0 2 0 2 0 2 0 2-.1 2-.1 2-.5 2-1.1 2-2.1 2-3.7 2-4.9 2-5 2-2.7 2 1.3 2 4.5 2 5.5 2 4 2 .9 2-3.5 2-8.4 2-11.4 2-10.3 2-6.7 2-3 2 .8 2 4.1 2 6.8 2 8.6 2 8.8 2 7.4 2 4.8 2 1 2-4.9 2-12 2-14.1 2-9.3 2-10.9 2-21.1 2-9.4 2 25 2 36 2 19.5 2 5.3 2 .5 2-.8 2-2 2-3.3 2-3.8 2-2.4 2 .5 2 3 2 3.8 2 3 2 1.5 2 .6 2-.2 2-1.1 2-2.3 2-3.3 2-2.4 2 .3 2 2.7 2 3.2 2 2 2 .7 2-.2 2-.7 2-1.1 2-1.1 2-.7 2-.1 2 .5 2 1.1 2 1.1 2 .9 2 .5 2 .3 2 .2 2 0 2 0 2 0 2 0 2 0 2 0 2 0 2 0 2 0 2-.3 2-.6 2-.9 2-.5 2 .5 2 .9 2 .6 2 .3 2 0 2 0 2 0 2 0 2 0 2 0 2 0 1.5 0M871.8 347.8l2 0 2 0 2 0 2 0 2 0 2-.1 2-.3 2-.8 2-1.5 2-2.2 2-2.6 2-2 2-.7 2 .8 2 1.9 2 2.1 2 1.8 2 1.3 2 1 2 .4 2-.2 2-1.1 2-1.7 2-1.1 2 .5 2 1.4 2 .7 2-.7 2-1.3 2-.4 2 1 2 1.7 2 1.3 2 .6 2 .2 2 0 2 0 2 0 2 0 2 0 2-.3 2-1.1 2-3.1 2-5.7 2-5.8 2-1.3 2 3.7 2 4.7 2 3.4 2 1.9 2 1.4 2 1 2 .7 2 .3 2 .2 2 0 2-.1 2-.2 2-.6 2-1.4 2-2.7 2-4.4 2-5.8 2-6.1 2-4.4 2-1.1 2 2.7 2 5.3 2 6.1 2 5.3 2 3.7 2 2.1 2 1 2 .4 2 .2 2 0 2 0 2 0 2 0 2 0 2 0 2 0 2 0 2-.2 2-.3 2-.9 2-2.2 2-6.3 2-19 2-38.8 2-39.4 2-.5 2 38.5 2 35.8 2 3 2-40.1 2-55.6 2-1.3 2 53.7 2 45.3 2 18.7 2 6.3 2 2.3 2 .5 2-.7 2-2.2 2-4.5 2-6.8 2-7.2 2-4.2 2 1.2 2 5.9 2 7.4 2 5.8 2 3.1 2 .5 2-1.4 2-2.2 2-1.4 2 .6 2 2.1 2 2.3 2 1.4 2 .6 2 .2 2 0 2 0 2 0 2 0 2 0 2 0 2-.1 2-.2 2-.4 2-.7 2-1 2-1.2 2-1 2-.6 2 .2 2 .7 2 1.2 2 1.1 2 .9 2 .6 2 .3 2 .2 2 0 2 0 2 0 2 0 2 0 2 0 2 0 2 0 2-.1 2-.3 2-.4 2-.6 2-.6 2-.5 2-.2 2 .2 2 .6 2 .6 2 .6 2 .4 1.5.1M871.8 347.8l2 0 2 0 2 0 2 0 2 0 2 0 2-.1 2-.3 2-.9 2-1.9 2-2 2-.8 2 1 2 2.1 2 1.7 2 .9 2 .3 2 0 2 0 2 0 2 0 2 0 2 0 2-.1 2-.3 2-.8 2-1.2 2-1 2-.1 2 .8 2 .8 2-.1 2-1.2 2-1.9 2-2 2-1.2 2 .2 2 1.5 2 2.1 2 1.9 2 1.4 2 .7 2 .4 2 .1 2 0 2 0 2 0 2 0 2 0 2-.3 2-.7 2-1.5 2-1.9 2-1.2 2 .3 2 1.7 2 1.7 2 1 2 .3 2-.3 2-.6 2-.8 2-.6 2-.6 2-.6 2-.9 2-1.6 2-1.8 2-1.2 2 .5 2 1.9 2 2.7 2 2.2 2 1.4 2 .6 2 .2 2 .1 2-.2 2-.7 2-1.4 2-2.4 2-2.7 2-1.6 2 .5 2 2.3 2 2.8 2 1.9 2 .9 2-1.4 2-10.8 2-34.9 2-50.2 2-12.6 2 41.6 2 44.5 2 16 2-5.5 2-15.8 2-13.3 2 2.3 2 15.4 2 15 2 7.6 2 2.3 2 .4 2 0 2 0 2 0 2 0 2-.4 2-1.2 2-3 2-5.3 2-6.5 2-4.4 2 .6 2 5.2 2 6.5 2 4.8 2 2.5 2 .9 2 .3 2 0 2 0 2 0 2 0 2 0 2-.1 2-.3 2-.6 2-1 2-1.5 2-1.9 2-2.3 2-3 2-4.1 2-5 2-4.7 2-2.6 2 1.3 2 4.6 2 5.6 2 4.1 2 1.7 2-.4 2-.6 2 .9 2 3.1 2 3.4 2 2.3 2 .9 2 .2 2 0 2 0 2 0 2 0 2 0 2 0 2 0 2 0 2 0 2 0 2 0 2 0 2 0 2 0 2 0 1.5 0M871.8 344.5l2 1.8 2 1.1 2 .3 2 0 2-.6 2-1.6 2-3.3 2-4.2 2-2.6 2 1 2 3.7 2 4 2 2.4 2 1 2 .3 2 0 2 0 2 0 2 0 2 0 2 0 2 0 2 0 2 0 2 0 2 0 2 0 2 0 2-.1 2-.2 2-.4 2-.9 2-1.5 2-2.3 2-3.4 2-3.5 2-.8 2 2.9 2 4.5 2 3.3 2 1.3 2-.1 2-1 2-1.1 2-.6 2 .6 2 1.3 2 1.1 2 .6 2 .3 2 0 2 0 2 0 2 0 2 0 2 0 2 0 2 0 2 0 2 0 2 0 2 0 2 0 2 0 2-.6 2-2.2 2-5.3 2-6.5 2-2.1 2 4.6 2 6.6 2 3.9 2 1.3 2 .3 2 0 2 0 2-.1 2-.3 2-.7 2-1.4 2-2.4 2-3.4 2-4.5 2-5.4 2-6.5 2-6.9 2-5.9 2-3.3 2-.3 2 2 2 1.2 2-5.2 2-13.8 2-13.1 2 .7 2 14.3 2 16.5 2 7.2 2-13.6 2-31.7 2-9.5 2 32.5 2 35.8 2 14.7 2 2.8 2 .3 2 0 2 0 2 0 2 0 2 0 2 0 2 0 2 0 2 0 2 0 2 0 2 0 2 0 2 0 2 0 2 0 2 0 2 0 2 0 2 0 2 0 2 0 2 0 2-.1 2-.2 2-.5 2-.9 2-1.2 2-.9 2-.1 2 .7 2 1.2 2 1 2 .6 2 .3 2 .1 2 0 2 0 2 0 2 0 2 0 2 0 2 0 2 0 2-.1 2-.2 2-.4 2-.5 2-.6 2-.5 2-.1 2 .3 2 .5 2 .6 2 .5 2 .3 2 .2 2 0 2 0 2 0 2 0 1.5 0M871.8 347.8l2-.1 2-.3 2-.7 2-1.1 2-.6 2 .4 2 1 2 .9 2 .4 2 .1 2 0 2 0 2 0 2 0 2-.1 2-.2 2-.7 2-1.4 2-2 2-2.3 2-2.1 2-1.1 2 .9 2 2.7 2 3.1 2 2.1 2 .9 2 .2 2 0 2 0 2-.2 2-.3 2-.4 2 0 2 .4 2 .3 2 .2 2 0 2 0 2 0 2-.1 2-.2 2-.3 2-.5 2-.5 2-.6 2-.5 2-.1 2 .5 2 .8 2 .4 2-.6 2-1.5 2-2.4 2-2.4 2-1.4 2 .2 2 1.9 2 2.5 2 2.2 2 1.5 2 .7 2 .3 2 .1 2 0 2 0 2 0 2 0 2-.1 2-.3 2-.4 2-.8 2-.8 2-.9 2-1.7 2-3.8 2-7.3 2-9.2 2-6.4 2 .3 2 7 2 9.5 2 7.7 2 4.5 2 1.9 2 .2 2-1.5 2-4.3 2-8.2 2-9.9 2-5.6 2 2.8 2 9.1 2 9.3 2 5.7 2 2.4 2 .7 2 .1 2-.1 2-.9 2-5.7 2-19.9 2-38.6 2-35.3 2-1.9 2 20.7 2 12.2 2 3.6 2 11.8 2 20.9 2 18.5 2 10 2 3.7 2 .9 2 .1 2 0 2 0 2 0 2 0 2 0 2 0 2 0 2 0 2 0 2 0 2 0 2 0 2 0 2 0 2 0 2 0 2-.1 2-.4 2-1.1 2-2 2-2.7 2-2.2 2-.5 2 1.1 2 2.1 2 2 2 1.6 2 .8 2 .1 2-.7 2-1.2 2-1.1 2-.5 2 .5 2 1.2 2 1.3 2 .9 2 .6 2 .2 2 .1 2 0 2 0 2 0 2 0 2 0 2 0 2 0 2 0 2 0 2 0 2 0 2 0 1.5 0M871.8 331.6l2 6.1 2 5.1 2 3.1 2 1.4 2 .4 2 .1 2 0 2-.1 2-.2 2-.3 2-.4 2-.3 2-.2 2 0 2 .1 2 0 2-.8 2-2.4 2-4.6 2-6 2-4.9 2-1 2 3.2 2 5.1 2 4.7 2 2.9 2 .8 2-.9 2-1.7 2-1 2 .5 2 2 2 2.2 2 1.8 2 1 2 .4 2 .1 2 0 2 0 2 0 2 0 2 0 2 0 2 0 2 0 2 0 2 0 2 0 2 0 2 0 2 0 2 0 2 0 2 0 2 0 2 0 2 0 2 0 2 0 2 0 2 0 2 0 2 0 2 0 2 0 2 0 2 0 2 0 2 0 2 0 2 0 2 0 2 0 2 0 2 0 2 0 2 0 2 0 2 0 2 0 2 0 2 0 2 0 2 0 2 0 2 0 2 0 2 0 2 0 2 0 2-.1 2-.5 2-1.2 2-2.8 2-5.1 2-7.3 2-8.1 2-7.1 2-7.9 2-15.8 2-28.2 2-28.8 2-5.1 2 26.5 2 35.4 2 15.7 2-10.1 2-15.9 2 3.1 2 22.8 2 23.4 2 12.4 2 3.9 2 .6 2-.3 2-.8 2-1.4 2-1.6 2-1.3 2-.8 2-1.8 2-5.5 2-10.5 2-11.9 2-6.9 2 1.2 2 6.8 2 7.6 2 6.2 2 4.9 2 4.6 2 4.6 2 3.6 2 2.2 2 1 2 .3 2 0 2 0 2 0 2 0 2 0 2 0 2 0 2 0 2 0 2 0 2 0 2 0 2 0 2 0 2 0 2 0 2 0 2 0 2 0 2 0 2 0 2 0 2 0 2-.1 2-.1 2-.2 2 0 2 .1 2 .1 2 .1 2 .1 1.5 0M871.8 344.8l2-4.8 2-8.7 2-10.9 2-8.2 2-.2 2 8 2 11 2 8.8 2 4.9 2 2.1 2 .7 2 .3 2 0 2 0 2 0 2 0 2 0 2 0 2 0 2 0 2 0 2 0 2 0 2 0 2 0 2 0 2 0 2 0 2 0 2-.2 2-.9 2-2.3 2-4.3 2-5 2-2.6 2 1.8 2 4.7 2 4.6 2 2.8 2 1 2 .3 2-.1 2-.3 2-.7 2-.8 2-1 2-.6 2-.2 2 .5 2 .9 2 .9 2 .7 2 .5 2 .2 2 .1 2-.2 2-.8 2-2 2-3.4 2-2.7 2 .2 2 2.7 2 2.8 2 1.4 2 .4 2 .2 2 .3 2 .3 2 .4 2 .2 2 .1 2 .1 2 0 2 0 2 0 2 0 2 0 2 0 2 0 2 0 2 0 2 0 2 0 2 0 2 0 2-.3 2-1.6 2-7.4 2-21 2-29 2-11.3 2 8.6 2-6.2 2-41.4 2-42.3 2 10.4 2 47.5 2 32.1 2 7.6 2-.2 2 1.9 2 6.8 2 11.1 2 12.2 2 10.3 2 6.6 2 3.5 2 1.5 2 .5 2 .1 2 0 2-.1 2-.4 2-.9 2-2 2-3.5 2-5.2 2-5.9 2-4.8 2-1.7 2 2.1 2 4.9 2 5.9 2 5 2 3.5 2 1.8 2 .9 2 .3 2 .1 2 0 2 0 2 0 2 0 2 0 2 0 2 0 2 0 2 0 2 0 2 0 2 0 2-.1 2-.2 2-.3 2-.4 2-.4 2-.1 2 .2 2 .4 2 .3 2 .3 2 .2 2 .1 2 0 2 0 2 0 2 0 2 0 2 0 2 0 2 0 2 0 2 0 2 0 2 0 2 0 2 0 1.5 0M871.8 342.5l2 1 2 2 2 1.4 2 .4 2-.1 2-.6 2-.9 2-1 2-.6 2-.1 2 .5 2 .9 2 .9 2 .7 2 .5 2 .2 2 0 2-.2 2-1 2-2.3 2-3.3 2-2 2 .8 2 3 2 2.9 2 1.5 2 .3 2-.5 2-1.2 2-1 2 .2 2 1.2 2 1.1 2 .5 2 .1 2 0 2 0 2 0 2 0 2 0 2 0 2 0 2 0 2 0 2 0 2 0 2 0 2 0 2 0 2 0 2 0 2 0 2 0 2 0 2 0 2 0 2 0 2 0 2 0 2 0 2 0 2-.1 2-.4 2-.8 2-1.5 2-2.2 2-2.4 2-1.7 2-.2 2 1.4 2 2.3 2 2.3 2 1.7 2 1 2 .4 2 .2 2-.1 2-.7 2-2.1 2-4.1 2-3.9 2-1.5 2-.3 2-.9 2-.8 2 .8 2 2.7 2 3.5 2 3 2 .6 2-5.6 2-14 2-11.8 2 4.2 2 9.3 2-14.6 2-58.4 2-75.2 2-17.6 2 55.6 2 56.5 2 15 2-4.3 2 3.7 2 14.2 2 16.2 2 12.6 2 7.7 2 3.8 2 1.5 2 .9 2 1 2 1 2 .9 2 .6 2 .4 2 .1 2 .1 2 0 2 0 2 0 2 0 2 0 2 0 2 0 2 0 2-.2 2-.4 2-.8 2-1.4 2-1.8 2-2 2-1.4 2-.3 2 .9 2 1.8 2 2 2 1.7 2 1 2 .6 2 .2 2 .1 2 0 2 0 2-.1 2-.1 2-.4 2-.5 2-.4 2-.3 2 .2 2 .4 2 .5 2 .4 2 .2 2 .1 2 0 2 0 2 0 2 0 2 0 2 0 2 0 2 0 2 0 2 0 2 0 1.5 0M871.8 352.4l2-.1 2-.1 2 0 2-.1 2-.1 2-.6 2-1.9 2-4.1 2-5.9 2-4.5 2 .3 2 4.9 2 6 2 4 2 1.8 2 .6 2 .2 2 0 2-.1 2-.4 2-.7 2-1.4 2-2 2-2.4 2-2.3 2-1.7 2-1.1 2-.6 2-.4 2 .7 2 2 2 3 2 2.7 2 1.7 2 .7 2 0 2-.4 2-1 2-1.9 2-2.5 2-2.3 2-.9 2 .2 2-.5 2-3.6 2-8.6 2-13.9 2-16.2 2-11 2 .8 2 9.3 2 6.2 2-.8 2 1.1 2 8.9 2 12.9 2 11.1 2 6.9 2 3.1 2 .4 2-1.6 2-2.8 2-3.4 2-2.5 2-.6 2 1.7 2 3.2 2 3.4 2 2.7 2 1.7 2 .9 2 .5 2 .3 2 .2 2 .2 2 .2 2 .2 2 .2 2-.1 2-.7 2-1.7 2-2 2-1.1 2 .3 2-.1 2-2.4 2-4.7 2-5.6 2-4.7 2-3 2-1.5 2 .3 2 3.5 2 6.7 2 6.8 2 2.4 2-4.3 2-10.6 2-13.3 2-10.2 2-2.2 2 5.5 2 8 2 4.8 2-.4 2-4.3 2-6.9 2-9.8 2-11.7 2-9.6 2-.8 2 10.9 2 18.9 2 19 2 12.9 2 5 2-1.4 2-3.6 2-.9 2 3.5 2 5.1 2 3.7 2 1.7 2 .4 2 0 2-.1 2-.1 2-.2 2-.2 2-.3 2-.4 2-.9 2-1.5 2-2.2 2-2.1 2-1.1 2 .3 2 1.6 2 1.7 2 .9 2-.2 2-1.4 2-2.7 2-3.4 2-3.3 2-1.9 2 .1 2 2.2 2 3.2 2 3.1 2 2.3 2 1.4 2 .6 2 .2 2 .1 2-.1 2 0 2-.1 2 0 2-.1 2 0 2-.1 2 0 2 0 2 0 2 0 2 0 1.5 0M871.8 353.4l2-1.3 2-2.1 2-1.8 2-.2 2 1.4 2 1.1 2-.5 2-1.8 2-2.3 2-1.3 2 .2 2 1.7 2 2.2 2 2 2 1.2 2 .6 2 .1 2-.1 2-.2 2-.1 2-.2 2-.3 2-.5 2-.9 2-1.7 2-2.7 2-4.2 2-6.2 2-8.2 2-8.2 2-3.6 2 4.3 2 10.1 2 9.2 2 3 2-3.5 2-6 2-2.8 2 3.3 2 7.1 2 6.6 2 3.7 2 1.1 2-1.4 2-3.9 2-4.9 2-2 2 2.9 2 4.4 2 2 2-.7 2-.5 2 1.2 2 1.6 2 .8 2 .2 2-.1 2-.1 2-.2 2-.1 2-.1 2-.1 2-.1 2-.1 2-.1 2 0 2 0 2 0 2 0 2 0 2 .1 2 0 2 .1 2 .1 2 0 2 .1 2 .1 2 .1 2 .1 2 .1 2 .1 2 .1 2 .1 2 .1 2 .1 2 .1 2 .1 2 .1 2-.2 2-1 2-3 2-6.9 2-11.9 2-15.3 2-13.2 2-5.2 2 4.8 2 11 2 11 2 7.7 2 4.8 2 4 2 4.2 2 4.1 2 3.3 2 2.1 2 1.2 2 .5 2 .3 2 .1 2 .1 2-.1 2-.6 2-2 2-2.1 2-.1 2 .4 2-2.7 2-6.8 2-6.6 2 .3 2 7.3 2 6.7 2 2.3 2-.2 2-.5 2 .1 2 .2 2-.2 2-1.2 2-2.3 2-2.9 2-2.1 2-.1 2 2.4 2 3.8 2 3.6 2 2.6 2 1.3 2 .2 2-.7 2-1.7 2-2.6 2-2.6 2-1.3 2 .3 2 .7 2-1.3 2-5.7 2-10.3 2-10.9 2-4.3 2 5.8 2 11.9 2 11 2 6.7 2 3 2 1.1 2 .3 2 0 2-.2 2-.7 2-1.5 2-3 2-5.1 2-6.7 2-6.7 1.5-3.5M871.8 347.9l2 0 2-.5 2-2 2-4.7 2-6 2-2.7 2 2.5 2 3.9 2 2.5 2 1.6 2 1.5 2 1.1 2-.7 2-4.2 2-8.4 2-10.1 2-5.8 2 2.9 2 9.7 2 9.9 2 6 2 2.4 2 .7 2 .2 2 0 2 .1 2 .1 2 0 2 .1 2 0 2 0 2 0 2 0 2 0 2-.3 2-.8 2-2.2 2-4.9 2-8.1 2-9.2 2-5.2 2 2.1 2 7.8 2 8.9 2 6.2 2 3.3 2 1.3 2 .5 2 .1 2 0 2-.1 2-.1 2-.1 2-.3 2-.6 2-1.4 2-2.7 2-4.5 2-5.7 2-5.5 2-3.3 2 .3 2 3 2 3.2 2 .8 2-1.5 2-1.1 2 1.8 2 4.4 2 3.2 2-3.9 2-13 2-12.2 2 3.1 2 15 2 12.3 2 4.9 2 .9 2-.1 2-.2 2-.3 2-.2 2-.2 2-.1 2-.2 2-.1 2 0 2 0 2 .1 2 .1 2 .2 2 .2 2 .2 2 .1 2-.5 2-2.4 2-5.9 2-10.6 2-12.6 2-8.5 2 .9 2 10 2 13.5 2 10.9 2 6.3 2 2.8 2 1 2 .3 2-.3 2-1.4 2-3.5 2-7 2-11.6 2-14.3 2-11.6 2-2.3 2 8.7 2 14.8 2 13.5 2 8.3 2 2.7 2-1.3 2-2.9 2-1.8 2 .8 2 2.7 2 2 2-.9 2-3.6 2-4.8 2-6.9 2-12.5 2-17.6 2-16.9 2-8.2 2 4.4 2 14.5 2 18.1 2 15.4 2 9.1 2 2.3 2-.7 2 1.8 2 4.2 2 3 2 1 2-.1 2-1.5 2-3.5 2-2.8 2 .7 2 0 2-3.7 2-1.4 2 3.6 2 2.8 2-2 2-4.4 2-2.6 2 1.2 2 3.9 2 2.8 2-.9 2-2 2 1.4 2 4.4 2 3.8 1.5 1.4M871.8 331.3l2-6.2 2-4.2 2-.5 2 3.4 2 5.6 2 4.2 2-.5 2-6.4 2-8.5 2-3.3 2 5.7 2 10.9 2 9.5 2 5.4 2 2.1 2 .3 2-.6 2-1.6 2-2.9 2-3.6 2-2.1 2 1.6 2 4.3 2 3.8 2 2.1 2 .9 2 .3 2 .2 2 0 2 .1 2 0 2 0 2 0 2 0 2-.2 2-.7 2-2.6 2-7.2 2-14.2 2-17.7 2-11 2 4.1 2 15.8 2 16.7 2 10.4 2 4.3 2 1.2 2 .1 2-.2 2-.7 2-1.1 2-1.9 2-3.1 2-6.5 2-9.6 2-4.8 2 4.6 2 4.4 2-1.9 2-1.8 2 4.5 2 8.1 2 5.9 2 2.5 2 .5 2 0 2 0 2-.1 2-.1 2-.1 2-.1 2-.1 2-.4 2-.9 2-2.6 2-5.3 2-7.2 2-5.2 2 .5 2 4.9 2 5.6 2 4.1 2 2.6 2 1.6 2 1.1 2 .5 2 .2 2 0 2 0 2-.1 2-.2 2-.1 2-.2 2-.2 2-.2 2-.2 2-.2 2-.4 2-.4 2-.9 2-1.4 2-2.3 2-3 2-3.5 2-3.1 2-2 2-.4 2 1.4 2 2.6 2 3.3 2 3 2 2.1 2 .1 2-3.1 2-6.2 2-6.8 2-4.1 2 1.8 2 8.4 2 9.1 2 4.8 2 1.4 2 .4 2 .1 2-.3 2-.9 2-2.9 2-7.4 2-14.5 2-18.6 2-10.4 2 7.3 2 18.7 2 15.1 2 2.4 2-9 2-9.9 2 1 2 11.6 2 11.8 2 6.2 2 1.8 2 .1 2-1 2-2.1 2-3.2 2-2.9 2-1.1 2 1.2 2 2.8 2 3 2 2.3 2 1.4 2 .7 2 .2 2 0 2-.1 2-.2 2-.4 2-1.2 2-2.2 2-3.3 2-3.2 2-1.5 2 .4 2 .7 2-.4 1.5-1.4M871.8 347.2l2-1.2 2-4.6 2-9.6 2-11.1 2-5.3 2 2.7 2 5.8 2 5.3 2 5 2 4.6 2 2.8 2-.2 2-2.8 2-4 2-3 2-.3 2 3 2 5.2 2 5.2 2 3.8 2 1.6 2-.5 2-2.1 2-3 2-3.2 2-3 2-2.5 2-1.2 2 1 2 3.4 2 3.9 2 1.6 2-2.5 2-6.9 2-8.2 2-4.7 2 1.9 2 7 2 7.9 2 6 2 3.6 2 1.5 2-.1 2-1.3 2-1.9 2-1.8 2-1 2 .2 2 1.4 2 2.1 2 1.8 2-.1 2-3.3 2-5.1 2-1.8 2 3.9 2 5.7 2 2.9 2-1 2-3.5 2-3.4 2-1.3 2 2 2 3.8 2 3.6 2 2.1 2 .9 2 .1 2-.2 2-.3 2-.7 2-1.6 2-3.5 2-7 2-11.5 2-15.2 2-14.9 2-9.6 2-1.6 2 4.6 2 5.7 2 2.9 2 .2 2 .7 2 4.3 2 7.8 2 8.6 2 5.3 2-2.1 2-10 2-11.2 2-1.6 2 9.6 2 9.4 2-1.5 2-13.7 2-19.9 2-18.2 2-8.7 2 4.5 2 15.9 2 21.3 2 20 2 14.8 2 8.9 2 4.5 2 1.9 2 .6 2 .2 2-.1 2 0 2-.1 2-.2 2-.2 2-.5 2-1.6 2-4.6 2-10 2-15.7 2-16 2-7.2 2 6.5 2 15.6 2 15.4 2 9.6 2 3.5 2-.7 2-3.4 2-5.1 2-5.7 2-5.9 2-6.4 2-7.1 2-7.1 2-4.9 2-.1 2 6 2 10.6 2 12.1 2 10.5 2 7.2 2 3.9 2 1.9 2 .6 2 .2 2 0 2-.1 2-.1 2-.3 2-.3 2-.3 2-.4 2-.4 2-.4 2-.5 2-.5 2-.5 2-.4 2-.4 2-.4 2-.4 2-.3 2-.2 2-.2 2-.1 2-.1 2 .1 1.5 0M871.8 346.2l2 .1 2 .1 2 .1 2 .1 2 .2 2 .2 2 .2 2 .2 2 .2 2 .2 2 .2 2 .2 2 .2 2 .2 2 .2 2 .2 2 .2 2 .3 2 .2 2 .2 2 .3 2 .2 2 .3 2 .1 2-.2 2-2.4 2-8.4 2-16.3 2-16.8 2-4.8 2 9.7 2 15.6 2 12.1 2 5.1 2 .9 2 1.2 2 2.2 2 1.6 2 .4 2-.1 2-.3 2-.2 2-.3 2-.2 2-.3 2-.7 2-2.6 2-7.6 2-15.5 2-19.3 2-10.8 2 5.3 2 15.3 2 14.8 2 9.8 2 4.8 2-.1 2-4.5 2-6.9 2-7.1 2-6.9 2-6.4 2-3.7 2 1.1 2 3.8 2 .4 2-7.2 2-9.7 2-.7 2 11.2 2 12.9 2 3.7 2-6.4 2-10.4 2-7.8 2-1 2 5.3 2 7 2 3.9 2 1.7 2 4.7 2 7.7 2 3.6 2-5.9 2-14.2 2-16.2 2-10.2 2 1.2 2 12.1 2 17.1 2 15.6 2 10.5 2 5.5 2 1.7 2-1.7 2-6.2 2-12.4 2-18 2-18.2 2-10.1 2 3.6 2 15.4 2 19.1 2 14.7 2 5.8 2-4 2-13.7 2-20.7 2-21.9 2-15.7 2-5.1 2 5.7 2 16.1 2 23.5 2 22.2 2 13.8 2 5.6 2 1.3 2 0 2-.2 2-.4 2-.2 2-.2 2-.1 2-.1 2 0 2 0 2-.1 2-.5 2-1.7 2-3.4 2-5.2 2-6.2 2-6.6 2-7.2 2-7.7 2-6.5 2-2.3 2 3.8 2 9 2 11.5 2 10.7 2 8 2 4.9 2 1.8 2-2.6 2-9.8 2-15.7 2-9.6 2 6 2 14.2 2 10.5 2 4.9 2 2.1 2 .8 2-.3 2-1.8 2-3.4 2-4.9 2-5.6 2-4.9 2-2.7 2-.1 2 1.5 2 1.3 2-.2 2-1.1 1.5-.1M871.8 346.2l2 3.8 2 2.6 2 .8 2 0 2-.2 2-.6 2-1.5 2-2.9 2-4.8 2-5.6 2-4.2 2-.9 2 2.3 2 3.2 2 1.8 2 .2 2-.4 2 .7 2 1.7 2 1.8 2 .1 2-3.3 2-7.2 2-9 2-5.7 2 .1 2 4.4 2 7.2 2 7.9 2 6.1 2 2.5 2-1 2-1.1 2 1.7 2 3 2 2 2 .6 2-.1 2-.2 2-.2 2-.2 2-.2 2-.2 2-.3 2-.2 2-.2 2-.2 2-.2 2-.3 2-.3 2-.6 2-1.1 2-1.7 2-2.5 2-2.9 2-2.6 2-1.4 2 .4 2 2 2 2.7 2 2.4 2 .4 2-3.3 2-6.7 2-6.2 2-.1 2 5.8 2 6.4 2 2.9 2-.2 2-.8 2 .2 2 1.3 2 1.9 2 1.6 2 .9 2 .4 2 .1 2-.2 2-.6 2-1.8 2-3.5 2-4.6 2-2.6 2 1.5 2 4.3 2 3.7 2 2 2 .6 2 0 2-1.6 2-7.3 2-20.7 2-35.9 2-38.4 2-27.4 2-12.2 2-.9 2-7.6 2-22.6 2-9.4 2 27.6 2 47.6 2 40.7 2 27.5 2 18.5 2 12.2 2 7.1 2 3.2 2 1.3 2 .4 2 .1 2 0 2-.1 2 0 2-.1 2-.1 2-.4 2-2.1 2-8 2-18.1 2-20.7 2-4.4 2 16.7 2 20.5 2 10.8 2 1.6 2-3.1 2-5.3 2-4.8 2-1.8 2 2.2 2 4.4 2 3.3 2 .1 2-3.2 2-4.9 2-4.2 2-1.4 2 2.1 2 4.7 2 5.3 2 3.9 2 1 2-.8 2 .5 2 2.4 2 2.2 2 .8 2 .1 2-.1 2 0 2-.1 2 0 2 0 2-.1 2-.2 2-.5 2-1 2-1.2 2-.6 2 .5 2 1.1 2 1 2-.1 2-.3 2 .7 1.5 1.2M871.8 352.3l2-.2 2-.2 2-.5 2-.8 2-1.6 2-2.6 2-3.5 2-3.9 2-3.3 2-2.3 2-1.7 2-2.2 2-2.5 2-1 2 2.2 2 3.5 2 .5 2-3.9 2-3.3 2 2.9 2 8 2 7.7 2 4.2 2 1.5 2 .4 2 .1 2-.1 2-.6 2-2.2 2-5.7 2-11 2-13.9 2-9.7 2 .1 2 8.7 2 11.3 2 9.6 2 6.4 2 3.7 2 1.9 2 .7 2 .1 2 0 2-.1 2-.1 2-.2 2-.5 2-1.4 2-3.2 2-6.9 2-12 2-17.8 2-21.8 2-21.4 2-15.3 2-3.8 2 9.8 2 20 2 22.8 2 17.8 2 9.2 2 1.9 2-1.8 2-2.6 2-.7 2 3.1 2 7.1 2 8.4 2 6.7 2 4 2 1.8 2 .7 2 .2 2 .1 2 0 2 0 2 .1 2 0 2 0 2 0 2-.3 2-2 2-8.6 2-21 2-26.5 2-9.6 2 16.1 2 24.4 2 14.7 2 3.4 2-1.6 2-2.8 2-3.9 2-7 2-10.8 2-12.6 2-10.6 2-4.2 2 3.8 2 10.5 2 13 2 10.4 2 3.4 2-6.3 2-14.2 2-15 2-6.5 2 6.2 2 13.8 2 11.5 2 2 2-8.8 2-15.3 2-14.7 2-7.1 2 3.7 2 12 2 13.4 2 9.7 2 6.6 2 7 2 8.6 2 7.8 2 5.2 2 2.4 2 .8 2 .2 2 .1 2-.1 2 0 2-.1 2-.1 2-.1 2-.2 2-.1 2-.2 2-.2 2-.1 2-.2 2-.2 2-.1 2-.1 2-.1 2-.1 2 0 2-.1 2 0 2 .1 2 0 2 .1 2 .1 2 .1 2 0 2-.3 2-1.4 2-3.7 2-6.3 2-6.8 2-3.1 2 3 2 6.7 2 5.9 2 2.6 2-.3 2-1.9 2-2.2 2-1.2 1.5 0M871.8 335.7l2-7 2-9.2 2-5.1 2 8.7 2 14.8 2 8.4 2 2.4 2 .5 2 .2 2 0 2-.6 2-1.7 2-4.1 2-7.1 2-10.1 2-10.7 2-7.7 2-1.9 2 3.6 2 6.2 2 6.8 2 7.5 2 8.5 2 7.7 2 5 2 2.4 2 .8 2 .3 2 0 2-.3 2-1 2-2.2 2-3.8 2-5.5 2-7.2 2-9.3 2-11.5 2-8.5 2 2.6 2 13.9 2 14.4 2 5 2-5 2-5.2 2 3.5 2 8.8 2 6.1 2 2 2 .2 2-.2 2-.2 2-.5 2-1.3 2-3 2-5.3 2-7.1 2-6.1 2-2 2 3.5 2 6.9 2 6.9 2 4.8 2 2.4 2 1.1 2 .5 2 .2 2 .2 2 .1 2 .1 2-.2 2-1.3 2-3.6 2-5.2 2-2.2 2 3.2 2 5.1 2 3.2 2 .9 2-.3 2-1.4 2-3.1 2-5.8 2-8.7 2-10.1 2-8 2-2.7 2 3.8 2 8.5 2 9.6 2 8 2 5 2 2.6 2 1.1 2 .4 2-.1 2-2.4 2-9.1 2-15.1 2-5.7 2 11.8 2 14.1 2 6.2 2 1.3 2 .3 2 .1 2 .1 2 .1 2-.1 2-.3 2-1.6 2-4.2 2-8.6 2-13 2-13.1 2-7.2 2 1.2 2 6.6 2 6.4 2 3.3 2 .8 2 .4 2 2 2 4.2 2 5.8 2 5.8 2 4 2 .7 2-3.2 2-5 2-1.7 2 3.6 2 5.4 2 3.4 2 .9 2-.1 2 .1 2 .3 2 .5 2 .3 2 .2 2-.1 2-.3 2-.9 2-2.8 2-6.3 2-10 2-8.9 2-1.1 2 6.7 2 8.8 2 6.3 2 3.4 2 1.8 2 .8 2 .4 2 0 2 0 2-.1 2-.1 2-.2 2-.6 2-1.5 2-2.9 2-4 2-3 2 .2 2 3.3 1.5 3.2M871.8 346.6l2-.3 2-.3 2-.2 2-.3 2-.4 2-.7 2-1.4 2-2.7 2-3.4 2-2.8 2-.8 2 1 2 1.5 2 1.2 2 1.1 2 1.2 2 1.4 2 1.3 2 .8 2 .3 2-.4 2-1.2 2-2.4 2-4.1 2-6.5 2-9.6 2-10 2-3.1 2 7.1 2 11.2 2 8.9 2 5.5 2 3.1 2 1.3 2-1.5 2-7.7 2-17.3 2-21.7 2-10.3 2 10.1 2 20.5 2 15.7 2 6.7 2 .6 2-2.1 2-2.4 2-.4 2 2.5 2 3.8 2 3.2 2 1.9 2 .9 2 .3 2 .1 2 .1 2 .1 2 .2 2 .1 2 0 2 .1 2-.2 2-.7 2-1.8 2-3.9 2-6.7 2-8.8 2-8.5 2-5.1 2 .6 2 5.6 2 8.2 2 8.1 2 6 2 3.2 2 .7 2-1.2 2-3 2-4.6 2-4.9 2-1.5 2 4 2 7 2 5.8 2 2.9 2 1.1 2 .3 2-.1 2-.7 2-2.9 2-8.5 2-19.9 2-36.2 2-46.7 2-35.1 2-.3 2 32.7 2 39.1 2 19.8 2-7.4 2-28 2-34.3 2-23.1 2 1.1 2 23.1 2 23.7 2 4.5 2 3.7 2 29.1 2 33.5 2 8.3 2-8.3 2 1.1 2 12.9 2 8.6 2 .7 2-2.7 2-3.2 2-2.5 2-.7 2 1.4 2 3.1 2 3.8 2 3.5 2 2.7 2 1.6 2 1 2 .5 2 .2 2 .1 2 0 2 0 2 0 2-.1 2 0 2-.1 2-.1 2 0 2-.1 2 0 2 0 2 0 2 .1 2 0 2 .1 2 .1 2 .1 2 .1 2 .1 2 .2 2 0 2 .1 2-.2 2-.6 2-1.1 2-1.3 2-1 2-.1 2 .8 2 .8 2-.9 2-4.1 2-5.3 2-1.2 2 4.3 2 5.4 2 3 2 .9 1.5 0M871.8 350.8l2-.4 2-1.1 2-1.9 2-3 2-3.6 2-3.5 2-2.3 2-.4 2 1.5 2 2.8 2 3.3 2 3.2 2 2.6 2 1.6 2 .6 2-.2 2-1 2-1.6 2-1.7 2-1.2 2-.4 2-.2 2-.5 2-.9 2-.7 2 .1 2 1.1 2 1.5 2 1.2 2 .4 2-.7 2-1.7 2-1.9 2-1.4 2-.4 2 .8 2 1.7 2 1.9 2 1.7 2 1.2 2 .7 2 .2 2 .1 2 0 2 0 2-.1 2 0 2 0 2 0 2 .1 2 0 2-.1 2-.9 2-2.9 2-5.5 2-5.5 2-.7 2 5.1 2 6.6 2 4.3 2 2 2 .8 2 .5 2 .5 2 .5 2 .4 2 .4 2 .4 2 .3 2 .1 2-.7 2-2.4 2-5.1 2-6.6 2-4.5 2 .7 2 4.4 2 4.1 2 1.7 2 .1 2-.1 2 .5 2 .6 2-.6 2-2.3 2-2.2 2 .8 2 2.7 2 1.9 2-.7 2-6 2-16.7 2-28.7 2-26 2-1.9 2 24.2 2 29.5 2 18.4 2 7 2 1.2 2-1.6 2-4.5 2-7.8 2-9.7 2-7.7 2-2.2 2 3.3 2 5.3 2 5.5 2 6.6 2 7.4 2 5.3 2 1.7 2-1.5 2-3.7 2-5.6 2-6.9 2-7.1 2-5 2-.2 2 5.6 2 8.8 2 8.2 2 5.3 2 2.5 2 1 2 .2 2 0 2-.3 2-.6 2-1.1 2-1.6 2-1.7 2-1.3 2-.4 2 .7 2 1.2 2 1.1 2 .2 2-.8 2-1.5 2-2 2-3.3 2-5.8 2-4.3 2 2.4 2 4 2-1.3 2-4.2 2-.7 2 3.9 2 5.5 2 4.7 2 3.2 2 1.8 2 .6 2 .2 2-.1 2-.2 2-.2 2-.4 2-1.2 2-3.5 2-5.8 2-4.9 2 .5 2 5.3 1.5 4.2M871.8 349.3l2-.2 2-.1 2-.2 2-.1 2-.1 2-.1 2 0 2-.1 2 0 2 0 2 .1 2 0 2 0 2 .1 2 0 2 0 2 0 2-.1 2-.1 2-.1 2-.1 2-.2 2-.2 2-.2 2-.3 2-.6 2-1.6 2-3.6 2-5.5 2-4.1 2-.1 2 2.1 2 .6 2-1.5 2-1.4 2 .2 2 2 2 2.7 2 2.3 2 .9 2-.4 2-.9 2-.5 2 .8 2 1.7 2 2.1 2 1.9 2 1.1 2 .3 2-1.4 2-4.4 2-8.7 2-11.8 2-10 2-2.8 2 5.9 2 10.9 2 10.5 2 6.9 2 3.3 2 1 2-.5 2-1.9 2-3.8 2-6.2 2-7.8 2-7.2 2-4 2 1.2 2 5.7 2 7.6 2 7 2 4.7 2 2.7 2 1.2 2 .5 2 .2 2 .2 2 0 2-.9 2-6.9 2-24.3 2-38 2-13.4 2 26.3 2 31.9 2 16.7 2 6.5 2 2.8 2 1.1 2 .1 2-1.4 2-3.8 2-6.8 2-8.5 2-8.7 2-9.2 2-9.9 2-7.6 2-.1 2 8.8 2 12.4 2 8.5 2-.1 2-8 2-10 2-3.5 2 6.2 2 11.7 2 12 2 9.3 2 5.9 2 2.4 2-.7 2-3.6 2-6 2-7.5 2-8.1 2-6.1 2-1.5 2 2.4 2 4 2 5 2 6.4 2 6.7 2 5.4 2 3.5 2 1.6 2 .5 2 0 2-.2 2-.3 2-.3 2-.5 2-1.1 2-2.4 2-3.8 2-4 2-1.9 2 1.6 2 4 2 4 2 2.6 2 1.3 2 .5 2 .3 2 .2 2 .2 2 .1 2 .1 2 .1 2-.1 2-1.4 2-4.9 2-9 2-7.3 2 1.8 2 8.7 2 7.3 2 3 2 .6 2-.1 2-.8 2-2.6 2-5.5 2-8.5 2-8.7 1.5-3.7M871.8 329.5l2-3.5 2-1.9 2 .8 2 3 2 4.2 2 4.1 2 3.2 2 2 2 1.3 2 .7 2 .5 2 .4 2 .4 2 .3 2 .2 2 0 2-.7 2-1.9 2-4 2-6 2-5.7 2-2 2 2.9 2 5.9 2 5.5 2 3.6 2 1.9 2 .7 2 .2 2 .2 2 .4 2 .6 2 .6 2 .4 2 .2 2 0 2-.1 2-.2 2-.2 2-.3 2-.3 2-.3 2-.2 2-.3 2-.3 2-.3 2-.2 2-.3 2-.2 2-.2 2-.1 2-.2 2 0 2-.1 2-.1 2-.1 2-.2 2-.9 2-1.6 2-2.3 2-1.9 2-.4 2 1.4 2 2 2 .5 2-3.1 2-7.5 2-10.1 2-7.4 2-1.2 2 2.9 2 .5 2-4.8 2-5.5 2 .6 2 7.7 2 9.6 2 6.8 2 3.9 2 2.6 2 2.2 2 .4 2-4 2-10.3 2-13.9 2-11.3 2-8.2 2-12.2 2-20.6 2-24.5 2-18.4 2-3.5 2 14.1 2 26.9 2 30.4 2 25.9 2 17.5 2 9.2 2 1.9 2-4.4 2-6.6 2-1.7 2 5.4 2 7.1 2 4.3 2 1.4 2 .3 2-.1 2 0 2 0 2 0 2 0 2-.1 2-.4 2-1 2-2.3 2-4.4 2-6.8 2-8.5 2-8.7 2-6.9 2-3.3 2 1.3 2 4.8 2 5.5 2 2.3 2-2.2 2-4.8 2-3.9 2 .2 2 4.8 2 7.9 2 8.6 2 7.6 2 5.6 2 3.5 2 2 2 .9 2 .5 2 .3 2 .2 2 .2 2 .1 2 .2 2 .2 2 .1 2 .2 2 .1 2-.1 2-.2 2-.9 2-1.9 2-3.2 2-4.2 2-4.1 2-2.8 2-.8 2 1 2 1.3 2 .1 2-1.5 2-1.2 2 1.3 2 3.4 2 2.2 2-1.9 2-3.6 1.5-.3M871.8 348.4l2-.2 2-.2 2-.2 2-.3 2-.3 2-.2 2-.3 2-.3 2-.3 2-.3 2-.2 2-.3 2-.2 2-.2 2-.2 2-.2 2-.1 2-.1 2-.3 2-.6 2-1.2 2-2.1 2-2.9 2-2.8 2-1.6 2 .5 2 2.1 2 2.8 2 2.4 2 1.6 2 .9 2 .5 2 .4 2 .2 2 .1 2 0 2 0 2-.1 2-.1 2-.1 2-.2 2-.1 2-.1 2-.3 2-.8 2-2 2-3.9 2-4.5 2-2.3 2 1.7 2 4.2 2 3.8 2 1.8 2-.2 2-1.7 2-3.6 2-5.9 2-7.3 2-5 2 .7 2 5.8 2 5.8 2-2 2-16.5 2-22.3 2-2.7 2 21.9 2 23.1 2 10.7 2 2.7 2 .5 2 .2 2 .1 2 0 2-.3 2-1.2 2-2.9 2-4.6 2-4.3 2-1.3 2 1.8 2 2.3 2 1.2 2 1.2 2 2.1 2 2.7 2 2.2 2 1.3 2 .4 2 .2 2-.1 2-.6 2-2.3 2-3.4 2-.7 2 2.8 2 2.5 2-.2 2-2.7 2-5.7 2-10 2-14.6 2-17.6 2-17.2 2-13.4 2-5.7 2 6.5 2 17 2 18.6 2 12.7 2 3.5 2-5.9 2-10.7 2-9 2-3.9 2 1 2 6.1 2 10.8 2 11.1 2 6.7 2 4.4 2 6.4 2 6.6 2 3.4 2 .4 2-.4 2-.2 2 .3 2 .3 2 0 2-.6 2-2 2-3.7 2-5.5 2-6.4 2-5.5 2-2.4 2 2.2 2 6.1 2 7.6 2 6.7 2 4.4 2 2.2 2 .8 2-.3 2-1.6 2-3.2 2-2.7 2 .4 2 3.1 2 2.8 2 1.3 2 .3 2 0 2 0 2 0 2-.2 2-1.3 2-4.5 2-7.9 2-5.2 2 3.6 2 7.9 2 5.1 2 1.6 2 .2 2-.1 1.5-.1M871.8 340.7l2-2.4 2-3.2 2-4.4 2-4.6 2-2.9 2 .6 2 3.9 2 5.6 2 5.1 2 3.5 2 1.8 2 .8 2 .2 2-.1 2-.1 2-.1 2-.1 2-.1 2-.1 2-.1 2 0 2 0 2 0 2 0 2 .1 2 0 2-.1 2-.5 2-1.6 2-3.6 2-6 2-7.4 2-6.4 2-2.9 2 1.6 2 5.4 2 7.8 2 7.8 2 5.4 2 2.8 2 1.1 2 .4 2 .3 2 .2 2 .2 2 .2 2 .1 2 .1 2 .1 2 .1 2 0 2-.1 2-.5 2-1.3 2-3.5 2-8.7 2-16.5 2-18.2 2-5.2 2 12.4 2 17.9 2 12.2 2 5.8 2 2.6 2 1 2 .2 2-.4 2-1.7 2-3.7 2-6 2-6.6 2-3.8 2 .6 2 3.8 2 4.1 2 2.6 2 .3 2-2.4 2-5.3 2-5.9 2-2.9 2 2.4 2 6.2 2 6.5 2 3.2 2-2.3 2-6.4 2-3.6 2 4.3 2 7.7 2 4.9 2 1.7 2 .6 2 .3 2 .4 2 .3 2 .3 2 .3 2 .3 2 .3 2 .3 2 .2 2 .2 2 .1 2 .1 2 .1 2 0 2-.1 2-.3 2-.6 2-1.2 2-2.5 2-5.9 2-10.8 2-11.9 2-3.8 2 8 2 11.7 2 6.4 2-1.2 2-4.5 2-.8 2 4.8 2 5.4 2 2.6 2 .6 2 0 2-.1 2-.2 2-.9 2-2.4 2-5.4 2-9.5 2-13.3 2-13.8 2-9.4 2-1 2 7.6 2 13.1 2 13.8 2 10.8 2 6.6 2 3.1 2 1.1 2 .3 2 .1 2 0 2-.1 2 0 2 0 2 0 2 0 2-.1 2-.3 2-.4 2-.9 2-1.7 2-2.6 2-3.3 2-2.5 2-.2 2 2.2 2 2.8 2 1.8 2 .4 2-.1 2-.2 1.5-.7M871.8 349l2 .3 2 .5 2 .5 2-.9 2-4.3 2-6.7 2-3.6 2 3 2 6.9 2 5.3 2 1.7 2-.8 2-1.7 2-1 2 .5 2 1.3 2 1.4 2 .7 2 .2 2 0 2-.4 2-.7 2-1.1 2-1.5 2-1.6 2-1.7 2-1.6 2-.5 2 1.9 2 2.9 2 1.4 2-1 2-2.9 2-4.5 2-6.4 2-8.7 2-9.2 2-5.7 2 1.4 2 8.1 2 9.8 2 5.1 2-1.8 2-4.4 2 0 2 6.7 2 9.2 2 6.7 2 3.1 2 .8 2 0 2-.3 2-.4 2-.3 2-.3 2-.4 2-.3 2-.3 2-.4 2-.9 2-3.6 2-7.1 2-4.5 2 3.5 2 4.7 2-1.7 2-6.4 2-5.8 2-2.8 2-1.6 2-1.1 2 2 2 6 2 7 2 4.9 2 2.1 2 .3 2-.1 2 .3 2 .8 2 .9 2 .7 2-.3 2-2.2 2-4.7 2-6.9 2-6.1 2-2 2 3.5 2 6.8 2 6.7 2 4.5 2 2.1 2 .8 2 .2 2 0 2-.1 2-.3 2-1 2-3.5 2-8.1 2-14.1 2-16.1 2-9.7 2 3.3 2 14 2 15.9 2 11.3 2 5.5 2 1.9 2 .6 2 0 2-.8 2-4 2-9.3 2-7.6 2 4.2 2 10.1 2 5.8 2 1.5 2 .2 2 0 2 0 2-.1 2-.3 2-.9 2-1.3 2-1.6 2-1.3 2-.5 2 .7 2 1.6 2 2.1 2 1.9 2 1.5 2 .9 2 .5 2 .3 2 .1 2 0 2-.1 2-.1 2-.3 2-1.5 2-6.7 2-15.5 2-14.8 2 3.1 2 16.6 2 12.1 2 3.7 2 .3 2-.3 2-.3 2-.4 2-.3 2-.2 2-.2 2-.2 2-.1 2-.2 2-.9 2-3.2 2-5 2-2.3 2 2.5 2 2.3 1.5-1.2M871.8 346.6l2-.2 2-.2 2-.2 2-.2 2-.2 2-.2 2-.1 2-.2 2-.1 2-.1 2-.1 2-.1 2 0 2-.1 2 0 2-.1 2 0 2 0 2 0 2-.1 2 0 2 0 2 0 2 0 2 0 2-.1 2 0 2 0 2 0 2 0 2 0 2-.1 2 0 2 .1 2 0 2 0 2 0 2 0 2-.3 2-1.6 2-3.1 2-2.5 2 1.4 2 3.3 2 1.3 2-3.2 2-6.1 2-3.2 2 1.3 2 .6 2-1.9 2-2.5 2-3.6 2-7.3 2-9.6 2-3.2 2 9.1 2 15.2 2 11.6 2 5.4 2 1.6 2 .4 2 .1 2 .1 2 0 2 0 2-1 2-4.7 2-10.9 2-10.7 2-4.7 2-6.3 2-10.3 2-4.9 2 5.6 2 11.2 2 10.8 2 9.1 2 8.1 2 5.9 2 2.9 2 1 2 .3 2 .1 2 .1 2 .1 2 0 2 .1 2-.1 2-.3 2-1.2 2-2.8 2-5.2 2-7.6 2-8.7 2-8.1 2-6.6 2-4.8 2-1.7 2 2.9 2 7.9 2 10.8 2 10.3 2 7.5 2 4.2 2 1.8 2 .6 2 0 2-.1 2-.2 2-.2 2-.2 2-.2 2-.1 2-.2 2-.1 2-.1 2-.2 2-.1 2-.2 2-.5 2-1.3 2-2.8 2-4.6 2-5.9 2-5.1 2-2 2 1.3 2 1.7 2-2.8 2-6.1 2-.9 2 8.6 2 11.1 2 6.5 2 1.7 2-.7 2-2.2 2-3.2 2-2.4 2-.1 2 2 2 1.8 2-1.5 2-6.9 2-13.1 2-15.9 2-11.9 2-1.6 2 7.3 2 7 2-1.1 2-7.8 2-5.2 2 4.6 2 11 2 8.8 2 3.1 2-3.8 2-10.9 2-11.4 2-3.1 2 7.2 2 11.7 2 10.8 2 8.6 2 6.6 1.5 3.8M871.8 343.8l2-1.7 2-2.4 2-4.5 2-5.8 2-3.7 2 1.8 2 7 2 8.3 2 6.2 2 3.3 2 1.3 2 .4 2 .1 2 .1 2 0 2 .1 2 0 2 0 2 0 2 .1 2 0 2 0 2 0 2 0 2 0 2 .1 2 0 2 0 2 0 2 .1 2 0 2 0 2 .1 2 0 2 .1 2 0 2 .1 2 .1 2 .1 2 0 2-.2 2-.8 2-1.1 2-.5 2 0 2-1.3 2-3.7 2-4.9 2-3.1 2 1.1 2 4.4 2 4.6 2 2.5 2-.9 2-5.6 2-10.2 2-10.1 2-5.6 2-5.4 2-9.1 2-1.1 2 13.4 2 15.2 2 9.2 2 4.6 2 2.5 2 1 2 .4 2 .1 2 0 2-.2 2-1 2-3.1 2-6.2 2-8.5 2-6.5 2-.2 2 5.9 2 6.1 2-2.2 2-16.8 2-28.7 2-25.6 2-8.1 2 7.9 2 14.9 2 14.9 2 8.9 2 0 2-1.4 2 7.5 2 13.4 2 2.8 2-20.7 2-39.6 2-33.9 2-1.1 2 32.7 2 42.2 2 29.4 2 13.3 2 4 2 .6 2-.4 2-.9 2-1.7 2-2.6 2-3.2 2-3.3 2-2.1 2-.2 2 1.6 2 2 2 .6 2-2.2 2-5 2-5.9 2-3.8 2 .5 2 4.8 2 6.9 2 6.1 2 3.9 2 1.1 2-1.5 2-4 2-6.1 2-7 2-6.1 2-2.9 2 1.4 2 4.9 2 6.3 2 5.3 2 3.1 2 1.7 2 1.6 2 1.5 2-.1 2-2.6 2-4.8 2-5.6 2-4 2-.5 2 2.8 2 4 2 2.3 2-1.3 2-4.6 2-5.5 2-4.2 2-3.8 2-5 2-2.1 2 7.3 2 13.4 2 10.2 2 4.6 2 1.9 2 1.4 2 1.4 2 1 2 .7 2 .3 2 .1 2 0 2 0 1.5 0M871.8 346.2l2-.3 2-1.2 2-4.6 2-8.1 2-4.2 2 4.4 2 5.8 2 1.2 2-1.9 2-2.3 2-1.7 2-.5 2 .7 2 1.7 2 2.4 2 2.6 2 2.3 2 1.7 2 .8 2-.7 2-3.2 2-3.2 2 1.2 2 3.6 2 1.5 2-1.5 2-3.8 2-5.5 2-6 2-4.1 2-.4 2 3.4 2 4.7 2 2.4 2-2.2 2-4.5 2-1.8 2 1.9 2 3.5 2 3.9 2 1.7 2-4 2-9.5 2-11.4 2-8.6 2-1.9 2 5.7 2 10.7 2 11.4 2 8.9 2 5.4 2 2.6 2 .9 2-.9 2-3.9 2-7.6 2-6.3 2 1.9 2 7.9 2 6.3 2 2.4 2 .5 2 0 2 .1 2 0 2 0 2-.3 2-1.4 2-4 2-6.2 2-4.8 2 .1 2 3.3 2 2.4 2 .9 2 1 2 2 2 2.8 2 2.8 2 2.2 2 1.1 2-.1 2-1.8 2-3.7 2-5.1 2-4.8 2-2.7 2-.3 2-.4 2-4 2-7 2-3.8 2 5.2 2 11.7 2 10.8 2 6.2 2 2.2 2 .4 2-.4 2-1.5 2-2.1 2-.9 2 1.2 2 1.4 2 .3 2-1.1 2-2.2 2-3.6 2-4.7 2-5.1 2-4 2-2.6 2-1.3 2 1.9 2 6.4 2 6.5 2 2.7 2-.8 2-1.9 2-1.2 2 0 2 1.2 2 2.2 2 2.5 2 2 2 1.3 2 .5 2 .1 2-.1 2-.1 2-.1 2-.1 2-.1 2 0 2 0 2 0 2-.1 2-1.5 2-5.9 2-10.7 2-4.9 2 7.8 2 10.4 2 4.9 2 1.2 2 .3 2 .2 2 .1 2 .1 2 .1 2 0 2 0 2 0 2 0 2-.1 2 0 2-.1 2-.1 2-.1 2-.1 2-.1 2-.2 2-.4 2-.5 2-.7 2-.8 2-.7 1.5-.2M871.8 335.2l2-4.3 2-2.7 2-1.6 2-3 2-5.8 2-6.9 2-4.4 2 1 2 6.1 2 8.8 2 8.4 2 6 2 3.4 2 1.6 2 .6 2 .3 2 .1 2 .2 2 .1 2 .3 2 .2 2 .3 2 .3 2 .4 2 .3 2-.2 2-1.8 2-4.8 2-6 2-2.6 2 1.4 2 .4 2-3.5 2-4.5 2-2.2 2 1.1 2 3.1 2 3.2 2 2.3 2 1.9 2 2.2 2 2.8 2 3.2 2 3 2 2.1 2 1.1 2 .4 2 0 2-.2 2-.3 2-.3 2-.4 2-.3 2-.3 2-.4 2-.3 2-.3 2-.2 2-.3 2-.2 2-.2 2-.1 2-.1 2-.1 2-.1 2 0 2 0 2 .1 2 0 2 0 2 .1 2 0 2-.1 2-.6 2-1.8 2-4.2 2-8.1 2-13.6 2-19.6 2-24 2-22.9 2-11 2 10.3 2 26.9 2 25.1 2 8.7 2-8 2-12.4 2-2.1 2 11.8 2 17 2 13.4 2 7.7 2 3.5 2 .8 2-1.1 2-2.8 2-4.3 2-5.9 2-8.3 2-11.6 2-14.9 2-15.8 2-11.3 2-2.2 2 7.8 2 14.1 2 15.4 2 12.8 2 8.9 2 4.8 2 1.1 2-.7 2 .3 2 2.7 2 3.7 2 3.5 2 3.1 2 2.2 2 1.4 2 .7 2 .2 2-.2 2-.7 2-1.7 2-3.1 2-4.7 2-5.7 2-5.2 2-3 2 0 2 2.7 2 4.4 2 4.4 2 3.6 2 2.1 2 .8 2 .2 2 .4 2 .8 2 1.2 2 1 2 .3 2-.9 2-1.6 2-1.4 2-.4 2 1.2 2 2.2 2 2.3 2 1.8 2 1 2 .5 2 .2 2 .1 2 0 2 0 2 .1 2 0 2 0 2-.1 2 0 2 0 2-.1 2 0 2-.1 2 0 1.5-.1M871.8 342.3l2-3 2-.9 2 1.4 2 2.5 2 2.3 2 2 2 1.8 2 1.6 2 1.1 2 0 2-2.4 2-5.5 2-7.2 2-6.1 2-3.8 2-4.1 2-7.2 2-7.8 2-1.6 2 8.4 2 14 2 12.6 2 8.2 2 4.4 2 2.2 2 1 2 .3 2 0 2 0 2 0 2-.2 2-.2 2-.2 2-.4 2-.6 2-1.3 2-2.4 2-4 2-5.3 2-4.9 2-2.5 2 1.1 2 3.7 2 4.1 2 2.2 2-.8 2-3.5 2-4.7 2-3.6 2-.5 2 2.9 2 4.8 2 4.7 2 3.4 2 1.9 2 1 2 .4 2 .3 2 .2 2 .2 2 0 2-.5 2-1.5 2-3 2-4.8 2-5.6 2-4.6 2-1.4 2 2.4 2 5.4 2 6.1 2 5 2 3.2 2 1.6 2 .7 2 .1 2-.5 2-1.7 2-4.2 2-7.8 2-10.4 2-9.2 2-2.8 2 5.3 2 9.9 2 9.4 2 6.1 2 2.8 2 1 2 .2 2-.5 2-1.5 2-3.9 2-8.1 2-13.6 2-17.5 2-17.1 2-11.3 2-2.2 2 5.9 2 10.6 2 11.6 2 9.7 2 6.5 2 3.2 2 .9 2-1.5 2-4.6 2-3.6 2 5.5 2 13.4 2 12.1 2 5.7 2 .5 2-2.8 2-6.3 2-10.2 2-12.4 2-10.6 2-4.3 2 4 2 10.4 2 12 2 9.9 2 6.3 2 3.3 2 1.3 2 .3 2-1 2-4.6 2-11 2-15.9 2-10.7 2 4.2 2 14.8 2 13.4 2 7.5 2 3.1 2 1 2 .2 2 0 2 0 2 .1 2 0 2 0 2 .1 2 0 2 .1 2 0 2 0 2 0 2-.2 2-.4 2-1 2-2.1 2-4.6 2-8.9 2-11.6 2-7.6 2-1 2 1.2 2 1.2 2 2.5 2 4.8 2 6.7 2 6.4 2 4.4 1.5 1.6M871.8 349.4l2-.5 2-.4 2-.4 2-.4 2-1.3 2-3.5 2-8 2-12.3 2-12.7 2-6.9 2 1.5 2 7.6 2 10 2 9.6 2 7.8 2 5.1 2 2.6 2 1 2-.5 2-1.3 2-1.7 2-1.1 2 .1 2 0 2-1.9 2-3.8 2-3.1 2 .4 2 3.9 2 4.8 2 3 2 .7 2-.8 2-1.2 2-.8 2 .1 2 .8 2 1.3 2 1.1 2 .7 2-.1 2-1.4 2-3.9 2-6.9 2-7.7 2-4.2 2 2.3 2 6.9 2 7 2 4.3 2 1.7 2 .3 2-.2 2-.5 2-1.7 2-4.1 2-7.4 2-8.6 2-5 2 1 2 2.8 2-1.4 2-7 2-7.8 2-2.6 2 5 2 10.2 2 10.7 2 8 2 4.5 2 2.2 2 .9 2 .4 2 .3 2 .3 2 .3 2 .3 2 .3 2 .3 2 .3 2 .2 2 .2 2 .2 2 .2 2 .1 2 .1 2 .1 2-.2 2-.5 2-1.3 2-2.4 2-4 2-7.2 2-13.4 2-19.4 2-16.7 2-3.8 2 4.1 2-4.6 2-17.1 2-10.4 2 12.1 2 26.5 2 22.3 2 12.6 2 8.3 2 6.6 2 3.4 2-.8 2-3.6 2-4.4 2-3 2-.1 2 2.9 2 4.3 2 3.9 2 2.6 2 1.3 2 .5 2 .1 2-.1 2 0 2-.1 2-.1 2 0 2-.1 2 0 2 0 2 0 2-.1 2 0 2 0 2 0 2-.1 2 0 2-.1 2 0 2-.2 2-.5 2-1.2 2-2.7 2-4.2 2-4.7 2-3.1 2-.4 2 2 2 3.1 2 3 2 2.6 2 1.9 2 1.1 2 .4 2 0 2-.3 2-.5 2-.9 2-1.2 2-1.3 2-1 2-.5 2 .4 2 1 2 1.4 2 1.3 2 .6 2-.4 2-1.8 1.5-1.9M871.8 348.7l2 0 2-.4 2-1.2 2-2.4 2-3.7 2-6 2-8.6 2-4.7 2 4 2 5.6 2 .8 2-2.6 2 .5 2 7.2 2 7.3 2 2.8 2 .3 2-.2 2-.3 2-.2 2-.3 2-.2 2-.2 2-.2 2-.2 2-.1 2-.1 2 0 2-.1 2 .1 2 0 2 .1 2 .1 2 .2 2 .2 2 .2 2 .2 2 .2 2 .3 2 .3 2 .3 2 .3 2 .3 2 .4 2 .2 2 .3 2 0 2-.3 2-.8 2-1.6 2-2.5 2-3.3 2-4.3 2-5.3 2-5.2 2-2.8 2 1.6 2 5.5 2 7 2 5.8 2 3.5 2 1.5 2 .3 2-.1 2-.3 2-.3 2-.4 2-.4 2-.5 2-.9 2-1.5 2-2.3 2-2.8 2-2.3 2-1.8 2-3.1 2-8.1 2-9.9 2-1 2 8.6 2 5.7 2-3.9 2-10 2-10.1 2-5.8 2 1.2 2 7.6 2 10.9 2 10.1 2 5.9 2-.3 2-7.3 2-14 2-18.7 2-17.7 2-9.3 2 4.2 2 15.9 2 20.4 2 17.7 2 12.1 2 6.9 2 3.5 2 1 2-2 2-8 2-12.8 2-7.7 2 4.3 2 9.2 2 6.1 2 2.4 2 .3 2-.2 2 .2 2 1 2 1.3 2 1.5 2 .2 2-3.3 2-7.9 2-9.1 2-3.5 2 5 2 8.9 2 7.3 2 3.8 2 1.3 2 .2 2-.5 2-1.3 2-3.2 2-5.3 2-5.4 2-2.3 2 2.6 2 5.4 2 4.8 2 2.7 2 .9 2-.2 2-1.4 2-3 2-4.5 2-4.3 2-1.3 2 2.5 2 4.6 2 4.1 2 2.5 2 1.1 2 .4 2 .1 2 .1 2 .1 2 .1 2 .1 2 .1 2 .1 2 .1 2 .1 2 0 2 .1 2 0 2 0 2 0 2-.1 1.5 0M871.8 302.2l2 7 2 9.4 2 7.8 2 4.2 2 2.1 2 2.1 2 2.9 2 3.1 2 2.4 2 1.5 2 .8 2 .4 2 .2 2 .2 2 .1 2 0 2-.1 2-.4 2-.9 2-1.5 2-1.7 2-1.5 2-.4 2 .7 2 1.4 2 1.6 2 1 2 .5 2-.1 2-.2 2-.2 2 0 2 .2 2 .4 2 .2 2 .2 2 0 2-.3 2-.6 2-.9 2-1.2 2-1.3 2-.9 2-.1 2 .6 2 1 2 1.1 2 .5 2-.4 2-1.3 2-1.5 2-.5 2 .7 2 1.4 2 1.1 2 .6 2 0 2-.2 2-.2 2-.4 2-.8 2-1.5 2-3.2 2-5.7 2-8.3 2-10.1 2-12.2 2-16.1 2-18.1 2-10.2 2 7.1 2 21.6 2 23.9 2 17.4 2 9.4 2 3.8 2 1.3 2 .3 2 .1 2 .1 2 .1 2-.3 2-1.7 2-5 2-8.1 2-5.7 2 2.7 2 8.3 2 6.9 2 3.2 2 .9 2 .3 2 .2 2 .2 2 .2 2 .2 2 .2 2 .2 2 .2 2 0 2-.2 2-.7 2-1.7 2-2.8 2-3.9 2-4.3 2-3.4 2-1.3 2 1.4 2 3.5 2 4.4 2 3.6 2 1.2 2-2 2-3.2 2 0 2 3 2 2.3 2 .7 2 .2 2 .5 2 .8 2 .9 2 .6 2 .4 2 .2 2 .1 2 0 2 0 2 .1 2 0 2 0 2-.5 2-1.7 2-4.6 2-8.5 2-11.1 2-9.4 2-4 2 2.8 2 7.6 2 8.7 2 7.5 2 5.4 2 2.4 2-.7 2-2.8 2-2.5 2 0 2 2.2 2 2.8 2 1.5 2-.2 2-1.7 2-2.4 2-1.8 2 .2 2 2.7 2 3.9 2 3.3 2 1.9 2 .8 2 .3 2 0 2 .1 2 0 2 0 1.5.1M871.8 323.7l2-11.8 2-6.6 2 1.1 2 4.9 2 3.3 2 .3 2 .5 2 3.4 2 5.8 2 4.2 2-2.5 2-7.6 2-2 2 8.9 2 12 2 7.5 2 2.5 2-.4 2-1.9 2-2.4 2-2 2-1 2 .5 2 1.7 2 2.3 2 2.4 2 2 2 1.7 2 1.4 2 1.1 2 .6 2 .2 2-.2 2-.8 2-1.6 2-2.5 2-2.8 2-1.8 2 .3 2 1.6 2 1.7 2 1 2 .8 2 1.1 2 1.3 2 .8 2 .1 2-.2 2-.8 2-2.1 2-5.5 2-10.3 2-12.8 2-8.1 2 2.3 2 10.1 2 10.7 2 7.1 2 3.7 2 1.7 2 .7 2-.8 2-6 2-16.9 2-19.6 2 .8 2 20.1 2 16.2 2 5.4 2 .7 2-.2 2-.2 2 0 2 .3 2 .5 2 .6 2 .6 2 .5 2 .2 2-.2 2-.8 2-1.4 2-1.8 2-1.7 2-.7 2 .6 2 1.6 2 1.7 2 .2 2-3.9 2-11 2-19.8 2-24.4 2-17.9 2-.7 2 17 2 24.6 2 20.9 2 12.5 2 5.8 2 2 2 .5 2 .1 2-.1 2-.1 2-.1 2 0 2-.1 2 0 2 0 2-.1 2-.3 2-1.4 2-4.9 2-9.9 2-11.1 2-3.4 2 7.5 2 11.1 2 7 2 2.1 2-.3 2-.6 2-.2 2 .4 2 .9 2 .9 2 .6 2 .4 2 .1 2-.1 2-.2 2-.3 2-.3 2-.3 2-.2 2-.3 2-.2 2-.2 2-.2 2-.2 2-.1 2-.1 2 0 2 0 2 0 2-.3 2-1.2 2-2.7 2-4.4 2-4.2 2-1.1 2 2.8 2 5 2 4.3 2 2.5 2 1.1 2 .4 2 .2 2 .1 2 .1 2 0 2 0 2 0 2 0 2-.1 2 0 1.5-.1M871.8 333.7l2 .6 2 2 2 2.4 2 1 2-1.8 2-5.8 2-9.7 2-11 2-7.6 2-.5 2 6.1 2 7 2 1.6 2-5.3 2-6.7 2-1.6 2 5.6 2 10.6 2 11 2 7.9 2 4.3 2 1.8 2 .7 2 .2 2-.4 2-1.1 2-1.8 2-2.2 2-2.1 2-1.4 2 .1 2 2.4 2 3.8 2 3.1 2 1.7 2 .6 2 .3 2 .1 2-.1 2-.3 2-.6 2-.9 2-1.5 2-2.9 2-3.9 2-1.2 2 2.7 2 2.3 2-1.1 2-3.9 2-5 2-3.8 2 .2 2 4.4 2 6.1 2 4.6 2 2.4 2 .6 2-.4 2-1.7 2-2.5 2-.7 2 1.8 2 1.9 2 .7 2 .1 2-.1 2-.1 2-.1 2-.1 2 0 2-.1 2 0 2 0 2 0 2-.2 2-.6 2-2.6 2-7 2-13.2 2-17.3 2-14.5 2-8.3 2-8.6 2-17 2-22.6 2-13.1 2 9.8 2 26.7 2 20.6 2 5.4 2 4.2 2 8.7 2 4.7 2-.2 2 2.1 2 8.3 2 12.3 2 11.3 2 7.2 2 3.4 2 1.2 2 .2 2 0 2-.1 2-.1 2-.2 2-.3 2-.6 2-1.1 2-2.2 2-3.5 2-4.6 2-4.9 2-3.6 2-.8 2 2.2 2 4.3 2 4.8 2 4.1 2 2.8 2 1.5 2 .7 2 .3 2 .2 2 0 2 0 2 0 2 0 2-.1 2-.1 2-.2 2-.9 2-2.7 2-6.6 2-10.7 2-9.4 2-.9 2 7.5 2 9.5 2 6.8 2 3.5 2 1.3 2 .3 2 0 2 0 2-.1 2 0 2 0 2 0 2 .1 2 0 2 .1 2 .1 2 .1 2 .2 2 0 2-.3 2-1.7 2-4.7 2-7 2-4.1 2 3 2 7.1 2 5.3 2 1.7 2-.3 1.5-.1M871.8 347.7l2 0 2 0 2 0 2 0 2 0 2 0 2 .1 2 0 2 0 2-.2 2-.4 2-1.1 2-2.2 2-3.3 2-4.2 2-3.7 2-1.9 2 .7 2 3.2 2 4.2 2 3.8 2 2.8 2 1.5 2 .7 2 .2 2 0 2-.2 2-.2 2-.4 2-1.3 2-3.3 2-7 2-10.8 2-11.6 2-6.5 2 2.6 2 9.8 2 11.3 2 8.3 2 4.3 2 1.6 2 .4 2 0 2-.1 2-.1 2-.2 2-.5 2-1.1 2-2.1 2-3 2-2.9 2-1.6 2-.2 2-.8 2-4.1 2-5.8 2-1.8 2 5.5 2 8.8 2 6.4 2 2.9 2 .9 2 .2 2 .1 2 0 2 .1 2 0 2 .1 2 0 2 .1 2 0 2 .1 2 .1 2 0 2-.4 2-1.8 2-4.1 2-3.3 2 1.6 2 4.4 2 3.1 2 .9 2 .1 2-.4 2-.8 2-1.6 2-3.2 2-7.3 2-15 2-22.8 2-20.7 2-2.7 2 19.5 2 27.1 2 18.5 2 7.5 2 1.7 2-.6 2-3.5 2-10.7 2-21.3 2-26.1 2-15.4 2 4.2 2 16 2 15.4 2 11.4 2 9.2 2 7.7 2 5.4 2 2.9 2 .4 2-3.5 2-7.6 2-5.3 2 3.7 2 7.7 2 4.1 2-.3 2-3.2 2-6 2-8.4 2-8.6 2-5.4 2 .5 2 6 2 8.8 2 7.8 2 4 2-1.8 2-8.2 2-13 2-12 2-4 2 6.6 2 13 2 12.3 2 7.5 2 2.5 2-.4 2-1.4 2-1.3 2-.3 2 .7 2 .4 2-1.8 2-3.2 2 .6 2 4 2 1.7 2-.8 2-1.1 2-2.9 2-6.8 2-7.3 2-3.4 2-.8 2-1.8 2-2.3 2-1.4 2-.9 2-2.2 2-6.7 2-9.9 2-.4 2 16.1 2 19.6 1.5 9.7M871.8 347.4l2 .1 2 .1 2 .2 2 .1 2 .2 2 .2 2 .1 2 .2 2 .2 2 .1 2 .1 2 .1 2 .1 2 .1 2 0 2 0 2-.1 2 0 2-.2 2-.3 2-.6 2-1 2-1.4 2-1.8 2-2.3 2-4.2 2-7.9 2-9.5 2-3.7 2 5.4 2 9.6 2 7.9 2 4.6 2 2.1 2 .6 2 .1 2-.6 2-3.1 2-10 2-18.3 2-14.9 2 3.6 2 18.2 2 16.1 2 7.2 2 1.9 2 .3 2-.3 2-.7 2-1.1 2-1 2-.8 2-2.6 2-9.8 2-18.5 2-14.1 2 6.2 2 19.5 2 14.9 2 5.4 2 .3 2-1.8 2-3.7 2-6.4 2-9 2-10 2-7.6 2-1.6 2 5.1 2 9.3 2 9.5 2 7.4 2 4.7 2 2.5 2 1.2 2 .4 2-.1 2-.5 2-1.4 2-2.9 2-4.4 2-4.9 2-3.4 2 0 2 3.2 2 4.8 2 4.3 2 2.7 2 .5 2-1.6 2-3.6 2-4.1 2-1.8 2 1.9 2 4.1 2 3.8 2 2.3 2 .9 2 .4 2 .2 2 .1 2 .2 2 .1 2 .1 2 0 2-.4 2-.9 2-1.7 2-2.6 2-3.7 2-6.2 2-9.9 2-9.7 2-.1 2 10.8 2 11.3 2 5.4 2 2.6 2 2.7 2 .2 2-4 2-7.5 2-9 2-8.9 2-9.5 2-6.7 2 5.6 2 16.7 2 14.3 2 6.7 2 1.5 2-1.9 2-5.3 2-8 2-7.9 2-3.4 2 3.5 2 8.7 2 9.3 2 6.8 2 3.5 2 1.5 2 .4 2 0 2-.1 2-.4 2-1.2 2-4.1 2-9.7 2-15.4 2-15.6 2-7.5 2 3.3 2 10.4 2 12 2 9.8 2 6.6 2 4.2 2 2.3 2 1 2 .3 2 0 2-.1 2-.1 2 0 2 0 2 0 1.5.1M871.8 352.3l2 0 2-.6 2-3 2-7.9 2-11.5 2-8.1 2-.4 2 2.7 2 .6 2 .1 2 2.8 2 5.6 2 6 2 4.4 2 2.8 2 1.7 2 1.7 2 1.7 2 1.5 2 .3 2-2.5 2-7.4 2-9.5 2-3.3 2 5.5 2 4.4 2-5.1 2-5.5 2 5.8 2 10.2 2 5 2 .5 2-.5 2-.5 2-.4 2-.6 2-.5 2-.5 2-1.2 2-3.6 2-7.2 2-9.9 2-9.3 2-4.5 2 2 2 5.9 2 4.7 2 1.4 2 2 2 6.8 2 9.1 2 6.1 2 2.5 2 .6 2 .1 2 .1 2 0 2 0 2-.1 2-.2 2-.5 2-1 2-1.7 2-2.4 2-2.9 2-2.5 2-1.4 2 .2 2 1.8 2 2.7 2 2.7 2 2.1 2 1.4 2 .6 2 .3 2 .1 2-.1 2-.1 2-.1 2-.1 2-.1 2-.2 2-.5 2-1.2 2-2.7 2-4.8 2-6.3 2-5.7 2-2.4 2 2.5 2 5.8 2 6.4 2 4.9 2 2.8 2 1.3 2 .3 2-.5 2-1.7 2-4.1 2-7.5 2-10.8 2-12.4 2-10.3 2-4.7 2 1.5 2 5.3 2 5.5 2 3.8 2 3 2 4 2 6.1 2 7.4 2 7 2 5.3 2 3.1 2 .9 2-1.5 2-4.1 2-6.7 2-7.9 2-6.3 2-2 2 3.4 2 7.2 2 8.1 2 6.6 2 4.2 2 2.3 2 0 2 0 2 0 2 0 2-1.4 2-3.8 2-6.3 2-8 2-7 2-2.4 2 4.4 2 8.3 2 7.6 2 4.4 2 1.9 2 .5 2-.1 2-.2 2-.3 2-.5 2-1.2 2-2.6 2-4.5 2-4.3 2-1 2 2 2 2.5 2 1.7 2 1.3 2 1.3 2 .9 2 .3 2-.5 2-1.1 2-1.3 2-.9 2-.2 2 .7 2 1.2 1.5.7M871.8 350l2 .2 2 .2 2 .3 2 .2 2 .2 2 .2 2 .2 2 .2 2 .1 2 .2 2 .1 2 .1 2 0 2 0 2 0 2 0 2-.1 2-.1 2-.1 2-.2 2-.2 2-.2 2-.4 2-.9 2-2.1 2-4.4 2-6.7 2-6.8 2-3.2 2 2.4 2 6.2 2 6.5 2 4.3 2 1.8 2 .2 2-.7 2-1.3 2-1.6 2-1.6 2-1.2 2-1.4 2-3.1 2-6.5 2-10.4 2-14 2-18.8 2-22.3 2-16.3 2 .3 2 17.3 2 26.1 2 25.3 2 17.9 2 9.5 2 3.6 2 1.1 2 .3 2 .2 2 .1 2 .1 2 .1 2 .1 2 .1 2 .1 2 .1 2 .1 2 .1 2 0 2 .1 2 0 2-.2 2-.5 2-1.1 2-1.7 2-2.2 2-3 2-2.9 2-.1 2 3.2 2 4.2 2 2.8 2 1.2 2 .4 2 .2 2 0 2 .1 2 .1 2 .1 2 .1 2 0 2 0 2-.3 2-1.5 2-4.2 2-8.5 2-13.2 2-13.9 2-8.4 2 1.3 2 8.5 2 8.6 2 3.5 2-2.2 2-5.5 2-7 2-8.4 2-10.2 2-10.9 2-8.4 2-2.2 2 5.5 2 11.4 2 13.5 2 11.4 2 8.8 2 8.4 2 7.2 2 2.7 2-1.7 2-2.8 2-1.7 2-.6 2-.5 2-.3 2 1.5 2 4.1 2 5.7 2 5.5 2 3.9 2 2.1 2 .9 2 .2 2-.5 2-1.5 2-3 2-4.5 2-5.1 2-4 2-1.5 2 1.2 2 .9 2-1.9 2-.7 2 5.8 2 6 2-1.6 2-6 2-1.2 2 4.1 2 1.4 2-4.9 2-3.7 2 4.6 2 7.7 2 4.3 2 1.7 2 .5 2-.2 2-1.3 2-3.8 2-6.6 2-7.5 2-3.9 2 2.6 2 6.8 2 6.6 2 3.9 1.5 1.2M871.8 350.2l2 0 2 .1 2 0 2 0 2 0 2 0 2-.1 2-.1 2-.1 2-.2 2-.2 2-.2 2-.4 2-.8 2-1.4 2-1.6 2-1.2 2-.1 2 .9 2 1.1 2 .7 2 .2 2-.1 2-.2 2-.4 2-.8 2-1.4 2-2.1 2-2 2-1 2 .7 2 1.6 2 1.3 2 0 2-1.4 2-2.4 2-2.4 2-1.3 2 .6 2 2.2 2 2.7 2 2.4 2 1.6 2 .9 2 .4 2 .3 2 .1 2 .2 2 0 2-.5 2-2.7 2-8 2-13.8 2-11.7 2 1 2 12.2 2 12.2 2 5.6 2 .9 2-1.5 2-3.5 2-3.1 2 .7 2 4.5 2 4.9 2 3.2 2 1.2 2 .3 2-.5 2-2 2-4.1 2-6.1 2-7.3 2-6 2 .9 2 9.7 2 9.5 2 3.2 2-2.3 2-7.6 2-13.9 2-18.9 2-17.9 2-8.6 2 4.8 2 15 2 17.8 2 14.4 2 9.2 2 5 2 2.2 2 .3 2-1.6 2-4.7 2-10.2 2-16.7 2-18.8 2-12.2 2-.9 2 6.1 2 6.1 2 4.6 2 5.4 2 7.9 2 10.1 2 10 2 8.1 2 5.4 2 3 2 1.3 2 .4 2-.1 2-.2 2-.4 2-.4 2-.5 2-.8 2-1.3 2-2.5 2-4.5 2-7.2 2-9 2-7.8 2-2.4 2 3.7 2 5.9 2 3 2-.4 2 .1 2 3.5 2 4.7 2 3.1 2 1.5 2 .9 2 1.2 2 1.5 2 1.6 2 1.1 2 .2 2-1.4 2-3.1 2-4.5 2-4.2 2-1.7 2 1.9 2 4.4 2 4.6 2 3.3 2 1.4 2 0 2-.6 2-.6 2-.2 2 .4 2 .9 2 1.1 2 .8 2 .6 2 .4 2 .2 2 0 2 0 2-.3 2-.5 2-.9 2-1.4 2-1.8 1.5-1.3M871.8 333.3l2-2.9 2-2.8 2-4.4 2-8.2 2-10.6 2-7.5 2 1.8 2 11.1 2 14.5 2 11.4 2 6.3 2 2.5 2 .4 2-.6 2-1.6 2-3.1 2-5.1 2-7.5 2-6.6 2-.1 2 7.5 2 8.8 2 5.1 2 1.4 2-.1 2-.3 2-.1 2 .3 2 .5 2 .6 2 .5 2 .3 2 .1 2 .1 2 0 2-.1 2-.1 2-.3 2-.4 2-.6 2-.9 2-2 2-5.1 2-10.3 2-12.8 2-6.3 2 6 2 12.9 2 10.8 2 5.2 2 1.6 2 .3 2 0 2 0 2-.3 2-.9 2-2.9 2-6.5 2-11.3 2-13.6 2-9.7 2-.1 2 9 2 11.8 2 8.5 2 3.8 2 1.3 2 1.6 2 2.6 2 3.4 2 3.1 2 2.3 2 1 2-.9 2-5.7 2-10.7 2-6.6 2 6 2 10.6 2 5.9 2 1.4 2 0 2-.3 2-.6 2-2 2-5.3 2-8.3 2-5.7 2 2.5 2 7.9 2 6.3 2 1.9 2-1.4 2-4 2-6.5 2-7.9 2-7 2-3.5 2 1.7 2 5.2 2 3.9 2-3.4 2-11.9 2-11 2 2.5 2 15.7 2 17.1 2 10 2 2.8 2-1.7 2-4.7 2-5.5 2-3.1 2-.4 2-1.1 2-4.9 2-7.7 2-6.6 2-2.6 2 1.7 2 3.4 2 2.1 2 .1 2 .1 2 2.6 2 4.7 2 4 2 .1 2-5 2-7.9 2-6.8 2-1.9 2 4.4 2 9.1 2 10.2 2 8.6 2 5.7 2 3.1 2 1.6 2 .7 2 .4 2 .3 2 .2 2 .3 2 .2 2 .3 2 .2 2 .2 2 .2 2 .1 2 .1 2 0 2-.2 2-.5 2-1.7 2-4.5 2-8 2-8.4 2-3 2 4.3 2 6.6 2 2.5 2-2.2 2-2.5 2 1.1 2 4.2 2 4.4 1.5 2M871.8 348.4l2-.3 2-.4 2-.9 2-1.8 2-3 2-3.8 2-2.9 2-1.3 2-.7 2-1.7 2-2.1 2-.2 2 2.7 2 4.5 2 3.8 2 2.1 2 .5 2-.8 2-1.8 2-3.3 2-5.8 2-8.1 2-8.9 2-6.7 2-2.3 2 2.2 2 5.6 2 7.5 2 7.5 2 5.9 2 3.9 2 1.9 2 .1 2-1.8 2-4.2 2-7.6 2-11.1 2-9.9 2-.5 2 10.1 2 12.3 2 8.4 2 4.1 2 .8 2-2.7 2-6.9 2-8.2 2-3.4 2 3.6 2 5 2-.9 2-7.9 2-10 2-5.8 2 1.2 2 6.7 2 8.2 2 6.1 2 1.8 2-3.6 2-8.4 2-10.7 2-10.4 2-8 2-4.5 2 .8 2 6.2 2 8.2 2 5.2 2 1.9 2 3.2 2 8.4 2 11.5 2 9.5 2 5.1 2 1 2-4.6 2-12.8 2-16.4 2-4.9 2 12.1 2 16.3 2 9.1 2 2.7 2 .2 2-.9 2-1.9 2-3.3 2-4.8 2-5.7 2-5.1 2-2.8 2 .6 2 3.7 2 5.5 2 5.6 2 4.2 2 2.1 2 .1 2-1 2-.6 2 .7 2 1.6 2 1.5 2 .9 2 .2 2 0 2-.2 2-.2 2-.2 2-.2 2-.2 2-.2 2-.2 2-.1 2-.2 2-.1 2-.2 2-.1 2-.1 2 0 2-.1 2 0 2-.1 2 0 2 0 2-.1 2-.2 2-.3 2-.5 2-.4 2-.4 2-.4 2-1.5 2-3.5 2-3.4 2 .4 2 4 2 3.2 2-.3 2-3.8 2-5.2 2-3.6 2 .5 2 3.5 2 3 2 .7 2-.7 2 0 2 1.9 2 3.2 2 3.2 2 2.4 2 1.3 2 .8 2 .5 2 .3 2 0 2-.4 2-1.7 2-3.4 2-5.4 2-5.9 2-4 2 0 2 4.1 2 6 1.5 4.2M871.8 336.2l2 4.4 2 7.5 2 3.9 2 .8 2-.3 2-1.4 2-2.9 2-4.7 2-5.8 2-5.7 2-3.9 2-1.3 2 .3 2-.4 2-2.4 2-2.5 2 .4 2 4.8 2 7.5 2 7.8 2 5.8 2 3.4 2 1.6 2 .5 2 .1 2-.1 2-.1 2-.1 2-.2 2-.1 2-.2 2-.2 2-.1 2-.2 2-.2 2-.2 2-.5 2-.7 2-1.1 2-1.7 2-2.2 2-2.7 2-3.6 2-5.4 2-7.6 2-9.4 2-9.5 2-7.2 2-3 2 1 2-.4 2-6.7 2-3.8 2 13.4 2 23.9 2 16.6 2 6.1 2 1.1 2-.1 2-.8 2-1.9 2-3.9 2-6 2-6.8 2-5.4 2-3.6 2-5.3 2-5.7 2 4.2 2 15.2 2 13.2 2 5 2-.9 2-4.3 2-6.8 2-7 2-4.6 2-1.5 2-.3 2-1.8 2-5.4 2-9.6 2-5.2 2 10.8 2 19.9 2 14.3 2 5.8 2 1.9 2 .7 2 .3 2 .1 2 .2 2 .1 2 .1 2 0 2 0 2 0 2-.2 2-.8 2-2.2 2-5.3 2-9.6 2-12.5 2-10.6 2-2.9 2 6.4 2 11.8 2 11.2 2 7.3 2 3.4 2 1 2 .1 2-.6 2-1 2-.8 2 .3 2 .9 2 .6 2 .2 2 0 2 .1 2 .1 2 0 2 0 2-.2 2-.5 2-.6 2-.4 2 .1 2 .6 2 .9 2 .9 2 .5 2 0 2-1.1 2-2.8 2-4.6 2-5.3 2-3.3 2 .6 2 4 2 4.8 2 3.1 2 1.2 2 .6 2 .9 2 .5 2 0 2-.2 2-.2 2-.3 2-.2 2-.2 2-.1 2-.1 2-.1 2-.1 2-.4 2-.8 2-1.6 2-2.7 2-4 2-4.7 2-4.3 2-2.2 2 .8 2 3.4 1.5 3.5M871.8 337.4l2-.3 2-3.1 2-3.4 2 .2 2 4.3 2 5.4 2 3.7 2 1.8 2 .8 2 .4 2 .1 2-.4 2-1.5 2-3.5 2-5.1 2-4.8 2-1.6 2 2.8 2 5.4 2 5.3 2 3.5 2 1.6 2 .3 2-.3 2-.7 2-1.1 2-1.3 2-1.1 2-.5 2 .1 2 .7 2 .9 2 .8 2 .5 2 .2 2-.1 2-.7 2-1.6 2-3.1 2-4.9 2-5.3 2-3.8 2-.6 2 2.5 2 4 2 4 2 3.2 2 2.3 2 1.3 2 .6 2 .3 2 0 2-.2 2-.5 2-1.1 2-2.3 2-3.9 2-5.7 2-6.4 2-5.2 2-1.9 2 2.1 2 5.5 2 6.7 2 6 2 4.3 2 2.5 2 1.4 2 .6 2 .2 2 0 2-.6 2-1.2 2-2 2-2.6 2-2.5 2-1.5 2 .2 2 1.8 2 2.7 2 2.3 2 .9 2-2 2-7.9 2-15.3 2-16.5 2-4.9 2 11.6 2 17.5 2 12.5 2 5.6 2 1.8 2 .1 2-2.4 2-9 2-19.1 2-22.5 2-14 2-7.8 2-2.7 2 15.7 2 27.4 2 15.8 2 0 2-6.5 2-5.9 2-2.3 2 2.5 2 6.2 2 7.5 2 6.6 2 4.7 2 2.6 2 1.2 2 .4 2 0 2-.1 2-.2 2-.2 2-.2 2-.4 2-.8 2-1.6 2-2.7 2-3.4 2-3.2 2-1.7 2 .7 2 2.6 2 3.3 2 2.6 2 .7 2-2.1 2-5.5 2-8.6 2-10 2-9.7 2-6.4 2 1.4 2 11 2 14.3 2 10.2 2 4.9 2 1.8 2 .5 2-.1 2-.4 2-.7 2-1.2 2-1.6 2-1.6 2-1 2-.1 2 1 2 1.8 2 1.9 2 1.8 2 1.2 2 .8 2 0 2-1.1 2-2.3 2-2.2 2-1.3 2-1.7 2-3.8 2-5.6 1.5-3.7M871.8 345.4l2-.2 2-.3 2-.5 2-.5 2-.3 2 .1 2 .4 2 .7 2 .7 2 .6 2 .4 2 .3 2 .3 2 .2 2 .1 2 .2 2 .2 2 .1 2 .2 2 .1 2 .1 2 .2 2 .1 2 .1 2 .1 2 .1 2 .1 2 0 2-.4 2-1.9 2-4.4 2-5.7 2-4.7 2-3.9 2-2.8 2 .2 2 3.5 2 5.4 2 5.3 2 4.2 2 2.5 2 1.2 2 .5 2 .1 2-.1 2-.1 2-.2 2-.9 2-2.3 2-3.4 2-1.6 2 1.9 2 1.5 2-2.3 2-6.1 2-6.2 2-2.6 2-1.4 2-8 2-15.8 2-11.6 2 .8 2 8.5 2 11.9 2 13.2 2 11.6 2 7.7 2 3.9 2 1.6 2 .6 2 .3 2 .2 2 .1 2 .2 2 0 2-.1 2-.2 2-.5 2-.5 2-.3 2-.1 2 .3 2 .4 2 .1 2-1.9 2-6.4 2-12.9 2-16.9 2-12.7 2-2.3 2 6.2 2 8.1 2 6.6 2 5.5 2 5 2 3.6 2 1.2 2-1 2-2.9 2-6.1 2-13.6 2-24.9 2-33.5 2-28.6 2-7.8 2 16.4 2 28.8 2 27.7 2 21.2 2 15.6 2 10.7 2 6.4 2 3 2 1.1 2 .2 2 0 2 0 2 0 2 0 2 0 2-.1 2-.1 2-.5 2-1.9 2-5.2 2-8.8 2-6.6 2 1.1 2 5.5 2 5.2 2 4.4 2 3.5 2 2.3 2 1.3 2 .6 2 .2 2 .2 2 .2 2 .1 2 .2 2 .2 2 .1 2 .1 2-.3 2-1.3 2-2 2-1.1 2 .9 2 2.3 2 1.8 2 .6 2-.3 2-1.1 2-1.6 2-2 2-1.6 2-.6 2 .7 2 1.7 2 1.8 2 .8 2-1.9 2-5 2-4.6 2-1.1 2 .3 2-.3 1.5-.2M871.8 350.7l2 0 2 0 2 .1 2 0 2 .2 2 .1 2 .2 2 .2 2 .2 2 .3 2 .2 2 0 2-.7 2-2.4 2-5.1 2-6 2-3.2 2 2.2 2 5.5 2 5.2 2 3.2 2 1.7 2 .9 2 .1 2-1.9 2-7.3 2-12.3 2-5.5 2 8.5 2 11.6 2 5.6 2 1.3 2 0 2 0 2-.1 2-.2 2-.1 2-.1 2-.2 2-.1 2-.2 2-.2 2-.2 2-.2 2-.2 2-.2 2-.1 2-.2 2-.2 2-.1 2-.1 2-.1 2 0 2 0 2 0 2 .1 2 .2 2 .1 2 .2 2 .2 2 .3 2 .2 2 .3 2 .3 2 .2 2 .3 2 .2 2 .1 2-.2 2-.7 2-2.2 2-4.7 2-7.5 2-9.2 2-8.2 2-4.8 2-.6 2 3.3 2 6.5 2 8.5 2 8 2 5.4 2 2.8 2 .9 2 .2 2-.1 2-.1 2-.2 2-.6 2-1.8 2-6.7 2-20.7 2-39.9 2-38.8 2-7.2 2 19 2 22.1 2 21.8 2 20.9 2 15.2 2 8.7 2 4.4 2 1.2 2-.9 2-1.4 2-.3 2 1.2 2 1.9 2 1.5 2 .8 2 .2 2-.4 2-1.7 2-4.4 2-5.6 2-2.7 2 1.9 2 4.9 2 5 2 2.8 2 .6 2-.6 2-1.7 2-2.7 2-3.7 2-3.8 2-2.9 2-1.4 2-.8 2-2.4 2-3.1 2 .7 2 4.4 2 3.1 2-.4 2-2.4 2-2.8 2-.6 2 3.3 2 5.7 2 5.2 2 2.6 2 .5 2-1.3 2-3 2-4.9 2-6.4 2-7 2-6.4 2-3.7 2 2.4 2 8.7 2 9.1 2 4.2 2-2 2-5.4 2-4.5 2 .3 2 5.2 2 6.8 2 5.1 2 2.6 2 1.1 2 .1 2-.8 2-2.2 2-4 1.5-3.6M871.8 347l2 .1 2 .1 2 .1 2 .1 2 .1 2 0 2-.5 2-2.3 2-6.2 2-8.6 2-4 2 4.8 2 8.2 2 5.6 2 2.5 2 1.2 2 .7 2 .4 2 .2 2 0 2-.2 2-.4 2-.4 2 .1 2 .4 2 .5 2 .4 2 .1 2-.2 2-.5 2-1.3 2-2.3 2-3.6 2-4.3 2-3.3 2-.8 2 2.2 2 4.1 2 4.2 2 2.8 2 .5 2-3.6 2-8.4 2-7.7 2 1.3 2 8.9 2 7.7 2 3.2 2 .7 2 .1 2-.4 2-1.2 2-2.8 2-4 2-3.4 2-.4 2 3 2 4.1 2 2.9 2 1.4 2 .3 2 0 2-.3 2-.2 2-.3 2-.5 2-.9 2-2.5 2-5.9 2-11.5 2-15.9 2-14.5 2-7.3 2 .8 2 6.8 2 12.2 2 14.7 2 11.6 2 6.1 2 2.2 2 .6 2 .2 2 .2 2 .1 2 .2 2 .2 2 .2 2-.2 2-1.7 2-5.9 2-14.2 2-22.2 2-18 2 2.3 2 21.3 2 22.7 2 12.4 2 3.1 2-2.5 2-6.9 2-11.4 2-14 2-15 2-18.8 2-26 2-17.4 2 11.9 2 28.8 2 22.1 2 10.8 2 2 2-4.7 2-6.9 2-3.9 2 1.7 2 5.9 2 6.5 2 4.2 2 2.5 2 4.3 2 7.8 2 8.6 2 5.5 2 1.7 2 .7 2 1.7 2 2.6 2 2.3 2 1.3 2 .4 2 .1 2 0 2-.2 2-.1 2-.2 2-.3 2-.2 2-.3 2-.3 2-.3 2-.3 2-.3 2-.3 2-.3 2-.2 2-.3 2-.2 2-.1 2-.2 2-.1 2-.1 2 0 2-.1 2 0 2-.1 2-.3 2-1.1 2-3.2 2-7 2-11.4 2-12.5 2-8 2-.6 2 5 2 7.8 2 8.8 2 8.2 1.5 5M871.8 340.8l2-2.6 2 .6 2 3 2 3.3 2 1.9 2-.2 2-2 2-3.2 2-3.6 2-2.2 2 .2 2 2.3 2 2.6 2 .2 2-4.3 2-9.1 2-12.4 2-14.5 2-11.5 2 3.7 2 18.6 2 15.5 2 3.8 2-1.7 2-.2 2 3.3 2 5.4 2 5.5 2 4 2 2.3 2 1.1 2 .5 2 0 2-.6 2-1.3 2-2.3 2-3.2 2-3.4 2-2.5 2-.6 2 1.4 2 2.8 2 2.8 2 1.1 2-2.3 2-7.1 2-11 2-11 2-5 2 4 2 10.5 2 11.3 2 8.1 2 4.1 2 1.2 2-.6 2-3 2-6.8 2-11.7 2-14.7 2-12.3 2-3.6 2 7.2 2 13.8 2 13.8 2 9.6 2 5 2 2 2 .7 2 .2 2 0 2-.2 2-.6 2-1.2 2-2.1 2-2.5 2-2.5 2-1.6 2-.8 2-.7 2-1.6 2-2.8 2-3.4 2-2.4 2 0 2 2 2 2.1 2 0 2-4.2 2-9.2 2-14.5 2-18.2 2-18.2 2-12 2-.7 2 7.1 2 2.8 2-4.7 2 6.4 2 29 2 32.3 2 16.3 2 1.5 2-5.2 2-7.3 2-7.1 2-4.5 2 .2 2 3 2-1.9 2-8.6 2-2.8 2 11.7 2 16.2 2 9.5 2 3 2 .4 2-.2 2-1 2-2.6 2-5.6 2-9.4 2-11.3 2-9 2-3.3 2 .2 2-3.2 2-10.5 2-11.5 2-1 2 12.8 2 17.6 2 10.3 2-.6 2-3.7 2 3.6 2 11 2 10.7 2 5.9 2 2 2 .4 2 0 2 0 2-.1 2 0 2 0 2 0 2 0 2 0 2 .1 2 0 2 .1 2 .2 2 .1 2 .2 2 .1 2 .2 2 .2 2 .2 2 .2 2 .2 2 .2 2 .1 2 .1 2 .2 2 0 2 .1 1.5 0M871.8 350.8l2-.5 2-.9 2-1.7 2-3 2-4.9 2-7 2-7.1 2-2.5 2 4 2 6.3 2 4.7 2 2.5 2 1 2 .7 2-1 2-6.3 2-12.2 2-10.7 2-.1 2 9.5 2 9.6 2 4.2 2 1.3 2 2.3 2 3.9 2 3.9 2 2.7 2 1.4 2 .5 2 0 2-.9 2-2.4 2-2.3 2-1.7 2-6 2-14.2 2-18.1 2-10.5 2 4.6 2 15.2 2 14.8 2 8.3 2 3 2 1.2 2 1.5 2 2 2 2 2 1.6 2 .8 2 0 2-1.3 2-3.7 2-7.4 2-10.8 2-11.5 2-7.2 2 .7 2 8 2 11.3 2 9.9 2 6.8 2 3.7 2 1.5 2 .3 2-.7 2-1.9 2-3.4 2-5.9 2-9.3 2-12.1 2-12.1 2-6.7 2 2.4 2 10.8 2 14 2 11.9 2 7.4 2 3.4 2 1.2 2 .3 2 0 2-.1 2-.1 2-.1 2-.1 2 0 2 0 2-.1 2-.2 2-.5 2-1.1 2-1.7 2-2.3 2-2.1 2-1.2 2 .6 2 2 2 2.8 2 2.7 2 2.1 2 1.3 2 .9 2 .5 2 .3 2 .3 2 .3 2 .2 2 .2 2 .2 2 .2 2 .1 2-.1 2-.5 2-1.6 2-3.5 2-4.7 2-3.9 2-1.2 2 .6 2-1 2-5.5 2-9.7 2-11.6 2-8.8 2-1.1 2 8.8 2 14.7 2 13.5 2 7.4 2-.4 2-7.5 2-9.8 2-3.8 2 5.8 2 9.4 2 5.7 2 .8 2-.9 2-.4 2 .1 2 1.1 2 2.2 2 1.2 2-.7 2-1.2 2-.2 2 1.1 2 1.7 2 1.2 2 .5 2-.2 2-.6 2-1.4 2-2.3 2-3.5 2-4.4 2-4.2 2-2.9 2-.4 2 1.9 2 3.5 2 3.8 2 3 2 2 2 1 2 .4 2 .1 1.5-.1M871.8 343.7l2-2.1 2-3.3 2-2.8 2-.5 2 1.8 2 2.3 2 1.6 2 1.1 2 1 2 1 2 .7 2 .6 2 .3 2 .3 2 .3 2 .2 2 .3 2 .3 2 .3 2 .3 2 .2 2 0 2-.8 2-2.2 2-3.3 2-2.3 2 .1 2 .9 2 .4 2 .8 2 1.8 2 2.1 2 1.3 2 .5 2 .3 2 0 2-.5 2-1.3 2-1.7 2-.9 2 .7 2 1.8 2 1.6 2 .9 2 .3 2 0 2-.1 2 0 2-.1 2 0 2 .1 2 0 2 .1 2 .1 2 .2 2 .1 2 .2 2 0 2-.5 2-2.2 2-5.4 2-7.1 2-3.6 2 2.9 2 5.4 2 1.4 2-4.4 2-8 2-8.6 2-6.6 2-2.9 2 1.6 2 6.3 2 8.9 2 8.9 2 6.6 2 3.8 2 1.7 2 .5 2-.1 2-.2 2-.4 2-.8 2-1.9 2-3.1 2-3 2-.4 2 2.2 2 2.8 2 1.7 2 .5 2 0 2 0 2 0 2 0 2 0 2 .1 2 .1 2 .1 2 .1 2 .2 2 .1 2 .2 2 .2 2 .2 2 .1 2-.8 2-5.8 2-17.7 2-22.7 2-2.8 2 18.1 2 14.2 2 2.2 2-3.4 2-4.7 2-4.4 2-1.2 2 4 2 7.2 2 5.4 2-.8 2-6.8 2-8.6 2-6.9 2-4.5 2-.4 2 5.1 2 9.2 2 9.5 2 6.3 2 2.1 2-.6 2-.8 2 .5 2 2 2 2.7 2 2 2 .6 2-.7 2-1.4 2-1.3 2-.4 2 .5 2 1.3 2 1.4 2 1.2 2 .6 2 .3 2 .1 2-.1 2 0 2-.1 2-.1 2-.3 2-.6 2-1.8 2-3.9 2-6.5 2-7.5 2-7.8 2-8.5 2-4.9 2 3.5 2 10.2 2 10.4 2 6.6 1.5 2.4M871.8 349.5l2-6.5 2-11.3 2-13.2 2-7.7 2 3.2 2 11.5 2 12.5 2 8.3 2 3.8 2 1.2 2 .3 2 .1 2 .1 2 .2 2 .1 2 .2 2 .1 2 .2 2 .2 2 .2 2 .2 2 .2 2 .2 2 .3 2 .2 2 .2 2 .1 2-.1 2-.9 2-2.1 2-3.3 2-3.1 2-.8 2 2.2 2 3.2 2 1.4 2-2.5 2-6.5 2-8.1 2-5.7 2-1.2 2 2.8 2 4.7 2 5.4 2 5.3 2 4.5 2 3.2 2 1.8 2 .8 2 .2 2-.1 2-.2 2-.3 2-.3 2-.2 2-.3 2-.3 2-.2 2-.4 2-.7 2-1.9 2-4 2-7 2-9.1 2-7.9 2-2.6 2 3.9 2 7.7 2 5.7 2-1.3 2-8.8 2-12.9 2-13.2 2-8.9 2 0 2 7.7 2 9.2 2 7.9 2 8.8 2 10.3 2 8.8 2 5 2 1.9 2 .6 2 .2 2 .2 2 .2 2 .2 2 .2 2 .2 2 .2 2 .2 2 .1 2 .2 2 .1 2 0 2 .1 2-.1 2-.1 2-.1 2-.5 2-1.1 2-2.7 2-5 2-7.9 2-9.2 2-7.6 2-2.5 2 3.5 2 7 2 6.6 2 3.1 2-.7 2-2.8 2-2.3 2 .1 2 2.9 2 4.2 2 4.2 2 3 2 1.9 2 1 2 .6 2 .2 2 .2 2 0 2-.5 2-2 2-6 2-13.1 2-19.7 2-16.7 2-1.8 2 14 2 18.9 2 13.6 2 6.4 2 1.4 2-1.6 2-4.6 2-7.2 2-6.4 2-.1 2 7.5 2 9.5 2 6.4 2 2.8 2 .8 2 .1 2-.4 2-1.2 2-2.1 2-2.4 2-1.2 2 .7 2 2.1 2 2.2 2 1.4 2 .5 2 0 2-.4 2-1 2-2.1 2-3.5 2-4.3 2-4.1 2-3 1.5-1.2M871.8 317.8l2-4.3 2 2.9 2 4.6 2 2.5 2 3 2 6.4 2 7.9 2 5.9 2 2.8 2 .8 2 .1 2-.1 2-.2 2-.1 2-.1 2-.1 2-.2 2-.1 2-.1 2-.4 2-1.1 2-2.9 2-5.1 2-6.1 2-4.8 2-3.3 2-3.2 2-2.4 2 .2 2 3.4 2 4.8 2 3.7 2 1.4 2 .3 2 1.1 2 2.8 2 3.5 2 2.6 2 .4 2-2.3 2-5.8 2-11.7 2-15.1 2-3.5 2 14.2 2 15.1 2 2 2-5.3 2 .7 2 8.8 2 8.6 2 3.9 2 1 2 .3 2 0 2 0 2 .1 2-.1 2 0 2-.1 2-.1 2-.5 2-1.3 2-3.6 2-7.4 2-11.3 2-12 2-6.7 2 2.7 2 10.2 2 12 2 9 2 4.9 2 1.9 2 .5 2 .1 2-.1 2-.1 2-.1 2-.5 2-2 2-6.2 2-12.1 2-11.5 2-1.2 2 8.5 2 10 2 7.1 2 4.1 2 1.8 2 .6 2-.1 2-1 2-4.1 2-12.4 2-27.4 2-42.2 2-40.4 2-13.4 2 23.5 2 43.6 2 38.8 2 22.5 2 8.7 2-.6 2-9.5 2-14.8 2-5.3 2 11.2 2 14.5 2 7.3 2 1.5 2-.8 2-2.6 2-4 2-3.8 2-1.2 2 2.3 2 4.2 2 3.4 2 1.3 2-1.2 2-3.7 2-5.4 2-6 2-6.1 2-7.1 2-7.9 2-5.5 2 2.2 2 10.8 2 13.9 2 10.8 2 5.7 2 2.2 2 .7 2 .1 2-.1 2-.6 2-1 2-1.4 2-1.3 2-.4 2 .5 2 1.3 2 1.3 2 .9 2 .1 2-1.4 2-4.1 2-6.1 2-3.4 2 2.7 2 5.6 2 2.7 2-4 2-9.7 2-6.6 2 4.6 2 10.1 2 6.4 2 2 2 .3 2 0 2 0 2 0 2 .1 1.5 0M871.8 340.5l2 .2 2-.4 2-.6 2-.6 2-1 2-1.6 2-.5 2 2.4 2 4.5 2 3.8 2 2 2 .6 2 .2 2-.1 2-.1 2-.1 2-.2 2-.2 2-.3 2-.2 2-.5 2-1 2-1.6 2-1 2-.1 2-1.6 2-5.2 2-5.3 2-1.7 2-.4 2 .5 2 3.7 2 5.8 2 4.6 2 2.3 2 .3 2-2.1 2-4.4 2-3.5 2 1.6 2 4.9 2 3.8 2 1.5 2 .5 2 .1 2 0 2-.3 2-2 2-4.5 2-3.8 2 1 2 2.4 2-.3 2-2.5 2-2.7 2-2.2 2-2.8 2-5.4 2-8.9 2-10.2 2-8.1 2-1.9 2 9.9 2 17.6 2 13.7 2 6.1 2 1.7 2 .3 2-.2 2-.2 2-.2 2-.2 2-.2 2-.1 2-.1 2 0 2 0 2 0 2 .1 2 .2 2 .2 2 .2 2 .3 2 .3 2 .2 2 .1 2-.7 2-3.2 2-8.8 2-17.8 2-28.4 2-36.2 2-36 2-18.3 2 14.9 2 40 2 41 2 28.3 2 15.7 2 7.6 2 2.9 2 1 2 .1 2 0 2 0 2-.1 2 0 2 0 2-.1 2 0 2 0 2 0 2 .1 2 0 2 0 2-.1 2 0 2 0 2 0 2-.1 2-.1 2-.1 2-.4 2-.6 2-1 2-1.6 2-1.9 2-1.7 2-1 2 .1 2 1.3 2 1.8 2 1.8 2 1.3 2 .9 2 .5 2 .1 2 .1 2 0 2-.3 2-1.3 2-3.3 2-3.5 2 .2 2 2.5 2 .4 2-2.2 2-2.6 2-1.1 2 1 2 2.4 2 2.2 2 .9 2-1.1 2-3 2-4.2 2-4.4 2-2.9 2-.5 2 1.4 2 1.2 2-1.3 2-3.8 2-3.3 2 .1 2 3.7 2 5.2 1.5 3.5M871.8 346.4l2 4.3 2 1 2-.2 2-.3 2-.4 2-.7 2-1.5 2-3.3 2-5.3 2-5.9 2-4.2 2-.4 2 3.4 2 5.1 2 4.2 2 1.9 2 .4 2-.2 2 0 2 .6 2 .9 2 .8 2 .7 2 .5 2 .4 2 .3 2 .3 2 .3 2 .3 2 .3 2 .3 2 .3 2 .2 2 .3 2 .2 2 .1 2 .2 2 .1 2 .1 2 0 2-.1 2-.2 2-.6 2-1.3 2-2.6 2-4.5 2-6.4 2-7.9 2-10.8 2-16.1 2-14.9 2 2.5 2 15.1 2 3.1 2-8 2 5.2 2 20.7 2 16.8 2 6.3 2 1.3 2 .2 2 .1 2 .1 2 .1 2 0 2 0 2-.3 2-1.5 2-3.7 2-6 2-5.7 2-1.7 2 2.9 2 1.1 2-10.1 2-16.5 2-2.2 2 14.8 2 12.5 2 3.4 2-.2 2-2.1 2-6.8 2-11.7 2-12.4 2-10.3 2-9.5 2-8.2 2-1 2 10.8 2 19.8 2 20.8 2 15.3 2 8.4 2 3.4 2 1.1 2 .3 2 0 2-.1 2-.1 2-.2 2-.1 2-.2 2-.3 2-.6 2-1.5 2-3.5 2-6.6 2-9.4 2-9.7 2-5.9 2 .4 2 6.1 2 8.6 2 8.1 2 5.7 2 3.1 2 1.2 2 .1 2-.1 2-.1 2-.4 2-1 2-1.4 2-1.2 2-.4 2 .5 2-.1 2-5.4 2-13.8 2-12.5 2 4.3 2 16.3 2 12.1 2 4.2 2 .8 2 .1 2 0 2 0 2 .1 2 0 2 .1 2 .1 2 .1 2 .1 2 0 2 .1 2 .1 2 0 2-.1 2-.5 2-1.2 2-2.6 2-3.8 2-4 2-2.5 2 .3 2 3 2 4.2 2 3.8 2 2.4 2 .8 2-1.4 2-3.2 2-2.7 2-.8 2 0 1.5.4M871.8 349l2-1 2-2.5 2-4.3 2-5.2 2-3.6 2 .1 2 3.8 2 4.6 2 1.7 2-2.3 2-1.8 2 3 2 4.6 2 2.2 2 .6 2 0 2 0 2 0 2 0 2 0 2 0 2 0 2 .1 2 0 2 .1 2 0 2 .1 2 0 2-.2 2-.5 2-1.5 2-3.2 2-5.5 2-7.7 2-7.8 2-4 2 2.9 2 8.4 2 9.1 2 6.1 2 2.9 2 .9 2 .2 2 0 2-.1 2-.2 2-.6 2-.9 2-1.2 2-1.4 2-1.4 2-1.6 2-2 2-1.6 2-.4 2 1.4 2 2.8 2 3.1 2 2.6 2 1.7 2 .5 2-1.2 2-3.8 2-6.3 2-5.8 2-1 2 4.6 2 6.7 2 4.9 2 1.9 2-1.6 2-8.3 2-16.9 2-16.7 2-1.8 2 10 2 5.1 2-1.2 2 0 2-5.2 2-20.2 2-30.1 2-23.8 2-7.3 2 6.4 2 14.5 2 21.1 2 25 2 22.3 2 11.9 2-3.1 2-9.8 2 1.9 2 14.5 2 11.6 2 4.2 2 .9 2 .4 2 .2 2 .1 2-.4 2-1.7 2-3.7 2-4.6 2-2.2 2 2.1 2 4.5 2 3.9 2 1.9 2 .5 2 .1 2-.2 2-.2 2-.2 2-.3 2-.5 2-.9 2-1.5 2-2.3 2-2.9 2-2.9 2-2.1 2-.5 2 1.3 2 2.5 2 2.7 2 2.3 2 1.5 2 .8 2 .4 2 .1 2-.1 2-.5 2-3 2-10.2 2-17.9 2-11.9 2 6.5 2 14.8 2 9.1 2 4 2 3.3 2 2.9 2 1.7 2 .2 2-1.6 2-4 2-5 2-1.6 2 3.2 2 4.1 2 1.8 2-.3 2-.8 2-.2 2 .6 2 1.2 2 1.1 2 .1 2-1.7 2-3.3 2-2.5 2-.1 2 1.8 2 1.3 2 0 2-.5 1.5.1M871.8 347l2 0 2-.1 2-.4 2-1.2 2-2.5 2-4.4 2-5.9 2-6.3 2-4.8 2-2.2 2 .5 2 2.6 2 4 2 4.9 2 5.2 2 4.6 2 3.4 2 2.1 2 1.1 2 .3 2-.4 2-1.1 2-2.6 2-4.8 2-7.4 2-8.6 2-7 2-2.9 2 .4 2 .5 2-1.7 2-3.8 2-3.2 2 .7 2 5.5 2 8.8 2 9.1 2 7.2 2 4.5 2 2.3 2 .8 2 .1 2-.2 2-.2 2-.3 2-.2 2-.3 2-.2 2-.2 2-.2 2-.5 2-1.6 2-4.1 2-7.2 2-7.6 2-4.1 2-1.6 2-4.9 2-9.9 2-8 2 1.7 2 11.5 2 14.7 2 11.3 2 6.3 2 2.9 2 1.2 2 .6 2 .3 2 .3 2 .2 2 .2 2 .2 2 .1 2 .1 2-.3 2-1.9 2-5.7 2-11.3 2-13.8 2-10.1 2-8.5 2-20.2 2-24.3 2 8.4 2 40.5 2 32.8 2 12.3 2 2.6 2 .3 2 .1 2 0 2 .1 2 .1 2 .1 2 .1 2 .1 2 .1 2 .2 2 .1 2 .1 2 0 2-1.7 2-7.2 2-14.1 2-8.9 2 5.1 2 7.5 2 1.5 2-1.5 2-1.7 2-2.8 2-4.5 2-4.8 2-1.9 2 3.3 2 7.7 2 9.1 2 7.4 2 4.5 2 2.1 2 .6 2 .1 2-.2 2-.2 2-.2 2-.2 2-.2 2-.2 2-.1 2-.2 2-.1 2-.1 2 0 2-.1 2 0 2 0 2 0 2 0 2 .1 2 0 2-.1 2-.2 2-.7 2-1.2 2-1.9 2-2.5 2-2.4 2-1.9 2-1 2-.8 2-1.4 2-2.5 2-2.7 2-1.4 2 1.2 2 3.1 2 3.4 2 1.8 2-.1 2-1.3 2-1.2 2-.2 2 .4 2 1 2 2.2 2 3.8 1.5 3.2M871.8 321.1l2 3.9 2 4.9 2 5.3 2 5 2 4 2 2.6 2 1.5 2 .6 2 .2 2 0 2-.2 2-.2 2-.5 2-.9 2-1.5 2-1.7 2-2 2-2.8 2-5.8 2-8 2-3.1 2 6.6 2 9.1 2 3.5 2-2.1 2-3.9 2-1.9 2 1.7 2 3.6 2 2.9 2 .6 2-1.6 2-2.6 2-2.6 2-1.3 2 .4 2 2 2 2.7 2 2.6 2 1.8 2 1.1 2 .5 2 .1 2-.1 2-.7 2-1.5 2-2.6 2-3.4 2-4.3 2-6 2-8.2 2-5.8 2 3.4 2 11.4 2 10.9 2 5.7 2 1.8 2-.2 2-1.3 2-2.3 2-2.2 2-.7 2 1 2 1.2 2-.3 2-2.6 2-4.7 2-6.6 2-8.5 2-9.7 2-9.1 2-5.9 2-.7 2 4.6 2 8.2 2 9.2 2 8.5 2 7.5 2 6.2 2 4.9 2 3.2 2 1 2-2.1 2-7.5 2-16.8 2-29.3 2-34.4 2-19.9 2 1.9 2 13 2 19.5 2 25.1 2 22.4 2 13.1 2 5 2-.6 2-5.5 2-8.5 2-7.3 2-1.6 2 5.3 2 9.3 2 8.7 2 5.9 2 2.8 2 1.1 2 .4 2 .1 2 0 2 .1 2 0 2 .1 2 .1 2 .1 2 .1 2 .1 2 0 2 .1 2 0 2 0 2-.1 2-.1 2-.5 2-1.4 2-2.4 2-2.1 2-1.5 2-3 2-5.3 2-7.2 2-8.3 2-8.3 2-5.8 2-.2 2 6.1 2 10.1 2 10.3 2 7.8 2 4.5 2 2.1 2 .8 2 .2 2 .1 2 .1 2 .1 2 .1 2 .2 2 .2 2 .2 2 .2 2 .2 2 .3 2 .2 2 .3 2 .2 2 .2 2 .2 2 .2 2 .1 2 0 2-.1 2-.5 2-.9 2-.9 2-.4 2 .4 2 .8 1.5.6M871.8 336.1l2 6.5 2 3.4 2 1.1 2 .1 2-.3 2-.4 2-.4 2-.3 2-.4 2-.7 2-1.4 2-2.8 2-2.8 2-1.7 2-3.3 2-6.6 2-6.8 2-7.8 2-11 2-11.1 2-5.4 2 3.8 2 11.5 2 14 2 12 2 8.2 2 4.6 2 2.2 2 1 2 .4 2 .1 2-.3 2-.7 2-1.7 2-2.9 2-4.5 2-6.2 2-7.3 2-6.9 2-3.8 2 1.4 2 5.8 2 7.2 2 5.1 2 1.4 2-1 2-.8 2 1.7 2 3.8 2 3.8 2 1 2-2 2-1.2 2 2.8 2 4.8 2 3.6 2 1.4 2 .3 2-.1 2-.1 2-.1 2-.1 2-.1 2-.2 2-.1 2-.1 2-.2 2-.1 2-.1 2-.1 2-.1 2-.1 2-.1 2-.1 2 0 2 0 2 0 2 0 2 .1 2 .1 2 .1 2 .2 2 .2 2 .2 2 .2 2 .3 2 .3 2 .3 2 .2 2 .3 2 .3 2 .2 2 .1 2-.3 2-1.1 2-3.1 2-5.6 2-7.1 2-5.4 2-.5 2 4.7 2 6.9 2 5.9 2 3.3 2 1.3 2-.1 2-2 2-5.8 2-12.5 2-19 2-19.8 2-11.5 2 5.4 2 20.1 2 21.5 2 13 2 4.6 2-2.1 2-4.5 2-.4 2 3.4 2 .6 2-2.4 2 .6 2 4 2 2.6 2 .1 2-.5 2 0 2 .7 2 1.2 2 1.1 2 .8 2 .4 2 .1 2 0 2-.1 2-.2 2-.2 2-.5 2-1.3 2-2.7 2-3.4 2-2.4 2 .5 2 2.9 2 3.1 2 1.9 2 .7 2 .2 2-.1 2-.4 2-1 2-2.3 2-3.6 2-3.8 2-1.6 2 1.7 2 3.9 2 3.9 2 2.4 2-.4 2-5.4 2-8.7 2-2.2 2 7.9 2 8.2 1.5 3M871.8 338.9l2 1.3 2 2.4 2 1.9 2 .8 2 .2 2 .5 2 1.1 2 1.6 2 1.7 2 1.3 2 .8 2 .3 2 .1 2-.1 2-.1 2-.1 2-.2 2-.2 2-.2 2-.2 2-.4 2-.8 2-2.7 2-7.2 2-10.6 2-5.9 2 1.3 2 3.4 2 3.2 2 2.1 2 .4 2-.2 2 1.2 2 3.2 2 4 2 3.1 2 1.8 2 .8 2 .2 2 .1 2 0 2 .1 2 0 2 .1 2 0 2-.1 2-.4 2-1.4 2-3.4 2-6.5 2-10 2-12.1 2-11.2 2-6.5 2 .7 2 7.7 2 11.9 2 12.3 2 10 2 6.4 2 3.5 2 1.7 2 .7 2 .3 2 0 2-.6 2-2.9 2-9.7 2-20.4 2-20.6 2-.6 2 17.5 2 16.6 2 9.2 2 5.4 2 3.6 2 2.3 2 1.1 2 .1 2-1 2-2.4 2-4.2 2-5.5 2-5.4 2-3.1 2 .6 2 3.9 2 5.7 2 5.4 2 3.8 2 2.1 2 1 2 .4 2 0 2 0 2-.4 2-2.3 2-8.8 2-17.6 2-14.7 2-.1 2-5.1 2-28.8 2-22 2 20.6 2 41.6 2 26.3 2 8.2 2 1.3 2 0 2-.1 2-.2 2-.1 2-.2 2-.1 2-.1 2-.1 2-.1 2-.1 2-.1 2-.1 2 0 2-.1 2 0 2 0 2 0 2 0 2 .1 2 0 2 0 2 .1 2 0 2 0 2-.1 2-.7 2-2.4 2-5.8 2-9.3 2-9.9 2-7.7 2-6.6 2-8.4 2-6.9 2 2.3 2 11.9 2 11.8 2 3.1 2-4 2-2.7 2 4.6 2 10 2 9 2 4.4 2-.3 2-3.2 2-4.3 2-4 2-2.7 2-.4 2 1.9 2 3.9 2 4.8 2 4.5 2 2.9 2 .5 2-2.1 2-3.8 1.5-2.6M871.8 342.8l2-1.8 2-4.4 2-8.3 2-5.1 2 5.8 2 11 2 6.9 2 2.2 2 .4 2 0 2-.1 2-.3 2-.5 2-1.1 2-1.9 2-2.6 2-2.7 2-1.5 2 .2 2 1.5 2 1.8 2 .8 2-.4 2-1.2 2-1 2-.6 2-.1 2-.2 2-1.3 2-3.2 2-5.5 2-7.1 2-6.6 2-3.5 2 1.1 2 5.3 2 7.5 2 7.2 2 5.5 2 3.4 2 1.7 2 .8 2 .3 2 .1 2 .1 2 .1 2 .1 2 .1 2 .1 2 .1 2 .1 2 .1 2 .2 2 .1 2 .1 2 0 2 .1 2 0 2 0 2 0 2-.1 2-.1 2-.5 2-1.1 2-2.2 2-3.5 2-4.4 2-3.6 2-1.1 2 1.9 2 3.9 2 3.9 2 2.3 2-1.4 2-8.2 2-16.2 2-17.8 2-7.9 2 5.8 2 12.1 2 10.2 2 4.7 2-6.8 2-26.8 2-35.6 2-7.5 2 32.7 2 39.9 2 21.5 2 6.5 2 1.3 2 .2 2 0 2 0 2-.1 2-.1 2-.1 2-.2 2-.2 2-.2 2-.2 2-.2 2-.2 2-.2 2-.2 2-.1 2-.1 2-.1 2-.1 2 0 2 .1 2 .1 2 .1 2 .1 2 .2 2 .2 2 .1 2 .2 2 .2 2 .2 2 .2 2 .1 2 .1 2-.1 2-.3 2-.6 2-.4 2 .1 2 .5 2 .4 2 0 2-.4 2-1 2-1.8 2-2.9 2-3.8 2-4.1 2-3.2 2-1.6 2-.5 2-1.1 2-1.5 2 1 2 4.8 2 5.6 2 3.8 2 1.6 2 .6 2 .1 2-.1 2-.2 2-.1 2-.2 2-.2 2-.4 2-.7 2-1.2 2-1.5 2-1.6 2-1 2 0 2 1 2 1.6 2 .9 2-2.2 2-5.4 2-1.7 1.5 3.5M871.8 345.7l2 .1 2 .1 2 .1 2 0 2 .1 2 0 2 0 2 0 2-.1 2-.1 2-.6 2-1.3 2-2.4 2-3.3 2-3.2 2-1.8 2-.4 2-.6 2-2.5 2-4.7 2-4.4 2-.7 2 4.7 2 7.5 2 6.7 2 4 2 1.7 2 .5 2 .2 2 .1 2-.1 2-.1 2-.7 2-1.7 2-3.4 2-5.2 2-6.2 2-5.3 2-2.1 2 1.4 2 3.3 2 2.2 2-.6 2-2.6 2-1.9 2 .9 2 3.8 2 5.4 2 5.2 2 3.9 2 2.3 2 .8 2-.2 2-1.2 2-2 2-2.7 2-2.7 2-1.8 2-.2 2 1.5 2 2.5 2 2.7 2 2.1 2 1.5 2 .7 2 .4 2 .2 2 0 2-.2 2-.6 2-1.2 2-2.1 2-3.5 2-5.5 2-8.8 2-11.7 2-11.5 2-7.2 2-.6 2 7.3 2 13.5 2 14.3 2 10.2 2 5.2 2 1.9 2 .5 2 0 2-.8 2-5.3 2-18.9 2-27.9 2-6.3 2 19 2 11.7 2-5.3 2-9.4 2-4.5 2 3.6 2 10.4 2 13.1 2 10.9 2 6.3 2 2.4 2 .3 2-1.4 2-3.5 2-6.6 2-10.5 2-13.3 2-13.1 2-8.7 2-2 2 3.2 2 4 2 1.1 2-1.6 2-1.1 2 2.7 2 7 2 9.2 2 9 2 7.3 2 5.8 2 4.8 2 3.9 2 2.9 2 1.9 2 1 2 .5 2 .2 2 .2 2 .1 2 .1 2 .1 2 .2 2 .1 2 .2 2 .2 2 .1 2 .1 2-.3 2-1.6 2-4.1 2-6.5 2-6.4 2-1.7 2 4.3 2 7.2 2 6.1 2 3.4 2 1.2 2 .4 2 .1 2 0 2-.3 2-.6 2-1.6 2-3.5 2-5.8 2-5.9 2-3.6 2-.9 2 1 2 2.5 2 3.8 2 4.2 2 3.5 1.5 1.9M871.8 345.1l2 1.3 2 1.8 2 1.4 2 .4 2-.2 2 0 2 .7 2 1.1 2 .7 2 .3 2 .1 2 0 2 .1 2 0 2 0 2 .1 2 0 2 0 2 0 2-.1 2-.2 2-.7 2-1.4 2-2.4 2-3.8 2-5.8 2-7.3 2-6.7 2-2.6 2 3.5 2 7.8 2 7.8 2 4.7 2 1 2-1.5 2-2.2 2-1.6 2-1.1 2-3.6 2-10.3 2-13.9 2-7.5 2 1.1 2 4.5 2 5 2 4.9 2 5.1 2 6.4 2 7.2 2 6 2 3.7 2 1.8 2 .8 2 .4 2 .3 2 .3 2 .3 2 .3 2 .3 2 .4 2 .2 2 .3 2 .3 2 .2 2 .2 2 .1 2 .1 2 .1 2 0 2 0 2 0 2-.1 2-.1 2-.1 2-.2 2-.2 2-.6 2-1.8 2-5.1 2-10.2 2-14.1 2-11.9 2-2.6 2 7 2 9.7 2 4.6 2-2 2-3.8 2 .1 2 5.7 2 7.3 2 .6 2-15.6 2-33.1 2-29.7 2 2.3 2 32.8 2 34.2 2 17.6 2 3.4 2-4 2-7.5 2-9 2-9.7 2-12.9 2-15 2-2 2 19.7 2 24.9 2 14 2 4.2 2-.2 2-2 2-3.2 2-3.6 2-3.2 2-2.4 2-2.3 2-2.4 2-1.1 2 3 2 6 2 5.3 2 2.4 2-.2 2-2.3 2-4.1 2-5.2 2-4.7 2-2 2 1.7 2 4.5 2 5.4 2 4.4 2 2.8 2 1.5 2 .7 2 .4 2 .3 2 .3 2 .2 2 0 2-.8 2-2.3 2-3.1 2-1.6 2 1.6 2 3.2 2 1.6 2-.8 2-1.2 2 .5 2 2 2 1.6 2 .7 2 .1 2-.1 2-.1 2-.3 2-.2 2-.2 2 0 2 .2 2 .2 2 .2 2 .2 2 .1 1.5.1M871.8 326.6l2-10.5 2-5.1 2 3.7 2 10.1 2 10.5 2 7.1 2 3.3 2 .7 2-.9 2-2.3 2-3.6 2-4.1 2-3.4 2-1.4 2 1.4 2 3.7 2 4.5 2 3.9 2 2.5 2 .9 2-.7 2-2 2-2.8 2-2.8 2-1.9 2-.2 2 1.6 2 2.5 2 2.7 2 2 2 1.2 2 .5 2 .1 2-.2 2-.2 2-.3 2-.3 2-.2 2-.3 2-.2 2-.2 2-.2 2-.2 2-.3 2-.5 2-.9 2-1.3 2-1.2 2-.4 2 .7 2 1.4 2 1.4 2 1 2 .2 2-1.7 2-6.2 2-10.1 2-5.1 2 5.1 2 6.5 2-.7 2-6.6 2-7.5 2-4 2 1.9 2 6.7 2 8.4 2 7 2 4.5 2 2.2 2 1 2 .3 2 0 2-1.3 2-4.6 2-7.7 2-5.1 2 .8 2 3.3 2 3.6 2 4.3 2 4.2 2 3 2 1.5 2 .7 2 .3 2 .2 2 .1 2 .1 2 .1 2 .1 2 .1 2 0 2 0 2 0 2-.1 2 0 2-.1 2-.1 2-.2 2-.1 2-.2 2-.2 2-.2 2-.2 2-.6 2-1.6 2-4 2-7.4 2-8.5 2-4.4 2 3.1 2 7.6 2 6.6 2 2.4 2-1.5 2-5.1 2-8.7 2-11.9 2-13.2 2-11.3 2-7.1 2-2.8 2 .2 2 1.9 2 2.8 2 2.7 2 2.2 2 3.2 2 5.2 2 6.5 2 5.8 2 3.7 2 2.7 2 3.7 2 5.7 2 6.5 2 5.6 2 4 2 2.3 2 1.4 2 .7 2-.6 2-2.7 2-3.1 2-.2 2 3.3 2 3.5 2 1.7 2 .5 2 0 2 0 2-.1 2-.2 2-.9 2-2.7 2-6.2 2-10.1 2-10.6 2-5.4 2 2.4 2 7.1 2 6.6 2 4.2 2 2 2 .4 2-.1 1.5.3M871.8 336.1l2-8.6 2-11.3 2-10.3 2-4.8 2 2.8 2 8.8 2 10.8 2 9.3 2 6.2 2 3.6 2 1.8 2 .9 2 .4 2 .2 2 .1 2 .2 2 .1 2 .1 2-.1 2-.4 2-1.3 2-2.8 2-4.5 2-5.7 2-5.2 2-2.5 2 .8 2 2.8 2 2.8 2 1.2 2 0 2-.2 2 .7 2 1.8 2 2.6 2 2.8 2 2.3 2 1.6 2 .8 2 .3 2-.1 2-.6 2-1 2-1.2 2-1.1 2-1.3 2-2 2-3.2 2-3.6 2-2.5 2 0 2 2.7 2 4 2 3.9 2 2.5 2 .5 2-2.1 2-6.8 2-11.6 2-13.2 2-13.7 2-8.7 2 9.2 2 19.9 2 13.7 2 6.5 2 3.9 2 2.8 2 1.9 2 1 2 .1 2-1 2-2.8 2-5.8 2-9.9 2-13.9 2-15.9 2-13.9 2-7.8 2 .9 2 8.8 2 13.4 2 14.2 2 12.1 2 8.4 2 4.3 2 .2 2-3.4 2-5 2-4.2 2-1.3 2 3.9 2 7.2 2 5.3 2 2 2 .3 2-.1 2-.4 2-.9 2-2 2-3.5 2-4.7 2-4.8 2-2.9 2 .4 2 3.7 2 5.3 2 5.1 2 3.8 2 2.4 2 1.2 2 .7 2 .4 2 .1 2-.5 2-1.5 2-2.9 2-4.6 2-5.3 2-4.9 2-2 2 4.3 2 8.7 2 7.2 2 3.4 2 1 2 .2 2-.2 2-1.4 2-4.4 2-7 2-4.1 2 3.6 2 6.8 2 4.3 2 1.2 2 .1 2-.1 2-.2 2-.1 2-.2 2-.2 2-.2 2-.1 2-.2 2-.2 2-.2 2-.7 2-2.2 2-5.4 2-7.4 2-3.2 2 4.3 2 7 2 4.5 2 1.5 2 .2 2 .1 2 0 2 0 2 .1 2 .1 2 .1 2 .2 2 .2 2 .2 2 .2 1.5.3M871.8 333.9l2 3.8 2 2.9 2-.4 2-3.8 2-4.6 2-1.3 2 3.4 2 6 2 5.3 2 3.1 2 1.2 2 .4 2 0 2-.2 2-.5 2-1.3 2-2.7 2-3.6 2-2.2 2 .8 2 2.4 2 2.4 2 2 2 1.5 2 1.1 2 .5 2 .3 2 0 2 0 2 0 2 0 2-.1 2-.2 2-.9 2-3.8 2-9.6 2-14.2 2-9.2 2 3.2 2 9.5 2 6.1 2 1.2 2 .7 2 2.7 2 4 2 3.8 2 2.6 2 1.3 2 .3 2-.3 2-.9 2-1.6 2-2.6 2-3 2-2.7 2-1.5 2 .4 2 2.1 2 3 2 2.8 2 2.2 2 1.3 2 .7 2 .4 2 .2 2 .2 2 .2 2 .1 2 .2 2 .1 2-.3 2-1.6 2-5.2 2-10.5 2-13 2-9 2-4 2-5 2-3.8 2 9.1 2 19.6 2 15.8 2 7.3 2 2.6 2 .9 2 .4 2 .2 2 .2 2-.2 2-1.3 2-5.3 2-13.5 2-21.5 2-21.3 2-9.6 2 7.7 2 21.2 2 22.6 2 14.2 2 5.5 2 1.3 2 .2 2 0 2-.1 2 0 2 0 2 0 2-.1 2-.8 2-3.1 2-7.4 2-8 2-.7 2 7.3 2 7 2 .5 2-4.5 2-3.5 2 .9 2 1.4 2-3.5 2-7 2-4.6 2 1.9 2 7.2 2 8.1 2 5.6 2 2.5 2 .8 2 .1 2-.1 2-.3 2-1 2-2.1 2-2.9 2-1.3 2 1.5 2 2.7 2 1.7 2 .5 2 .1 2 0 2-.1 2-.4 2-1 2-2 2-3.3 2-3.8 2-2.7 2-.2 2 2.6 2 3.9 2 3.6 2 2.3 2 1.1 2 .1 2-.4 2-.8 2-1.1 2-1.5 2-2.1 2-2.6 2-2.9 2-1.9 2 .1 2 2.3 2 3.6 1.5 2.7M871.8 350.6l2 0 2 0 2 0 2-.2 2-.4 2-.9 2-1.7 2-2.5 2-3.3 2-3.6 2-3.7 2-3.2 2-1.6 2 .7 2 2.7 2 3.2 2 2.7 2 2.3 2 2.6 2 2.8 2 2.5 2 1.8 2 1 2 .6 2 .2 2 .2 2 .1 2 .1 2 .1 2 .1 2 0 2 .1 2 0 2 0 2 0 2 0 2-.1 2-.1 2-.3 2-.7 2-1.6 2-3 2-4.5 2-6.5 2-7.8 2-5 2 2.3 2 7.6 2 7.2 2 4.9 2 3 2 1.6 2 .5 2-.9 2-2.7 2-4.8 2-6 2-4.5 2-.6 2 3.6 2 5.5 2 4.7 2 2.3 2 0 2-1.4 2-1.7 2-1.2 2-1.2 2-4.5 2-13 2-20 2-12.9 2 5.5 2 17.3 2 15.6 2 9.5 2 5.6 2 3.2 2 1.6 2 .7 2 .1 2-.1 2-.5 2-2.2 2-5.6 2-9.2 2-7.7 2 .5 2 8 2 8.4 2 4.3 2 .7 2-1.1 2-2 2-2.3 2-1.9 2-.9 2 .5 2 1.6 2 2.1 2 2 2 1.5 2 .8 2-.1 2-2.6 2-8.6 2-16.7 2-17.6 2-3 2 14.6 2 16.6 2 6.5 2-1.2 2-2 2 .8 2 3.1 2 2.8 2 .2 2-2.1 2-2.4 2-.5 2 2.1 2 3.6 2 3.5 2 2.5 2 1.3 2 .5 2 .1 2-.3 2-1.3 2-3.3 2-6.4 2-9.2 2-9.4 2-5 2 2.2 2 8.1 2 9.7 2 7.5 2 4.3 2 1.8 2 .6 2 .1 2 0 2-.1 2-.1 2-.1 2-.1 2-.4 2-1.6 2-4.1 2-6.1 2-4.6 2-1.4 2-1.2 2-3.2 2-1.2 2 6 2 9.4 2 6.1 2 2 2 .5 2 .2 2 .1 2 .2 2 .2 2 .1 1.5.2M871.8 322.9l2 6 2 7 2 5.2 2 2.8 2 1.3 2 .6 2 .3 2 .1 2 0 2-.2 2-.3 2-.6 2-1.1 2-3 2-6.6 2-9.9 2-9.7 2-3.6 2 5.2 2 10.7 2 10.2 2 6.5 2 2.8 2 .8 2 0 2-.3 2-.7 2-.9 2-.7 2 .1 2 .5 2 .4 2-.2 2-1.3 2-3.5 2-7.1 2-10.2 2-8.2 2 0 2 8.4 2 10.1 2 5.5 2-.4 2-5.3 2-9.1 2-11.5 2-11.1 2-6.9 2 1 2 7.7 2 9.3 2 9.7 2 10.2 2 7.1 2 2.6 2 .5 2-.1 2-.1 2-.1 2-.1 2 0 2-.1 2 0 2 .1 2 0 2 .1 2-.2 2-1 2-3.1 2-4.7 2-2.6 2 2.5 2 5 2 3.5 2 1.3 2 0 2-1.1 2-4 2-9.3 2-15.5 2-17.6 2-12 2-1.9 2 3.7 2-.2 2-8 2-11.3 2-6.5 2 3.3 2 12.7 2 17.9 2 18 2 14.6 2 9.6 2 4.9 2 1.2 2-1.9 2-5.3 2-8.5 2-10.9 2-10.9 2-7.6 2-1.5 2 5 2 9.6 2 11 2 9.5 2 6.5 2 3.1 2-3.1 2-16.3 2-29.3 2-17.4 2 14.2 2 27.6 2 18.5 2 7.4 2 2.2 2 .6 2 .3 2 .1 2 0 2-.6 2-1.8 2-3.8 2-6 2-7.2 2-6.1 2-2.5 2 2.1 2 5.2 2 5.1 2 2.2 2-2 2-5.6 2-7.3 2-6.2 2-3.2 2 .6 2 3.6 2 4.7 2 4.6 2 4.4 2 4.8 2 5.2 2 4.4 2 2.8 2 1.3 2 .3 2-.1 2-.3 2-.2 2-.3 2-.3 2-.2 2-.2 2-.2 2-.3 2-.4 2-.8 2-1.5 2-2.2 2-2.6 2-2.8 2-2.4 2-.8 2 1.6 1.5 2.6M871.8 348.5l2 0 2 .1 2 0 2 0 2 0 2 .1 2 0 2 0 2 .1 2-.1 2-.4 2-2.2 2-5.4 2-6 2-.3 2 4.9 2 2.9 2-1.3 2-2.5 2-1.4 2-.2 2 .2 2 .8 2 1.9 2 2.7 2 2.7 2 1.7 2 .8 2 .3 2 0 2 0 2 0 2 0 2-.1 2-.6 2-1.7 2-2 2 0 2 1 2-2.5 2-9.5 2-13.9 2-8.1 2 5.4 2 13.8 2 11.4 2 5.3 2 1.5 2 .3 2 0 2 0 2 0 2 0 2 0 2 0 2 0 2-.1 2-.2 2-.6 2-1.5 2-2.8 2-4.3 2-5.4 2-5.1 2-3 2 .2 2 3.5 2 5.3 2 5.4 2 4.2 2 2.6 2 1.5 2 .6 2 .3 2 .1 2 0 2-.6 2-1.8 2-4 2-7 2-10.3 2-11.9 2-9.4 2-2.6 2 2.6 2-.3 2-11.3 2-21.8 2-21.7 2-9 2 8.7 2 20.1 2 19.3 2 8.6 2-4.7 2-12.3 2-11.2 2-6.1 2-5.7 2-10.8 2-13.1 2-6.6 2 5 2 14.7 2 19.7 2 21.9 2 22 2 18.9 2 13.1 2 7 2 2.9 2 .9 2 .2 2-.1 2-.2 2-.2 2-.4 2-.8 2-2.1 2-4.6 2-8 2-10.1 2-7.7 2-1 2 6.1 2 9.3 2 7.7 2 4.4 2 1.3 2-.4 2-1.4 2-2.1 2-3.2 2-4.9 2-7.8 2-10.7 2-11.4 2-7.8 2-.1 2 8.1 2 12.8 2 12.5 2 9.1 2 5.2 2 2.4 2 1 2 .5 2 .2 2 .2 2 .1 2-.2 2-.9 2-2.8 2-6.1 2-9.5 2-10.5 2-6.8 2 1 2 8.1 2 10.9 2 8.8 2 4.2 2-.7 2-4.9 2-7.5 2-7.3 2-3.6 1.5.9M871.8 322.2l2-10.9 2-4.9 2 3.2 2 8.2 2 8.3 2 6.3 2 4.9 2 4 2 3.2 2 2 2 1.2 2 .5 2 .1 2-.4 2-1.8 2-4 2-5.3 2-3.7 2 1 2 4.8 2 4.8 2 1.1 2-4 2-6.9 2-4.2 2 3.3 2 8.1 2 6.4 2 2.7 2 .7 2 .2 2 0 2 0 2-.1 2 0 2-.1 2-.1 2-.4 2-1 2-2.2 2-2.3 2-.5 2 .8 2-.9 2-4.5 2-7.8 2-8.9 2-6 2-.3 2 5.6 2 8.2 2 7.5 2 4.8 2 2.2 2 .5 2-.5 2-1.3 2-.8 2 .3 2 1 2 .6 2-.5 2-1.8 2-2.2 2-.3 2 1.6 2 .8 2-1.1 2-1.9 2-1.2 2 .4 2 1.9 2 2.4 2 2 2 1.3 2 .6 2 .2 2-.2 2-.8 2-2 2-3.1 2-3.9 2-3.3 2-1.2 2 1.4 2 2.7 2 2.2 2 0 2-2.6 2-3.5 2-2.3 2 .8 2 3.6 2 4.6 2 3.9 2 2.5 2 1 2 .1 2-.8 2-2.2 2-4.6 2-8.5 2-13.1 2-17.1 2-18.3 2-14.2 2-5.5 2-.2 2-7.9 2-9.5 2 19.7 2 42.2 2 28.9 2 9.2 2 1.1 2-1.8 2-4.6 2-5.8 2-2.8 2 3 2 5.8 2 4.4 2 1.9 2 .4 2-.1 2-.5 2-1.7 2-4 2-7.9 2-12 2-13.3 2-9.1 2-.8 2 6.3 2 7.1 2 2.7 2-1 2 .7 2 4.6 2 5 2 2.6 2 1.8 2 4 2 5.6 2 4.6 2 2.5 2 .9 2 .3 2 0 2 0 2 0 2 0 2 .1 2 0 2 .1 2 0 2 0 2-.1 2-.4 2-.8 2-1.1 2-1.1 2-.5 2 .4 2 1 2 1.3 2 1.1 1.5.5M871.8 355.1l2-.3 2-.3 2-.3 2-.3 2-.3 2-.3 2-.3 2-.3 2-.2 2-.3 2-.3 2-.7 2-1.5 2-2.4 2-2.4 2-.4 2 1.5 2 1.8 2 .3 2-1 2-1.9 2-2 2-1.4 2-.3 2 1.1 2 1.9 2 2.1 2 1.9 2 1.4 2 .8 2 .4 2-.2 2-.9 2-2.5 2-5.3 2-8.8 2-10.9 2-9.8 2-4.2 2 3.3 2 9.2 2 10.9 2 8.8 2 5.4 2 2.6 2 .9 2 .1 2-.7 2-2.4 2-4.5 2-2.7 2 1.6 2 1.7 2-2.3 2-5.6 2-6.5 2-4.8 2-1.5 2 1.5 2 1.7 2-.7 2-4.5 2-7.2 2-6 2 0 2 4.4 2 .2 2-7.4 2-9.1 2-3.3 2 5.1 2 10.5 2 11.6 2 10.2 2 8 2 5.6 2 3.1 2 .8 2-.2 2 .1 2 .2 2-2.1 2-5.6 2-5.3 2-.2 2 1.1 2-5.1 2-14.9 2-22.7 2-22.1 2-11.1 2 2.1 2 10.8 2 17 2 19.2 2 14.5 2 7.6 2 3.6 2 1.3 2-1.1 2-1.8 2 .4 2 3.9 2 5.8 2 4.9 2 3 2 1.4 2 .7 2 .5 2 .3 2 .4 2 .2 2 .2 2 .1 2-.1 2-.5 2-1.7 2-3.3 2-4.3 2-2.7 2 .8 2 3.6 2 3.5 2 1.9 2 .4 2-.5 2-.8 2-.7 2 0 2 .4 2 .4 2 .2 2 0 2 0 2 0 2 0 2-.3 2-3.1 2-10.6 2-14.5 2-1 2 14.1 2 11.7 2 3.5 2 .1 2-.5 2-.5 2-.1 2 .3 2 .5 2 .4 2 .1 2-.1 2-.3 2-.4 2-.5 2-.5 2-.4 2-.5 2-.4 2-.4 2-.3 2-.2 2-.1 2 0 2 .1 2 .2 1.5.3M871.8 320.8l2-4.9 2-2.5 2 .6 2 2.6 2 5.9 2 10 2 8.8 2 3.2 2-.2 2-.1 2 1.4 2 2.2 2 1.9 2 1.1 2 .4 2 .1 2 0 2-.2 2-.1 2-.2 2-.2 2-.3 2-.3 2-.5 2-1.2 2-2.1 2-2.3 2-.7 2 1.2 2 1.7 2 1 2 .1 2-.2 2-.4 2-1.2 2-2.2 2-1.6 2 .9 2 1.9 2 1 2-.2 2-1.3 2-2.6 2-4 2-4.7 2-5.6 2-6.7 2-5.5 2-.9 2 4.9 2 8.5 2 8.5 2 5.9 2 2.5 2-1.2 2-5.3 2-7.8 2-5.7 2-1.2 2 1.1 2 .5 2 .7 2 3.2 2 5.7 2 6.1 2 4.6 2 2.3 2 .3 2-1.5 2-3.1 2-3.9 2-3.9 2-2.4 2-.1 2 2.4 2 4 2 4.4 2 3.5 2 2.4 2 1.4 2 .6 2 .3 2 0 2 0 2 0 2-.1 2-.1 2-.7 2-2.2 2-6.2 2-10.9 2-11 2-3.3 2 6.6 2 7.8 2-4.5 2-23.4 2-31.6 2-13.4 2 18.2 2 32.8 2 24 2 8.7 2-1.4 2-6 2-6 2-.8 2 5.9 2 8.1 2 5.7 2 2.5 2 .7 2 .2 2-.1 2-.2 2-.5 2-1.1 2-1.8 2-2.8 2-3.2 2-3 2-1.7 2 .2 2 1.9 2 2.9 2 2.9 2 2.1 2 .9 2-.3 2-1.7 2-2.9 2-3.7 2-3.6 2-2.3 2-.4 2 1.5 2 .7 2-4.1 2-6.7 2 1 2 8.5 2 5.4 2-.5 2-2 2-.8 2 1.3 2 2.9 2 3.3 2 2.8 2 1.7 2 .7 2-.6 2-2 2-3.6 2-4.6 2-4.2 2-2.7 2-.8 2 1.5 2 3.6 2 4.4 2 2.8 2 1.2 2 1.6 2 2.2 2 2.1 2 1 1.5.2M871.8 341.4l2 .2 2 1.5 2 1.5 2 .8 2 .3 2 .2 2 .1 2-.1 2-.4 2-1.6 2-3.9 2-7.4 2-9.8 2-7.4 2-.5 2 6.6 2 9.4 2 7.6 2 4.8 2 2.5 2 1.2 2 .4 2-.7 2-2.7 2-5.1 2-5.3 2-1.6 2 3.5 2 5.4 2 3.8 2 1.6 2 .2 2-.1 2-.2 2-.3 2-.2 2-.3 2-.7 2-1.9 2-4.7 2-7.3 2-6.2 2-.7 2 4.3 2 4.7 2 1.1 2-3.9 2-6.6 2-4.7 2 .1 2 4.2 2 6.3 2 6.6 2 4.7 2 .7 2-6.8 2-16.7 2-18.5 2-3.1 2 15.7 2 19.1 2 11 2 3.7 2 .8 2 .2 2 0 2 0 2 0 2 0 2 0 2 0 2-.3 2-.8 2-1.7 2-2.9 2-3.7 2-3.6 2-1.9 2 .6 2 2.7 2 3.1 2 1 2-3.7 2-10.4 2-17.2 2-20.3 2-16.6 2-6.4 2 6.1 2 15.1 2 17.4 2 15 2 10.9 2 7.8 2 5.5 2 3.7 2 2.2 2 1 2 .1 2-1.6 2-4.5 2-6.2 2-2.2 2 4.2 2 5.4 2 2.8 2 .5 2-.1 2-.4 2-.7 2-2.1 2-5.4 2-11 2-16.5 2-16.6 2-8.1 2 5.7 2 15.7 2 17.1 2 12.1 2 6.2 2 2.4 2 .7 2-.3 2-1.7 2-3.8 2-5.3 2-3.7 2 .9 2 5 2 5.4 2 3.4 2 1.5 2 .6 2 .2 2 .1 2 .1 2 .1 2 .1 2 .1 2 .1 2 .1 2 .1 2 0 2-.2 2-.9 2-2.6 2-5.1 2-6.5 2-5.5 2-4.3 2-5.6 2-7.6 2-5.8 2 .6 2 6.8 2 9.6 2 9.3 2 7.4 2 4.9 2 2.9 2 1.5 2 .5 2 .1 2-.1 2-.2 2-.2 1.5-.2M871.8 346.9l2 3.2 2 1.3 2 0 2-.5 2-.5 2-.1 2-.1 2-1.1 2-3.2 2-4.3 2-1.8 2 2.7 2 4.5 2 2.9 2 1 2 .1 2-.1 2-.2 2-.1 2-.1 2-.2 2-.4 2-.9 2-1.6 2-2.4 2-2.6 2-1.7 2-.2 2 1.5 2 2.6 2 2.7 2 1.8 2 1 2 .3 2 0 2-.1 2-.7 2-2.9 2-8.1 2-15.1 2-18 2-11.2 2 3.2 2 14.7 2 15.6 2 9.9 2 5.6 2 3.4 2 1.5 2 0 2-1.3 2-2.8 2-5.1 2-6.9 2-6.7 2-3.8 2 .6 2 4.4 2 6.2 2 5.9 2 4.4 2 2.8 2 1.3 2-.1 2-1.9 2-3.9 2-5.9 2-6.6 2-5 2-1.3 2 2.9 2 5.8 2 6.2 2 5.1 2 3.4 2 1.5 2-1.3 2-5.7 2-9.3 2-7 2 1.2 2 8.6 2 9.3 2 5.5 2 2.1 2 .5 2 .1 2 .1 2 .1 2 0 2-.1 2-.6 2-1.6 2-3 2-3.6 2-2.5 2 .3 2 3 2 3.9 2 3.2 2 1.8 2 .7 2 .3 2 .1 2 .1 2 0 2 0 2 0 2 0 2 0 2 0 2 0 2 .1 2 0 2 0 2 .1 2 0 2 .1 2 .1 2 0 2 .1 2 0 2-.3 2-.7 2-1.6 2-2.9 2-4.4 2-5.3 2-4.8 2-2.9 2 .3 2 3.1 2 3.6 2-2 2-14.1 2-16.9 2 3.8 2 21.1 2 15.5 2 4.3 2-1 2-2.7 2-2.9 2-2 2-.1 2 2 2 3.1 2 2.5 2 .5 2-1.5 2-3.3 2-4.1 2-3.2 2-.6 2 2.2 2 3.2 2 1.2 2-2.4 2-4.2 2-1.7 2 2.6 2 4.7 2 2.3 2-2.4 2-6 2-5.8 2-1.1 1.5 2.8M871.8 324.6l2 3.2 2 4.3 2 4 2 3.1 2 1.8 2 .8 2 .3 2 0 2 0 2-.1 2 0 2 0 2 0 2 0 2 .1 2 .1 2 .1 2 .1 2 .1 2 .2 2-.1 2-1.2 2-2.8 2-2.2 2 1.3 2 3.4 2 2.3 2 .9 2 .3 2 .2 2 .1 2 .2 2 .1 2 .1 2 .1 2 0 2-.1 2-.9 2-2.6 2-3.4 2-1 2 2.6 2 3.2 2 1.6 2 .3 2 0 2-.1 2 0 2-.1 2-.1 2-.2 2-.7 2-3.8 2-10.2 2-14.3 2-7.7 2 5.5 2 14 2 11.3 2 4.5 2 .9 2 .1 2 0 2 .1 2 .1 2 .1 2 .1 2 .1 2 .1 2 .2 2 0 2-.6 2-1.6 2-2.8 2-3 2-1.4 2 .4 2 .9 2 1.2 2 2 2 2.3 2 .6 2-3.5 2-8.1 2-10.7 2-8.1 2-1 2 4.5 2 4.2 2 .9 2-.3 2 .1 2-1.9 2-7.1 2-15.1 2-24.2 2-30.1 2-26.8 2-11.7 2 9.3 2 25.9 2 31.6 2 27.5 2 19.1 2 10.7 2 4.1 2 .1 2-1.9 2-4.4 2-9.2 2-13.4 2-12.1 2-3.6 2 7.6 2 14.6 2 15 2 9.5 2-1.5 2-16.8 2-19.3 2 3.8 2 22 2 14.5 2 1.4 2-2.8 2-.5 2 .8 2-.9 2-2.4 2-2.8 2-1.9 2-.2 2 1.7 2 2.2 2 1.4 2 .2 2 .1 2 1.3 2 2.3 2 2.5 2 1.7 2 .8 2 .2 2-.1 2-.1 2-.1 2-.2 2-.1 2-.1 2-.1 2-.1 2-.3 2-.5 2-1.2 2-2.1 2-3.3 2-4.2 2-4 2-2.6 2 0 2 2.5 2 4.1 2 4.3 2 3.5 2 2.3 2 1.3 2 .7 1.5.3M871.8 352.6l2 .1 2 .1 2 .1 2 0 2 0 2-.1 2-.4 2-.8 2-1.5 2-2.2 2-2.6 2-2.6 2-2.4 2-2.5 2-2.3 2-1.3 2 .6 2 2.5 2 3.8 2 3.7 2 2.6 2 1.5 2 .5 2 .1 2-.1 2-.2 2-.1 2-.2 2-.2 2-.1 2-.1 2-.1 2-.1 2-.1 2-.5 2-1.4 2-3.7 2-6.2 2-6.3 2-2.4 2 3 2 3.9 2-.3 2-4.9 2-5.4 2-2.8 2 1.2 2 6.8 2 8.2 2 .9 2-11.9 2-20.4 2-12.4 2 7.8 2 20.3 2 16.8 2 7.8 2 2.3 2 .5 2 .3 2 0 2-.8 2-3.2 2-7.8 2-12.7 2-13.1 2-6.3 2 2.6 2 3.6 2-5.3 2-13.6 2-9.4 2 5.7 2 18.6 2 20.5 2 14.1 2 6.9 2 2.5 2 .7 2 .2 2 .1 2-.4 2-1.6 2-5.1 2-11.6 2-18.2 2-18 2-6.9 2 9.2 2 18.6 2 17.1 2 10.2 2 4.1 2 1.1 2 .1 2-.1 2-.2 2-.2 2-.1 2-.1 2-.2 2-.1 2-.2 2-.8 2-4.2 2-13.8 2-21.2 2-8.7 2 13.3 2 14.5 2-1.4 2-9.9 2-3.4 2 6.4 2 6.7 2-.6 2-6.2 2-6.1 2-2.1 2 2.8 2 6.1 2 6.7 2 5.8 2 4.3 2 2.8 2 1 2-1 2-2.7 2-3.5 2-3.1 2-1.2 2 1.2 2 3.2 2 4 2 3.7 2 2.8 2 1.6 2 .8 2 .3 2 .1 2 0 2 0 2-.1 2-.1 2-.2 2-.5 2-1 2-1.5 2-1.7 2-1 2 .2 2 .9 2-.3 2-5.4 2-13.3 2-14.9 2-2.7 2 10.8 2 12.3 2 7.2 2 3.8 2 2.6 2 1.8 2 1 2 .2 2-.2 2-.5 1.5-.3"/>
</g>
<rect x="1220.00" y="2.10" width="470.70" height="354.40" fill="none" stroke="#000" stroke-width="1.9" stroke-linejoin="round"/>
<path d="M1213.70,356.50H1220.00M1213.70,269.93H1220.00M1213.70,183.35H1220.00M1213.70,96.78H1220.00M1213.70,10.20H1220.00M1216.90,339.19H1220.00M1216.90,321.87H1220.00M1216.90,304.56H1220.00M1216.90,287.24H1220.00M1216.90,252.61H1220.00M1216.90,235.29H1220.00M1216.90,217.98H1220.00M1216.90,200.66H1220.00M1216.90,166.03H1220.00M1216.90,148.72H1220.00M1216.90,131.41H1220.00M1216.90,114.09H1220.00M1216.90,79.46H1220.00M1216.90,62.14H1220.00M1216.90,44.83H1220.00M1216.90,27.51H1220.00M1220.00,356.50V362.90M1295.90,356.50V362.90M1371.80,356.50V362.90M1447.70,356.50V362.90M1523.60,356.50V362.90M1599.50,356.50V362.90M1675.40,356.50V362.90" stroke="#000" stroke-width="1.9" stroke-linecap="round" fill="none"/>
<g transform="translate(1208.30,366.80) scale(0.93,1)"><text x="0" y="0" text-anchor="end" font-size="28.2" font-family="Latin Modern Roman, 'LM Roman 10', 'Liberation Serif', serif" >0</text></g>
<g transform="translate(1208.30,280.23) scale(0.93,1)"><text x="0" y="0" text-anchor="end" font-size="28.2" font-family="Latin Modern Roman, 'LM Roman 10', 'Liberation Serif', serif" >0.1</text></g>
<g transform="translate(1208.30,193.65) scale(0.93,1)"><text x="0" y="0" text-anchor="end" font-size="28.2" font-family="Latin Modern Roman, 'LM Roman 10', 'Liberation Serif', serif" >0.2</text></g>
<g transform="translate(1208.30,107.08) scale(0.93,1)"><text x="0" y="0" text-anchor="end" font-size="28.2" font-family="Latin Modern Roman, 'LM Roman 10', 'Liberation Serif', serif" >0.3</text></g>
<g transform="translate(1208.30,20.50) scale(0.93,1)"><text x="0" y="0" text-anchor="end" font-size="28.2" font-family="Latin Modern Roman, 'LM Roman 10', 'Liberation Serif', serif" >0.4</text></g>
<g transform="translate(1220.00,389.20) scale(0.93,1)"><text x="0" y="0" text-anchor="middle" font-size="28.2" font-family="Latin Modern Roman, 'LM Roman 10', 'Liberation Serif', serif" >0</text></g>
<g transform="translate(1295.90,389.20) scale(0.93,1)"><text x="0" y="0" text-anchor="middle" font-size="28.2" font-family="Latin Modern Roman, 'LM Roman 10', 'Liberation Serif', serif" >1</text></g>
<g transform="translate(1371.80,389.20) scale(0.93,1)"><text x="0" y="0" text-anchor="middle" font-size="28.2" font-family="Latin Modern Roman, 'LM Roman 10', 'Liberation Serif', serif" >2</text></g>
<g transform="translate(1447.70,389.20) scale(0.93,1)"><text x="0" y="0" text-anchor="middle" font-size="28.2" font-family="Latin Modern Roman, 'LM Roman 10', 'Liberation Serif', serif" >3</text></g>
<g transform="translate(1523.60,389.20) scale(0.93,1)"><text x="0" y="0" text-anchor="middle" font-size="28.2" font-family="Latin Modern Roman, 'LM Roman 10', 'Liberation Serif', serif" >4</text></g>
<g transform="translate(1599.50,389.20) scale(0.93,1)"><text x="0" y="0" text-anchor="middle" font-size="28.2" font-family="Latin Modern Roman, 'LM Roman 10', 'Liberation Serif', serif" >5</text></g>
<g transform="translate(1675.40,389.20) scale(0.93,1)"><text x="0" y="0" text-anchor="middle" font-size="28.2" font-family="Latin Modern Roman, 'LM Roman 10', 'Liberation Serif', serif" >6</text></g>
<g clip-path="url(#clipd)">
<path fill="#00f" d="M101.1 767.6l2.8-.4 2.8-.4 2.8-.5 2.8-.5 2.8-.4 2.8-.4 2.8-.4 2.8-.2 2.8-.2 2.8-.2 2.8-.1 2.8 0 2.8 0 2.8 0 2.8 0 2.8 0 2.8 0 2.8.1 2.8.1 2.8.2 2.8.2 2.8.3 2.8.3 2.8.4 2.8.4 2.8.4 2.8.5 2.8.3 2.8.4 2.8.2 2.8.2 2.8 0 2.8 0 2.8-.2 2.8-.3 2.8-.4 2.8-.4 2.8-.6 2.8-.6 2.8-.6 2.8-.7 2.8-.9 2.8-.7 2.8-.7 2.8-.6 2.8-.3 2.8 0 2.8 0 2.8.1 2.8.2 2.8.1 2.8.2 2.8.2 2.8.1 2.8.1 2.8.1 2.8.1 2.8.1 2.8.1 2.8.1 2.8.1 2.8.1 2.8.1 2.8.1 2.8.1 2.8 0 2.8 0 2.8 0 2.8-.2 2.8-.2 2.8-.3 2.8-.3 2.8-.4 2.8-.4 2.8-.4 2.8-.3 2.8-.4 2.8-.3 2.8-.2 2.8-.1 2.8-.1 2.8.1 2.8.1 2.8.3 2.8.3 2.8.4 2.8.5 2.8.5 2.8.4 2.8.5 2.8.3 2.8.3 2.8.2 2.8.1 2.8-.1 2.8-.2 2.8-.2 2.8-.4 2.8-.3 2.8-.4 2.8-.3 2.8-.3 2.8-.2 2.8 0 2.8 0 2.8.2 2.8.3 2.8.3 2.8.3 2.8.3 2.8.3 2.8.2 2.8.1 2.8.2 2.8 0 2.8.1 2.8.1 2.8.1 2.8.2 2.8.2 2.8.3 2.8.3 2.8.3 2.8.3 2.8.2 2.8.2 2.8.2 2.8.1 2.8.1 2.8.1 2.8.1 2.8 0 2.8 0 2.8-.1 2.8-.1 2.8-.2 2.8.1 2.8.2 2.8-.5 2.8-.6 2.8-.5 2.8-.6 2.8-.5 2.8-.4 2.8-.3 2.8-.2 2.8-.1 2.8-.1 2.8.6 2.8.7 2.8.9 2.8.9 2.8.3 2.8.3 2.8.4 2.8.3 2.8.4 2.8.3 2.8.2 2.8.3 2.8.1 2.8.1 2.8.1 2.8.1 2.8 0 2.8 0 2.8 0 2.6 0 0 14.8-2.6 0-2.8 0-2.8 0-2.8 0-2.8 0-2.8 0-2.8 0-2.8 0-2.8 0-2.8 0-2.8 0-2.8 0-2.8 0-2.8 0-2.8 0-2.8 0-2.8 0-2.8 0-2.8 0-2.8 0-2.8 0-2.8 0-2.8 0-2.8 0-2.8 0-2.8 0-2.8 0-2.8 0-2.8 0-2.8 0-2.8 0-2.8 0-2.8 0-2.8 0-2.8 0-2.8 0-2.8 0-2.8 0-2.8 0-2.8 0-2.8 0-2.8 0-2.8 0-2.8 0-2.8 0-2.8 0-2.8 0-2.8 0-2.8 0-2.8 0-2.8 0-2.8 0-2.8 0-2.8 0-2.8 0-2.8 0-2.8 0-2.8 0-2.8 0-2.8 0-2.8 0-2.8 0-2.8 0-2.8 0-2.8 0-2.8 0-2.8 0-2.8 0-2.8 0-2.8 0-2.8 0-2.8 0-2.8 0-2.8 0-2.8 0-2.8 0-2.8 0-2.8 0-2.8 0-2.8 0-2.8 0-2.8 0-2.8 0-2.8 0-2.8 0-2.8 0-2.8 0-2.8 0-2.8 0-2.8 0-2.8 0-2.8 0-2.8 0-2.8 0-2.8 0-2.8 0-2.8 0-2.8 0-2.8 0-2.8 0-2.8 0-2.8 0-2.8 0-2.8 0-2.8 0-2.8 0-2.8 0-2.8 0-2.8 0-2.8 0-2.8 0-2.8 0-2.8 0-2.8 0-2.8 0-2.8 0-2.8 0-2.8 0-2.8 0-2.8 0-2.8 0-2.8 0-2.8 0-2.8 0-2.8 0-2.8 0-2.8 0-2.8 0-2.8 0-2.8 0-2.8 0-2.8 0-2.8 0-2.8 0-2.8 0-2.8 0-2.8 0-2.8 0-2.8 0-2.8 0-2.8 0-2.8 0-2.8 0-2.8 0-2.8 0-2.8 0-2.8 0-2.8 0-2.8 0-2.8 0-2.8 0-2.8 0-2.8 0-2.8 0-2.8 0-2.8 0-2.8 0-2.8 0-2.8 0-2.8 0-2.8 0-2.8 0-2.8 0-2.8 0-2.8 0-2.8 0-2.8 0-2.8 0z"/>
<path transform="scale(1.4,1)" fill="none" stroke="#00f" stroke-width="1.55" stroke-linejoin="round" d="M72.2 765.9l2-.7 2-.4 2 .1 2 .5 2 .9 2 .9 2 .5 2 .1 2-.3 2-.2 2-.2 2-.2 2-.4 2-.4 2-.3 2 0 2 .2 2 .3 2 .2 2 0 2 .1 2 .3 2 .6 2 .8 2 .6 2 .3 2 .2 2 .1 2 0 2 0 2-.4 2-.9 2-.9 2-.6 2 0 2 .4 2 .5 2 0 2-.4 2-.4 2-.2 2 .1 2 .1 2-.2 2-.6 2-.9 2-.8 2-.2 2 .3 2 .4 2 .5 2 .2 2 0 2 .1 2 0 2 .1 2 .1 2 .3 2 .3 2 .2 2 0 2 0 2 .2 2 .3 2 .3 2-.1 2-.5 2-.7 2-.8 2-.7 2-.3 2 .1 2 .2 2 .4 2 .5 2 .4 2 .3 2 0 2-.2 2-.4 2-.6 2-.6 2-.5 2-.4 2-.2 2 .2 2 .4 2 .5 2 .5 2 .1 2-.3 2-.6 2-.6 2-.5 2-.1 2 .1 2 .3 2 .5 2 .3 2 .1 2-.2 2-.5 2-.7 2-.6 2-.2 2 .3 2 .9 2 1 2 .9 2 .5 2 .2 2-.3 2-.4 2-.2 2 0 2 .3 2 .6 2 .3 2 0 2-.5 2-.7 2-.6 2-.3 2-.1 2-.1 2-.5 2-.8 2-.3 2 .4 2 1 2 1.3 2 1.1 2 .7 2 .3 2 .1 2-.2 2-.4 2-.4 2-.3 2 0 2 .1 2-.2 2-.3 2-.3 2-.1 2 0 2 .1 2 .2 2 0 2 0 2 .2 2 .5 2 .6 2 .6 2 .6 2 .5 2 .1 2 0 2-.2 2-.1 2 0 2 .1 2 .1 2-.1 2-.2 2-.5 2-.5 1.9-.6M72.2 754.2l2 1.3 2 .8 2 0 2-.9 2-1.3 2-1 2-.3 2 .3 2 .5 2 .2 2-.1 2-.3 2-.6 2-.7 2-.4 2 .1 2 .6 2 .6 2 .2 2-.6 2-1.3 2-1.5 2-1.1 2-.3 2 0 2-.1 2 0 2-.1 2 0 2-.1 2-.1 2 1.6 2 2.2 2 1.8 2 .6 2-.7 2-1.2 2-1.3 2-.9 2-.5 2-.3 2-.3 2-.2 2-.4 2-.7 2-.9 2-1.1 2-.8 2-.2 2 .1 2 .6 2 .4 2 .3 2 .9 2 1.3 2 1.6 2 .9 2-.1 2-.7 2-.8 2-.2 2 .5 2 .8 2 .2 2-.6 2-1.3 2-1.6 2-1 2-.1 2 .9 2 1 2 .5 2-.3 2-.7 2-.6 2-.6 2-.5 2-.4 2-.1 2 0 2 .5 2 1 2 1 2 .7 2 0 2-.2 2 .1 2 .5 2 .8 2 .4 2 0 2-.9 2-2.1 2-3.4 2-2.7 2-.4 2-.4 2-.4 2-.4 2 .4 2 1.4 2 .8 2 .3 2 .1 2 .2 2 .1 2 .4 2 .7 2 .9 2 1.1 2 1.2 2 .5 2 .2 2-.4 2-1.1 2-1.6 2-1.9 2-1.7 2-1.1 2-.2 2-.3 2 .2 2 .7 2 1.1 2 1.1 2 1.2 2 1.1 2 1.1 2 1.4 2 1.3 2 .8 2 0 2-.7 2-.7 2-.1 2 .9 2 1.2 2 .9 2-.3 2-.8 2-1 2-.8 2-.8 2-.8 2-.8 2-.4 2-.1 2 1.1 2 1.6 2 1.8 2 1.8 2 1.7 2 .6 2 .1 2-.3 2-.4 2-.5 2-.7 2-.8 2-.6 2-.2 2 .1 2 .2 2 .1 2 0 2-.1 2-.2 1.9-.2M72.2 748.7l2 0 2 0 2 0 2 0 2 0 2 .3 2 .7 2 .4 2 0 2-.7 2-.7 2 0 2 0 2 0 2 0 2 .8 2 2.3 2 1.8 2 1 2 .3 2-.2 2-.4 2-.6 2-.7 2-1.1 2-1.6 2-1.9 2-.2 2 0 2-.1 2-.1 2 0 2-.1 2-.1 2 0 2-.1 2-.1 2 0 2-.1 2 .2 2 .8 2 .1 2 .1 2 .5 2 .9 2 .7 2-.2 2-1.3 2-1.8 2-1.6 2-.6 2-.2 2 .1 2 .4 2 .8 2 1 2 .7 2 .5 2 .3 2 0 2-.3 2-.3 2-.4 2-.4 2-.2 2-.2 2-.1 2-.3 2-.6 2-.8 2-.5 2 .1 2 .4 2 .4 2 .2 2-.3 2-.4 2-.3 2 0 2 .5 2 .6 2 .6 2 .4 2 .3 2 .3 2 .4 2 .3 2 .1 2 0 2-.6 2-1 2-.8 2-.6 2-.7 2-1 2-1.2 2-.9 2-.4 2 .1 2 .5 2 .6 2 .2 2-.1 2-.1 2-.1 2-.3 2-.2 2-.1 2 .2 2 .3 2 .5 2 0 2 0 2 0 2 0 2 .2 2 .5 2 .4 2 0 2-.7 2-.9 2-.4 2 .4 2 1.2 2 1.1 2 .2 2-.7 2-.7 2-.1 2 .8 2 1.3 2 1 2 .7 2 .2 2 .1 2 .4 2 .3 2 0 2-.1 2 .3 2 .6 2 .6 2 .6 2 .8 2 1 2 .8 2 .2 2 .3 2-.2 2-.1 2 .4 2 1.1 2 .8 2 .5 2-.3 2-1.3 2-1.9 2-2.2 2-1.6 2 0 2 0 2 0 2 .4 2 .4 2 .2 2 .1 2 .1 1.9.1M72.2 762.1l2 0 2-.3 2-.6 2-.8 2-1.1 2-1.1 2-.7 2-.1 2 .6 2 .8 2 .7 2 .4 2-.1 2-.4 2-.6 2-.4 2 .1 2 .6 2 .8 2 .9 2 .8 2 .2 2-.6 2-1.2 2-1.4 2-1 2-.3 2 .4 2 .9 2 .9 2 .6 2 .3 2 .1 2-.1 2-.3 2-.5 2-.6 2-.5 2-.3 2 0 2 0 2 0 2 .2 2-.1 2-.6 2-1.3 2-1.6 2-1.3 2-.5 2 .3 2 1.2 2 1.2 2 1 2 1 2 .8 2 .5 2 0 2-.4 2-.7 2-.9 2-.7 2-.2 2 .1 2 .1 2-.3 2-.6 2-.8 2-.5 2 .2 2 .9 2 1.5 2 1.5 2 1 2 .5 2 .2 2-.1 2-.4 2-.5 2-.7 2-.7 2-.7 2-.4 2-.3 2-.1 2-.2 2-.3 2-.3 2-.2 2 0 2-.2 2-.3 2-.1 2 .1 2 0 2-.4 2-.6 2-.6 2-.2 2 0 2-.1 2-.5 2-.7 2-.8 2-.5 2-.3 2-.1 2 .2 2 .7 2 1 2 .9 2 .5 2 0 2-.1 2 .2 2 .3 2 .3 2 0 2-.1 2-.2 2-.2 2 0 2 .3 2 .4 2 .8 2 .5 2-.1 2-.6 2-.9 2-.8 2-.1 2 .4 2 .6 2 .2 2-.3 2-.3 2 .4 2 1 2 1.3 2 1.1 2 .9 2 .8 2 .4 2 .1 2-.4 2-.7 2-.6 2-.2 2 .8 2 1.3 2 1.3 2 .9 2 .3 2-.6 2-.9 2-.9 2-.7 2-.3 2 .1 2 .2 2 0 2-.5 2-1 2-1 2-.7 2 0 2 .6 2 1.1 1.9 1M72.2 768l2-.1 2 .2 2 .3 2 .4 2 .5 2 .3 2-.1 2-.4 2-.3 2 .1 2 .4 2 .4 2 .1 2-.2 2-.6 2-.7 2-.6 2-.2 2 .1 2 .2 2 .1 2 0 2 0 2 .2 2 .5 2 .4 2 .1 2-.2 2-.4 2-.6 2-.5 2-.3 2-.2 2-.1 2 .2 2 .5 2 .7 2 .6 2 .1 2-.4 2-.8 2-.8 2-.5 2-.1 2-.2 2-.3 2-.5 2-.3 2 .3 2 .8 2 1.2 2 1 2 .2 2-.5 2-.7 2-.4 2 0 2 .2 2 .1 2 .1 2 .2 2 .1 2-.1 2-.6 2-.7 2-.7 2-.7 2-.5 2-.2 2 .3 2 .8 2 .9 2 .6 2 .4 2 0 2-.2 2-.4 2-.3 2-.5 2-.5 2-.7 2-.5 2-.3 2 0 2 .3 2 .6 2 .5 2 .6 2 .4 2 .2 2 0 2-.4 2-.5 2-.7 2-.8 2-.6 2-.3 2-.1 2 .2 2 .3 2 .3 2 .2 2 .1 2 .1 2 .2 2 .2 2 .2 2 .1 2 .2 2 .2 2 0 2-.3 2-.2 2 .1 2 .2 2 0 2-.1 2-.4 2-.4 2-.4 2-.3 2-.1 2-.1 2 .2 2 .3 2 .5 2 .5 2 .7 2 .4 2 .1 2-.2 2-.3 2 0 2 .3 2 .3 2 .3 2 .1 2-.2 2-.4 2-.1 2 .4 2 .7 2 .9 2 .6 2 .2 2 0 2-.1 2 .1 2 0 2 0 2 0 2 .2 2 .1 2 .4 2 .5 2 .5 2 .1 2-.3 2-.4 2-.3 2-.1 2 0 2 .1 2 .2 2 .2 2 .3 2 .3 1.9.2M72.2 758.3l2 0 2-.6 2-.9 2-1 2-.8 2-.5 2 .3 2 1.1 2 1.6 2 1.5 2 .9 2 .2 2-.7 2-1.3 2-1.5 2-1.2 2-.6 2 0 2 .4 2 .4 2 .1 2 0 2-.1 2 .2 2 .2 2 .1 2-.4 2-.9 2-1.2 2-.7 2 0 2 .7 2 1.1 2 .8 2 .3 2-.3 2-.4 2-.1 2 .5 2 .6 2 .2 2-.1 2-.2 2-.1 2 .2 2 .3 2 0 2-.6 2-1.3 2-1.2 2-.2 2 .5 2 .7 2 .4 2-.2 2-.5 2-.3 2 0 2 .3 2 .4 2 .6 2 .9 2 .9 2 .4 2-.4 2-1 2-1.2 2-.9 2-.4 2 .1 2 .2 2 0 2-.5 2-.7 2-.8 2-.9 2-.7 2-.2 2 .3 2 .7 2 .9 2 .6 2 .4 2 .1 2 .1 2 .2 2 .4 2 .6 2 .5 2 .3 2 .3 2 .4 2 .3 2-.1 2-.7 2-1.1 2-.9 2-.6 2-.6 2-.9 2-1.5 2-1.9 2-1.9 2-.8 2 .6 2 1.4 2 1.6 2 1 2 .1 2-1 2-1.4 2-1.6 2-.8 2 .5 2 1.5 2 1.7 2 1.1 2 .4 2-.2 2-.7 2-1 2-1 2-.5 2 .6 2 1.3 2 1.4 2 1.1 2 .8 2 .6 2 .2 2-.2 2-.2 2-.3 2-.3 2-.3 2 .1 2 .5 2 .8 2 .5 2 .5 2 .5 2 .7 2 .8 2 .5 2 .1 2-.5 2-.8 2-.1 2 .2 2 .6 2 .6 2 .4 2-.4 2-.7 2-.6 2-.5 2-.4 2-.5 2-.7 2-.5 2 .2 2 1 2 2 2 2.1 2 1.5 2 .3 2-.6 1.9-.8M72.2 761.1l2 .6 2 .5 2 .1 2-.5 2-.9 2-1.1 2-.6 2 .1 2 .5 2 .6 2 .2 2-.5 2-1.1 2-1.4 2-1.1 2-.4 2 .6 2 1.6 2 2 2 1.7 2 1.3 2 .8 2 .4 2 .2 2-.2 2-.8 2-1.2 2-1.2 2-.8 2-.2 2 .4 2 .7 2 .4 2 .1 2 0 2 0 2 .1 2-.1 2-.4 2-.8 2-.8 2-.5 2 0 2 .1 2-.4 2-.9 2-.9 2-.4 2 .2 2 .7 2 1 2 .6 2 .2 2-.2 2-.5 2-.8 2-.8 2-.7 2-.2 2 .3 2 .3 2 .3 2-.1 2-.6 2-.5 2-.2 2 .4 2 .4 2 .2 2-.1 2-.1 2 .1 2-.1 2-.5 2-.7 2-.7 2 0 2 .5 2 .8 2 .2 2-.4 2-.5 2 0 2 .6 2 .9 2 .5 2 0 2-.4 2-.3 2-.2 2 0 2-.2 2-.5 2-.6 2-.1 2 .6 2 1.2 2 .8 2 0 2-.9 2-1.1 2-.8 2-.7 2-.2 2 0 2-.1 2 .1 2 .2 2 .4 2 .4 2 .4 2 0 2 .1 2 .5 2 .8 2 .7 2 .3 2-.4 2-.6 2-.7 2-.7 2-.8 2-1 2-.7 2-.4 2 .1 2 .7 2 1 2 .6 2-.3 2-1 2-.7 2 .3 2 1.8 2 2.6 2 2.7 2 1.9 2 .6 2-.9 2-1.6 2-1.7 2-1.2 2-.3 2 .6 2 .7 2 .1 2-.5 2-.3 2-.1 2 .2 2 .6 2 .6 2-.2 2-.3 2-.1 2 .4 2 .7 2 .5 2 .2 2-.5 2-1 2-1.2 2-.6 2 .3 2 .9 2 1.1 2 1 1.9.7M72.2 760.9l2-.1 2-.5 2-.6 2-.6 2-.7 2-.6 2-.2 2 .3 2 .7 2 .8 2 .3 2 0 2-.1 2 .2 2 .6 2 .7 2 .5 2-.1 2-.6 2-.7 2-.6 2-.3 2 .1 2 .4 2 .4 2 .1 2-.5 2-.6 2-.1 2 .5 2 .5 2 .3 2-.2 2-.1 2-.1 2-.1 2-.1 2-.4 2-.3 2-.2 2-.1 2-.1 2-.2 2-.4 2-.3 2 0 2 .3 2 .2 2-.5 2-.8 2-.5 2-.4 2-.4 2-.8 2-.9 2-.5 2 .4 2 1.3 2 1.6 2 1.5 2 1 2 .7 2 .2 2-.2 2-.4 2-.7 2-.7 2-.7 2-.5 2-.5 2-.6 2-.8 2-.7 2-.2 2 .6 2 1 2 1.3 2 1.1 2 .5 2-.2 2-.8 2-.9 2-.7 2-.3 2-.4 2-.4 2-.2 2 .2 2 .4 2-.1 2-.6 2-.8 2-.6 2-.3 2 0 2 0 2-.1 2-.1 2-.2 2-.4 2-.6 2-.7 2-.8 2-.1 2 .7 2 1.2 2 1.1 2 .4 2-.1 2-.2 2 .4 2 .8 2 1.2 2 .9 2 .2 2-.8 2-1.1 2-1 2-.7 2-.4 2-.3 2 0 2 0 2 .2 2-.1 2-.2 2-.2 2 .3 2 .7 2 .9 2 1 2 1.1 2 .9 2 .9 2 1 2 1.2 2 1.1 2 .8 2 .5 2 .3 2-.1 2-.8 2-1.4 2-1.5 2-1.1 2-.5 2 0 2 .7 2 .4 2 0 2-.6 2-.7 2-1 2-.3 2 .3 2 .6 2 .6 2 .4 2 .2 2 .3 2 .5 2 .7 2 1 2 1.1 2 .8 2 .2 2-.3 1.9-.7M72.2 760.7l2 .2 2-.2 2-.5 2-.7 2-.9 2-.9 2-.7 2-.3 2 0 2-.1 2-.4 2-.7 2-.4 2 .1 2 .6 2 .9 2 .7 2 .2 2-.2 2-.4 2-.4 2-.3 2-.1 2 .1 2 .1 2 .2 2 .4 2 .4 2 0 2-.4 2-.5 2-.4 2-.1 2 0 2 .1 2 .4 2 .9 2 .9 2 .4 2-.6 2-1.5 2-1.6 2-.8 2 .5 2 1.4 2 1.6 2 1 2 .1 2-.7 2-1 2-.7 2-.5 2-.4 2-.1 2 .2 2 .2 2 0 2-.2 2-.1 2 0 2-.1 2-.1 2-.2 2-.4 2-.4 2-.6 2-.5 2-.5 2-.6 2-.8 2-.8 2-.5 2 .1 2 .5 2 .5 2 0 2-.5 2-.4 2 .2 2 .9 2 1.2 2 1 2 .6 2 .1 2-.2 2-.4 2-.3 2 .1 2 .7 2 .7 2 .7 2 .4 2 .3 2-.1 2-.8 2-1.6 2-1.8 2-1.7 2-1.3 2-1.1 2-1.1 2-1.2 2-1.1 2-.3 2 .5 2 1.2 2 1.5 2 1.5 2 1.4 2 1 2 .6 2-.1 2-.6 2-.9 2-1 2-.8 2-.3 2 .3 2 .8 2 .8 2 .4 2 0 2-.4 2-.2 2 0 2 .6 2 1.2 2 1.8 2 1.6 2 1 2 .4 2 0 2 .1 2 .3 2 .6 2 .9 2 .8 2 .2 2-.4 2-.6 2-.3 2 0 2-.2 2-.6 2-.9 2-1.1 2-.8 2-.4 2-.3 2 .1 2 .5 2 1 2 .7 2 .5 2 .4 2 .2 2 .2 2 0 2 .1 2 .4 2 .7 2 .7 2 .2 2-.2 2-.7 2-.9 2-.9 1.9-1.1M72.2 762.1l2 .1 2 0 2 0 2-.2 2-.4 2-.7 2-.6 2-.4 2-.2 2-.3 2-.4 2-.1 2 .5 2 1.1 2 1.3 2 1.2 2 .6 2 .1 2-.1 2 0 2 .3 2 .3 2 .1 2 0 2-.2 2 0 2-.1 2-.3 2-.5 2-.5 2-.4 2-.1 2-.2 2-.2 2-.2 2 .2 2 .8 2 1 2 .6 2-.1 2-1 2-1.3 2-1 2-.6 2-.1 2 0 2-.2 2-.5 2-.8 2-1 2-.3 2 0 2 .3 2 .3 2 .3 2 .4 2 .3 2 0 2-.3 2-.4 2 0 2 .7 2 .9 2 .5 2-.2 2-.5 2-.5 2-.1 2 .1 2-.1 2-.4 2-.3 2 0 2 .5 2 .7 2 .2 2-.4 2-1 2-1 2-.5 2 0 2 .3 2 .3 2 .6 2 .7 2 .6 2 .3 2-.1 2-.2 2-.3 2-.5 2-.8 2-1 2-.9 2-.5 2 .1 2 .2 2 .1 2-.4 2-.7 2-.6 2-.3 2-.1 2 .3 2 .4 2 .2 2 .6 2 .8 2 1.1 2 .9 2 .4 2-.3 2-.5 2-.3 2-.2 2 0 2 .1 2 .3 2 .6 2 .6 2 .4 2 .2 2 .3 2 .5 2 .2 2-.4 2-1.3 2-1.8 2-1.6 2-.7 2 .3 2 1.1 2 1.5 2 1.4 2 1.1 2 .8 2 .5 2 .1 2-.2 2 0 2-.2 2-.4 2-.6 2-.4 2 .1 2 .2 2 0 2-.1 2-.4 2 .1 2 .9 2 1.3 2 1.1 2 1 2 .5 2 .2 2-.2 2-.5 2-.5 2-.2 2 .2 2 .6 2 .6 2 .5 2 .2 2 0 2-.3 1.9-.3M72.2 761.4l2-.2 2-.3 2-.2 2 .1 2 .5 2 .3 2-.1 2-.5 2-.5 2-.3 2 0 2 .2 2 .5 2 .4 2 .2 2-.4 2-.7 2-.7 2-.2 2 .3 2 .4 2 .3 2 .2 2 0 2-.1 2 0 2 .1 2-.1 2-.4 2-.7 2-.7 2-.3 2 .2 2 .6 2 .4 2 .2 2 0 2 0 2-.1 2 0 2 .2 2 .5 2 .7 2 .5 2-.1 2-.8 2-1.3 2-1.3 2-1.2 2-.9 2-.4 2-.2 2 0 2 .3 2 .3 2 .4 2 .4 2 .5 2 .7 2 .6 2 .2 2-.5 2-.9 2-1 2-.8 2-.1 2 .3 2 .1 2-.4 2-.6 2-.5 2 .1 2 .4 2 .5 2 .7 2 .5 2 0 2-.4 2-1 2-1.1 2-.6 2 .3 2 .9 2 1.2 2 .9 2 .5 2 .1 2 .1 2 .4 2 .2 2 .1 2-.2 2-.7 2-1 2-.9 2-.3 2 .1 2 .3 2 .2 2 .2 2-.1 2-.4 2-.6 2-.1 2 .6 2 .5 2 .1 2 0 2 .5 2 1.5 2 2.1 2 1.3 2 .3 2-.6 2-1.1 2-.9 2-.6 2-.5 2-.6 2-.9 2-.8 2-.6 2-.5 2 0 2 .5 2 .7 2 .8 2 .4 2-.2 2-.7 2-.8 2-.4 2 .3 2 1.1 2 1.6 2 1.7 2 1.2 2 .6 2-.1 2-.4 2-.6 2-.6 2-.2 2 .3 2 .5 2 .4 2 .1 2 .3 2 .1 2 0 2 .1 2 .1 2-.1 2 .2 2 .6 2 .5 2 .1 2-.4 2-.4 2-.2 2 .1 2 .3 2 .5 2 .3 2-.2 2-.8 2-1.1 1.9-.8M72.2 760.9l2-.5 2-1 2-1.1 2-.6 2-.4 2-.3 2-.3 2 .1 2 .3 2 .4 2 .2 2 .2 2 0 2-.7 2-1.1 2-1 2-.5 2 0 2 .2 2 .2 2 .1 2 .2 2 .6 2 1.4 2 1.6 2 1.2 2 .3 2-.4 2-.3 2-.1 2 0 2-.1 2-.4 2-.3 2-.1 2 .1 2 .3 2 .3 2 .4 2 .2 2-.1 2-.3 2-.3 2-.6 2-1.1 2-1.5 2-1.6 2-1.1 2-.4 2 0 2 .6 2 .6 2 .6 2 .4 2 0 2 .2 2 .6 2 .6 2 .4 2-.3 2-.9 2-.8 2-.6 2-.5 2-.5 2-.5 2-.4 2 0 2 .4 2 .6 2 .5 2 0 2-.5 2-.8 2-.6 2-.6 2-.8 2-1 2-.9 2-.3 2 .3 2 .9 2 1.1 2 1.2 2 1 2 .6 2 .2 2 0 2 .1 2 0 2 .2 2 0 2-.6 2-1 2-1.2 2-1 2-.4 2 .1 2 .1 2-.1 2-.4 2-.8 2-.8 2 0 2 1 2 1.5 2 1.7 2 1.4 2 1 2 .7 2 .2 2-1 2-2 2-2.4 2-1.8 2-.7 2 .4 2 1 2 .8 2 .4 2 0 2-.1 2 0 2 .2 2 .3 2 .2 2 .2 2 .4 2 .6 2 .6 2 .6 2 .9 2 1.3 2 1.3 2 1.1 2 .6 2 0 2-.5 2-.9 2-.7 2-.4 2-.4 2-.6 2-.6 2-.3 2 .3 2 .9 2 1.1 2 .4 2-.3 2-.2 2 .3 2 .5 2 1 2 1.3 2 1.1 2 .5 2 0 2-.2 2 .1 2 .4 2 .2 2-.3 2-.6 2-.8 2-.8 2-.5 1.9-.2M72.2 756.5l2 .3 2 .5 2 .7 2 .9 2 1 2 .8 2 .5 2 .2 2-.2 2-.4 2-.5 2-.2 2-.1 2 0 2-.1 2-.4 2-.6 2-.4 2 0 2 .3 2 .3 2-.1 2-.4 2-.6 2-.5 2-.1 2 .2 2 .8 2 1 2 .9 2 .3 2-.6 2-1.5 2-1.7 2-1.4 2-.8 2-.2 2-.2 2-.2 2-.2 2 .2 2 .6 2 .7 2 .5 2 .1 2-.4 2-.9 2-1 2-1 2-.5 2 .5 2 .8 2 .7 2 .4 2 .5 2 .5 2 .7 2 .7 2 .5 2 .3 2 0 2-.2 2-.5 2-1.1 2-1.4 2-1.4 2-1 2-.5 2 .1 2 .5 2 .7 2 .9 2 .9 2 .8 2 .5 2-.2 2-1 2-1.4 2-1.6 2-1.1 2-.3 2 .7 2 1.1 2 .9 2 .4 2-.1 2-.3 2-.4 2-.3 2-.6 2-.8 2-.6 2-.6 2-.5 2-.5 2-.6 2-.5 2-.5 2-.5 2-.2 2 .4 2 .7 2 .6 2 .6 2 .9 2 .9 2 1 2 .8 2 .3 2 0 2-.3 2-.8 2-.9 2-.7 2-.3 2 .2 2 .6 2 .8 2 .8 2 .5 2 .4 2 .4 2 .3 2 .3 2-.1 2-.4 2-.2 2 0 2 .1 2 0 2-.1 2-.1 2 .2 2 .4 2 .7 2 .9 2 .7 2 0 2-1 2-1.2 2-1 2-.6 2-.2 2 .2 2 .4 2 .5 2 .6 2 1.1 2 .9 2 .7 2 .6 2 .5 2-.1 2-.4 2-.4 2-.4 2-.3 2-.5 2-.7 2-.8 2-.4 2 .2 2 .6 2 .8 2 .9 2 .7 2 .6 1.9.5M72.2 757l2 .8 2 1.4 2 1.1 2 .4 2-.6 2-1.2 2-.9 2-.4 2 0 2-.2 2-.5 2-.7 2-1.1 2-1.2 2-1.3 2-1.1 2-.5 2 .1 2 1 2 1.4 2 1.4 2 .8 2 .2 2 0 2-.1 2-.1 2-.2 2-.5 2-.7 2-.3 2 .3 2 .8 2 .7 2 .1 2-.4 2-.6 2-.6 2-.1 2 .4 2 .6 2 .6 2 .5 2 .5 2 .4 2 0 2-.3 2-.5 2-.8 2-1.1 2-1.2 2-.8 2-.8 2-.6 2-.4 2 0 2 .3 2 .3 2 .3 2 .1 2 .1 2-.3 2-.4 2-.7 2-1 2-.9 2-.4 2 .1 2 .7 2 1.1 2 1.1 2 .8 2 .3 2-.2 2-.5 2-.4 2-.5 2-.7 2-.9 2-.9 2-.6 2-.2 2 .5 2 .9 2 1.3 2 1.2 2 .5 2-.3 2-.5 2-.3 2-.4 2-.6 2-1 2-1.1 2-1.1 2-.6 2 .1 2 .6 2 .7 2 .3 2-.3 2-.5 2-.5 2-.3 2 .3 2 .6 2 .6 2 .8 2 1.1 2 1.6 2 1.7 2 1.3 2-.1 2-1.2 2-1.9 2-1.9 2-1.7 2-1.1 2-.2 2 .9 2 1.5 2 1.1 2 .3 2-.6 2-.4 2 .1 2 .4 2 .6 2 .2 2 .1 2 .2 2 .9 2 1.6 2 1.7 2 1.1 2 .3 2-.4 2-1 2-1.2 2-1.3 2-.4 2 .5 2 1 2 .7 2 .1 2-.8 2-1.3 2-1 2 .3 2 1 2 1.2 2 .8 2 .2 2-.4 2 .4 2 1.3 2 1.5 2 .4 2-.6 2-1.2 2-.9 2-.5 2-.2 2-.4 2-.4 2-.4 2-.2 2 .1 1.9.3M72.2 752.2l2 .3 2 .6 2 .2 2-.5 2-.7 2-.7 2-.4 2 .1 2 .3 2 .8 2 1.2 2 1.6 2 1.4 2 .6 2-.2 2-.7 2-.5 2 .2 2 .8 2 .8 2 .1 2-.7 2-1.1 2-.8 2-.5 2 0 2 .2 2 .1 2-.1 2-.5 2-1.1 2-1.6 2-1.7 2-1.4 2-.5 2-.1 2 .6 2 1 2 1 2 .6 2 .1 2-.2 2-.3 2-.2 2 .1 2 .5 2 .7 2 .6 2 0 2-.8 2-.7 2-.7 2-.3 2-.1 2-.3 2-.7 2-.7 2-.1 2 .9 2 1.6 2 1.5 2 .9 2-.1 2-1.1 2-1.6 2-1.5 2-.8 2 .2 2 .7 2 .6 2 0 2-.8 2-1.1 2-1 2-.7 2-.5 2-.2 2 .1 2 .2 2 .4 2 .4 2 .6 2 .7 2 .6 2 .4 2 .3 2 .6 2 .7 2 1 2 .7 2 .4 2-.2 2-.9 2-1.1 2-.8 2-.3 2 .1 2-.2 2-.5 2-.8 2-.7 2-.2 2 .2 2 .9 2 1.3 2 .6 2-.4 2-1.3 2-1.2 2-.3 2 .5 2 .3 2-.1 2-.5 2-.5 2 0 2 .6 2 .5 2-.2 2-1.4 2-2.1 2-1.8 2-.9 2 .7 2 1.4 2 1.4 2 1.2 2 1 2 .8 2 .6 2 .4 2 .4 2 .6 2 .7 2 .7 2 .7 2 .9 2 1.1 2 .8 2 .6 2-.1 2-.4 2-.4 2-.5 2-.7 2-1 2-.8 2 .1 2 .4 2 .7 2 .9 2 1.4 2 1.1 2 1.2 2 .9 2 .2 2-.4 2-.8 2-1.2 2-1 2-.6 2 0 2 .6 2 .7 2 .7 2 .7 2 .7 1.9.6M72.2 765.4l2-.3 2-.5 2-.6 2-.8 2-.6 2-.1 2 .3 2 .6 2 .6 2 .6 2 .4 2 .1 2-.1 2-.4 2-.4 2-.4 2 0 2 .1 2 .3 2 .2 2-.2 2-.5 2-.5 2 0 2 .4 2 .7 2 .9 2 .8 2 .4 2 0 2-.1 2-.1 2 0 2-.4 2-1 2-1.5 2-1.4 2-.9 2-.3 2 .2 2 .4 2 .2 2 .3 2 .4 2 .4 2 .4 2 .1 2-.2 2-.3 2-.3 2 .1 2 .2 2 .4 2 .3 2 .1 2-.3 2-.3 2-.1 2 .2 2 .2 2 0 2-.3 2-.4 2-.5 2-.4 2-.2 2 .3 2 .7 2 .9 2 .4 2-.1 2-.4 2-.3 2 0 2 .3 2 0 2-.3 2-.6 2-.5 2-.2 2 .3 2 .6 2 .5 2 .4 2 .1 2-.2 2-.3 2 0 2 .4 2 .4 2 .1 2-.5 2-1 2-1.4 2-1.1 2-.8 2-.4 2-.3 2-.4 2-.4 2-.4 2-.2 2-.1 2 .4 2 1 2 1.1 2 .9 2 .4 2 .3 2 .3 2 .5 2 .2 2 .2 2 0 2-.1 2-.2 2-.1 2 .1 2 .2 2 .2 2-.1 2-.3 2-.3 2 .2 2 .6 2 .5 2-.1 2-.8 2-1.2 2-.9 2-.1 2 .6 2 .8 2 .8 2 .8 2 .6 2 .4 2 0 2-.4 2-.4 2-.2 2 0 2 .2 2 .5 2 .5 2 .3 2 0 2 .1 2-.1 2-.1 2 0 2 .4 2 .5 2 .5 2 .5 2 .1 2 .1 2-.1 2 0 2 0 2-.2 2-.2 2-.3 2-.2 2-.2 2-.3 2-.1 1.9-.1M72.2 750.3l2 1.2 2 .8 2 .2 2-.4 2-.6 2-.4 2-.4 2-.5 2-.8 2-.7 2 0 2 0 2 0 2 0 2 0 2-.1 2 .3 2 .2 2 .2 2-.1 2-.3 2-.5 2 0 2 0 2 0 2-.1 2 0 2 .3 2 1.3 2 2.1 2 2.2 2 1.8 2 .6 2-.8 2-1.9 2-2.6 2-2.6 2-1.1 2-.1 2 0 2 1.9 2 1.8 2 .8 2-.2 2-1 2-.9 2-.3 2 .4 2 .5 2 .2 2 0 2-.5 2-.7 2-.4 2-.3 2-.4 2-.8 2-1.1 2-.9 2-.1 2-.2 2 .7 2 .9 2 1.1 2 .9 2 .3 2-1.2 2-2.6 2-2.6 2-.3 2-.3 2-.1 2 .7 2 .1 2-.5 2-.8 2 .1 2 .2 2 .1 2 .1 2 .1 2 .1 2 2.3 2 2.1 2 1 2-.3 2-.9 2-.9 2-.4 2-.5 2-1 2-1.3 2-.8 2-.4 2 .2 2 1 2 .1 2-1.3 2-2 2-.5 2-.5 2 .7 2 1.5 2 1.5 2 1.2 2 .4 2-.3 2-.5 2 0 2 .6 2 1 2 .4 2 0 2-.4 2-.8 2-1.1 2-1.3 2-.9 2-.3 2-.1 2-.2 2-.6 2-.2 2 .3 2 .5 2 .4 2 .5 2 .5 2 .5 2 .4 2 .5 2 .4 2 .4 2 .5 2 .5 2 .9 2 .9 2 1.5 2 1.7 2 1 2 .2 2-.3 2-.4 2-.5 2-.3 2-.1 2 .2 2 .8 2 .3 2-.6 2-.7 2-.1 2 .5 2 1.4 2 1.2 2 .5 2-.1 2-.2 2-.2 2-.3 2-.5 2-.5 2-.6 2-.7 2-.7 2-.2 2 0 1.9.9M72.2 751.4l2 1 2 1.3 2 1 2 .1 2-.9 2-1 2-.2 2 .6 2 .5 2-.4 2-1.5 2-2.2 2-1 2 0 2 0 2 .2 2 1.4 2 .9 2 .4 2-.2 2-.3 2 .2 2 .8 2 1.2 2 1 2 .3 2-.6 2-1.2 2-1 2-.6 2 .1 2 .3 2 .4 2 .3 2 .2 2 0 2-.2 2-.4 2-.6 2-.8 2-1.1 2-1 2 0 2 1.1 2 1.6 2 1.3 2 .1 2-.9 2-1.3 2-1 2-.2 2 0 2-.2 2-.3 2-.1 2 .4 2 1.2 2 1.4 2 .9 2-.1 2-.5 2-.4 2-.3 2-.8 2-1 2-.8 2-.2 2 .1 2-.1 2-.3 2-.2 2 .4 2 .7 2 .6 2 .3 2-.2 2-.6 2-.9 2-.7 2-.1 2 1.1 2 1.7 2 1.5 2 .4 2-.8 2-1.8 2-1.8 2-1.3 2-.5 2 .1 2 .5 2 .5 2 .2 2-.1 2-.2 2-.3 2-.6 2-1 2-1.3 2-1.5 2-1.4 2-1.1 2-.7 2 .4 2 1.1 2 1 2 .7 2 .7 2 .9 2 .6 2 .1 2-.9 2-1.4 2-1.2 2-.5 2 .4 2 1.1 2 1.2 2 .9 2 .5 2 .1 2-.1 2-.5 2-.3 2-.5 2-.6 2-.6 2-.3 2 0 2 .2 2 .5 2 .4 2 .4 2 .9 2 1.6 2 2 2 1.5 2 .5 2-.7 2-.6 2-.3 2 .1 2 .3 2 .4 2 .7 2 1.2 2 1.6 2 1.9 2 .9 2-.2 2-.6 2 .1 2 .5 2 .8 2 .3 2-.6 2-1 2-.6 2 .1 2 .7 2 .6 2 .3 2-.1 2-.5 2-.3 2 .1 2 .5 1.9.6M72.2 751l2-.7 2-.8 2-.7 2-.1 2 0 2 .9 2 1.3 2 1.4 2 1 2 .4 2 .1 2-.1 2-.2 2-1 2-1.5 2-1.4 2-.8 2-.2 2 .2 2 .4 2 .7 2 1.1 2 1 2 .5 2-.3 2-1 2-1.1 2-.9 2-.9 2-.2 2-.1 2 0 2-.1 2-.1 2 0 2 .7 2 .1 2-.2 2 0 2 .5 2 .6 2 .4 2-.1 2-.8 2-1.6 2-2 2-.3 2-.4 2-.4 2-.3 2 .1 2 .2 2 .2 2 .2 2 .2 2 .2 2 .1 2 .2 2 .2 2-.1 2 .8 2 1.7 2 1 2 .3 2 0 2-.3 2-.8 2-1.7 2-2.5 2-1.5 2-.3 2-.3 2-.3 2 1 2 .5 2-.3 2-.7 2-.2 2 .1 2 .1 2 .1 2 .6 2 .7 2 .7 2 .5 2-.2 2-1.1 2-.5 2 .2 2-.3 2-.4 2-.4 2 .3 2-.4 2-1.1 2-.4 2-.4 2-.4 2-.4 2 0 2 .4 2 .2 2 .2 2 .9 2 1.6 2 1.5 2 .8 2 .2 2-.5 2-.8 2-.9 2-1.4 2-1 2-.2 2-.1 2-.1 2-.1 2-.1 2-.1 2-.2 2-.3 2-.2 2-.2 2 1.1 2 1.6 2 1.5 2 1 2 .5 2 .1 2 .2 2 .6 2 .5 2-.1 2-.8 2-.6 2 .7 2 .9 2 .5 2-.2 2-.2 2-.2 2 1.6 2 1.3 2-.3 2-1.9 2-1.6 2-.1 2 .7 2 .7 2 .6 2 .7 2 .7 2 0 2 .2 2 2.2 2 1.4 2 .2 2-.6 2-.4 2 .1 2 .6 2 .3 2-.7 2-1.8 2-1.5 2 0 2 0 1.9 0M72.2 753.8l2-.4 2 .2 2 .6 2 1.1 2 1.6 2 1.5 2 1 2 .3 2-.1 2 .2 2 .4 2 .1 2-.6 2-1.4 2-1.6 2-1 2 0 2 .7 2 1.1 2 .8 2-.3 2-1.4 2-1.8 2-1.4 2-.7 2 0 2 .6 2 1 2 1.1 2 .8 2 .3 2-.1 2-.1 2 0 2 .3 2 .6 2 .7 2 .6 2 .4 2 .1 2-.5 2-1.2 2-1.8 2-2 2-1.6 2-.8 2-.1 2 .3 2 .2 2 .1 2 .2 2 .1 2-.1 2-.1 2 .1 2 .3 2 .2 2 .2 2 .4 2 .4 2 .4 2 .4 2 .1 2 .1 2 .4 2 .4 2-.1 2-.9 2-1.1 2-.9 2-.4 2-.1 2 0 2 .4 2 .8 2 1 2 .6 2-.2 2-.7 2-1 2-.8 2-.3 2 .2 2 .7 2 .6 2 0 2-.5 2-.5 2-.1 2 0 2-.1 2-.3 2-.5 2-.5 2-.5 2-.6 2-.5 2-.1 2-.1 2-.4 2-1 2-1.1 2-.7 2 .1 2 .8 2 .9 2 1 2 .9 2 .8 2 .7 2 1 2 .7 2 .7 2 .4 2-.2 2-.6 2-1.1 2-1.4 2-1.6 2-1.2 2-.3 2 .9 2 1.6 2 1.6 2 .8 2 0 2-.2 2 0 2 .2 2 .1 2 0 2-.3 2-.2 2 0 2 .4 2 .4 2 .1 2-.4 2-.9 2-.5 2-.1 2 .2 2 .3 2 0 2-.4 2-.9 2-.9 2 .3 2 1.1 2 1.5 2 1.4 2 .8 2 .2 2 .4 2 .8 2 1 2 .7 2 .1 2 0 2 .2 2 .4 2 .1 2-.7 2-1.2 2-.9 2-.2 2 .5 1.9 1.2M72.2 762.8l2 .1 2 0 2-.2 2-.3 2-.5 2-.6 2-.6 2-.4 2 .2 2 1 2 2 2 2.4 2 1.7 2 .6 2-.7 2-1.2 2-1.1 2-.7 2-.4 2-.5 2-1 2-1.1 2-.9 2-.3 2 0 2 .3 2 .3 2 .4 2 .6 2 .9 2 .9 2 .7 2 .3 2-.1 2-.5 2-.6 2-.9 2-.9 2-.7 2-.3 2 0 2 .1 2-.2 2-.5 2-.9 2-.8 2-.6 2-.3 2 .2 2 .3 2 .6 2 .4 2 .5 2 .6 2 .9 2 .9 2 .7 2 .1 2-.7 2-1.2 2-1.1 2-.7 2-.1 2 .2 2 .3 2 .2 2 0 2-.3 2-.2 2 .1 2 .3 2 .1 2-.6 2-1 2-.7 2-.3 2-.2 2-.1 2-.2 2 .2 2 .7 2 1 2 1.2 2 .8 2 .4 2 0 2-.1 2-.1 2 .2 2 .2 2 0 2-.3 2-.5 2-.6 2-.4 2-.1 2 .1 2 .2 2-.2 2-.9 2-1.4 2-1.4 2-1 2-.1 2 .6 2 .7 2 .5 2 .1 2-.1 2 .1 2 .5 2 .6 2 .6 2 .6 2 .3 2 .2 2 .2 2 0 2-.3 2-.9 2-1.1 2-.7 2 0 2 .7 2 1 2 .6 2 .3 2-.2 2-.3 2 0 2 .5 2 1 2 1 2 .9 2 .6 2 .4 2 0 2-.2 2-.3 2 .1 2 .1 2-.1 2-.5 2-.6 2-.5 2-.2 2 .4 2 1.1 2 1 2 .3 2-.3 2-.3 2-.3 2 .2 2 .2 2-.1 2-.3 2 0 2 .5 2 .9 2 .6 2 0 2-.6 2-.9 2-.8 2-.2 2 .3 1.9.4M72.2 760.7l2-.6 2-.6 2-.7 2-.4 2-.1 2 .3 2 .4 2 .3 2 .2 2 .2 2 .3 2 .2 2 .1 2-.1 2 0 2 .1 2-.1 2-.4 2-.6 2-.5 2-.2 2 .1 2 .4 2 .7 2 .9 2 .9 2 .5 2 .2 2 .1 2 .4 2 .6 2 .5 2-.2 2-.8 2-1 2-.9 2-.5 2-.2 2-.2 2-.5 2-.8 2-1.1 2-1 2-.8 2-.5 2-.1 2 .4 2 .7 2 .9 2 .9 2 1 2 .4 2-.3 2-.8 2-1.2 2-1 2-.6 2-.1 2 .1 2 .2 2 .2 2 .5 2 .7 2 .6 2 .2 2 0 2 .1 2 .1 2 .2 2-.1 2-.4 2-.5 2-.6 2-.5 2-.5 2-.4 2-.3 2 0 2 .2 2 .1 2-.1 2-.1 2-.2 2-.4 2-.5 2-.6 2-.7 2-.4 2-.2 2 0 2 .2 2 .5 2 .4 2 .2 2-.3 2-.6 2-.7 2-.4 2-.1 2 .2 2 .4 2 .2 2-.2 2-.1 2 .1 2 .3 2 .5 2 .5 2 .2 2 .1 2 .1 2-.1 2-.1 2 0 2-.1 2 0 2 .1 2 .4 2 .7 2 .9 2 .9 2 .8 2 .2 2-.2 2-.5 2-.6 2-.5 2-.3 2-.1 2-.1 2 0 2 0 2 .1 2 .3 2 .4 2 .8 2 .6 2 .1 2-.6 2-.7 2-.6 2-.4 2-.3 2-.1 2 .3 2 .5 2 .5 2 .5 2 .1 2-.1 2 0 2 .2 2-.1 2 .4 2 .6 2 .7 2 .5 2 .4 2 .6 2 .7 2 .7 2 .2 2-.1 2-.5 2-.5 2-.1 2 .2 1.9.3M72.2 747.1l2-.1 2 .3 2 .5 2 .6 2 .7 2 .4 2 .3 2-.1 2-.2 2-.2 2-.2 2 .2 2 .5 2 .8 2 1 2 1 2 .7 2 .6 2 .2 2-.2 2-.6 2-1 2-1.2 2-1.2 2-1 2-.7 2-.4 2 0 2 .2 2 .4 2 .5 2 .3 2 .1 2-.1 2-.4 2-.6 2-.8 2-.9 2-.8 2-.4 2-.3 2 0 2 .2 2 .2 2 .2 2 .2 2 .1 2 .1 2 .1 2 .1 2 .5 2 .2 2 .2 2 0 2-.1 2-.1 2-.2 2-.3 2-.2 2-.5 2-.4 2-.4 2-.1 2-.2 2-.2 2-.3 2-.5 2-.6 2-.5 2-.1 2 .2 2 .4 2 .3 2 .1 2 .2 2-.1 2 0 2 .1 2 .1 2 0 2 0 2-.1 2-.2 2-.3 2-.3 2-.3 2-.3 2-.4 2-.3 2-.6 2-.6 2-.2 2 .2 2 .5 2 .6 2 .4 2 0 2-.2 2-.6 2-.6 2-.4 2-.3 2-.3 2 .3 2 .7 2 .4 2 .2 2-.2 2-.5 2-.5 2-.2 2-.2 2 .4 2 .9 2 1 2 .8 2 .3 2-.1 2-.7 2-.9 2-1.1 2-.9 2-.6 2 .1 2 .5 2 .4 2 .2 2 0 2 0 2 .2 2 .5 2 .8 2 1.2 2 1.3 2 1.3 2 1.3 2 1.1 2 .4 2-.4 2-.5 2-.4 2-.3 2-.3 2 0 2 .1 2 .3 2 .4 2 .8 2 .4 2 .2 2 .2 2 .4 2 .1 2 .4 2 .6 2 .7 2 .6 2 .5 2 .2 2-.2 2-.6 2-.7 2-.8 2-.7 2-.6 2-.4 2-.4 1.9-.2M72.2 750.3l2 .1 2 .1 2 0 2-.2 2-.4 2-.3 2-.3 2-.2 2-.1 2 0 2 .1 2 .3 2 .6 2 .8 2 .7 2 .3 2-.4 2-.8 2-1.2 2-1.1 2-.7 2-.4 2 .1 2 .3 2 .4 2 .3 2 .3 2 .4 2 .4 2 .3 2 .3 2 .3 2 .5 2 .6 2 .5 2 .2 2-.3 2-.8 2-1 2-1.1 2-1 2-.9 2-.6 2-.3 2-.2 2-.3 2-.6 2-.9 2-.7 2-.3 2 .9 2 1.2 2 1.3 2 .9 2 .5 2 .2 2 .2 2 .3 2 .3 2 0 2-.6 2-.9 2-1.3 2-1.5 2-1.5 2-1.2 2-.9 2-.5 2 0 2 .4 2 .7 2 .8 2 .5 2 .1 2-.2 2-.6 2-.8 2-.5 2 0 2 .5 2 .8 2 1 2 .9 2 .7 2 .4 2 .3 2 .2 2 .1 2 .2 2-.2 2-.5 2-.4 2-.4 2-.4 2-.3 2-.3 2-.6 2-.8 2-1.1 2-.9 2-.7 2-.3 2-.1 2 .6 2 .9 2 .9 2 .8 2 .6 2 .2 2-.1 2-.5 2-1.3 2-1.2 2-.9 2-.5 2-.1 2 .4 2 .8 2 1 2 .9 2 .7 2 .5 2 .2 2 .5 2 .4 2 .1 2 0 2-.2 2-.2 2-.1 2 0 2 .1 2 .3 2 .5 2 .8 2 1.5 2 1.5 2 1.2 2 .4 2 .2 2-.2 2-.7 2-1 2-1.2 2-1.1 2-.6 2-.2 2 .9 2 .9 2 .8 2 .7 2 .8 2 .1 2 .1 2-.2 2-.2 2-.2 2-.1 2 .3 2 .5 2 .5 2 .3 2-.1 2-.6 2-.6 2-.4 2 .2 1.9.8M72.2 750.9l2-1.2 2-1.1 2-.7 2 .1 2 .7 2 1.2 2 1.1 2 .7 2 .1 2-.2 2-.3 2-.1 2 0 2 .2 2 .1 2 .2 2 .1 2 0 2-.2 2-.4 2-.6 2-.4 2-.2 2 .2 2 .5 2 .6 2 .4 2 0 2-.4 2-.6 2-.9 2-.8 2-.8 2-.5 2-.3 2 .2 2 .6 2 .8 2 1 2 .7 2 .2 2-.2 2-.6 2-.7 2-.6 2-.5 2-.4 2-.4 2-.6 2-.7 2-.3 2-.3 2-.1 2 0 2 .2 2 .3 2 .5 2 .4 2 .4 2 0 2-.4 2-.4 2-.4 2-.3 2-.1 2-.1 2 0 2 0 2 0 2 .1 2 .2 2 0 2-.1 2-.3 2-.3 2-.7 2-.8 2-.8 2-.5 2-.1 2 .4 2 .7 2 .7 2 .4 2 0 2-.5 2-.8 2-.8 2-.4 2-.2 2-.2 2-.3 2-.4 2-.6 2-.6 2-.4 2-.2 2 .1 2 0 2 0 2-.2 2-.2 2-.4 2 .1 2 .4 2 .3 2 .4 2 .3 2 .4 2 .4 2 .4 2-.1 2-.3 2-.3 2-.3 2-.2 2 0 2 .3 2 .6 2 .8 2 1 2 .9 2 .7 2 .6 2 .4 2 .1 2 0 2 .1 2 .4 2 .5 2 .5 2 .3 2 .2 2 0 2 .1 2 .5 2 .6 2 .4 2-.1 2 0 2-.1 2-.2 2-.4 2-.5 2-.2 2 0 2 .5 2 1.3 2 1.1 2 .6 2 .3 2 .2 2-.4 2-.1 2 .3 2 .6 2 .6 2 .4 2 .1 2-.3 2-.7 2-.7 2-.7 2-.5 2-.3 2-.3 2-.2 1.9 0M72.2 749.5l2-.1 2 .1 2 .1 2 .4 2 .5 2 .6 2 .5 2 .1 2-.3 2-.5 2-.5 2-.6 2-.6 2-.7 2-.7 2-.7 2-.4 2 0 2 .5 2 .8 2 .9 2 .6 2 .3 2 .2 2 .1 2 .3 2 .2 2 .1 2-.2 2-.4 2-.3 2-.2 2 0 2 .1 2 0 2-.3 2-.5 2-.8 2-.8 2-.9 2-1 2-.9 2-.7 2-.5 2-.2 2 0 2-.1 2-.1 2-.1 2-.1 2 .6 2 .8 2 1 2 1.1 2 .9 2 .6 2 .4 2 .1 2 .1 2-.2 2-.2 2 .1 2 0 2 0 2-.3 2-.4 2-.6 2-.7 2-.7 2-.7 2-.7 2-.7 2-.5 2-.3 2 0 2 .1 2 .2 2 .1 2 0 2 .1 2 .3 2 .4 2 .6 2 .6 2 .4 2 .1 2 0 2 0 2 .1 2 0 2-.3 2-.7 2-1 2-1.2 2-1.1 2-.9 2-.6 2-.2 2-.3 2-.1 2-.1 2-.2 2-.4 2-.1 2 .1 2 .1 2 .2 2 .4 2 .5 2 .9 2 .9 2 .6 2 .6 2 .3 2 .1 2-.4 2-.5 2-.8 2-.7 2-.7 2-.6 2-.5 2-.3 2 .6 2 1 2 1.2 2 1.3 2 1.2 2 .9 2 .8 2 .8 2 .6 2 .6 2 .5 2 .5 2 .4 2 .2 2-.2 2-.8 2-.7 2-.5 2-.2 2 .1 2 .3 2 .5 2 .5 2 .3 2 .7 2 .6 2 .5 2 .6 2 .7 2 .2 2 0 2 0 2-.1 2-.2 2-.4 2-.5 2-.6 2-.5 2-.5 2-.3 2-.1 2 .2 2 .6 2 .6 1.9.7M72.2 752.2l2-.2 2-.1 2 .1 2 .2 2 .2 2 .2 2 .1 2 .1 2-.2 2-.3 2-.4 2-.4 2-.2 2-.2 2-.2 2-.1 2 0 2 .2 2 .4 2 .4 2 .4 2 .3 2 .2 2 .2 2 .2 2 .2 2 .2 2 .3 2 .3 2 .1 2-.2 2-.6 2-1.1 2-1.4 2-1.4 2-1.1 2-.5 2 .1 2 .5 2 .5 2 .2 2-.3 2-.4 2-.6 2-.5 2-.5 2-.4 2-.2 2 0 2 .2 2 .9 2 .9 2 .8 2 .7 2 .7 2 .5 2 .3 2 .4 2 .4 2 .2 2-.2 2-.4 2-.6 2-.9 2-1 2-1.3 2-1.3 2-1.3 2-1 2-.6 2-.4 2-.3 2-.3 2-.1 2 .3 2 .5 2 .8 2 .7 2 .4 2-.1 2-.5 2-.6 2-.2 2 .2 2 .5 2 .4 2 .2 2-.3 2-.5 2-.7 2-.6 2-.2 2 0 2 0 2-.2 2-.4 2-.7 2-.7 2-.8 2-.5 2-.3 2 .2 2 .6 2 1.3 2 1.7 2 1.4 2 .7 2 .1 2-.3 2-.4 2-.2 2-.5 2-.3 2-.2 2-.1 2 0 2 0 2 .1 2 0 2 0 2-.2 2-.2 2-.3 2 .1 2 .2 2 .3 2 .5 2 .5 2 .6 2 .6 2 .3 2 0 2 0 2 0 2 .5 2 .9 2 1.1 2 .9 2 .2 2 .4 2 .3 2 .3 2 0 2-.4 2-.7 2-1 2-.8 2 .2 2 .7 2 .9 2 1.1 2 .8 2 0 2-.4 2-.5 2-.4 2-.1 2 .2 2 .5 2 .6 2 .6 2 .3 2-.1 2-.4 2-.7 2-.9 2-.9 1.9-.8M72.2 748.9l2 0 2 0 2 0 2 0 2 0 2 0 2 0 2 0 2 0 2 0 2 0 2 0 2 0 2 0 2-.1 2 0 2 0 2-.1 2 0 2 0 2 0 2-.1 2 0 2 0 2-.1 2 0 2 0 2-.1 2-.1 2 0 2-.1 2-.1 2 0 2-.1 2-.1 2 0 2-.1 2 0 2-.1 2-.1 2-.2 2-.3 2-.4 2-.4 2-.3 2-.4 2-.4 2-.3 2-.4 2-.4 2 .2 2 .2 2 .2 2 .2 2 .1 2 .2 2 .2 2 .2 2 .2 2-.1 2-.3 2-.3 2-.3 2-.3 2-.3 2-.3 2-.3 2-.3 2-.3 2-.4 2-.3 2-.3 2-.3 2-.1 2 .1 2 .1 2 .1 2 .1 2 .1 2 .2 2 .1 2 .1 2 .1 2 .1 2 .1 2 .1 2 .1 2 .1 2 .1 2-.2 2-.4 2-.4 2-.4 2-.4 2-.4 2-.4 2-.4 2-.4 2-.5 2-.4 2-.5 2-.5 2-.5 2 0 2 .5 2 .5 2 .4 2 .5 2 .4 2 .5 2 .4 2 0 2-.1 2-.1 2-.2 2-.1 2-.1 2-.1 2-.1 2-.8 2-4.1 2-1.5 2 4.3 2 1.5 2 .5 2 .5 2 .5 2 .5 2 .4 2 .5 2 .5 2 .4 2 .4 2 .4 2 .6 2 .9 2 .9 2 .5 2-.2 2-.2 2-.2 2-.2 2-.2 2-.2 2-.1 2-.2 2-.1 2 .7 2 .6 2 .7 2 .7 2 .6 2 .1 2 0 2 0 2 0 2 0 2 0 2 0 2 0 2 0 2 0 2 0 2 0 2 0 2 0 2 0 1.9 0M72.2 751.5l2 0 2 0 2 0 2 0 2 0 2 0 2 0 2 0 2 0 2 0 2 0 2 0 2 0 2 0 2-.1 2 0 2 0 2-.1 2 0 2 0 2 0 2-.1 2 0 2 0 2-.1 2 0 2 0 2-.1 2-.1 2 0 2-.1 2-.1 2 0 2-.1 2-.1 2 0 2-.1 2 0 2-.1 2-.1 2-.2 2-.3 2-.4 2-.4 2-.3 2-.4 2-.4 2-.3 2-.4 2-.4 2 .2 2 .2 2 .2 2 .2 2 .1 2 .2 2 .2 2 .2 2 .2 2-.1 2-.3 2-.3 2-.3 2-.3 2-.3 2-.3 2-.3 2-.3 2-.3 2-.4 2-.3 2-.3 2-.3 2-.1 2 .1 2 .1 2 .1 2 .1 2 .1 2 .2 2 .1 2 .1 2 .1 2 .1 2 .1 2 .1 2 .1 2 .1 2 .1 2-.2 2-.4 2-.4 2-.4 2-.4 2-.4 2-.4 2-.4 2-.4 2-.5 2-.4 2-.5 2-.5 2-.5 2 0 2 .5 2 .5 2 .4 2 .5 2 .4 2 .5 2 .4 2 0 2-.1 2-.1 2-.2 2-.1 2-.1 2-.1 2-.1 2-.8 2-3.4 2-1.1 2 3.2 2 1.5 2 .5 2 .5 2 .5 2 .5 2 .4 2 .5 2 .5 2 .4 2 .4 2 .4 2 .6 2 .9 2 .9 2 .5 2-.2 2-.2 2-.2 2-.2 2-.2 2-.2 2-.2 2-.1 2-.1 2 .7 2 .6 2 .7 2 .7 2 .6 2 .1 2 0 2 0 2 0 2 0 2 0 2 0 2 0 2 0 2 0 2 0 2 0 2 0 2 0 2 0 1.9 0M72.2 781l2 0 2 0 2-.2 2-.1 2-.1 2-.1 2-.1 2 0 2 0 2 0 2 0 2 0 2-.1 2-.2 2-.3 2-.3 2-.4 2-.3 2-.1 2 0 2 .2 2 .3 2 .3 2 .3 2 .1 2 .2 2 .1 2 .1 2 .1 2 .2 2 0 2 .1 2 0 2 0 2 .1 2 .2 2 .3 2 .4 2 .3 2 .3 2 .2 2 .1 2 0 2 0 2-.2 2-.2 2-.3 2-.4 2-.3 2-.4 2-.2 2-.1 2-.1 2 .1 2-.1 2 0 2-.2 2-.1 2-.1 2 0 2 .2 2 .2 2 .4 2 .2 2 .2 2 .2 2 0 2 0 2 .1 2 .1 2 .2 2 .1 2 .1 2-.2 2-.3 2-.5 2-.4 2-.3 2-.1 2 .1 2 .3 2 .4 2 .4 2 .2 2-.1 2-.2 2-.5 2-.6 2-.6 2-.4 2-.3 2-.2 2 .1 2 .1 2 .2 2 .2 2 .1 2 .1 2 0 2 0 2-.1 2-.2 2-.1 2-.1 2 0 2 .1 2 .2 2 .3 2 .2 2 .1 2 .1 2 0 2 .1 2 .1 2 .2 2 .2 2 .2 2 .2 2 .2 2 0 2 0 2-.1 2-.2 2 0 2-.1 2 0 2 0 2 0 2-.1 2-.2 2-.2 2-.2 2-.2 2-.1 2 0 2 .1 2 .1 2 .2 2 .2 2 .1 2 0 2 0 2 0 2 0 2 .2 2 .2 2 .2 2 .3 2 .2 2 .1 2 .1 2-.1 2-.2 2-.3 2-.2 2-.2 2-.1 2 0 2 0 2 0 2-.1 2-.1 2-.1 2 0 2 .1 2 .2 2 .2 1.9.2M72.2 776.1l2 .2 2 .1 2 0 2 0 2 0 2-.1 2 0 2-.1 2 0 2-.1 2-.1 2-.1 2-.1 2-.2 2-.3 2-.2 2-.1 2 0 2 .1 2 .1 2 .1 2 .1 2-.1 2-.1 2-.1 2-.1 2-.1 2 .1 2 0 2 .1 2 .2 2 .2 2 .3 2 .3 2 .2 2 .1 2 0 2-.2 2-.4 2-.4 2-.3 2-.3 2-.2 2-.1 2 0 2 0 2 .1 2 0 2-.1 2 0 2 0 2 0 2 .1 2 .1 2 .1 2 .2 2 .2 2 .2 2 .2 2 .1 2 .1 2 .1 2 0 2 .2 2 .2 2 .2 2 .2 2 .2 2 .1 2 0 2-.1 2-.1 2-.2 2-.2 2-.2 2-.2 2-.2 2-.1 2 0 2 .2 2 .2 2 .4 2 .3 2 .4 2 .2 2 .1 2-.1 2-.2 2-.3 2-.3 2-.2 2-.1 2 0 2 .2 2 .2 2 .3 2 .2 2 .2 2 .1 2 0 2-.2 2-.2 2-.3 2-.2 2-.1 2-.1 2 .1 2 .2 2 .2 2 .2 2 .2 2 .1 2 .1 2 0 2 0 2 0 2 0 2 .1 2 0 2 .1 2 0 2 .1 2-.1 2-.1 2-.2 2-.3 2-.3 2-.4 2-.3 2-.2 2-.2 2-.1 2 0 2 0 2 0 2 .1 2 .2 2 .3 2 .2 2 .3 2 .3 2 .1 2 0 2-.1 2-.2 2-.3 2-.3 2-.4 2-.2 2-.2 2-.1 2 .1 2 .1 2 .1 2 0 2 0 2 0 2-.1 2 0 2-.1 2 .1 2 0 2 .2 2 .1 2 .1 2 0 2 0 1.9 0M72.2 778.5l2 .1 2 0 2 .2 2 .1 2 .1 2 0 2 0 2-.1 2-.2 2-.2 2-.2 2 0 2 0 2 .1 2 .1 2 .1 2 0 2 0 2-.1 2-.2 2-.2 2-.2 2-.1 2-.2 2-.1 2-.2 2-.2 2-.1 2-.2 2 0 2 0 2 .1 2 .2 2 .1 2 .2 2 .1 2 0 2-.2 2-.2 2-.3 2-.3 2-.1 2 .1 2 .4 2 .6 2 .6 2 .6 2 .5 2 .3 2 .2 2 0 2-.1 2-.2 2-.4 2-.3 2-.3 2-.2 2 0 2 .1 2 .1 2 .1 2-.1 2-.2 2-.5 2-.4 2-.4 2-.2 2-.1 2 0 2-.1 2-.1 2-.1 2-.2 2-.1 2-.1 2 0 2 0 2 .2 2 .2 2 .3 2 .5 2 .6 2 .6 2 .5 2 .2 2 .2 2 .1 2 0 2 .1 2 .1 2 0 2-.1 2-.2 2-.3 2-.4 2-.2 2-.1 2-.1 2 .1 2 0 2 0 2 0 2 .1 2 0 2 0 2 0 2 .1 2 .1 2 0 2 0 2 0 2-.1 2-.1 2-.1 2 0 2-.1 2-.1 2-.1 2 0 2 0 2 .1 2 .2 2 .2 2 .2 2-.1 2-.1 2-.4 2-.4 2-.3 2-.2 2 0 2 .2 2 .3 2 .4 2 .4 2 .3 2 .1 2 .1 2 0 2 0 2-.1 2-.2 2-.2 2-.3 2-.3 2-.3 2-.2 2 0 2 0 2 .1 2 .1 2 .1 2 0 2 .1 2 0 2 .1 2 0 2 0 2 0 2 0 2-.1 2 0 2 0 2 .2 2 .2 2 .3 2 .2 1.9.1M72.2 778.1l2-.2 2-.1 2 0 2 0 2 0 2 0 2 0 2 0 2-.1 2 0 2 0 2 .1 2 .1 2 .2 2 .1 2 .2 2 .1 2 .1 2 .2 2 .1 2 0 2-.1 2-.1 2-.1 2-.2 2-.1 2-.1 2 0 2 0 2 .1 2 .1 2 .2 2 .2 2 .2 2 .2 2 .1 2 .2 2 .1 2 0 2 .1 2 0 2-.1 2-.2 2-.3 2-.4 2-.2 2-.2 2 0 2 .1 2 .1 2 0 2 0 2-.1 2 0 2-.1 2 0 2 .1 2 .1 2 .1 2 .1 2 .2 2 .1 2 0 2 0 2 0 2-.1 2-.1 2 0 2 .1 2 0 2 .1 2-.1 2-.1 2-.2 2-.2 2-.2 2 0 2 0 2 .1 2 .1 2 .1 2 .1 2 .1 2 .1 2 0 2 0 2 0 2 .1 2 .1 2 .3 2 .2 2 .2 2 .2 2 0 2 0 2 0 2 0 2-.1 2-.1 2-.1 2-.2 2-.3 2-.2 2-.3 2-.3 2-.4 2-.3 2-.3 2-.2 2-.2 2 0 2 0 2 .1 2 .3 2 .2 2 .3 2 .2 2 .2 2 0 2 0 2 0 2 .1 2 .1 2 .3 2 .2 2 .2 2 0 2-.1 2-.3 2-.2 2-.3 2 0 2 .2 2 .5 2 .6 2 .6 2 .5 2 .3 2 .1 2-.2 2-.3 2-.5 2-.6 2-.7 2-.7 2-.5 2-.5 2-.4 2-.2 2-.1 2 0 2 .2 2 .4 2 .4 2 .6 2 .5 2 .3 2 .3 2 .2 2 .1 2 0 2 0 2 0 2 0 2-.1 2 0 2 .1 1.9.1M72.2 780l2-.3 2-.3 2-.2 2-.3 2-.1 2 0 2 .1 2 .1 2 .2 2 .3 2 .3 2 .3 2 .2 2 .1 2 .1 2-.1 2-.2 2-.3 2-.2 2-.3 2-.3 2-.2 2-.3 2-.2 2-.2 2 0 2 .2 2 .3 2 .4 2 .3 2 .4 2 .1 2 .1 2 0 2 0 2 0 2-.1 2 0 2-.1 2-.1 2-.1 2 0 2-.1 2-.1 2-.1 2-.2 2-.2 2-.1 2 0 2 .1 2 0 2 .1 2 0 2 0 2 0 2 .1 2 .1 2 .1 2 .1 2 0 2-.1 2-.1 2-.2 2-.1 2 0 2 .1 2 .2 2 .1 2 .1 2 0 2-.1 2-.2 2-.1 2-.1 2-.1 2 0 2 0 2 .1 2 .1 2 .1 2 .3 2 .2 2 .2 2 .2 2 .1 2 0 2-.1 2 0 2-.1 2 .1 2 0 2 0 2 0 2-.1 2-.1 2-.1 2-.1 2-.1 2-.1 2 0 2-.1 2-.1 2-.1 2-.1 2 0 2 .1 2 .2 2 .2 2 .1 2-.1 2-.3 2-.5 2-.6 2-.6 2-.6 2-.2 2 0 2 .2 2 .3 2 .3 2 .2 2-.1 2-.2 2-.2 2-.2 2-.1 2 0 2 .3 2 .3 2 .4 2 .4 2 .4 2 .2 2 .1 2-.1 2-.2 2-.2 2-.1 2 0 2 .2 2 .2 2 .3 2 .3 2 .2 2 .2 2 .1 2-.1 2-.1 2-.3 2-.4 2-.4 2-.5 2-.5 2-.3 2-.1 2 0 2 .1 2 .3 2 .3 2 .3 2 .3 2 .3 2 .3 2 .2 2 .2 2 0 2 .1 1.9 0M72.2 778.3l2 0 2 .1 2 .2 2 .2 2 0 2-.1 2-.1 2-.3 2-.2 2-.2 2-.1 2-.1 2-.1 2-.1 2 0 2 0 2 .1 2 .3 2 .3 2 .4 2 .3 2 .2 2 0 2-.1 2-.3 2-.4 2-.3 2-.3 2-.2 2-.1 2 0 2 0 2 .1 2 .1 2 .1 2 0 2-.1 2-.2 2-.3 2-.3 2-.4 2-.4 2-.2 2-.1 2 .1 2 .3 2 .4 2 .3 2 .4 2 .2 2 .1 2 0 2-.1 2 .1 2 .1 2 .1 2 .2 2 .1 2 .1 2 .1 2 0 2-.1 2 0 2-.1 2-.2 2-.1 2-.2 2 0 2 .1 2 .1 2 .1 2 0 2 0 2 0 2 0 2 0 2 .1 2 .2 2 .2 2 .2 2 .3 2 .2 2 .2 2 .2 2 .2 2 .2 2 .1 2-.1 2-.1 2-.2 2-.3 2-.1 2-.2 2 0 2 0 2 0 2-.1 2-.1 2-.1 2-.2 2-.2 2-.3 2-.3 2-.3 2-.4 2-.3 2-.3 2-.1 2-.1 2 .1 2 .2 2 .2 2 .3 2 .3 2 .2 2 .2 2 0 2 0 2-.1 2-.2 2 0 2 0 2 .1 2 .1 2 .2 2 .1 2 .2 2 .1 2 .1 2 0 2-.1 2 0 2-.1 2-.1 2 0 2 0 2 .2 2 .1 2 0 2 0 2-.2 2-.3 2-.2 2-.2 2 .1 2 .2 2 .2 2 .2 2 .1 2 0 2-.2 2-.2 2-.1 2 0 2 .1 2 .2 2 .3 2 .2 2 .1 2-.2 2-.4 2-.6 2-.6 2-.6 2-.4 2-.1 2 0 1.9.2"/>
</g>
<rect x="100.60" y="431.20" width="471.20" height="354.50" fill="none" stroke="#000" stroke-width="1.9" stroke-linejoin="round"/>
<path d="M94.30,785.70H100.60M94.30,699.10H100.60M94.30,612.50H100.60M94.30,525.90H100.60M94.30,439.30H100.60M97.50,768.38H100.60M97.50,751.06H100.60M97.50,733.74H100.60M97.50,716.42H100.60M97.50,681.78H100.60M97.50,664.46H100.60M97.50,647.14H100.60M97.50,629.82H100.60M97.50,595.18H100.60M97.50,577.86H100.60M97.50,560.54H100.60M97.50,543.22H100.60M97.50,508.58H100.60M97.50,491.26H100.60M97.50,473.94H100.60M97.50,456.62H100.60M100.60,785.70V792.10M176.57,785.70V792.10M252.54,785.70V792.10M328.51,785.70V792.10M404.48,785.70V792.10M480.45,785.70V792.10M556.42,785.70V792.10" stroke="#000" stroke-width="1.9" stroke-linecap="round" fill="none"/>
<g transform="translate(88.90,796.00) scale(0.93,1)"><text x="0" y="0" text-anchor="end" font-size="28.2" font-family="Latin Modern Roman, 'LM Roman 10', 'Liberation Serif', serif" >0</text></g>
<g transform="translate(88.90,709.40) scale(0.93,1)"><text x="0" y="0" text-anchor="end" font-size="28.2" font-family="Latin Modern Roman, 'LM Roman 10', 'Liberation Serif', serif" >0.1</text></g>
<g transform="translate(88.90,622.80) scale(0.93,1)"><text x="0" y="0" text-anchor="end" font-size="28.2" font-family="Latin Modern Roman, 'LM Roman 10', 'Liberation Serif', serif" >0.2</text></g>
<g transform="translate(88.90,536.20) scale(0.93,1)"><text x="0" y="0" text-anchor="end" font-size="28.2" font-family="Latin Modern Roman, 'LM Roman 10', 'Liberation Serif', serif" >0.3</text></g>
<g transform="translate(88.90,449.60) scale(0.93,1)"><text x="0" y="0" text-anchor="end" font-size="28.2" font-family="Latin Modern Roman, 'LM Roman 10', 'Liberation Serif', serif" >0.4</text></g>
<g transform="translate(100.60,818.40) scale(0.93,1)"><text x="0" y="0" text-anchor="middle" font-size="28.2" font-family="Latin Modern Roman, 'LM Roman 10', 'Liberation Serif', serif" >0</text></g>
<g transform="translate(176.57,818.40) scale(0.93,1)"><text x="0" y="0" text-anchor="middle" font-size="28.2" font-family="Latin Modern Roman, 'LM Roman 10', 'Liberation Serif', serif" >1</text></g>
<g transform="translate(252.54,818.40) scale(0.93,1)"><text x="0" y="0" text-anchor="middle" font-size="28.2" font-family="Latin Modern Roman, 'LM Roman 10', 'Liberation Serif', serif" >2</text></g>
<g transform="translate(328.51,818.40) scale(0.93,1)"><text x="0" y="0" text-anchor="middle" font-size="28.2" font-family="Latin Modern Roman, 'LM Roman 10', 'Liberation Serif', serif" >3</text></g>
<g transform="translate(404.48,818.40) scale(0.93,1)"><text x="0" y="0" text-anchor="middle" font-size="28.2" font-family="Latin Modern Roman, 'LM Roman 10', 'Liberation Serif', serif" >4</text></g>
<g transform="translate(480.45,818.40) scale(0.93,1)"><text x="0" y="0" text-anchor="middle" font-size="28.2" font-family="Latin Modern Roman, 'LM Roman 10', 'Liberation Serif', serif" >5</text></g>
<g transform="translate(556.42,818.40) scale(0.93,1)"><text x="0" y="0" text-anchor="middle" font-size="28.2" font-family="Latin Modern Roman, 'LM Roman 10', 'Liberation Serif', serif" >6</text></g>
<g clip-path="url(#clipe)">
<path fill="#00f" d="M675.6 775.6l2.8-.1 2.8 0 2.8 0 2.8.1 2.8.1 2.8.1 2.8.1 2.8 0 2.8-.1 2.8-.2 2.8-.1 2.8 0 2.8-.1 2.8 0 2.8-.1 2.8-.1 2.8-.1 2.8.1 2.8.1 2.8.2 2.8.2 2.8.1 2.8 0 2.8 0 2.8-.1 2.8-.1 2.8-.1 2.8-.2 2.8-.2 2.8-.1 2.8-.1 2.8.1 2.8.1 2.8.2 2.8.1 2.8.1 2.8 0 2.8-.3 2.8-.3 2.8-.2 2.8-.1 2.8-.1 2.8.1 2.8 0 2.8.1 2.8.2 2.8.1 2.8 0 2.8 0 2.8 0 2.8.1 2.8.2 2.8.1 2.8.2 2.8 0 2.8 0 2.8-.1 2.8-.2 2.8-.3 2.8-.2 2.8-.2 2.8-.1 2.8.1 2.8.2 2.8.3 2.8.3 2.8.1 2.8 0 2.8-.2 2.8-.2 2.8-.2 2.8 0 2.8-.1 2.8 0 2.8 0 2.8.1 2.8.1 2.8.2 2.8.2 2.8.2 2.8.2 2.8.1 2.8 0 2.8-.1 2.8-.2 2.8-.2 2.8-.2 2.8-.1 2.8-.1 2.8-.1 2.8 0 2.8.1 2.8.1 2.8.1 2.8-.1 2.8-.1 2.8-.2 2.8-.1 2.8 0 2.8.1 2.8.1 2.8-.1 2.8 0 2.8-.2 2.8-.1 2.8-.1 2.8 0 2.8 0 2.8 0 2.8-.4 2.8-.6 2.8-.8 2.8-.4 2.8-1.5 2.8-1.4 2.8 1.8 2.8 1.2 2.8.3 2.8.1 2.8-.1 2.8-1.7 2.8-1 2.8 2.2 2.8.6 2.8.3 2.8.5 2.8.5 2.8.3 2.8 0 2.8-.1 2.8 0 2.8-.1 2.8.1 2.8.1 2.8.1 2.8.1 2.8.1 2.8 0 2.8 0 2.8-.1 2.8-.1 2.8-.1 2.8.1 2.8.3 2.8.3 2.8.2 2.8 0 2.8-.1 2.8-.1 2.8 0 2.8.2 2.8.1 2.8.1 2.8 0 2.8-.1 2.8-.1 2.8 0 2.8.1 2.8.2 2.8.1 2.8.1 2.8 0 2.8.1 2.8.1 2.8 0 2.8-.1 2.8-.1 2 0 0 8.3-2-.1-2.8 0-2.8 0-2.8 0-2.8 0-2.8.1-2.8 0-2.8-.1-2.8-.1-2.8-.2-2.8-.2-2.8-.2-2.8-.2-2.8-.1-2.8 0-2.8 0-2.8.1-2.8.2-2.8.1-2.8 0-2.8-.1-2.8-.1-2.8-.2-2.8-.1-2.8 0-2.8.1-2.8.1-2.8.2-2.8.2-2.8.2-2.8.2-2.8.1-2.8.1-2.8 0-2.8 0-2.8-.2-2.8-.1-2.8-.1-2.8-.2-2.8 0-2.8 0-2.8 0-2.8 0-2.8.1-2.8 0-2.8 0-2.8 0-2.8 0-2.8 0-2.8 0-2.8-.1-2.8 0-2.8 0-2.8 0-2.8 0-2.8-.1-2.8-.1-2.8-.1-2.8-.1-2.8.1-2.8.1-2.8.2-2.8.1-2.8.1-2.8.1-2.8 0-2.8-.1-2.8-.2-2.8-.1-2.8-.2-2.8-.1-2.8-.1-2.8 0-2.8 0-2.8.1-2.8 0-2.8-.1-2.8 0-2.8-.1-2.8-.1-2.8-.1-2.8.1-2.8.1-2.8.2-2.8.2-2.8 0-2.8.1-2.8 0-2.8 0-2.8.1-2.8 0-2.8.1-2.8.1-2.8.1-2.8 0-2.8 0-2.8 0-2.8 0-2.8-.1-2.8-.1-2.8 0-2.8-.1-2.8-.1-2.8 0-2.8 0-2.8 0-2.8.1-2.8 0-2.8.1-2.8.1-2.8 0-2.8 0-2.8-.1-2.8 0-2.8 0-2.8.1-2.8.1-2.8.1-2.8.2-2.8.1-2.8.1-2.8-.1-2.8-.1-2.8-.3-2.8-.3-2.8-.3-2.8-.3-2.8-.2-2.8-.1-2.8 0-2.8.1-2.8 0-2.8.1-2.8 0-2.8.1-2.8 0-2.8 0-2.8.1-2.8 0-2.8.1-2.8.1-2.8 0-2.8 0-2.8-.1-2.8-.1-2.8-.2-2.8-.1-2.8-.1-2.8 0-2.8.1-2.8.1-2.8.1-2.8.1-2.8.1-2.8.1-2.8.1-2.8.1-2.8.1-2.8 0-2.8-.1-2.8-.1-2.8-.2-2.8-.2-2.8-.2-2.8-.2-2.8-.1-2.8-.1-2.8-.1z"/>
</g>
<rect x="675.10" y="431.40" width="470.60" height="354.10" fill="none" stroke="#000" stroke-width="1.9" stroke-linejoin="round"/>
<path d="M668.80,785.50H675.10M668.80,698.95H675.10M668.80,612.40H675.10M668.80,525.85H675.10M668.80,439.30H675.10M672.00,768.19H675.10M672.00,750.88H675.10M672.00,733.57H675.10M672.00,716.26H675.10M672.00,681.64H675.10M672.00,664.33H675.10M672.00,647.02H675.10M672.00,629.71H675.10M672.00,595.09H675.10M672.00,577.78H675.10M672.00,560.47H675.10M672.00,543.16H675.10M672.00,508.54H675.10M672.00,491.23H675.10M672.00,473.92H675.10M672.00,456.61H675.10M675.10,785.50V791.90M750.93,785.50V791.90M826.76,785.50V791.90M902.59,785.50V791.90M978.42,785.50V791.90M1054.25,785.50V791.90M1130.08,785.50V791.90" stroke="#000" stroke-width="1.9" stroke-linecap="round" fill="none"/>
<g transform="translate(663.40,795.80) scale(0.93,1)"><text x="0" y="0" text-anchor="end" font-size="28.2" font-family="Latin Modern Roman, 'LM Roman 10', 'Liberation Serif', serif" >0</text></g>
<g transform="translate(663.40,709.25) scale(0.93,1)"><text x="0" y="0" text-anchor="end" font-size="28.2" font-family="Latin Modern Roman, 'LM Roman 10', 'Liberation Serif', serif" >0.1</text></g>
<g transform="translate(663.40,622.70) scale(0.93,1)"><text x="0" y="0" text-anchor="end" font-size="28.2" font-family="Latin Modern Roman, 'LM Roman 10', 'Liberation Serif', serif" >0.2</text></g>
<g transform="translate(663.40,536.15) scale(0.93,1)"><text x="0" y="0" text-anchor="end" font-size="28.2" font-family="Latin Modern Roman, 'LM Roman 10', 'Liberation Serif', serif" >0.3</text></g>
<g transform="translate(663.40,449.60) scale(0.93,1)"><text x="0" y="0" text-anchor="end" font-size="28.2" font-family="Latin Modern Roman, 'LM Roman 10', 'Liberation Serif', serif" >0.4</text></g>
<g transform="translate(675.10,818.20) scale(0.93,1)"><text x="0" y="0" text-anchor="middle" font-size="28.2" font-family="Latin Modern Roman, 'LM Roman 10', 'Liberation Serif', serif" >0</text></g>
<g transform="translate(750.93,818.20) scale(0.93,1)"><text x="0" y="0" text-anchor="middle" font-size="28.2" font-family="Latin Modern Roman, 'LM Roman 10', 'Liberation Serif', serif" >1</text></g>
<g transform="translate(826.76,818.20) scale(0.93,1)"><text x="0" y="0" text-anchor="middle" font-size="28.2" font-family="Latin Modern Roman, 'LM Roman 10', 'Liberation Serif', serif" >2</text></g>
<g transform="translate(902.59,818.20) scale(0.93,1)"><text x="0" y="0" text-anchor="middle" font-size="28.2" font-family="Latin Modern Roman, 'LM Roman 10', 'Liberation Serif', serif" >3</text></g>
<g transform="translate(978.42,818.20) scale(0.93,1)"><text x="0" y="0" text-anchor="middle" font-size="28.2" font-family="Latin Modern Roman, 'LM Roman 10', 'Liberation Serif', serif" >4</text></g>
<g transform="translate(1054.25,818.20) scale(0.93,1)"><text x="0" y="0" text-anchor="middle" font-size="28.2" font-family="Latin Modern Roman, 'LM Roman 10', 'Liberation Serif', serif" >5</text></g>
<g transform="translate(1130.08,818.20) scale(0.93,1)"><text x="0" y="0" text-anchor="middle" font-size="28.2" font-family="Latin Modern Roman, 'LM Roman 10', 'Liberation Serif', serif" >6</text></g>
<g clip-path="url(#clipf)">
<path transform="scale(1.4,1)" fill="none" stroke="#00f" stroke-width="1.55" stroke-linejoin="round" d="M882.4 785.7l.7 0 .7 0 .7 0 .7 0 .7 0 .7 0 .8 0 .7 0 .7 0 .7 0 .7 0 .7 0 .7 0 .8 0 .7 0 .7 0 .7 0 .7 0 .7 0 .7 0 .8 0 .7 0 .7 0 .7 0 .7 0 .7 0 .7 0 .8 0 .7 0 .7 0 .7 0 .7 0 .7 0 .7 0 .8 0 .7 0 .7 0 .7 0 .7 0 .7 0 .7 0 .8 0 .7 0 .7 0 .7 0 .7 0 .7 0 .7 0 .8 0 .7 0 .7 0 .7 0 .7 0 .7 0 .7 0 .8 0 .7 0 .7 0 .7 0 .7 0 .7 0 .7 0 .8 0 .7 0 .7 0 .7 0 .7 0 .7 0 .7 0 .8 0 .7 0 .7 0 .7 0 .7 0 .7 0 .7 0 .8 0 .7 0 .7 0 .7 0 .7 0 .7 0 .7 0 .8 0 .7 0 .7 0 .7 0 .7 0 .7 0 .7 0 .8 0 .7 0 .7 0 .7 0 .7 0 .7 0 .7 0 .8 0 .7 0 .7 0 .7 0 .7 0 .7 0 .7 0 .8 0 .7 0 .7 0 .7 0 .7 0 .7 0 .7 0 .8 0 .7 0 .7 0 .7 0 .7 0 .7 0 .7 0 .8 0 .7 0 .7 0 .7 0 .7 0 .7 0 .7 0 .8 0 .7 0 .7 0 .7 0 .7 0 .7 0 .7 0 .8 0 .7 0 .7 0 .7 0 .7 0 .7 0 .7 0 .8 0 .7 0 .7 0 .7 0 .7 0 .7 0 .7 0 .8 0 .7 0 .7 0 .7 0 .7 0 .7 0 .7 0 .8 0 .7 0 .7 0 .7 0 .7 0 .7 0 .7 0 .8 0 .7 0 .7 0 .7 0 .7 0 .7 0 .7 0 .8 0 .7 0 .7 0 .7 0 .7 0 .7 0 .7 0 .8 0 .7 0 .7 0 .7 0 .7 0 .7 0 .7 0 .8 0 .7 0 .7 0 .7 0 .7 0 .7 0 .7 0 .8 0 .7 0 .7 0 .7 0 .7 0 .7 0 .7 0 .8 0 .7 0 .7 0 .7 0 .7 0 .7 0 .7 0 .8 0 .7 0 .7 0 .7 0 .7 0 .7 0 .7 0 .8 0 .7 0 .7 0 .7 0 .7 0 .7 0 .7 0 .8 0 .7 0 .7 0 .7 0 .7 0 .7 0 .7 0 .8 0 .7 0 .7 0 .7 0 .7 0 .7 0 .7 0 .8 0 .7 0 .7 0 .7 0 .7 0 .7 0 .7 0 .8 0 .7 0 .7 0 .7 0 .7 0 .7 0 .7 0 .8 0 .7 0 .7-.1.7 0 .7-.2.7-.2.7-.5.8-.9.7-1.7.7-2.8.7-4.6.7-7.4.7-11.5.7-16.9.8-24 .7-32.1.7-40.8.7-48.2.7-51.7.7-48.1.7-31.6.8 17 .7 44 .7 51.4.7 50.1.7 43.8.7 35.4.7 26.8.8 19.4.7 13.3.7 8.8.7 5.5.7 3.4.7 2 .7 1.1.8.6.7.4.7.1.7.1.7.1.7 0 .7 0 .8 0 .7 0 .7 0 .7 0 .7 0 .7 0 .7 0 .8 0 .7 0 .7 0 .7 0 .7 0 .7 0 .7 0 .8 0 .7 0 .7 0 .7 0 .7 0 .7 0 .7 0 .8 0 .7 0 .7 0 .7 0 .7 0 .7 0 .7 0 .8 0 .7 0 .7 0 .7 0 .7 0 .7 0 .7 0 .8 0 .7 0 .7 0 .7 0 .7 0 .7 0 .7 0 .8 0 .7 0 .7 0 .7 0 .7 0 .7 0 .7 0 .8 0 .7 0 .7 0 .7 0 .7 0 .7 0 .7 0 .8 0 .7 0 .7 0 .7 0 .7 0 .7 0 .7 0 .8 0 .7 0 .7 0 .7 0 .7 0 .7 0 .7 0 .8 0 .7 0 .7 0 .7 0 .7 0 .7 0 .7 0 .8 0 .7 0 .7 0 .7 0 .7 0 .7 0 .7 0 .8 0 .7 0 .7 0 .7 0 .7 0 .7 0 .7 0 .8 0 .7 0 .7 0 .7 0 .7 0 .7 0 .7 0 .8 0 .7 0 .7 0 .7 0 .7 0 .7 0 .7 0 .8 0 .7 0 .7 0 .7 0 .7 0 .7 0 .7 0 .8 0 .7 0 .7 0 .7 0 .7 0 .7 0 .7 0 .8 0 .7 0 .7 0 .7 0 .7 0 .7 0 .7 0 .8 0 .7 0 .7 0 .7 0 .7 0 .7 0 .7 0 .8 0 .7 0 .7 0 .7 0 .7 0 .7 0 .7 0 .8 0 .7 0 .7 0 .7 0 .7 0 .7 0 .7 0 .8 0 .7 0 .7 0 .7 0 .7 0 .7 0 .7 0 .8 0 .7 0 .7 0 .7 0 .7 0 .7 0 .7 0 .8 0 .7 0 .7 0 .7 0 .7 0 .7 0 .7 0 .8 0 .7 0 .7 0 .7 0 .7 0 .7 0 .7 0 .8 0 .7 0 .7 0 .7 0 .7 0 .7 0 .7 0 .8 0"/>
</g>
<rect x="1234.80" y="431.20" width="470.10" height="354.50" fill="none" stroke="#000" stroke-width="1.9" stroke-linejoin="round"/>
<path d="M1228.50,785.70H1234.80M1228.50,624.30H1234.80M1228.50,462.90H1234.80M1231.70,705.00H1234.80M1231.70,543.60H1234.80M1234.80,785.70V792.10M1310.58,785.70V792.10M1386.36,785.70V792.10M1462.14,785.70V792.10M1537.92,785.70V792.10M1613.70,785.70V792.10M1689.48,785.70V792.10" stroke="#000" stroke-width="1.9" stroke-linecap="round" fill="none"/>
<g transform="translate(1223.10,796.00) scale(0.93,1)"><text x="0" y="0" text-anchor="end" font-size="28.2" font-family="Latin Modern Roman, 'LM Roman 10', 'Liberation Serif', serif" >0</text></g>
<g transform="translate(1223.10,634.60) scale(0.93,1)"><text x="0" y="0" text-anchor="end" font-size="28.2" font-family="Latin Modern Roman, 'LM Roman 10', 'Liberation Serif', serif" >0.5</text></g>
<g transform="translate(1223.10,473.20) scale(0.93,1)"><text x="0" y="0" text-anchor="end" font-size="28.2" font-family="Latin Modern Roman, 'LM Roman 10', 'Liberation Serif', serif" >1</text></g>
<g transform="translate(1234.80,818.40) scale(0.93,1)"><text x="0" y="0" text-anchor="middle" font-size="28.2" font-family="Latin Modern Roman, 'LM Roman 10', 'Liberation Serif', serif" >0</text></g>
<g transform="translate(1310.58,818.40) scale(0.93,1)"><text x="0" y="0" text-anchor="middle" font-size="28.2" font-family="Latin Modern Roman, 'LM Roman 10', 'Liberation Serif', serif" >1</text></g>
<g transform="translate(1386.36,818.40) scale(0.93,1)"><text x="0" y="0" text-anchor="middle" font-size="28.2" font-family="Latin Modern Roman, 'LM Roman 10', 'Liberation Serif', serif" >2</text></g>
<g transform="translate(1462.14,818.40) scale(0.93,1)"><text x="0" y="0" text-anchor="middle" font-size="28.2" font-family="Latin Modern Roman, 'LM Roman 10', 'Liberation Serif', serif" >3</text></g>
<g transform="translate(1537.92,818.40) scale(0.93,1)"><text x="0" y="0" text-anchor="middle" font-size="28.2" font-family="Latin Modern Roman, 'LM Roman 10', 'Liberation Serif', serif" >4</text></g>
<g transform="translate(1613.70,818.40) scale(0.93,1)"><text x="0" y="0" text-anchor="middle" font-size="28.2" font-family="Latin Modern Roman, 'LM Roman 10', 'Liberation Serif', serif" >5</text></g>
<g transform="translate(1689.48,818.40) scale(0.93,1)"><text x="0" y="0" text-anchor="middle" font-size="28.2" font-family="Latin Modern Roman, 'LM Roman 10', 'Liberation Serif', serif" >6</text></g>
<text x="122.0" y="81.8" font-size="64" textLength="85.98" lengthAdjust="spacingAndGlyphs" font-family="'Noto Serif', 'DejaVu Serif', 'Liberation Serif', serif"><tspan font-weight="300" font-size="72">(</tspan><tspan dx="1.2" dy="-2" font-size="66.5" font-weight="500">a</tspan><tspan dx="1.2" dy="2" font-weight="300" font-size="72">)</tspan></text>
<text x="688.9" y="80.4" font-size="64" textLength="90.48" lengthAdjust="spacingAndGlyphs" font-family="'Noto Serif', 'DejaVu Serif', 'Liberation Serif', serif"><tspan font-weight="300" font-size="72">(</tspan><tspan dx="1.8" dy="-2" font-size="66.5" font-weight="500">b</tspan><tspan dx="1.8" dy="2" font-weight="300" font-size="72">)</tspan></text>
<text x="1232.9" y="81.8" font-size="64" textLength="82.67" lengthAdjust="spacingAndGlyphs" font-family="'Noto Serif', 'DejaVu Serif', 'Liberation Serif', serif"><tspan font-weight="300" font-size="72">(</tspan><tspan dx="1.9" dy="-2" font-size="66.5" font-weight="500">c</tspan><tspan dx="1.9" dy="2" font-weight="300" font-size="72">)</tspan></text>
<text x="114.3" y="510.0" font-size="64" textLength="91.48" lengthAdjust="spacingAndGlyphs" font-family="'Noto Serif', 'DejaVu Serif', 'Liberation Serif', serif"><tspan font-weight="300" font-size="72">(</tspan><tspan dx="2.3" dy="-2" font-size="66.5" font-weight="500">d</tspan><tspan dx="2.3" dy="2" font-weight="300" font-size="72">)</tspan></text>
<text x="696.2" y="507.2" font-size="64" textLength="86.13" lengthAdjust="spacingAndGlyphs" font-family="'Noto Serif', 'DejaVu Serif', 'Liberation Serif', serif"><tspan font-weight="300" font-size="72">(</tspan><tspan dx="2.2" dy="-2" font-size="66.5" font-weight="500">e</tspan><tspan dx="2.2" dy="2" font-weight="300" font-size="72">)</tspan></text>
<text x="1253.0" y="512.7" font-size="64" textLength="72.86" lengthAdjust="spacingAndGlyphs" font-family="'Noto Serif', 'DejaVu Serif', 'Liberation Serif', serif"><tspan font-weight="300" font-size="72">(</tspan><tspan dx="1.1" dy="-2" font-size="66.5" font-weight="500">f</tspan><tspan dx="1.1" dy="2" font-weight="300" font-size="72">)</tspan></text>
<g transform="translate(36.9,339.6) rotate(-91)"><text x="0" y="0" font-size="45" textLength="327.4" lengthAdjust="spacingAndGlyphs" font-family="'Noto Serif', 'DejaVu Serif', 'Liberation Serif', serif">Stria correlation</text></g>
<g transform="translate(36.9,773.9) rotate(-91)"><text x="0" y="0" font-size="45" textLength="327.4" lengthAdjust="spacingAndGlyphs" font-family="'Noto Serif', 'DejaVu Serif', 'Liberation Serif', serif">Stria correlation</text></g>
<text x="127.7" y="860.7" font-size="45" textLength="437.1" lengthAdjust="spacingAndGlyphs" font-family="'Noto Serif', 'DejaVu Serif', 'Liberation Serif', serif">Lateral position (mm)</text>
<text x="700.9" y="860.7" font-size="45" textLength="437.1" lengthAdjust="spacingAndGlyphs" font-family="'Noto Serif', 'DejaVu Serif', 'Liberation Serif', serif">Lateral position (mm)</text>
<text x="1260.3" y="860.7" font-size="45" textLength="437.1" lengthAdjust="spacingAndGlyphs" font-family="'Noto Serif', 'DejaVu Serif', 'Liberation Serif', serif">Lateral position (mm)</text>
</svg></body></html>
